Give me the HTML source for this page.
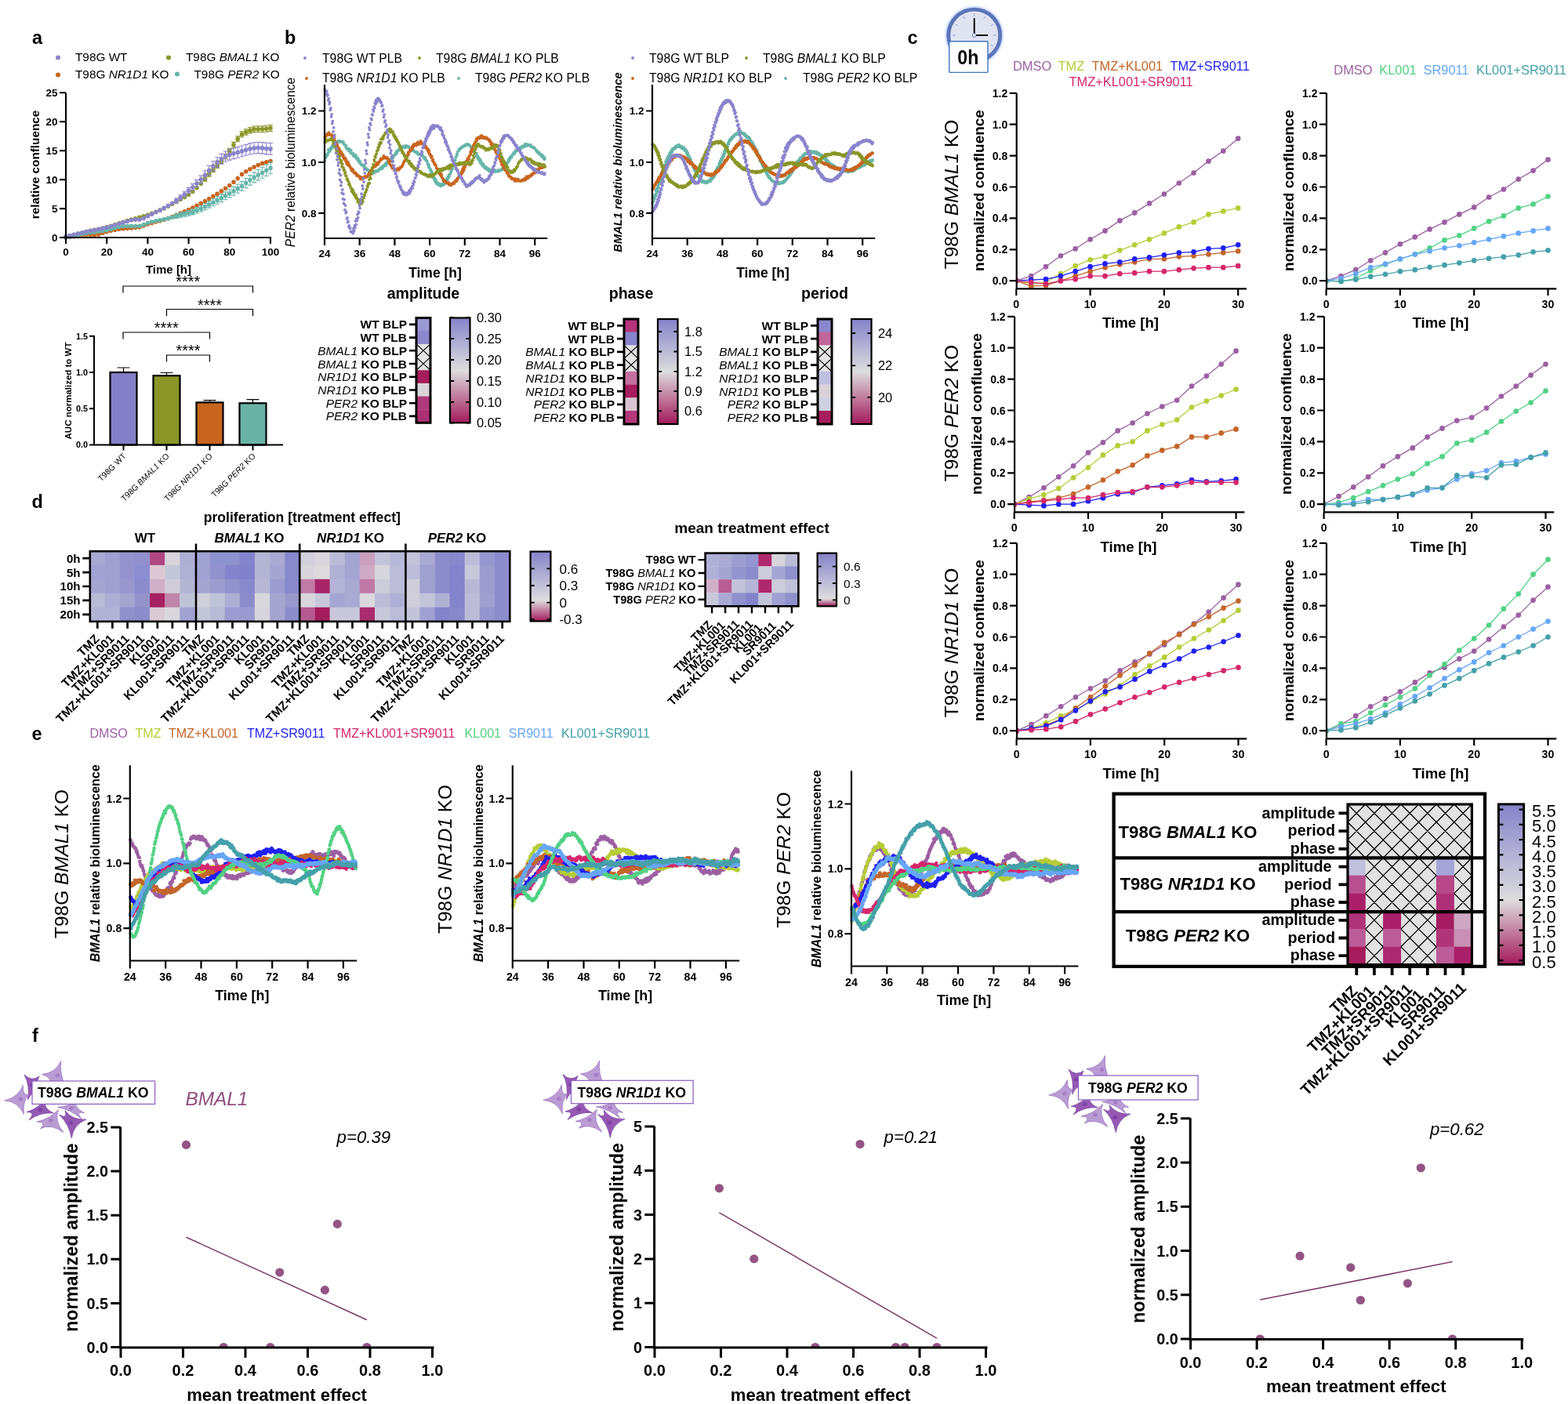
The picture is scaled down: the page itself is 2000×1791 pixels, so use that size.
<!DOCTYPE html>
<html lang="en"><head><meta charset="utf-8"><title>Figure</title>
<style>html,body{margin:0;padding:0;background:#fff}svg{display:block}text{font-family:"Liberation Sans",Arial,Helvetica,sans-serif;white-space:pre}.b{font-weight:700}.i{font-style:italic}</style></head>
<body>
<svg xmlns="http://www.w3.org/2000/svg" width="2000" height="1791" viewBox="0 0 2000 1791">
<defs><linearGradient id="g1" x1="0" y1="0" x2="0" y2="1"><stop offset="0" stop-color="#8682ca"/><stop offset="0.5" stop-color="#dddddd"/><stop offset="1" stop-color="#a31a5b"/></linearGradient><filter id="blur" x="-20%" y="-20%" width="140%" height="140%"><feGaussianBlur stdDeviation="1.6"/></filter><linearGradient id="g2" x1="0" y1="0" x2="0" y2="1"><stop offset="0" stop-color="#8682ca"/><stop offset="0.7" stop-color="#dddddd"/><stop offset="1" stop-color="#a31a5b"/></linearGradient><linearGradient id="g3" x1="0" y1="0" x2="0" y2="1"><stop offset="0" stop-color="#8682ca"/><stop offset="0.86" stop-color="#dddddd"/><stop offset="1" stop-color="#a31a5b"/></linearGradient><linearGradient id="g4" x1="0" y1="0" x2="0" y2="1"><stop offset="0" stop-color="#8682ca"/><stop offset="0.6" stop-color="#dddddd"/><stop offset="1" stop-color="#a31a5b"/></linearGradient></defs>
<rect width="2000" height="1791" fill="#fff"/>
<!-- panel a -->
<text x="41" y="55.5" class="b" font-size="23.5">a</text>
<circle cx="74" cy="73.5" r="3" fill="#8a84cc"/>
<text x="96" y="78.3" font-size="15.35">T98G WT</text>
<circle cx="74" cy="95.5" r="3" fill="#c8651f"/>
<text x="96" y="100" font-size="15.35"><tspan>T98G </tspan><tspan class="i">NR1D1</tspan><tspan> KO</tspan></text>
<circle cx="215" cy="73.5" r="3" fill="#8a9627"/>
<text x="237" y="78.3" font-size="15.35"><tspan>T98G </tspan><tspan class="i">BMAL1</tspan><tspan> KO</tspan></text>
<circle cx="226" cy="94.5" r="3" fill="#66b5a9"/>
<text x="247.5" y="100" font-size="15.35"><tspan>T98G </tspan><tspan class="i">PER2</tspan><tspan> KO</tspan></text>
<path d="M261.5 225.7V231.1M258.5 225.7h6M258.5 231.1h6M266.7 219.7V225.2M263.7 219.7h6M263.7 225.2h6M271.9 214V219.8M268.9 214h6M268.9 219.8h6M277.1 208.4V214.4M274.1 208.4h6M274.1 214.4h6M282.4 202.3V208.6M279.4 202.3h6M279.4 208.6h6M287.6 196.3V202.8M284.6 196.3h6M284.6 202.8h6M292.8 189.6V196.2M289.8 189.6h6M289.8 196.2h6M298 181.4V188.2M295 181.4h6M295 188.2h6M303.2 173.9V180.8M300.2 173.9h6M300.2 180.8h6M308.5 167.9V175M305.5 167.9h6M305.5 175h6M313.7 164.9V172.1M310.7 164.9h6M310.7 172.1h6M318.9 162.5V169.9M315.9 162.5h6M315.9 169.9h6M324.1 161V168.6M321.1 161h6M321.1 168.6h6M329.3 160.9V168.5M326.3 160.9h6M326.3 168.5h6M334.6 160.9V168.7M331.6 160.9h6M331.6 168.7h6M339.8 160.3V168.3M336.8 160.3h6M336.8 168.3h6M345 159.3V167.4M342 159.3h6M342 167.4h6" fill="none" stroke="#8a9627" stroke-width="1.1"/>
<path d="M84 302.3h0M89.2 300.9h0M94.4 299.5h0M99.7 298.1h0M104.9 296.8h0M110.1 295.6h0M115.3 294.4h0M120.5 293.3h0M125.8 292.2h0M131 291h0M136.2 289.7h0M141.4 288.2h0M146.6 286.6h0M151.9 284.9h0M157.1 283.2h0M162.3 281.6h0M167.5 280.1h0M172.7 278.7h0M178 277.3h0M183.2 275.8h0M188.4 274.2h0M193.6 272.4h0M198.8 270.3h0M204.1 268.1h0M209.3 265.7h0M214.5 263.1h0M219.7 260.2h0M224.9 257.2h0M230.2 254.2h0M235.4 251.4h0M240.6 248.3h0M245.8 244.3h0M251 239.6h0M256.3 234.3h0M261.5 228.4h0M266.7 222.4h0M271.9 216.9h0M277.1 211.4h0M282.4 205.5h0M287.6 199.5h0M292.8 192.9h0M298 184.8h0M303.2 177.4h0M308.5 171.5h0M313.7 168.5h0M318.9 166.2h0M324.1 164.8h0M329.3 164.7h0M334.6 164.8h0M339.8 164.3h0M345 163.3h0" stroke="#8a9627" stroke-width="5.6" stroke-linecap="round" fill="none"/>
<path d="M84 303h0M89.2 302.3h0M94.4 301.6h0M99.7 300.8h0M104.9 299.8h0M110.1 299.3h0M115.3 299.5h0M120.5 299.7h0M125.8 298.9h0M131 297.3h0M136.2 295.6h0M141.4 294.3h0M146.6 293.2h0M151.9 292.3h0M157.1 291.7h0M162.3 291.2h0M167.5 290.9h0M172.7 290.5h0M178 289.7h0M183.2 288h0M188.4 286h0M193.6 284.4h0M198.8 283h0M204.1 281.7h0M209.3 280.3h0M214.5 278.6h0M219.7 276.6h0M224.9 274.3h0M230.2 272h0M235.4 269.8h0M240.6 267.5h0M245.8 265h0M251 262.3h0M256.3 259.4h0M261.5 256.5h0M266.7 253.5h0M271.9 250.4h0M277.1 247.2h0M282.4 243.9h0M287.6 240.3h0M292.8 236.5h0M298 232.3h0M303.2 227.6h0M308.5 222.4h0M313.7 218.7h0M318.9 215.8h0M324.1 213.1h0M329.3 210.6h0M334.6 208.4h0M339.8 206.7h0M345 205.5h0" stroke="#c8651f" stroke-width="5.6" stroke-linecap="round" fill="none"/>
<path d="M224.9 272.8V278.4M221.9 272.8h6M221.9 278.4h6M230.2 271.2V277.1M227.2 271.2h6M227.2 277.1h6M235.4 270V276.2M232.4 270h6M232.4 276.2h6M240.6 268.6V275.3M237.6 268.6h6M237.6 275.3h6M245.8 266.8V273.9M242.8 266.8h6M242.8 273.9h6M251 264.6V272M248 264.6h6M248 272h6M256.3 262.2V269.9M253.3 262.2h6M253.3 269.9h6M261.5 259.5V267.6M258.5 259.5h6M258.5 267.6h6M266.7 256.6V265.1M263.7 256.6h6M263.7 265.1h6M271.9 253.8V262.7M268.9 253.8h6M268.9 262.7h6M277.1 250.9V260.2M274.1 250.9h6M274.1 260.2h6M282.4 247.9V257.6M279.4 247.9h6M279.4 257.6h6M287.6 244.9V254.8M284.6 244.9h6M284.6 254.8h6M292.8 241.7V252M289.8 241.7h6M289.8 252h6M298 238.4V249.2M295 238.4h6M295 249.2h6M303.2 235V246.2M300.2 235h6M300.2 246.2h6M308.5 231.4V243.1M305.5 231.4h6M305.5 243.1h6M313.7 227.5V239.6M310.7 227.5h6M310.7 239.6h6M318.9 223.6V236.1M315.9 223.6h6M315.9 236.1h6M324.1 219.9V232.9M321.1 219.9h6M321.1 232.9h6M329.3 216.5V229.9M326.3 216.5h6M326.3 229.9h6M334.6 213.3V227.2M331.6 213.3h6M331.6 227.2h6M339.8 210.1V224.5M336.8 210.1h6M336.8 224.5h6M345 206.9V221.7M342 206.9h6M342 221.7h6" fill="none" stroke="#66b5a9" stroke-width="1.1"/>
<path d="M84 303h0M89.2 301.8h0M94.4 300.6h0M99.7 299.4h0M104.9 298.4h0M110.1 297.5h0M115.3 296.6h0M120.5 295.9h0M125.8 295.2h0M131 294.4h0M136.2 293.4h0M141.4 292.2h0M146.6 290.8h0M151.9 289.5h0M157.1 288.6h0M162.3 288.2h0M167.5 288.4h0M172.7 288.5h0M178 288.2h0M183.2 286.6h0M188.4 284.5h0M193.6 283h0M198.8 281.8h0M204.1 280.8h0M209.3 279.8h0M214.5 278.6h0M219.7 277.2h0M224.9 275.6h0M230.2 274.2h0M235.4 273.1h0M240.6 272h0M245.8 270.4h0M251 268.3h0M256.3 266.1h0M261.5 263.5h0M266.7 260.9h0M271.9 258.2h0M277.1 255.5h0M282.4 252.7h0M287.6 249.8h0M292.8 246.8h0M298 243.8h0M303.2 240.6h0M308.5 237.2h0M313.7 233.5h0M318.9 229.8h0M324.1 226.4h0M329.3 223.2h0M334.6 220.2h0M339.8 217.3h0M345 214.3h0" stroke="#66b5a9" stroke-width="5.6" stroke-linecap="round" fill="none"/>
<path d="M224.9 253V258.6M221.9 253h6M221.9 258.6h6M230.2 248.9V255.1M227.2 248.9h6M227.2 255.1h6M235.4 244.3V251.1M232.4 244.3h6M232.4 251.1h6M240.6 239.4V246.8M237.6 239.4h6M237.6 246.8h6M245.8 234.6V242.8M242.8 234.6h6M242.8 242.8h6M251 229.6V238.7M248 229.6h6M248 238.7h6M256.3 224.1V234.1M253.3 224.1h6M253.3 234.1h6M261.5 217.8V228.7M258.5 217.8h6M258.5 228.7h6M266.7 211.4V223.2M263.7 211.4h6M263.7 223.2h6M271.9 205.7V217.9M268.9 205.7h6M268.9 217.9h6M277.1 200.7V213.1M274.1 200.7h6M274.1 213.1h6M282.4 196.4V209.1M279.4 196.4h6M279.4 209.1h6M287.6 193V206M284.6 193h6M284.6 206h6M292.8 190.8V204.1M289.8 190.8h6M289.8 204.1h6M298 189.1V202.6M295 189.1h6M295 202.6h6M303.2 187.6V201.2M300.2 187.6h6M300.2 201.2h6M308.5 186V199.8M305.5 186h6M305.5 199.8h6M313.7 184.4V198.3M310.7 184.4h6M310.7 198.3h6M318.9 182.9V197M315.9 182.9h6M315.9 197h6M324.1 181.8V196M321.1 181.8h6M321.1 196h6M329.3 181.3V195.6M326.3 181.3h6M326.3 195.6h6M334.6 181.6V196.1M331.6 181.6h6M331.6 196.1h6M339.8 182.2V196.9M336.8 182.2h6M336.8 196.9h6M345 182.5V197.3M342 182.5h6M342 197.3h6" fill="none" stroke="#8a84cc" stroke-width="1.1"/>
<path d="M84 301.9h0M89.2 300.6h0M94.4 299.3h0M99.7 298h0M104.9 296.8h0M110.1 295.6h0M115.3 294.5h0M120.5 293.5h0M125.8 292.4h0M131 291.3h0M136.2 290.1h0M141.4 288.7h0M146.6 287.1h0M151.9 285.5h0M157.1 283.9h0M162.3 282.3h0M167.5 280.8h0M172.7 280.1h0M178 280.1h0M183.2 278.4h0M188.4 275.7h0M193.6 273.2h0M198.8 270.8h0M204.1 268.3h0M209.3 265.4h0M214.5 262.4h0M219.7 259.2h0M224.9 255.8h0M230.2 252h0M235.4 247.7h0M240.6 243.1h0M245.8 238.7h0M251 234.1h0M256.3 229.1h0M261.5 223.3h0M266.7 217.3h0M271.9 211.8h0M277.1 206.9h0M282.4 202.8h0M287.6 199.5h0M292.8 197.4h0M298 195.8h0M303.2 194.4h0M308.5 192.9h0M313.7 191.3h0M318.9 189.9h0M324.1 188.9h0M329.3 188.5h0M334.6 188.9h0M339.8 189.6h0M345 189.9h0" stroke="#8a84cc" stroke-width="5.6" stroke-linecap="round" fill="none"/>
<path d="M84 118.5V304.1M83 303H346M84 303v8M136.2 303v8M188.4 303v8M240.6 303v8M292.8 303v8M345 303v8M84 303h-8M84 266.1h-8M84 229.1h-8M84 192.2h-8M84 155.2h-8M84 118.2h-8" fill="none" stroke="#000" stroke-width="2.1"/>
<text x="84" y="326" text-anchor="middle" class="b" font-size="13.5">0</text>
<text x="136.2" y="326" text-anchor="middle" class="b" font-size="13.5">20</text>
<text x="188.4" y="326" text-anchor="middle" class="b" font-size="13.5">40</text>
<text x="240.6" y="326" text-anchor="middle" class="b" font-size="13.5">60</text>
<text x="292.8" y="326" text-anchor="middle" class="b" font-size="13.5">80</text>
<text x="345" y="326" text-anchor="middle" class="b" font-size="13.5">100</text>
<text x="73.5" y="307.8" text-anchor="end" class="b" font-size="13.5">0</text>
<text x="73.5" y="270.9" text-anchor="end" class="b" font-size="13.5">5</text>
<text x="73.5" y="233.9" text-anchor="end" class="b" font-size="13.5">10</text>
<text x="73.5" y="197" text-anchor="end" class="b" font-size="13.5">15</text>
<text x="73.5" y="160" text-anchor="end" class="b" font-size="13.5">20</text>
<text x="73.5" y="123.1" text-anchor="end" class="b" font-size="13.5">25</text>
<text x="215" y="348.5" text-anchor="middle" class="b" font-size="15">Time [h]</text>
<text transform="translate(50 210) rotate(-90)" text-anchor="middle" class="b" font-size="15.3">relative confluence</text>
<path d="M157.5 475V469M149.5 469h16" fill="none" stroke="#000" stroke-width="1.2"/>
<rect x="140.5" y="475" width="34" height="92.5" fill="#8480c8" stroke="#000" stroke-width="2.2"/>
<path d="M212.5 479.2V475.5M204.5 475.5h16" fill="none" stroke="#000" stroke-width="1.2"/>
<rect x="195.5" y="479.2" width="34" height="88.3" fill="#8a9627" stroke="#000" stroke-width="2.2"/>
<path d="M267.5 513.4V510.6M259.5 510.6h16" fill="none" stroke="#000" stroke-width="1.2"/>
<rect x="250.5" y="513.4" width="34" height="54.1" fill="#c8651f" stroke="#000" stroke-width="2.2"/>
<path d="M322.5 514.3V509.7M314.5 509.7h16" fill="none" stroke="#000" stroke-width="1.2"/>
<rect x="305.5" y="514.3" width="34" height="53.2" fill="#69b3a6" stroke="#000" stroke-width="2.2"/>
<path d="M120 428V568.5M119 567.5H361M121 567.5h-7M121 521.2h-7M121 475h-7M121 428.8h-7M157.5 567.5v7M212.5 567.5v7M267.5 567.5v7M322.5 567.5v7" fill="none" stroke="#000" stroke-width="2"/>
<text x="112" y="571.4" text-anchor="end" class="b" font-size="10.8">0.0</text>
<text x="112" y="525.1" text-anchor="end" class="b" font-size="10.8">0.5</text>
<text x="112" y="478.9" text-anchor="end" class="b" font-size="10.8">1.0</text>
<text x="112" y="432.6" text-anchor="end" class="b" font-size="10.8">1.5</text>
<text transform="translate(90.5 498.5) rotate(-90)" text-anchor="middle" class="b" font-size="11.5">AUC normalized to WT</text>
<text transform="translate(161.5 582.5) rotate(-45)" text-anchor="end" font-size="10.5">T98G WT</text>
<text transform="translate(216.5 582.5) rotate(-45)" text-anchor="end" font-size="10.5"><tspan>T98G </tspan><tspan class="i">BMAL1</tspan><tspan> KO</tspan></text>
<text transform="translate(271.5 582.5) rotate(-45)" text-anchor="end" font-size="10.5"><tspan>T98G </tspan><tspan class="i">NR1D1</tspan><tspan> KO</tspan></text>
<text transform="translate(326.5 582.5) rotate(-45)" text-anchor="end" font-size="10.5"><tspan>T98G </tspan><tspan class="i">PER2</tspan><tspan> KO</tspan></text>
<path d="M157 373.5V365H322.5V373.5" fill="none" stroke="#000" stroke-width="1.2"/>
<text x="239.8" y="366.2" text-anchor="middle" font-size="20">****</text>
<path d="M212.5 403V394.5H322.5V403" fill="none" stroke="#000" stroke-width="1.2"/>
<text x="267.5" y="395.7" text-anchor="middle" font-size="20">****</text>
<path d="M157 432.5V424H267.5V432.5" fill="none" stroke="#000" stroke-width="1.2"/>
<text x="212.2" y="425.2" text-anchor="middle" font-size="20">****</text>
<path d="M212.5 461.5V453H267.5V461.5" fill="none" stroke="#000" stroke-width="1.2"/>
<text x="240" y="454.2" text-anchor="middle" font-size="20">****</text>
<!-- panel b -->
<text x="363" y="56" class="b" font-size="23.5">b</text>
<path d="M414.4 204.9h0M415.6 201.3h0M416.9 199.1h0M418.1 197h0M419.4 194.1h0M420.6 193h0M421.9 191.1h0M423.1 187.9h0M424.3 188.5h0M425.6 186.9h0M426.8 184.3h0M428.1 183.8h0M429.3 183.3h0M430.5 181.9h0M431.8 180.9h0M433 180h0M434.3 181.1h0M435.5 180.7h0M436.8 180.9h0M438 180.9h0M439.2 184.3h0M440.5 184.9h0M441.7 186.2h0M443 189.7h0M444.2 189.6h0M445.4 189.9h0M446.7 191.6h0M447.9 191.7h0M449.2 195.3h0M450.4 195.8h0M451.7 196.9h0M452.9 199h0M454.1 198.5h0M455.4 201.7h0M456.6 201.6h0M457.9 204.4h0M459.1 205.8h0M460.3 209.1h0M461.6 210.6h0M462.8 210.2h0M464.1 212.8h0M465.3 213.3h0M466.6 214.6h0M467.8 215.2h0M469 216.3h0M470.3 217.5h0M471.5 220.2h0M472.8 221.5h0M474 220.6h0M475.2 219.7h0M476.5 220.8h0M477.7 219.3h0M479 218.8h0M480.2 218.4h0M481.5 217.7h0M482.7 217h0M483.9 215.7h0M485.2 215.7h0M486.4 214.7h0M487.7 215.1h0M488.9 213.2h0M490.1 211.3h0M491.4 211.1h0M492.6 211.1h0M493.9 208.5h0M495.1 207.5h0M496.4 206.2h0M497.6 205h0M498.8 203.8h0M500.1 201.6h0M501.3 201.6h0M502.6 198.6h0M503.8 197.5h0M505 197h0M506.3 195.2h0M507.5 192.7h0M508.8 191.8h0M510 190.9h0M511.3 188.9h0M512.5 186.9h0M513.7 188h0M515 187.8h0M516.2 187h0M517.5 185.8h0M518.7 186.2h0M519.9 186.4h0M521.2 187.1h0M522.4 188.8h0M523.7 189.9h0M524.9 190.7h0M526.2 191.6h0M527.4 192.6h0M528.6 193h0M529.9 194h0M531.1 193.7h0M532.4 194.4h0M533.6 197h0M534.8 196.7h0M536.1 196.3h0M537.3 196.8h0M538.6 197.5h0M539.8 199.5h0M541.1 200.4h0M542.3 200.9h0M543.5 204.2h0M544.8 205.6h0M546 209h0M547.3 210.8h0M548.5 214.8h0M549.7 216.6h0M551 219.7h0M552.2 222.9h0M553.5 225.8h0M554.7 228h0M556 228.8h0M557.2 232.1h0M558.4 233.5h0M559.7 234.5h0M560.9 234.6h0M562.2 237.4h0M563.4 236.6h0M564.6 236h0M565.9 235.9h0M567.1 234.5h0M568.4 232.9h0M569.6 231.4h0M570.9 229h0M572.1 227h0M573.3 224.4h0M574.6 221.2h0M575.8 218h0M577.1 215.4h0M578.3 211.9h0M579.5 208.7h0M580.8 204.3h0M582 199.7h0M583.3 197.2h0M584.5 193.1h0M585.8 190.1h0M587 190.1h0M588.2 188.1h0M589.5 188.1h0M590.7 187.1h0M592 186h0M593.2 184.8h0M594.4 184.2h0M595.7 184.3h0M596.9 184.4h0M598.2 185.3h0M599.4 185.8h0M600.7 188.2h0M601.9 187.9h0M603.1 190.3h0M604.4 192h0M605.6 193.9h0M606.9 195.8h0M608.1 195.3h0M609.3 198.9h0M610.6 201.1h0M611.8 203.2h0M613.1 204.2h0M614.3 207.1h0M615.6 210.3h0M616.8 209.3h0M618 212.2h0M619.3 213.7h0M620.5 213.4h0M621.8 215.4h0M623 215.2h0M624.2 215.8h0M625.5 216.7h0M626.7 217.5h0M628 218.1h0M629.2 218.9h0M630.5 217.4h0M631.7 218.3h0M632.9 218.7h0M634.2 218.3h0M635.4 216.8h0M636.7 217.9h0M637.9 217.3h0M639.1 217.2h0M640.4 216h0M641.6 216h0M642.9 213.9h0M644.1 211.3h0M645.4 210h0M646.6 210.1h0M647.8 206.9h0M649.1 205.8h0M650.3 203.3h0M651.6 201.2h0M652.8 200.6h0M654 197.2h0M655.3 194.7h0M656.5 196h0M657.8 191.8h0M659 192.7h0M660.3 191.8h0M661.5 190.4h0M662.7 188.2h0M664 189.3h0M665.2 187.1h0M666.5 186.5h0M667.7 186.5h0M668.9 186.7h0M670.2 186h0M671.4 186h0M672.7 185h0M673.9 185h0M675.2 184.7h0M676.4 186h0M677.6 187h0M678.9 187.3h0M680.1 188.5h0M681.4 188.7h0M682.6 189.8h0M683.8 191.8h0M685.1 192.4h0M686.3 194.1h0M687.6 194.5h0M688.8 197.1h0M690.1 196.7h0M691.3 198.1h0M692.5 198.6h0M693.8 200.5h0M695 202h0M415 199.9h0M416.3 197.7h0M417.5 196.2h0M418.7 190.9h0M420 190.9h0M421.2 189.5h0M422.5 187.8h0M423.7 185.8h0M425 183.9h0M426.2 182.9h0M427.4 183.7h0M428.7 182.9h0M429.9 181.5h0M431.2 179.8h0M432.4 180.3h0M433.6 179.9h0M434.9 180.6h0M436.1 180.8h0M437.4 181.9h0M438.6 183.7h0M439.9 184.9h0M441.1 188.1h0M442.3 190h0M443.6 189.9h0M444.8 192.4h0M446.1 192.8h0M447.3 195.2h0M448.5 195.8h0M449.8 196.8h0M451 199.1h0M452.3 199.4h0M453.5 200.9h0M454.8 202.1h0M456 203.9h0M457.2 205.2h0M458.5 207.6h0M459.7 208.4h0M461 210.3h0M462.2 210.9h0M463.4 210.9h0M464.7 211.5h0M465.9 214.1h0M467.2 216.1h0M468.4 217h0M469.7 217.2h0M470.9 219.3h0M472.1 220.5h0M473.4 218.3h0M474.6 220.1h0M475.9 219.1h0M477.1 219h0M478.3 219.8h0M479.6 217.7h0M480.8 218.1h0M482.1 218.5h0M483.3 217.1h0M484.6 216h0M485.8 213.9h0M487 213.5h0M488.3 211.6h0M489.5 212.3h0M490.8 209.9h0M492 208.3h0M493.2 207.1h0M494.5 205.9h0M495.7 204.7h0M497 203.3h0M498.2 203.7h0M499.5 200.5h0M500.7 199.1h0M501.9 198.2h0M503.2 197.7h0M504.4 195.7h0M505.7 193h0M506.9 192.4h0M508.1 191.1h0M509.4 190.2h0M510.6 189.3h0M511.9 187.9h0M513.1 187.3h0M514.4 187.3h0M515.6 186.3h0M516.8 188.5h0M518.1 187.7h0M519.3 186.7h0M520.6 187.4h0M521.8 187.8h0M523 188.8h0M524.3 190.6h0M525.5 190.3h0M526.8 190.7h0M528 193h0M529.3 193.4h0M530.5 194.4h0M531.7 195.5h0M533 195.7h0M534.2 197h0M535.5 196.3h0M536.7 198h0M537.9 198.4h0M539.2 199h0M540.4 201.3h0M541.7 203.1h0M542.9 203.2h0M544.2 205.8h0M545.4 209.4h0M546.6 212.9h0M547.9 214.6h0M549.1 218.1h0M550.4 220.3h0M551.6 226h0M552.8 227h0M554.1 230h0M555.3 232.1h0M556.6 233.8h0M557.8 235h0M559.1 235h0M560.3 236.2h0M561.5 235.8h0M562.8 236.7h0M564 234.8h0M565.3 233.8h0M566.5 233.3h0M567.7 232.2h0M569 229.6h0M570.2 227.1h0M571.5 225.4h0M572.7 223h0M574 221.9h0M575.2 218.3h0M576.4 215.4h0M577.7 211.1h0M578.9 207.2h0M580.2 204.7h0M581.4 201h0M582.6 196.6h0M583.9 193.4h0M585.1 192.3h0M586.4 190h0M587.6 189.4h0M588.9 187.7h0M590.1 186.5h0M591.3 186.7h0M592.6 185.6h0M593.8 185.9h0M595.1 183.9h0M596.3 184.4h0M597.5 184.1h0M598.8 185.2h0M600 186.6h0M601.3 189.5h0M602.5 189.6h0M603.8 193h0M605 194.8h0M606.2 195.6h0M607.5 199.3h0M608.7 200.5h0M610 203.2h0M611.2 204.6h0M612.4 207.5h0M613.7 208h0M614.9 210.7h0M616.2 211.9h0M617.4 213h0M618.7 214.4h0M619.9 215.2h0M621.1 215.8h0M622.4 216.9h0M623.6 218h0M624.9 216.8h0M626.1 218.4h0M627.3 218.4h0M628.6 217.6h0M629.8 218.5h0M631.1 216.9h0M632.3 219.2h0M633.6 218.3h0M634.8 218.1h0M636 218.7h0M637.3 217.4h0M638.5 217.3h0M639.8 215.9h0M641 214.8h0M642.2 212.8h0M643.5 211.7h0M644.7 210.8h0M646 208.5h0M647.2 207.2h0M648.5 203.9h0M649.7 202.1h0M650.9 200.2h0M652.2 199.4h0M653.4 197.7h0M654.7 196.6h0M655.9 195.5h0M657.1 193.6h0M658.4 192.5h0M659.6 192.7h0M660.9 190.5h0M662.1 190.4h0M663.4 190.7h0M664.6 189.2h0M665.8 188.3h0M667.1 186.3h0M668.3 187.3h0M669.6 184h0M670.8 184.2h0M672 183.9h0M673.3 185.7h0M674.5 185.1h0M675.8 184.8h0M677 184.8h0M678.3 187.1h0M679.5 187.9h0M680.7 188h0M682 189.1h0M683.2 190.7h0M684.5 193h0M685.7 194.2h0M686.9 195.4h0M688.2 196.8h0M689.4 196.8h0M690.7 199.5h0M691.9 200.3h0M693.2 201.7h0M694.4 203.3h0" stroke="#66b5a9" stroke-width="3.8" stroke-linecap="round" fill="none"/>
<path d="M414.4 175.5h0M415.6 174.6h0M416.9 171.2h0M418.1 170.4h0M419.4 169.1h0M420.6 172h0M421.9 171.8h0M423.1 172.8h0M424.3 172.9h0M425.6 174.7h0M426.8 176h0M428.1 181.2h0M429.3 182.3h0M430.5 185.4h0M431.8 188.4h0M433 190.2h0M434.3 193.1h0M435.5 194.1h0M436.8 196.4h0M438 198.2h0M439.2 201.2h0M440.5 201.6h0M441.7 204.1h0M443 206.5h0M444.2 207.1h0M445.4 210.2h0M446.7 212.7h0M447.9 214.8h0M449.2 215.5h0M450.4 216.7h0M451.7 219.8h0M452.9 219.9h0M454.1 221.2h0M455.4 222.7h0M456.6 223.6h0M457.9 224.6h0M459.1 226.7h0M460.3 226h0M461.6 226.4h0M462.8 226.7h0M464.1 226.1h0M465.3 226.6h0M466.6 226.2h0M467.8 225.3h0M469 224.3h0M470.3 223.3h0M471.5 222.8h0M472.8 220.9h0M474 216.5h0M475.2 217.8h0M476.5 213.5h0M477.7 212.1h0M479 212.2h0M480.2 209.6h0M481.5 210.1h0M482.7 208.8h0M483.9 206.2h0M485.2 203.7h0M486.4 203.5h0M487.7 202.8h0M488.9 200.7h0M490.1 200.9h0M491.4 200.5h0M492.6 201.1h0M493.9 200.9h0M495.1 203.1h0M496.4 204.9h0M497.6 205.5h0M498.8 210.8h0M500.1 210.9h0M501.3 212.9h0M502.6 215.3h0M503.8 215.9h0M505 216.5h0M506.3 216.3h0M507.5 214.8h0M508.8 216.7h0M510 215h0M511.3 213.4h0M512.5 212.6h0M513.7 210.1h0M515 206.6h0M516.2 205h0M517.5 203.3h0M518.7 201.3h0M519.9 198.9h0M521.2 196.8h0M522.4 193.3h0M523.7 192.7h0M524.9 190.2h0M526.2 190h0M527.4 187.1h0M528.6 184.6h0M529.9 184.8h0M531.1 185.7h0M532.4 184.1h0M533.6 182.7h0M534.8 184.1h0M536.1 182.3h0M537.3 182.1h0M538.6 183.9h0M539.8 184.2h0M541.1 184.9h0M542.3 185.7h0M543.5 186.9h0M544.8 189.5h0M546 189.8h0M547.3 192.5h0M548.5 196.4h0M549.7 200h0M551 199.6h0M552.2 203.4h0M553.5 207h0M554.7 208.8h0M556 211.1h0M557.2 214.7h0M558.4 215.6h0M559.7 218h0M560.9 220.1h0M562.2 221.4h0M563.4 223.2h0M564.6 227.4h0M565.9 229.6h0M567.1 230.1h0M568.4 231.3h0M569.6 233.1h0M570.9 233.4h0M572.1 232.9h0M573.3 234.3h0M574.6 235.6h0M575.8 235.1h0M577.1 233.7h0M578.3 233.1h0M579.5 234h0M580.8 231h0M582 231.4h0M583.3 229.9h0M584.5 227.1h0M585.8 225.5h0M587 224.2h0M588.2 222.7h0M589.5 220.7h0M590.7 219h0M592 216.4h0M593.2 213.3h0M594.4 210.1h0M595.7 206.9h0M596.9 204.8h0M598.2 202.6h0M599.4 197.8h0M600.7 196.6h0M601.9 193.4h0M603.1 190.2h0M604.4 185.8h0M605.6 183.5h0M606.9 181.1h0M608.1 179.4h0M609.3 175.6h0M610.6 175.5h0M611.8 175h0M613.1 173.7h0M614.3 173h0M615.6 174.5h0M616.8 176.4h0M618 174.9h0M619.3 175.3h0M620.5 175.5h0M621.8 176.9h0M623 177.8h0M624.2 178.2h0M625.5 180.5h0M626.7 182.4h0M628 182.9h0M629.2 186.1h0M630.5 189h0M631.7 191.2h0M632.9 192.9h0M634.2 196.4h0M635.4 197.9h0M636.7 199.6h0M637.9 201.2h0M639.1 204.9h0M640.4 207.6h0M641.6 209.9h0M642.9 212.4h0M644.1 215.8h0M645.4 217.7h0M646.6 220.7h0M647.8 220.7h0M649.1 223.3h0M650.3 225.7h0M651.6 225.6h0M652.8 228.3h0M654 227.4h0M655.3 228.2h0M656.5 230.8h0M657.8 228.3h0M659 230.8h0M660.3 229.3h0M661.5 229.7h0M662.7 230.6h0M664 230.6h0M665.2 230.9h0M666.5 230.2h0M667.7 228.8h0M668.9 227.8h0M670.2 227.7h0M671.4 225.2h0M672.7 226.3h0M673.9 225.1h0M675.2 225.6h0M676.4 225h0M677.6 222.4h0M678.9 223.4h0M680.1 221.5h0M681.4 220.6h0M682.6 220.7h0M683.8 219.7h0M685.1 218.7h0M686.3 217.1h0M687.6 216h0M688.8 214.3h0M690.1 214.2h0M691.3 214.2h0M692.5 212.8h0M693.8 212.3h0M695 212.9h0M415 174.2h0M416.3 172.7h0M417.5 172.4h0M418.7 171.9h0M420 171.7h0M421.2 171.5h0M422.5 171.6h0M423.7 174.6h0M425 175.5h0M426.2 178.9h0M427.4 180.1h0M428.7 184h0M429.9 187.6h0M431.2 190.3h0M432.4 192.3h0M433.6 194.8h0M434.9 197.1h0M436.1 197.5h0M437.4 199.9h0M438.6 202.6h0M439.9 203.8h0M441.1 206h0M442.3 209.1h0M443.6 210.5h0M444.8 210.2h0M446.1 212.6h0M447.3 214.7h0M448.5 217.7h0M449.8 216.7h0M451 219.8h0M452.3 220.9h0M453.5 221.5h0M454.8 223.9h0M456 224.3h0M457.2 224.5h0M458.5 226.1h0M459.7 228.4h0M461 227.2h0M462.2 228.6h0M463.4 227.2h0M464.7 225.6h0M465.9 224.9h0M467.2 226h0M468.4 225.4h0M469.7 222.5h0M470.9 220.8h0M472.1 219.1h0M473.4 217.3h0M474.6 215.7h0M475.9 213.8h0M477.1 212.5h0M478.3 210.8h0M479.6 209.5h0M480.8 207.6h0M482.1 207.4h0M483.3 206.8h0M484.6 205h0M485.8 202.5h0M487 202.3h0M488.3 201.8h0M489.5 198.9h0M490.8 201.7h0M492 201.9h0M493.2 201.7h0M494.5 202h0M495.7 206.3h0M497 208.9h0M498.2 210.8h0M499.5 212.9h0M500.7 214.9h0M501.9 214.9h0M503.2 216.8h0M504.4 217.4h0M505.7 216.7h0M506.9 215.4h0M508.1 217.1h0M509.4 215.4h0M510.6 213.2h0M511.9 212.9h0M513.1 211.9h0M514.4 208.8h0M515.6 206.5h0M516.8 204.2h0M518.1 200h0M519.3 198h0M520.6 194.5h0M521.8 193.6h0M523 190.8h0M524.3 190.4h0M525.5 187.3h0M526.8 185.1h0M528 183.8h0M529.3 185.3h0M530.5 184h0M531.7 182.6h0M533 181.5h0M534.2 182.2h0M535.5 181.5h0M536.7 180h0M537.9 182.1h0M539.2 183.7h0M540.4 185h0M541.7 186.7h0M542.9 188.7h0M544.2 189.5h0M545.4 191.9h0M546.6 194.3h0M547.9 197h0M549.1 197.9h0M550.4 201.3h0M551.6 204.8h0M552.8 206.4h0M554.1 209.5h0M555.3 210.5h0M556.6 214.2h0M557.8 217.1h0M559.1 219.3h0M560.3 221.4h0M561.5 222.8h0M562.8 224.8h0M564 227h0M565.3 230.1h0M566.5 231.3h0M567.7 231.8h0M569 233.1h0M570.2 233.5h0M571.5 233.5h0M572.7 235.7h0M574 235.8h0M575.2 236.4h0M576.4 235.1h0M577.7 234.7h0M578.9 233.8h0M580.2 231.5h0M581.4 231.2h0M582.6 228.5h0M583.9 227.4h0M585.1 224.9h0M586.4 222.7h0M587.6 221.3h0M588.9 218.5h0M590.1 215.5h0M591.3 213.1h0M592.6 210.8h0M593.8 208.9h0M595.1 205.3h0M596.3 202.5h0M597.5 200.8h0M598.8 199.1h0M600 194h0M601.3 191.4h0M602.5 189.1h0M603.8 185.4h0M605 183.4h0M606.2 180.8h0M607.5 177.1h0M608.7 177.2h0M610 175.4h0M611.2 176.7h0M612.4 175.2h0M613.7 175.8h0M614.9 175.5h0M616.2 175.2h0M617.4 174.9h0M618.7 176h0M619.9 176.9h0M621.1 176.8h0M622.4 177.6h0M623.6 179.3h0M624.9 180.5h0M626.1 183.9h0M627.3 185.1h0M628.6 185.2h0M629.8 189.6h0M631.1 191h0M632.3 194.1h0M633.6 195.3h0M634.8 197.4h0M636 200.4h0M637.3 202.3h0M638.5 205.7h0M639.8 209.5h0M641 211.3h0M642.2 214.2h0M643.5 215.3h0M644.7 217.4h0M646 218.5h0M647.2 221.3h0M648.5 224h0M649.7 225.1h0M650.9 225.8h0M652.2 227.5h0M653.4 228.1h0M654.7 228.3h0M655.9 229.1h0M657.1 228.2h0M658.4 228.7h0M659.6 229.1h0M660.9 228.7h0M662.1 230.8h0M663.4 230.9h0M664.6 230.3h0M665.8 229.6h0M667.1 229.6h0M668.3 228.5h0M669.6 229.9h0M670.8 228.8h0M672 227.8h0M673.3 227.4h0M674.5 224.7h0M675.8 225h0M677 223.9h0M678.3 222.8h0M679.5 221.6h0M680.7 220.4h0M682 217.9h0M683.2 219.2h0M684.5 216.3h0M685.7 216.6h0M686.9 215.3h0M688.2 214.3h0M689.4 213.6h0M690.7 213.2h0M691.9 213.1h0M693.2 213.3h0M694.4 212.5h0" stroke="#c8651f" stroke-width="3.8" stroke-linecap="round" fill="none"/>
<path d="M414.4 181.7h0M415.6 180.9h0M416.9 179.5h0M418.1 179.7h0M419.4 178.9h0M420.6 178.2h0M421.9 176.9h0M423.1 177.4h0M424.3 179h0M425.6 181h0M426.8 184.5h0M428.1 188.5h0M429.3 190.2h0M430.5 193.3h0M431.8 197.2h0M433 199.7h0M434.3 204.3h0M435.5 205.5h0M436.8 209.5h0M438 213.9h0M439.2 216.7h0M440.5 220.1h0M441.7 224.4h0M443 227.9h0M444.2 231.2h0M445.4 233.8h0M446.7 237.5h0M447.9 240h0M449.2 241.5h0M450.4 242.6h0M451.7 246h0M452.9 250.3h0M454.1 249h0M455.4 252.3h0M456.6 254.7h0M457.9 256.8h0M459.1 259.4h0M460.3 260.2h0M461.6 259.3h0M462.8 257.2h0M464.1 252.4h0M465.3 249.2h0M466.6 245.5h0M467.8 242.6h0M469 238.7h0M470.3 235h0M471.5 233.6h0M472.8 227.7h0M474 222.1h0M475.2 217.3h0M476.5 210.2h0M477.7 205.8h0M479 200.8h0M480.2 196.1h0M481.5 192h0M482.7 190.4h0M483.9 186.8h0M485.2 183.5h0M486.4 181.8h0M487.7 177.7h0M488.9 176.9h0M490.1 172.3h0M491.4 169.3h0M492.6 168.9h0M493.9 167.6h0M495.1 167.1h0M496.4 164.7h0M497.6 164.5h0M498.8 165.4h0M500.1 168.9h0M501.3 168.2h0M502.6 171.7h0M503.8 173.8h0M505 175.3h0M506.3 177.9h0M507.5 180.7h0M508.8 182.3h0M510 185.5h0M511.3 188.7h0M512.5 191.6h0M513.7 193.4h0M515 195.7h0M516.2 197.8h0M517.5 200.2h0M518.7 201.5h0M519.9 204.2h0M521.2 205.6h0M522.4 205.7h0M523.7 208.7h0M524.9 209h0M526.2 211.4h0M527.4 212.5h0M528.6 214.5h0M529.9 214.6h0M531.1 215.5h0M532.4 215h0M533.6 218.1h0M534.8 218.2h0M536.1 218.7h0M537.3 220.6h0M538.6 220.9h0M539.8 221.8h0M541.1 222.3h0M542.3 223.1h0M543.5 222.7h0M544.8 223.3h0M546 225.3h0M547.3 225.3h0M548.5 225.1h0M549.7 224.8h0M551 224.6h0M552.2 224.6h0M553.5 222.6h0M554.7 222.2h0M556 220.9h0M557.2 219h0M558.4 219.5h0M559.7 217.8h0M560.9 216h0M562.2 217.6h0M563.4 216.1h0M564.6 217.5h0M565.9 214.5h0M567.1 215.8h0M568.4 214.6h0M569.6 214.8h0M570.9 212.9h0M572.1 215.4h0M573.3 213h0M574.6 214.3h0M575.8 212h0M577.1 210.6h0M578.3 210.5h0M579.5 211.1h0M580.8 208.8h0M582 208.9h0M583.3 209.4h0M584.5 209.1h0M585.8 207.5h0M587 207.8h0M588.2 209.3h0M589.5 207.6h0M590.7 208.5h0M592 207.9h0M593.2 207h0M594.4 207.9h0M595.7 207.1h0M596.9 207.7h0M598.2 207.4h0M599.4 208.7h0M600.7 207.9h0M601.9 208.1h0M603.1 204.7h0M604.4 201.1h0M605.6 195.5h0M606.9 190.3h0M608.1 187.2h0M609.3 185.9h0M610.6 184.5h0M611.8 186h0M613.1 186.5h0M614.3 186.6h0M615.6 187.7h0M616.8 187.5h0M618 189h0M619.3 189.6h0M620.5 189.7h0M621.8 189.9h0M623 191.4h0M624.2 189.5h0M625.5 189h0M626.7 187.9h0M628 189.7h0M629.2 188.8h0M630.5 185.9h0M631.7 184.6h0M632.9 184.9h0M634.2 185.5h0M635.4 186.4h0M636.7 189.6h0M637.9 191.7h0M639.1 196h0M640.4 200.1h0M641.6 203h0M642.9 205.4h0M644.1 207.4h0M645.4 209.5h0M646.6 212.7h0M647.8 213.4h0M649.1 217.2h0M650.3 217.9h0M651.6 220.2h0M652.8 218.6h0M654 220h0M655.3 218.3h0M656.5 218.4h0M657.8 215.6h0M659 213h0M660.3 211.9h0M661.5 208.6h0M662.7 206.3h0M664 204.7h0M665.2 203.2h0M666.5 202h0M667.7 201.2h0M668.9 201.9h0M670.2 202.1h0M671.4 202.4h0M672.7 203.4h0M673.9 203.2h0M675.2 202.9h0M676.4 202.9h0M677.6 204.5h0M678.9 205.4h0M680.1 207.6h0M681.4 206.7h0M682.6 209.1h0M683.8 209.5h0M685.1 208.2h0M686.3 208.7h0M687.6 209.6h0M688.8 209h0M690.1 209.6h0M691.3 210.2h0M692.5 211.5h0M693.8 209.9h0M695 212.2h0M415 179.2h0M416.3 178.5h0M417.5 179.2h0M418.7 179.2h0M420 178.1h0M421.2 177.8h0M422.5 178.3h0M423.7 179h0M425 183h0M426.2 185.1h0M427.4 186.4h0M428.7 191.2h0M429.9 193.3h0M431.2 197.1h0M432.4 200.8h0M433.6 203.4h0M434.9 207.8h0M436.1 212.4h0M437.4 213.9h0M438.6 217.3h0M439.9 221.3h0M441.1 224.4h0M442.3 228.7h0M443.6 230.3h0M444.8 235.3h0M446.1 235.9h0M447.3 239.8h0M448.5 243.7h0M449.8 245.6h0M451 247.6h0M452.3 249.2h0M453.5 251.8h0M454.8 253.3h0M456 257.3h0M457.2 258.1h0M458.5 259.5h0M459.7 259h0M461 257.7h0M462.2 255h0M463.4 252.2h0M464.7 248.4h0M465.9 245.3h0M467.2 241.8h0M468.4 237.2h0M469.7 233.9h0M470.9 229.1h0M472.1 226.1h0M473.4 219.8h0M474.6 213.9h0M475.9 209.8h0M477.1 203.8h0M478.3 199.8h0M479.6 197.2h0M480.8 192.7h0M482.1 188.3h0M483.3 184.7h0M484.6 181.8h0M485.8 177.3h0M487 177.2h0M488.3 174.5h0M489.5 173.5h0M490.8 171.3h0M492 169.3h0M493.2 169.4h0M494.5 166.4h0M495.7 165.9h0M497 165.6h0M498.2 168.7h0M499.5 168.7h0M500.7 169h0M501.9 172.8h0M503.2 175.1h0M504.4 177.2h0M505.7 179.2h0M506.9 180.7h0M508.1 183.2h0M509.4 186h0M510.6 189.1h0M511.9 192.1h0M513.1 194.9h0M514.4 196h0M515.6 198.7h0M516.8 200.6h0M518.1 200.5h0M519.3 205.1h0M520.6 205.6h0M521.8 208.5h0M523 209.1h0M524.3 211.5h0M525.5 212.7h0M526.8 213h0M528 215.3h0M529.3 215.9h0M530.5 217.3h0M531.7 216.9h0M533 217.8h0M534.2 219h0M535.5 219h0M536.7 218.9h0M537.9 221.3h0M539.2 221.6h0M540.4 222.3h0M541.7 221.8h0M542.9 223.6h0M544.2 224.1h0M545.4 223.9h0M546.6 224.9h0M547.9 222.9h0M549.1 223.9h0M550.4 223.6h0M551.6 222.9h0M552.8 222.4h0M554.1 221.8h0M555.3 221.6h0M556.6 219.8h0M557.8 219.5h0M559.1 218.2h0M560.3 218.6h0M561.5 216.1h0M562.8 215.4h0M564 215.9h0M565.3 216.4h0M566.5 214.6h0M567.7 214.6h0M569 215.1h0M570.2 212.7h0M571.5 212.7h0M572.7 211.4h0M574 210.4h0M575.2 210.8h0M576.4 210.1h0M577.7 210.4h0M578.9 211.4h0M580.2 209.5h0M581.4 209.2h0M582.6 210.6h0M583.9 209.4h0M585.1 210.2h0M586.4 209.4h0M587.6 208.4h0M588.9 209.5h0M590.1 208.7h0M591.3 207.4h0M592.6 207h0M593.8 209.4h0M595.1 207.5h0M596.3 208.5h0M597.5 209.2h0M598.8 210h0M600 210h0M601.3 205.2h0M602.5 203.8h0M603.8 198.6h0M605 192.7h0M606.2 187.4h0M607.5 185.1h0M608.7 184.9h0M610 183.7h0M611.2 185.4h0M612.4 186.8h0M613.7 187.7h0M614.9 186.7h0M616.2 186.8h0M617.4 189.4h0M618.7 190h0M619.9 191.8h0M621.1 189.9h0M622.4 191.3h0M623.6 190.4h0M624.9 190h0M626.1 189.4h0M627.3 188.1h0M628.6 187.3h0M629.8 186.8h0M631.1 185.8h0M632.3 185.3h0M633.6 187.1h0M634.8 185.9h0M636 191h0M637.3 195.1h0M638.5 197.8h0M639.8 201.2h0M641 204.4h0M642.2 206.9h0M643.5 207.1h0M644.7 210.6h0M646 213.8h0M647.2 213.6h0M648.5 216.8h0M649.7 218.2h0M650.9 219.1h0M652.2 219.8h0M653.4 218.9h0M654.7 217.7h0M655.9 216.1h0M657.1 216.3h0M658.4 215.1h0M659.6 212.8h0M660.9 208.6h0M662.1 206.7h0M663.4 205.6h0M664.6 204.7h0M665.8 202.5h0M667.1 203h0M668.3 202.3h0M669.6 201.3h0M670.8 200.8h0M672 201.9h0M673.3 204h0M674.5 203.1h0M675.8 203.8h0M677 204.6h0M678.3 207.3h0M679.5 207.7h0M680.7 208.7h0M682 207.9h0M683.2 208.5h0M684.5 208.3h0M685.7 209.9h0M686.9 211.4h0M688.2 209.4h0M689.4 209.5h0M690.7 210.8h0M691.9 211.6h0M693.2 210.8h0M694.4 211.6h0" stroke="#8a9627" stroke-width="3.8" stroke-linecap="round" fill="none"/>
<path d="M414.4 114.3h0M415.6 115.6h0M416.9 116.6h0M418.1 121.1h0M419.4 125.8h0M420.6 130.5h0M421.9 138h0M423.1 145.8h0M424.3 154.7h0M425.6 162.8h0M426.8 172.4h0M428.1 181.9h0M429.3 189.3h0M430.5 199.4h0M431.8 207.6h0M433 216.5h0M434.3 223.5h0M435.5 232.5h0M436.8 241.9h0M438 247.6h0M439.2 254.6h0M440.5 262h0M441.7 270.3h0M443 277.8h0M444.2 282.5h0M445.4 288h0M446.7 290.8h0M447.9 295.2h0M449.2 296.3h0M450.4 297.5h0M451.7 294.7h0M452.9 290.5h0M454.1 286.5h0M455.4 281.2h0M456.6 277.7h0M457.9 271.3h0M459.1 265.6h0M460.3 258.4h0M461.6 251.1h0M462.8 241h0M464.1 232.1h0M465.3 220.8h0M466.6 208.2h0M467.8 196.2h0M469 184.9h0M470.3 175.2h0M471.5 165.8h0M472.8 159h0M474 152.8h0M475.2 146.7h0M476.5 142h0M477.7 137.9h0M479 133.1h0M480.2 131h0M481.5 128.7h0M482.7 127.3h0M483.9 128.6h0M485.2 129.2h0M486.4 131.1h0M487.7 134.6h0M488.9 139.8h0M490.1 146.2h0M491.4 153.8h0M492.6 159.2h0M493.9 166h0M495.1 172.1h0M496.4 179.4h0M497.6 184.6h0M498.8 192.2h0M500.1 198.9h0M501.3 205.4h0M502.6 211.1h0M503.8 215.5h0M505 221.1h0M506.3 225.2h0M507.5 231.2h0M508.8 232.2h0M510 237.2h0M511.3 238.8h0M512.5 242.1h0M513.7 245.9h0M515 247.9h0M516.2 246.5h0M517.5 248.5h0M518.7 248.7h0M519.9 246.8h0M521.2 247.3h0M522.4 246.5h0M523.7 244.1h0M524.9 240.8h0M526.2 239.8h0M527.4 235.8h0M528.6 232h0M529.9 227h0M531.1 223.6h0M532.4 218.9h0M533.6 213.1h0M534.8 209h0M536.1 204.4h0M537.3 197.3h0M538.6 194.3h0M539.8 188.4h0M541.1 185.2h0M542.3 182.7h0M543.5 179.2h0M544.8 176h0M546 173.2h0M547.3 171.7h0M548.5 168.9h0M549.7 165.9h0M551 164.7h0M552.2 162.9h0M553.5 163.7h0M554.7 160.7h0M556 160.4h0M557.2 160.4h0M558.4 160.4h0M559.7 162.1h0M560.9 163.1h0M562.2 163h0M563.4 166.2h0M564.6 168.4h0M565.9 173h0M567.1 176.8h0M568.4 179.1h0M569.6 181.9h0M570.9 185.8h0M572.1 188.7h0M573.3 193.4h0M574.6 196.1h0M575.8 198.9h0M577.1 202h0M578.3 205.8h0M579.5 209.2h0M580.8 210.9h0M582 214.4h0M583.3 218.1h0M584.5 219.7h0M585.8 223.8h0M587 225.8h0M588.2 226.2h0M589.5 227.6h0M590.7 230.2h0M592 232h0M593.2 234.5h0M594.4 237h0M595.7 235.9h0M596.9 236.2h0M598.2 236.3h0M599.4 236.2h0M600.7 234.8h0M601.9 233.8h0M603.1 233h0M604.4 231.1h0M605.6 229.3h0M606.9 228.5h0M608.1 227.2h0M609.3 227.2h0M610.6 226.9h0M611.8 223.9h0M613.1 227.3h0M614.3 227.8h0M615.6 229.7h0M616.8 231.3h0M618 230.1h0M619.3 230.6h0M620.5 230.4h0M621.8 229.1h0M623 228.6h0M624.2 226.7h0M625.5 223.5h0M626.7 222.5h0M628 219.9h0M629.2 215.7h0M630.5 211.2h0M631.7 207.8h0M632.9 204h0M634.2 199.6h0M635.4 195.4h0M636.7 190.6h0M637.9 185.7h0M639.1 182h0M640.4 180.4h0M641.6 177.8h0M642.9 176.3h0M644.1 173.3h0M645.4 172.8h0M646.6 172.4h0M647.8 172.5h0M649.1 174.2h0M650.3 175.6h0M651.6 175.9h0M652.8 176.8h0M654 179.1h0M655.3 180.3h0M656.5 182.9h0M657.8 184.8h0M659 185.6h0M660.3 189.1h0M661.5 189.8h0M662.7 192.5h0M664 195.1h0M665.2 195.6h0M666.5 198.5h0M667.7 200.1h0M668.9 201.4h0M670.2 204.9h0M671.4 206h0M672.7 207.2h0M673.9 207.8h0M675.2 210.4h0M676.4 212.8h0M677.6 213.5h0M678.9 213.6h0M680.1 214.3h0M681.4 216.1h0M682.6 215.8h0M683.8 218.8h0M685.1 219.1h0M686.3 219.8h0M687.6 219h0M688.8 220.4h0M690.1 220.9h0M691.3 219.8h0M692.5 221.3h0M693.8 221.7h0M695 221.2h0M415 116.2h0M416.3 120h0M417.5 122h0M418.7 128h0M420 132.8h0M421.2 140.4h0M422.5 148.9h0M423.7 157.6h0M425 167.9h0M426.2 175.1h0M427.4 184.4h0M428.7 195.2h0M429.9 203.7h0M431.2 211.1h0M432.4 220.8h0M433.6 229.5h0M434.9 236.7h0M436.1 246.1h0M437.4 253.9h0M438.6 259.5h0M439.9 267.7h0M441.1 271.7h0M442.3 279.1h0M443.6 283.5h0M444.8 289.1h0M446.1 291.3h0M447.3 295.7h0M448.5 295.8h0M449.8 294.9h0M451 291.5h0M452.3 287.8h0M453.5 282.1h0M454.8 279.3h0M456 273.6h0M457.2 270.2h0M458.5 262.1h0M459.7 254.5h0M461 247.2h0M462.2 237h0M463.4 227.7h0M464.7 216.1h0M465.9 204.5h0M467.2 192.2h0M468.4 182.1h0M469.7 171.2h0M470.9 163h0M472.1 157.4h0M473.4 151.3h0M474.6 146.1h0M475.9 140.2h0M477.1 136.3h0M478.3 131h0M479.6 127.7h0M480.8 126.9h0M482.1 125.3h0M483.3 126.1h0M484.6 128.1h0M485.8 131.1h0M487 135.2h0M488.3 142h0M489.5 149.4h0M490.8 155.7h0M492 161.6h0M493.2 168.8h0M494.5 175.3h0M495.7 181.6h0M497 188.7h0M498.2 195.4h0M499.5 200.8h0M500.7 206.5h0M501.9 212.9h0M503.2 217.9h0M504.4 221.7h0M505.7 226.5h0M506.9 230h0M508.1 233.2h0M509.4 236.6h0M510.6 239.6h0M511.9 242h0M513.1 243.4h0M514.4 245.1h0M515.6 246.9h0M516.8 245.9h0M518.1 247.6h0M519.3 246.8h0M520.6 245.6h0M521.8 243.5h0M523 242.5h0M524.3 240.3h0M525.5 237.9h0M526.8 233.8h0M528 230.8h0M529.3 227.1h0M530.5 222.2h0M531.7 217.1h0M533 211.3h0M534.2 206.8h0M535.5 202.1h0M536.7 196.6h0M537.9 193h0M539.2 188.5h0M540.4 184.2h0M541.7 180.8h0M542.9 177.3h0M544.2 174.3h0M545.4 171.2h0M546.6 168.4h0M547.9 166.2h0M549.1 163.2h0M550.4 161.2h0M551.6 161.6h0M552.8 159.7h0M554.1 161.6h0M555.3 160.8h0M556.6 161.1h0M557.8 161.4h0M559.1 161.5h0M560.3 163.2h0M561.5 165.4h0M562.8 166.3h0M564 171.2h0M565.3 172.9h0M566.5 175.8h0M567.7 181h0M569 183.3h0M570.2 186.2h0M571.5 190.8h0M572.7 191.7h0M574 195.5h0M575.2 200h0M576.4 204.1h0M577.7 205.4h0M578.9 208.6h0M580.2 210h0M581.4 215.2h0M582.6 216h0M583.9 217.2h0M585.1 221.6h0M586.4 223.5h0M587.6 225.6h0M588.9 228.4h0M590.1 231.4h0M591.3 231.7h0M592.6 234.6h0M593.8 235.3h0M595.1 238.2h0M596.3 237.7h0M597.5 236.4h0M598.8 235.5h0M600 233.5h0M601.3 232.9h0M602.5 231.1h0M603.8 231.1h0M605 230.7h0M606.2 227.6h0M607.5 227.2h0M608.7 226.5h0M610 225.7h0M611.2 226.9h0M612.4 228.1h0M613.7 229.4h0M614.9 230.1h0M616.2 231.1h0M617.4 232.7h0M618.7 231.3h0M619.9 230.8h0M621.1 228.5h0M622.4 228.5h0M623.6 225h0M624.9 224.2h0M626.1 221h0M627.3 218.1h0M628.6 214.2h0M629.8 211.7h0M631.1 207.1h0M632.3 202.5h0M633.6 199.3h0M634.8 194.1h0M636 189.5h0M637.3 185.7h0M638.5 180.9h0M639.8 178.9h0M641 176.5h0M642.2 173.9h0M643.5 172.9h0M644.7 173.6h0M646 172.6h0M647.2 172.8h0M648.5 172.9h0M649.7 175.3h0M650.9 175.3h0M652.2 178.1h0M653.4 178.9h0M654.7 181.6h0M655.9 182.8h0M657.1 184.9h0M658.4 186.7h0M659.6 189.2h0M660.9 190.5h0M662.1 191.4h0M663.4 193.3h0M664.6 196h0M665.8 198h0M667.1 200.6h0M668.3 201.9h0M669.6 204h0M670.8 205.5h0M672 208h0M673.3 209.5h0M674.5 211.6h0M675.8 211.7h0M677 212h0M678.3 214.2h0M679.5 216h0M680.7 216.2h0M682 217.2h0M683.2 217.4h0M684.5 218.6h0M685.7 219.6h0M686.9 218.8h0M688.2 220.3h0M689.4 220.6h0M690.7 221.1h0M691.9 221.5h0M693.2 221.1h0M694.4 222.7h0" stroke="#8a84cc" stroke-width="3.8" stroke-linecap="round" fill="none"/>
<path d="M414 108V305.1M412.9 304H698.2M414 304v9M458.7 304v9M503.4 304v9M548.1 304v9M592.8 304v9M637.5 304v9M682.2 304v9M414 141.5h-7.8M414 207h-7.8M414 271.8h-7.8" fill="none" stroke="#000" stroke-width="2.2"/>
<text x="414" y="328.3" text-anchor="middle" class="b" font-size="13.5">24</text>
<text x="458.7" y="328.3" text-anchor="middle" class="b" font-size="13.5">36</text>
<text x="503.4" y="328.3" text-anchor="middle" class="b" font-size="13.5">48</text>
<text x="548.1" y="328.3" text-anchor="middle" class="b" font-size="13.5">60</text>
<text x="592.8" y="328.3" text-anchor="middle" class="b" font-size="13.5">72</text>
<text x="637.5" y="328.3" text-anchor="middle" class="b" font-size="13.5">84</text>
<text x="682.2" y="328.3" text-anchor="middle" class="b" font-size="13.5">96</text>
<text x="403.5" y="146.3" text-anchor="end" class="b" font-size="13.5">1.2</text>
<text x="403.5" y="211.8" text-anchor="end" class="b" font-size="13.5">1.0</text>
<text x="403.5" y="276.6" text-anchor="end" class="b" font-size="13.5">0.8</text>
<text x="555" y="354" text-anchor="middle" class="b" font-size="17.5">Time [h]</text>
<text transform="translate(376 207) rotate(-90)" text-anchor="middle" font-size="15.65"><tspan class="i">PER2</tspan><tspan> relative bioluminescence</tspan></text>
<circle cx="389" cy="74" r="1.9" fill="#8a84cc"/>
<text x="411" y="79.6" font-size="15.75">T98G WT PLB</text>
<circle cx="535" cy="74" r="1.9" fill="#8a9627"/>
<text x="556" y="79.6" font-size="15.75"><tspan>T98G </tspan><tspan class="i">BMAL1</tspan><tspan> KO PLB</tspan></text>
<circle cx="391" cy="100" r="1.9" fill="#c8651f"/>
<text x="411" y="105" font-size="15.75"><tspan>T98G </tspan><tspan class="i">NR1D1</tspan><tspan> KO PLB</tspan></text>
<circle cx="585" cy="100" r="1.9" fill="#66b5a9"/>
<text x="606" y="105" font-size="15.75"><tspan>T98G </tspan><tspan class="i">PER2</tspan><tspan> KO PLB</tspan></text>
<path d="M832.4 259.6h0M833.6 256.2h0M834.9 253.3h0M836.1 250.3h0M837.4 246.5h0M838.6 243.6h0M839.9 239.5h0M841.1 234.4h0M842.3 231.7h0M843.6 227.6h0M844.8 222.6h0M846.1 219.3h0M847.3 215.9h0M848.5 212h0M849.8 208.3h0M851 205h0M852.3 203h0M853.5 200h0M854.8 197.4h0M856 194.6h0M857.2 193.7h0M858.5 191.1h0M859.7 189.3h0M861 189.4h0M862.2 187.4h0M863.4 186h0M864.7 185.8h0M865.9 184.9h0M867.2 186.6h0M868.4 186.5h0M869.7 187.1h0M870.9 188.2h0M872.1 188h0M873.4 190.3h0M874.6 190.8h0M875.9 193.3h0M877.1 195.2h0M878.3 198.5h0M879.6 201.1h0M880.8 202.9h0M882.1 207.1h0M883.3 209.7h0M884.6 212.5h0M885.8 214.7h0M887 217.2h0M888.3 219.5h0M889.5 222.8h0M890.8 225.2h0M892 226.6h0M893.2 227.8h0M894.5 230.1h0M895.7 230.5h0M897 231.1h0M898.2 231.7h0M899.5 231.9h0M900.7 232.1h0M901.9 231.7h0M903.2 231.9h0M904.4 231.2h0M905.7 231.3h0M906.9 229.7h0M908.1 227.9h0M909.4 226.8h0M910.6 225.8h0M911.9 222.9h0M913.1 221h0M914.4 218.7h0M915.6 216.3h0M916.8 213.6h0M918.1 210.3h0M919.3 208.2h0M920.6 204.3h0M921.8 201.6h0M923 199.3h0M924.3 196h0M925.5 192.3h0M926.8 189.7h0M928 187h0M929.3 183.5h0M930.5 180.2h0M931.7 179.1h0M933 177.6h0M934.2 175.7h0M935.5 173.7h0M936.7 172.7h0M937.9 171.9h0M939.2 171.2h0M940.4 171.2h0M941.7 170.7h0M942.9 170.1h0M944.2 169.6h0M945.4 169.4h0M946.6 169.5h0M947.9 170.3h0M949.1 170.3h0M950.4 171.3h0M951.6 173.7h0M952.8 174.2h0M954.1 174.7h0M955.3 175.9h0M956.6 177.5h0M957.8 179.9h0M959.1 181.5h0M960.3 182.9h0M961.5 186h0M962.8 187.7h0M964 190.6h0M965.3 192.5h0M966.5 195.8h0M967.7 197.6h0M969 200.1h0M970.2 202.9h0M971.5 205.5h0M972.7 207.8h0M974 209.3h0M975.2 212.9h0M976.4 215.6h0M977.7 218.4h0M978.9 220.3h0M980.2 224.3h0M981.4 226h0M982.6 227.6h0M983.9 229.5h0M985.1 230.7h0M986.4 231.6h0M987.6 232.3h0M988.9 232.6h0M990.1 233.4h0M991.3 233.4h0M992.6 233.1h0M993.8 233h0M995.1 233.4h0M996.3 233.2h0M997.5 233h0M998.8 232.2h0M1000 231.2h0M1001.3 231.2h0M1002.5 229.5h0M1003.8 227.4h0M1005 227h0M1006.2 224.9h0M1007.5 223.8h0M1008.7 222.1h0M1010 220.1h0M1011.2 217.9h0M1012.4 215.8h0M1013.7 214.1h0M1014.9 212.1h0M1016.2 210.3h0M1017.4 208.4h0M1018.7 207.3h0M1019.9 204.4h0M1021.1 203.4h0M1022.4 201.9h0M1023.6 200.6h0M1024.9 199.2h0M1026.1 196.4h0M1027.3 196.3h0M1028.6 195.4h0M1029.8 194.6h0M1031.1 193.5h0M1032.3 193.7h0M1033.6 194.6h0M1034.8 193h0M1036 194h0M1037.3 194.2h0M1038.5 193.4h0M1039.8 194.4h0M1041 194h0M1042.2 194.4h0M1043.5 195.3h0M1044.7 196.2h0M1046 197.3h0M1047.2 198.5h0M1048.5 198.2h0M1049.7 199.8h0M1050.9 200.9h0M1052.2 201.8h0M1053.4 202.1h0M1054.7 204.3h0M1055.9 205.6h0M1057.1 207h0M1058.4 207.8h0M1059.6 209.7h0M1060.9 210.1h0M1062.1 210.3h0M1063.4 211.3h0M1064.6 213.4h0M1065.8 213.2h0M1067.1 214.4h0M1068.3 214.8h0M1069.6 215.4h0M1070.8 216.6h0M1072 215.7h0M1073.3 215.4h0M1074.5 217.2h0M1075.8 215.4h0M1077 217h0M1078.3 217.3h0M1079.5 217.1h0M1080.7 216.5h0M1082 217.8h0M1083.2 217.1h0M1084.5 217.3h0M1085.7 217.8h0M1086.9 218.2h0M1088.2 217.9h0M1089.4 217.7h0M1090.7 216.5h0M1091.9 215.6h0M1093.2 214.6h0M1094.4 214.5h0M1095.6 214h0M1096.9 213.3h0M1098.1 212.8h0M1099.4 211.8h0M1100.6 211.2h0M1101.8 211.2h0M1103.1 210h0M1104.3 209.5h0M1105.6 208h0M1106.8 208.2h0M1108.1 206.5h0M1109.3 206h0M1110.5 204.9h0M1111.8 204.7h0M1113 204.2h0M833 254.7h0M834.3 251.5h0M835.5 248.7h0M836.7 243.2h0M838 240.7h0M839.2 237h0M840.5 232.8h0M841.7 228.4h0M843 224.1h0M844.2 220.3h0M845.4 217.9h0M846.7 214.3h0M847.9 210.5h0M849.2 206.3h0M850.4 203.9h0M851.6 201h0M852.9 198.8h0M854.1 196.1h0M855.4 194h0M856.6 192.1h0M857.9 190.1h0M859.1 189.6h0M860.3 188.9h0M861.6 187.2h0M862.8 187.3h0M864.1 186.5h0M865.3 187.1h0M866.5 186.7h0M867.8 187.2h0M869 188.6h0M870.3 188.8h0M871.5 190h0M872.8 191h0M874 192.5h0M875.2 194.1h0M876.5 196.9h0M877.7 198.8h0M879 201.7h0M880.2 204h0M881.4 206.3h0M882.7 208.9h0M883.9 212.5h0M885.2 215.6h0M886.4 217.9h0M887.7 219.5h0M888.9 222.6h0M890.1 225.1h0M891.4 225.6h0M892.6 228.6h0M893.9 229.5h0M895.1 230.9h0M896.3 232.4h0M897.6 231.7h0M898.8 232.6h0M900.1 233.4h0M901.3 233h0M902.6 232.6h0M903.8 230.9h0M905 230.3h0M906.3 228.4h0M907.5 227.9h0M908.8 225.4h0M910 223.3h0M911.2 221.3h0M912.5 219h0M913.7 216.6h0M915 214.2h0M916.2 212.5h0M917.5 208.5h0M918.7 205.7h0M919.9 203.1h0M921.2 200.9h0M922.4 197.4h0M923.7 193.7h0M924.9 191.4h0M926.1 188.4h0M927.4 185.7h0M928.6 183.1h0M929.9 180.4h0M931.1 178.4h0M932.4 176.8h0M933.6 175h0M934.8 175.3h0M936.1 173.7h0M937.3 171.8h0M938.6 171.1h0M939.8 170.1h0M941 169.5h0M942.3 169.4h0M943.5 168.3h0M944.8 167.9h0M946 169.2h0M947.3 169.8h0M948.5 171h0M949.7 172.3h0M951 173.2h0M952.2 174.8h0M953.5 175.2h0M954.7 177.3h0M955.9 178.7h0M957.2 180.1h0M958.4 182.6h0M959.7 184.7h0M960.9 185.6h0M962.2 188.1h0M963.4 191.2h0M964.6 194.3h0M965.9 196h0M967.1 198.9h0M968.4 200.8h0M969.6 205.3h0M970.8 206.8h0M972.1 209.8h0M973.3 212.3h0M974.6 214.8h0M975.8 217.5h0M977.1 219.5h0M978.3 222.3h0M979.5 223.9h0M980.8 226.4h0M982 227.3h0M983.3 228.6h0M984.5 230.3h0M985.7 231.5h0M987 231.6h0M988.2 232.1h0M989.5 233h0M990.7 233.5h0M992 234.6h0M993.2 234.1h0M994.4 234.2h0M995.7 233.4h0M996.9 232.9h0M998.2 233.3h0M999.4 232.9h0M1000.6 231.4h0M1001.9 229.9h0M1003.1 229h0M1004.4 227h0M1005.6 225.6h0M1006.9 223.3h0M1008.1 221.2h0M1009.3 220.1h0M1010.6 217.8h0M1011.8 216.2h0M1013.1 212.9h0M1014.3 211h0M1015.5 208.4h0M1016.8 206.6h0M1018 205h0M1019.3 204.3h0M1020.5 201.8h0M1021.8 201.6h0M1023 200.2h0M1024.2 198.3h0M1025.5 198.4h0M1026.7 196.8h0M1028 196.3h0M1029.2 195.3h0M1030.4 195.3h0M1031.7 194.2h0M1032.9 194.7h0M1034.2 194.7h0M1035.4 194.5h0M1036.7 194.6h0M1037.9 194.7h0M1039.1 194.7h0M1040.4 195.2h0M1041.6 196.1h0M1042.9 195.7h0M1044.1 197.1h0M1045.3 197.6h0M1046.6 197.8h0M1047.8 199.2h0M1049.1 199.1h0M1050.3 201.8h0M1051.6 202.5h0M1052.8 203.6h0M1054 205.5h0M1055.3 206.2h0M1056.5 207.8h0M1057.8 208.8h0M1059 209.8h0M1060.2 210.3h0M1061.5 211.3h0M1062.7 212.5h0M1064 213h0M1065.2 214.2h0M1066.5 214h0M1067.7 214.8h0M1068.9 215.2h0M1070.2 216.3h0M1071.4 216.7h0M1072.7 217.4h0M1073.9 217.7h0M1075.1 217.3h0M1076.4 217.4h0M1077.6 218.4h0M1078.9 217.8h0M1080.1 218.5h0M1081.4 219.4h0M1082.6 219.1h0M1083.8 218.9h0M1085.1 218h0M1086.3 218.7h0M1087.6 216.6h0M1088.8 216.1h0M1090 215.2h0M1091.3 215.5h0M1092.5 214.1h0M1093.8 212.8h0M1095 211.9h0M1096.3 212.4h0M1097.5 211.8h0M1098.7 210.5h0M1100 210.1h0M1101.2 209.7h0M1102.5 209.7h0M1103.7 208.9h0M1104.9 208.1h0M1106.2 207.7h0M1107.4 206.2h0M1108.7 206.6h0M1109.9 205.8h0M1111.2 205.2h0M1112.4 204.9h0" stroke="#66b5a9" stroke-width="4.2" stroke-linecap="round" fill="none"/>
<path d="M832.4 241.6h0M833.6 240h0M834.9 236.7h0M836.1 234.8h0M837.4 232.3h0M838.6 232.3h0M839.9 229.9h0M841.1 228h0M842.3 225.1h0M843.6 223.1h0M844.8 220.5h0M846.1 220h0M847.3 216.6h0M848.5 214.8h0M849.8 213.3h0M851 211.2h0M852.3 209.9h0M853.5 207.5h0M854.8 206.2h0M856 204.6h0M857.2 203.7h0M858.5 201.1h0M859.7 200.3h0M861 199.5h0M862.2 198h0M863.4 198.5h0M864.7 198.8h0M865.9 199h0M867.2 198.4h0M868.4 198.5h0M869.7 199.9h0M870.9 199.5h0M872.1 200.1h0M873.4 201h0M874.6 201.5h0M875.9 202.3h0M877.1 204.2h0M878.3 204.5h0M879.6 205.5h0M880.8 206.9h0M882.1 207.6h0M883.3 209.3h0M884.6 210.5h0M885.8 211.5h0M887 212.6h0M888.3 214h0M889.5 215.7h0M890.8 216.6h0M892 215.8h0M893.2 218.6h0M894.5 217.4h0M895.7 218.3h0M897 219.9h0M898.2 219.5h0M899.5 221.1h0M900.7 222h0M901.9 221.8h0M903.2 221.5h0M904.4 222.7h0M905.7 223.4h0M906.9 222.8h0M908.1 223.2h0M909.4 222.8h0M910.6 222.4h0M911.9 220.9h0M913.1 220.6h0M914.4 219.7h0M915.6 217.3h0M916.8 218.1h0M918.1 215.5h0M919.3 214.2h0M920.6 213.1h0M921.8 211.3h0M923 209.6h0M924.3 207.6h0M925.5 204.8h0M926.8 204.8h0M928 202.3h0M929.3 200.2h0M930.5 198.8h0M931.7 196.7h0M933 194h0M934.2 192.8h0M935.5 191.8h0M936.7 190.5h0M937.9 189.1h0M939.2 187.8h0M940.4 185.6h0M941.7 185.3h0M942.9 183.7h0M944.2 183.7h0M945.4 181.8h0M946.6 180.2h0M947.9 180.6h0M949.1 181.5h0M950.4 181h0M951.6 180.4h0M952.8 181.8h0M954.1 181.4h0M955.3 181.8h0M956.6 183.9h0M957.8 184.8h0M959.1 186h0M960.3 187.1h0M961.5 188.3h0M962.8 190.5h0M964 191.3h0M965.3 193.7h0M966.5 197h0M967.7 199.9h0M969 200h0M970.2 202.7h0M971.5 205.3h0M972.7 206.8h0M974 208.5h0M975.2 210.8h0M976.4 211.3h0M977.7 213h0M978.9 214.3h0M980.2 215h0M981.4 216.3h0M982.6 218.9h0M983.9 220.3h0M985.1 220.6h0M986.4 221.2h0M987.6 222.4h0M988.9 222.7h0M990.1 222.5h0M991.3 223.7h0M992.6 224.5h0M993.8 224.3h0M995.1 223.5h0M996.3 223.5h0M997.5 224.7h0M998.8 223.4h0M1000 224.1h0M1001.3 223.5h0M1002.5 221.9h0M1003.8 221h0M1005 220.5h0M1006.2 220.1h0M1007.5 219.4h0M1008.7 218.9h0M1010 218h0M1011.2 217h0M1012.4 215.4h0M1013.7 214.1h0M1014.9 213.7h0M1016.2 213.2h0M1017.4 210.9h0M1018.7 211h0M1019.9 209.9h0M1021.1 208.9h0M1022.4 206.8h0M1023.6 206.1h0M1024.9 205.1h0M1026.1 204.4h0M1027.3 202.2h0M1028.6 202.3h0M1029.8 201.9h0M1031.1 200.9h0M1032.3 200h0M1033.6 200.8h0M1034.8 202h0M1036 200.9h0M1037.3 201.1h0M1038.5 201.1h0M1039.8 201.9h0M1041 202.3h0M1042.2 202.4h0M1043.5 203.6h0M1044.7 204.5h0M1046 204.2h0M1047.2 205.8h0M1048.5 207.1h0M1049.7 207.9h0M1050.9 208.3h0M1052.2 209.6h0M1053.4 209.5h0M1054.7 209.7h0M1055.9 209.7h0M1057.1 211.1h0M1058.4 211.7h0M1059.6 212.2h0M1060.9 212.7h0M1062.1 213.9h0M1063.4 214.1h0M1064.6 215.3h0M1065.8 214.3h0M1067.1 215.1h0M1068.3 215.9h0M1069.6 215.1h0M1070.8 216.2h0M1072 215.3h0M1073.3 215.4h0M1074.5 217.1h0M1075.8 215.3h0M1077 217h0M1078.3 216h0M1079.5 216.5h0M1080.7 217.2h0M1082 217.4h0M1083.2 217.6h0M1084.5 217.2h0M1085.7 216h0M1086.9 215.4h0M1088.2 215.3h0M1089.4 213.8h0M1090.7 214.1h0M1091.9 212.9h0M1093.2 213h0M1094.4 212.3h0M1095.6 210.3h0M1096.9 210.7h0M1098.1 209.1h0M1099.4 208h0M1100.6 207.6h0M1101.8 206.4h0M1103.1 205.1h0M1104.3 203.2h0M1105.6 201.6h0M1106.8 199.7h0M1108.1 199h0M1109.3 198.3h0M1110.5 196.9h0M1111.8 195.8h0M1113 195.6h0M833 239.7h0M834.3 237.5h0M835.5 235.8h0M836.7 233.8h0M838 231.6h0M839.2 229.2h0M840.5 226.3h0M841.7 225.3h0M843 222.5h0M844.2 221h0M845.4 217.7h0M846.7 216.4h0M847.9 215h0M849.2 213.5h0M850.4 211.5h0M851.6 210.1h0M852.9 208.7h0M854.1 206h0M855.4 204.8h0M856.6 203.9h0M857.9 201.8h0M859.1 200.8h0M860.3 200.6h0M861.6 199.8h0M862.8 198.1h0M864.1 198.4h0M865.3 198.7h0M866.5 199.7h0M867.8 198.2h0M869 199.7h0M870.3 200.1h0M871.5 200.4h0M872.8 201.8h0M874 202.1h0M875.2 202.4h0M876.5 204.2h0M877.7 206.5h0M879 206.8h0M880.2 208.8h0M881.4 209h0M882.7 209.4h0M883.9 210.3h0M885.2 212.9h0M886.4 214.3h0M887.7 214.3h0M888.9 215.2h0M890.1 216.1h0M891.4 216.9h0M892.6 217.7h0M893.9 218.3h0M895.1 219.1h0M896.3 219.4h0M897.6 219.9h0M898.8 220.1h0M900.1 221.6h0M901.3 222.8h0M902.6 223h0M903.8 222.7h0M905 223.5h0M906.3 223.8h0M907.5 222.1h0M908.8 223.6h0M910 222.7h0M911.2 220.9h0M912.5 219.1h0M913.7 219.5h0M915 218.6h0M916.2 217.1h0M917.5 215.9h0M918.7 214.6h0M919.9 211.9h0M921.2 211h0M922.4 209.5h0M923.7 207.4h0M924.9 204.9h0M926.1 204.6h0M927.4 202.4h0M928.6 200h0M929.9 199.1h0M931.1 198.4h0M932.4 196.1h0M933.6 194.5h0M934.8 192.7h0M936.1 189.9h0M937.3 188.5h0M938.6 186.1h0M939.8 185.5h0M941 183.7h0M942.3 183.2h0M943.5 181.2h0M944.8 179.9h0M946 179.4h0M947.3 180.8h0M948.5 180.3h0M949.7 179.9h0M951 179.5h0M952.2 180.7h0M953.5 180.9h0M954.7 180.8h0M955.9 182.8h0M957.2 184.5h0M958.4 186.1h0M959.7 187.9h0M960.9 189.8h0M962.2 190.9h0M963.4 193.2h0M964.6 195.4h0M965.9 197.6h0M967.1 198.7h0M968.4 201.3h0M969.6 203.7h0M970.8 205h0M972.1 207.2h0M973.3 207.8h0M974.6 210.2h0M975.8 212.1h0M977.1 213.7h0M978.3 215h0M979.5 215.7h0M980.8 216.9h0M982 218.4h0M983.3 220.4h0M984.5 221.1h0M985.7 221.4h0M987 222.4h0M988.2 222.7h0M989.5 222.8h0M990.7 224.6h0M992 224.9h0M993.2 225.3h0M994.4 224.7h0M995.7 225h0M996.9 225h0M998.2 224.1h0M999.4 224.3h0M1000.6 222.9h0M1001.9 222.2h0M1003.1 220.8h0M1004.4 219.8h0M1005.6 219.2h0M1006.9 218.1h0M1008.1 216.8h0M1009.3 216h0M1010.6 215.3h0M1011.8 214.8h0M1013.1 213.3h0M1014.3 212.3h0M1015.5 212.1h0M1016.8 212h0M1018 209.5h0M1019.3 208.6h0M1020.5 208.2h0M1021.8 206.7h0M1023 206h0M1024.2 204.9h0M1025.5 202.7h0M1026.7 203.1h0M1028 202.1h0M1029.2 203.1h0M1030.4 202h0M1031.7 202h0M1032.9 201.7h0M1034.2 201.4h0M1035.4 201h0M1036.7 201.8h0M1037.9 202.2h0M1039.1 201.9h0M1040.4 202h0M1041.6 202.9h0M1042.9 203.4h0M1044.1 205.2h0M1045.3 205.4h0M1046.6 204.9h0M1047.8 207.3h0M1049.1 207.4h0M1050.3 208.6h0M1051.6 208.4h0M1052.8 208.6h0M1054 209.7h0M1055.3 209.9h0M1056.5 211.1h0M1057.8 212.5h0M1059 212.5h0M1060.2 213.4h0M1061.5 213.1h0M1062.7 213.5h0M1064 213.2h0M1065.2 214h0M1066.5 214.8h0M1067.7 214.8h0M1068.9 214.4h0M1070.2 215.1h0M1071.4 215.2h0M1072.7 215.2h0M1073.9 215.4h0M1075.1 214.9h0M1076.4 215.4h0M1077.6 215.8h0M1078.9 215.8h0M1080.1 217.5h0M1081.4 217.7h0M1082.6 217.1h0M1083.8 216.7h0M1085.1 216.8h0M1086.3 216.2h0M1087.6 217.2h0M1088.8 216.4h0M1090 215.6h0M1091.3 214.9h0M1092.5 212.5h0M1093.8 212.4h0M1095 211.3h0M1096.3 210.2h0M1097.5 208.8h0M1098.7 207.5h0M1100 205.2h0M1101.2 205.5h0M1102.5 202.9h0M1103.7 202.4h0M1104.9 200.8h0M1106.2 199.4h0M1107.4 198.2h0M1108.7 197.3h0M1109.9 196.7h0M1111.2 196.2h0M1112.4 195h0" stroke="#c8651f" stroke-width="4.2" stroke-linecap="round" fill="none"/>
<path d="M832.4 184.1h0M833.6 185.1h0M834.9 186.1h0M836.1 188.6h0M837.4 190.5h0M838.6 193h0M839.9 195.5h0M841.1 199.3h0M842.3 203.7h0M843.6 207.4h0M844.8 211.2h0M846.1 215.2h0M847.3 217.3h0M848.5 220h0M849.8 222.8h0M851 224.7h0M852.3 227.7h0M853.5 228h0M854.8 229.8h0M856 231.6h0M857.2 232.2h0M858.5 233.1h0M859.7 234.5h0M861 235.4h0M862.2 236.3h0M863.4 236.8h0M864.7 238.2h0M865.9 238.6h0M867.2 238h0M868.4 237.3h0M869.7 237.9h0M870.9 239.4h0M872.1 237.1h0M873.4 237.6h0M874.6 237.2h0M875.9 236.5h0M877.1 236h0M878.3 235.1h0M879.6 234.2h0M880.8 233.2h0M882.1 230.5h0M883.3 229.2h0M884.6 227.7h0M885.8 226.6h0M887 224.5h0M888.3 222.3h0M889.5 221.6h0M890.8 218.2h0M892 215.3h0M893.2 213h0M894.5 209.1h0M895.7 206.4h0M897 203.2h0M898.2 200.2h0M899.5 197.3h0M900.7 196.2h0M901.9 193.6h0M903.2 191.4h0M904.4 190.2h0M905.7 187.4h0M906.9 186.8h0M908.1 184h0M909.4 182.3h0M910.6 182.2h0M911.9 181.7h0M913.1 181.7h0M914.4 180.6h0M915.6 180.6h0M916.8 180.6h0M918.1 181.9h0M919.3 180.4h0M920.6 181.6h0M921.8 182.5h0M923 183.2h0M924.3 185h0M925.5 187.1h0M926.8 188.4h0M928 190.9h0M929.3 193.5h0M930.5 196h0M931.7 197.8h0M933 199.6h0M934.2 201.3h0M935.5 203h0M936.7 204.1h0M937.9 206.2h0M939.2 207.3h0M940.4 207.4h0M941.7 209.3h0M942.9 209.6h0M944.2 211.3h0M945.4 212.3h0M946.6 213.8h0M947.9 214h0M949.1 214.7h0M950.4 214.5h0M951.6 216.5h0M952.8 216.7h0M954.1 217h0M955.3 218.2h0M956.6 218.4h0M957.8 218.9h0M959.1 219h0M960.3 219.5h0M961.5 219.1h0M962.8 219.3h0M964 220.5h0M965.3 220.2h0M966.5 220h0M967.7 219.7h0M969 219.4h0M970.2 219.6h0M971.5 218.2h0M972.7 218.2h0M974 217.4h0M975.2 216.3h0M976.4 216.9h0M977.7 216h0M978.9 214.9h0M980.2 216.1h0M981.4 215.1h0M982.6 216.1h0M983.9 214h0M985.1 214.8h0M986.4 213.7h0M987.6 213.7h0M988.9 212.1h0M990.1 213.6h0M991.3 211.8h0M992.6 212.6h0M993.8 211h0M995.1 210.1h0M996.3 210.3h0M997.5 210.7h0M998.8 209.2h0M1000 209.3h0M1001.3 209.5h0M1002.5 209.2h0M1003.8 208h0M1005 208h0M1006.2 208.9h0M1007.5 207.7h0M1008.7 208.2h0M1010 208h0M1011.2 207.7h0M1012.4 208.4h0M1013.7 208h0M1014.9 208.5h0M1016.2 208.4h0M1017.4 209.2h0M1018.7 208.8h0M1019.9 209.8h0M1021.1 209.2h0M1022.4 209.8h0M1023.6 210.7h0M1024.9 210.6h0M1026.1 210.3h0M1027.3 210.7h0M1028.6 210.4h0M1029.8 211.9h0M1031.1 212.6h0M1032.3 212.8h0M1033.6 213.9h0M1034.8 214h0M1036 214.8h0M1037.3 214.6h0M1038.5 213h0M1039.8 211.4h0M1041 210.6h0M1042.2 208h0M1043.5 206.6h0M1044.7 205h0M1046 205.4h0M1047.2 204.2h0M1048.5 201.6h0M1049.7 200.1h0M1050.9 199.5h0M1052.2 199.1h0M1053.4 198.2h0M1054.7 198.1h0M1055.9 196.9h0M1057.1 197.1h0M1058.4 197.4h0M1059.6 197.2h0M1060.9 196.7h0M1062.1 196.2h0M1063.4 195.8h0M1064.6 196.5h0M1065.8 195.5h0M1067.1 196.8h0M1068.3 196.2h0M1069.6 197.1h0M1070.8 196.1h0M1072 197.6h0M1073.3 197.5h0M1074.5 198.7h0M1075.8 198h0M1077 197.4h0M1078.3 197.6h0M1079.5 196.4h0M1080.7 195.5h0M1082 195.1h0M1083.2 194.7h0M1084.5 194.5h0M1085.7 194.3h0M1086.9 194.9h0M1088.2 195h0M1089.4 195.1h0M1090.7 195.6h0M1091.9 195.5h0M1093.2 195.1h0M1094.4 195h0M1095.6 196.3h0M1096.9 197h0M1098.1 199.3h0M1099.4 199.5h0M1100.6 202.3h0M1101.8 203.7h0M1103.1 203.7h0M1104.3 204.9h0M1105.6 206.4h0M1106.8 206.5h0M1108.1 207.7h0M1109.3 208.6h0M1110.5 210.1h0M1111.8 209.5h0M1113 211.5h0M833 184.4h0M834.3 186h0M835.5 188.8h0M836.7 191.4h0M838 193.9h0M839.2 197.4h0M840.5 201.1h0M841.7 204.4h0M843 209h0M844.2 211.9h0M845.4 213.8h0M846.7 217.9h0M847.9 219.9h0M849.2 222.8h0M850.4 225.3h0M851.6 226.9h0M852.9 229.2h0M854.1 231.4h0M855.4 231.3h0M856.6 232.4h0M857.9 233.3h0M859.1 233.7h0M860.3 235h0M861.6 234.9h0M862.8 236.9h0M864.1 236.1h0M865.3 237.5h0M866.5 238.7h0M867.8 238.6h0M869 238.4h0M870.3 238h0M871.5 238.3h0M872.8 237.6h0M874 238.3h0M875.2 236.8h0M876.5 235.7h0M877.7 234.1h0M879 233.3h0M880.2 232.1h0M881.4 231h0M882.7 229.3h0M883.9 228.1h0M885.2 226.4h0M886.4 223.5h0M887.7 221.6h0M888.9 218.8h0M890.1 217.4h0M891.4 214.2h0M892.6 211.3h0M893.9 209h0M895.1 205.2h0M896.3 202.6h0M897.6 200.8h0M898.8 197.5h0M900.1 194.4h0M901.3 191.8h0M902.6 189.9h0M903.8 186.9h0M905 186.8h0M906.3 185.2h0M907.5 184.8h0M908.8 183.8h0M910 182.8h0M911.2 183.3h0M912.5 181.6h0M913.7 181.7h0M915 181.2h0M916.2 182.6h0M917.5 181.4h0M918.7 180.7h0M919.9 182.2h0M921.2 183.4h0M922.4 184.5h0M923.7 186h0M924.9 187.1h0M926.1 189.2h0M927.4 191.3h0M928.6 193.9h0M929.9 196.2h0M931.1 198.6h0M932.4 199.8h0M933.6 202.1h0M934.8 203.4h0M936.1 203.6h0M937.3 206.9h0M938.6 207.5h0M939.8 209.6h0M941 210.1h0M942.3 211.8h0M943.5 212.7h0M944.8 213h0M946 214.7h0M947.3 215.3h0M948.5 216.3h0M949.7 216.1h0M951 216.5h0M952.2 217.4h0M953.5 217.3h0M954.7 217.2h0M955.9 218.6h0M957.2 218.7h0M958.4 218.9h0M959.7 218.4h0M960.9 219.3h0M962.2 219.5h0M963.4 219.2h0M964.6 219.8h0M965.9 218.5h0M967.1 219.2h0M968.4 219h0M969.6 218.7h0M970.8 218.4h0M972.1 218.2h0M973.3 218.1h0M974.6 217.2h0M975.8 217.2h0M977.1 216.4h0M978.3 216.6h0M979.5 215.1h0M980.8 214.7h0M982 215h0M983.3 215.1h0M984.5 213.8h0M985.7 213.7h0M987 213.7h0M988.2 211.8h0M989.5 211.7h0M990.7 210.6h0M992 209.9h0M993.2 210.1h0M994.4 210h0M995.7 210.4h0M996.9 211.1h0M998.2 210.1h0M999.4 209.9h0M1000.6 210.7h0M1001.9 209.7h0M1003.1 210h0M1004.4 209.2h0M1005.6 208.5h0M1006.9 209h0M1008.1 208.5h0M1009.3 207.8h0M1010.6 207.7h0M1011.8 209.4h0M1013.1 208.4h0M1014.3 209.1h0M1015.5 209.8h0M1016.8 210.5h0M1018 210.8h0M1019.3 208.5h0M1020.5 209.4h0M1021.8 209.8h0M1023 210.2h0M1024.2 209.4h0M1025.5 209.4h0M1026.7 210h0M1028 209.7h0M1029.2 211.3h0M1030.4 212.7h0M1031.7 213.6h0M1032.9 213.3h0M1034.2 213.7h0M1035.4 215h0M1036.7 214.4h0M1037.9 213.7h0M1039.1 210.7h0M1040.4 210.1h0M1041.6 208.5h0M1042.9 207h0M1044.1 205.6h0M1045.3 204h0M1046.6 202.9h0M1047.8 202h0M1049.1 200.7h0M1050.3 199.5h0M1051.6 199.5h0M1052.8 197.1h0M1054 198.1h0M1055.3 198.2h0M1056.5 197.3h0M1057.8 197.1h0M1059 197.1h0M1060.2 196.8h0M1061.5 195h0M1062.7 195.7h0M1064 196.3h0M1065.2 194.8h0M1066.5 195.9h0M1067.7 196.1h0M1068.9 196.3h0M1070.2 197h0M1071.4 197.2h0M1072.7 197.6h0M1073.9 197.7h0M1075.1 199h0M1076.4 199.5h0M1077.6 198.9h0M1078.9 197h0M1080.1 196.5h0M1081.4 196.3h0M1082.6 196.3h0M1083.8 195.2h0M1085.1 195.7h0M1086.3 195.2h0M1087.6 194.4h0M1088.8 194h0M1090 194.6h0M1091.3 195.8h0M1092.5 195.2h0M1093.8 195.6h0M1095 196.5h0M1096.3 198.8h0M1097.5 199.9h0M1098.7 201.7h0M1100 202.3h0M1101.2 203.5h0M1102.5 204.3h0M1103.7 206.2h0M1104.9 208h0M1106.2 207.2h0M1107.4 207.9h0M1108.7 209.2h0M1109.9 210.2h0M1111.2 210.2h0M1112.4 211.3h0" stroke="#8a9627" stroke-width="4.2" stroke-linecap="round" fill="none"/>
<path d="M832.4 269.9h0M833.6 268.5h0M834.9 266h0M836.1 264.8h0M837.4 262.8h0M838.6 259.4h0M839.9 256.2h0M841.1 251.9h0M842.3 247.5h0M843.6 241.7h0M844.8 236.8h0M846.1 231.6h0M847.3 225.3h0M848.5 221.3h0M849.8 216.7h0M851 213.4h0M852.3 209.1h0M853.5 206.8h0M854.8 205.4h0M856 201.9h0M857.2 199.9h0M858.5 198.6h0M859.7 198.7h0M861 199.2h0M862.2 198.7h0M863.4 199.2h0M864.7 198.4h0M865.9 199.1h0M867.2 198.8h0M868.4 200.6h0M869.7 201.6h0M870.9 203.2h0M872.1 205.4h0M873.4 207.3h0M874.6 210.9h0M875.9 213h0M877.1 216.3h0M878.3 219.2h0M879.6 222.3h0M880.8 224h0M882.1 226.9h0M883.3 228.7h0M884.6 230.2h0M885.8 231.6h0M887 232.6h0M888.3 233.6h0M889.5 233.4h0M890.8 233.2h0M892 231.4h0M893.2 228.3h0M894.5 225.4h0M895.7 222.1h0M897 217.7h0M898.2 214.3h0M899.5 209.9h0M900.7 205.5h0M901.9 201.7h0M903.2 196.6h0M904.4 191.2h0M905.7 185.9h0M906.9 180.7h0M908.1 175.5h0M909.4 170.9h0M910.6 165.4h0M911.9 161.1h0M913.1 156.5h0M914.4 152.9h0M915.6 148.4h0M916.8 145.6h0M918.1 142.5h0M919.3 139.5h0M920.6 136.8h0M921.8 133.9h0M923 132.5h0M924.3 130.8h0M925.5 131.2h0M926.8 128.9h0M928 129.6h0M929.3 128.4h0M930.5 129.1h0M931.7 130.9h0M933 132.8h0M934.2 133.3h0M935.5 136.9h0M936.7 140.4h0M937.9 143.6h0M939.2 149.1h0M940.4 154.4h0M941.7 159.1h0M942.9 164.1h0M944.2 171h0M945.4 176.2h0M946.6 181.9h0M947.9 187.1h0M949.1 193.6h0M950.4 199.3h0M951.6 204.4h0M952.8 210.6h0M954.1 216.2h0M955.3 219.8h0M956.6 225.5h0M957.8 228.9h0M959.1 233.4h0M960.3 237.9h0M961.5 241.4h0M962.8 244.5h0M964 247.6h0M965.3 251.3h0M966.5 253.7h0M967.7 255.4h0M969 257.5h0M970.2 258.6h0M971.5 260.8h0M972.7 260h0M974 260.4h0M975.2 260.4h0M976.4 259.7h0M977.7 259.8h0M978.9 258.5h0M980.2 255.9h0M981.4 254.9h0M982.6 252.3h0M983.9 250.7h0M985.1 248.2h0M986.4 244.5h0M987.6 241h0M988.9 237.8h0M990.1 233.8h0M991.3 230.8h0M992.6 226.4h0M993.8 222h0M995.1 217.8h0M996.3 214.1h0M997.5 210h0M998.8 204.9h0M1000 201h0M1001.3 197.5h0M1002.5 193.1h0M1003.8 191h0M1005 188.1h0M1006.2 184.5h0M1007.5 182.3h0M1008.7 181h0M1010 179.6h0M1011.2 178.7h0M1012.4 178.1h0M1013.7 175.6h0M1014.9 174.3h0M1016.2 173.9h0M1017.4 174h0M1018.7 173.8h0M1019.9 174.4h0M1021.1 175.2h0M1022.4 175.8h0M1023.6 176.7h0M1024.9 178.8h0M1026.1 180.9h0M1027.3 183.8h0M1028.6 186.7h0M1029.8 187.5h0M1031.1 192.5h0M1032.3 195h0M1033.6 198.2h0M1034.8 201.2h0M1036 202.7h0M1037.3 205.5h0M1038.5 208h0M1039.8 210.1h0M1041 212.8h0M1042.2 214.8h0M1043.5 216.1h0M1044.7 219.2h0M1046 221.3h0M1047.2 222.2h0M1048.5 223.4h0M1049.7 225.4h0M1050.9 227h0M1052.2 227.9h0M1053.4 228.7h0M1054.7 229.2h0M1055.9 229.3h0M1057.1 229.4h0M1058.4 230.9h0M1059.6 230.8h0M1060.9 230.9h0M1062.1 229.8h0M1063.4 229.5h0M1064.6 228.7h0M1065.8 227.8h0M1067.1 227.7h0M1068.3 227.3h0M1069.6 225.6h0M1070.8 224.1h0M1072 223.2h0M1073.3 221.1h0M1074.5 219.4h0M1075.8 217h0M1077 213.6h0M1078.3 211.4h0M1079.5 207.3h0M1080.7 204.2h0M1082 201h0M1083.2 196.7h0M1084.5 194.6h0M1085.7 192.3h0M1086.9 190h0M1088.2 189.4h0M1089.4 187.7h0M1090.7 186.4h0M1091.9 184.8h0M1093.2 184.8h0M1094.4 184.8h0M1095.6 183.7h0M1096.9 182.3h0M1098.1 181.2h0M1099.4 181.1h0M1100.6 179.7h0M1101.8 180.5h0M1103.1 179.9h0M1104.3 179.6h0M1105.6 178.7h0M1106.8 179.5h0M1108.1 179.8h0M1109.3 179.3h0M1110.5 180.6h0M1111.8 181.5h0M1113 181.9h0M833 267.8h0M834.3 266.7h0M835.5 263.5h0M836.7 261.9h0M838 258h0M839.2 254.3h0M840.5 250.2h0M841.7 245.2h0M843 240.8h0M844.2 234.2h0M845.4 229.1h0M846.7 225.3h0M847.9 220.8h0M849.2 215.9h0M850.4 213.1h0M851.6 210.2h0M852.9 207h0M854.1 205.6h0M855.4 203.8h0M856.6 201h0M857.9 200.5h0M859.1 198.1h0M860.3 198.8h0M861.6 198.2h0M862.8 198.8h0M864.1 197.7h0M865.3 198.8h0M866.5 198.4h0M867.8 199.3h0M869 200.6h0M870.3 202.7h0M871.5 204h0M872.8 207.9h0M874 210.3h0M875.2 214.7h0M876.5 216.7h0M877.7 219.4h0M879 222.8h0M880.2 224.6h0M881.4 227.3h0M882.7 229.4h0M883.9 231.4h0M885.2 232.4h0M886.4 233.8h0M887.7 233.5h0M888.9 233.6h0M890.1 233.2h0M891.4 230.9h0M892.6 228.2h0M893.9 224.1h0M895.1 220.4h0M896.3 215.2h0M897.6 210.5h0M898.8 206.9h0M900.1 201.9h0M901.3 197.7h0M902.6 193h0M903.8 188h0M905 182.8h0M906.3 178.5h0M907.5 173.9h0M908.8 168.8h0M910 163.6h0M911.2 159.7h0M912.5 155.5h0M913.7 151.3h0M915 148h0M916.2 144.8h0M917.5 140.8h0M918.7 137.5h0M919.9 135.8h0M921.2 133.8h0M922.4 131.4h0M923.7 130.3h0M924.9 129.2h0M926.1 128.3h0M927.4 128.1h0M928.6 128.2h0M929.9 128.4h0M931.1 129h0M932.4 130.8h0M933.6 133.6h0M934.8 135.7h0M936.1 140.7h0M937.3 145h0M938.6 149.6h0M939.8 154.2h0M941 160.4h0M942.3 166.3h0M943.5 172.6h0M944.8 177.9h0M946 184.4h0M947.3 190.6h0M948.5 196.2h0M949.7 201.6h0M951 206.7h0M952.2 212.4h0M953.5 217.9h0M954.7 222.4h0M955.9 227.7h0M957.2 231.6h0M958.4 235.1h0M959.7 238.9h0M960.9 241.9h0M962.2 245.1h0M963.4 247.7h0M964.6 250.3h0M965.9 252.9h0M967.1 254.3h0M968.4 255.6h0M969.6 258h0M970.8 258.3h0M972.1 260.6h0M973.3 260.6h0M974.6 260.5h0M975.8 259.9h0M977.1 258.5h0M978.3 257.6h0M979.5 256.5h0M980.8 253.4h0M982 252.5h0M983.3 248.9h0M984.5 245.8h0M985.7 244.1h0M987 240h0M988.2 235.9h0M989.5 232.8h0M990.7 227.1h0M992 223.3h0M993.2 219.9h0M994.4 216.2h0M995.7 210.7h0M996.9 206.4h0M998.2 201.2h0M999.4 198.6h0M1000.6 193.4h0M1001.9 188.9h0M1003.1 187.2h0M1004.4 184.4h0M1005.6 182.5h0M1006.9 181.3h0M1008.1 180.5h0M1009.3 178.2h0M1010.6 177.7h0M1011.8 176.1h0M1013.1 176.5h0M1014.3 175.3h0M1015.5 174.2h0M1016.8 173.9h0M1018 173.3h0M1019.3 174.1h0M1020.5 174.4h0M1021.8 176.5h0M1023 178.5h0M1024.2 179.1h0M1025.5 181.8h0M1026.7 184.5h0M1028 186.9h0M1029.2 190.8h0M1030.4 194.1h0M1031.7 197h0M1032.9 199.2h0M1034.2 201.9h0M1035.4 205.2h0M1036.7 206.7h0M1037.9 209.2h0M1039.1 210.7h0M1040.4 213.8h0M1041.6 214.9h0M1042.9 218.1h0M1044.1 219.7h0M1045.3 221.6h0M1046.6 223h0M1047.8 225.6h0M1049.1 226.7h0M1050.3 227.6h0M1051.6 229.2h0M1052.8 229.3h0M1054 229.8h0M1055.3 230.6h0M1056.5 230h0M1057.8 230.8h0M1059 230.7h0M1060.2 229.9h0M1061.5 229.7h0M1062.7 229.8h0M1064 228.4h0M1065.2 227.5h0M1066.5 226.2h0M1067.7 226.1h0M1068.9 224.1h0M1070.2 223.6h0M1071.4 221.6h0M1072.7 220.5h0M1073.9 217.9h0M1075.1 215.6h0M1076.4 212.5h0M1077.6 209.7h0M1078.9 205.7h0M1080.1 201.4h0M1081.4 197.8h0M1082.6 195.1h0M1083.8 192.6h0M1085.1 190.9h0M1086.3 188.7h0M1087.6 187.4h0M1088.8 186.2h0M1090 185.9h0M1091.3 185.1h0M1092.5 184.9h0M1093.8 183.4h0M1095 182.1h0M1096.3 182.2h0M1097.5 181.9h0M1098.7 180.8h0M1100 180.3h0M1101.2 179.3h0M1102.5 179.5h0M1103.7 179.5h0M1104.9 178.7h0M1106.2 179.5h0M1107.4 179.7h0M1108.7 180.4h0M1109.9 181h0M1111.2 181.4h0M1112.4 183.3h0" stroke="#8a84cc" stroke-width="4.2" stroke-linecap="round" fill="none"/>
<path d="M832 108V305.1M830.9 304H1116.2M832 304v9M876.7 304v9M921.4 304v9M966.1 304v9M1010.8 304v9M1055.5 304v9M1100.2 304v9M832 141.5h-7.8M832 207h-7.8M832 271.8h-7.8" fill="none" stroke="#000" stroke-width="2.2"/>
<text x="832" y="328.3" text-anchor="middle" class="b" font-size="13.5">24</text>
<text x="876.7" y="328.3" text-anchor="middle" class="b" font-size="13.5">36</text>
<text x="921.4" y="328.3" text-anchor="middle" class="b" font-size="13.5">48</text>
<text x="966.1" y="328.3" text-anchor="middle" class="b" font-size="13.5">60</text>
<text x="1010.8" y="328.3" text-anchor="middle" class="b" font-size="13.5">72</text>
<text x="1055.5" y="328.3" text-anchor="middle" class="b" font-size="13.5">84</text>
<text x="1100.2" y="328.3" text-anchor="middle" class="b" font-size="13.5">96</text>
<text x="821.5" y="146.3" text-anchor="end" class="b" font-size="13.5">1.2</text>
<text x="821.5" y="211.8" text-anchor="end" class="b" font-size="13.5">1.0</text>
<text x="821.5" y="276.6" text-anchor="end" class="b" font-size="13.5">0.8</text>
<text x="973" y="354" text-anchor="middle" class="b" font-size="17.5">Time [h]</text>
<text transform="translate(792.5 207) rotate(-90)" text-anchor="middle" class="b i" font-size="14.7">BMAL1 relative bioluminescence</text>
<circle cx="807" cy="74" r="1.9" fill="#8a84cc"/>
<text x="828" y="79.6" font-size="15.75">T98G WT BLP</text>
<circle cx="952" cy="74" r="1.9" fill="#8a9627"/>
<text x="973" y="79.6" font-size="15.75"><tspan>T98G </tspan><tspan class="i">BMAL1</tspan><tspan> KO BLP</tspan></text>
<circle cx="807" cy="100" r="1.9" fill="#c8651f"/>
<text x="828" y="105" font-size="15.75"><tspan>T98G </tspan><tspan class="i">NR1D1</tspan><tspan> KO BLP</tspan></text>
<circle cx="1002" cy="100" r="1.9" fill="#66b5a9"/>
<text x="1024" y="105" font-size="15.75"><tspan>T98G </tspan><tspan class="i">PER2</tspan><tspan> KO BLP</tspan></text>
<text x="540" y="381" text-anchor="middle" class="b" font-size="19.6">amplitude</text>
<rect x="531" y="405.3" width="18" height="17.1" fill="#9b97d5"/>
<rect x="531" y="422" width="18" height="17.1" fill="#8d88ce"/>
<rect x="531" y="438.9" width="18" height="16.7" fill="#e4e4e4"/>
<path d="M531 438.9l18 16.7M549 438.9l-18 16.7" fill="none" stroke="#000" stroke-width="1.1"/>
<rect x="531" y="455.7" width="18" height="16.7" fill="#e4e4e4"/>
<path d="M531 455.7l18 16.7M549 455.7l-18 16.7" fill="none" stroke="#000" stroke-width="1.1"/>
<rect x="531" y="472.2" width="18" height="17.1" fill="#a61c5c"/>
<rect x="531" y="488.9" width="18" height="17.1" fill="#dad6d9"/>
<rect x="531" y="505.6" width="18" height="17.1" fill="#b03a7b"/>
<rect x="531" y="522.4" width="18" height="17.1" fill="#ad3074"/>
<rect x="531" y="405.5" width="18" height="133.8" fill="none" stroke="#000" stroke-width="3"/>
<text x="519" y="419.4" text-anchor="end" class="b" font-size="15.5">WT BLP</text>
<text x="519" y="436.1" text-anchor="end" class="b" font-size="15.5">WT PLB</text>
<text x="519" y="452.8" text-anchor="end" font-size="15.5"><tspan class="i">BMAL1</tspan><tspan class="b"> KO BLP</tspan></text>
<text x="519" y="469.5" text-anchor="end" font-size="15.5"><tspan class="i">BMAL1</tspan><tspan class="b"> KO PLB</tspan></text>
<text x="519" y="486.3" text-anchor="end" font-size="15.5"><tspan class="i">NR1D1</tspan><tspan class="b"> KO BLP</tspan></text>
<text x="519" y="503" text-anchor="end" font-size="15.5"><tspan class="i">NR1D1</tspan><tspan class="b"> KO PLB</tspan></text>
<text x="519" y="519.7" text-anchor="end" font-size="15.5"><tspan class="i">PER2</tspan><tspan class="b"> KO BLP</tspan></text>
<text x="519" y="536.4" text-anchor="end" font-size="15.5"><tspan class="i">PER2</tspan><tspan class="b"> KO PLB</tspan></text>
<path d="M531 413.9h-9M531 430.6h-9M531 447.3h-9M531 464h-9M531 480.8h-9M531 497.5h-9M531 514.2h-9M531 530.9h-9" fill="none" stroke="#000" stroke-width="2.6"/>
<rect x="574" y="405.5" width="25.5" height="133.8" fill="url(#g1)" stroke="#000" stroke-width="2.2"/>
<path d="M574 405h5.1M599.5 405h-5.1M574 432h5.1M599.5 432h-5.1M574 459h5.1M599.5 459h-5.1M574 486h5.1M599.5 486h-5.1M574 513h5.1M599.5 513h-5.1M574 539.5h5.1M599.5 539.5h-5.1" fill="none" stroke="#000" stroke-width="1.8"/>
<text x="608" y="410.9" font-size="16.4">0.30</text>
<text x="608" y="437.9" font-size="16.4">0.25</text>
<text x="608" y="464.9" font-size="16.4">0.20</text>
<text x="608" y="491.9" font-size="16.4">0.15</text>
<text x="608" y="518.9" font-size="16.4">0.10</text>
<text x="608" y="545.4" font-size="16.4">0.05</text>
<text x="805" y="381" text-anchor="middle" class="b" font-size="19.6">phase</text>
<rect x="796" y="406.8" width="18" height="17.1" fill="#b5347a"/>
<rect x="796" y="423.6" width="18" height="17.1" fill="#8783cc"/>
<rect x="796" y="440.5" width="18" height="16.8" fill="#e4e4e4"/>
<path d="M796 440.5l18 16.8M814 440.5l-18 16.8" fill="none" stroke="#000" stroke-width="1.1"/>
<rect x="796" y="457.2" width="18" height="16.8" fill="#e4e4e4"/>
<path d="M796 457.2l18 16.8M814 457.2l-18 16.8" fill="none" stroke="#000" stroke-width="1.1"/>
<rect x="796" y="473.8" width="18" height="17.1" fill="#c4709f"/>
<rect x="796" y="490.6" width="18" height="17.1" fill="#a61c5c"/>
<rect x="796" y="507.3" width="18" height="17.1" fill="#d9c4d2"/>
<rect x="796" y="524" width="18" height="17.1" fill="#b5387c"/>
<rect x="796" y="407" width="18" height="134" fill="none" stroke="#000" stroke-width="3"/>
<text x="784" y="420.9" text-anchor="end" class="b" font-size="15.5">WT BLP</text>
<text x="784" y="437.6" text-anchor="end" class="b" font-size="15.5">WT PLB</text>
<text x="784" y="454.4" text-anchor="end" font-size="15.5"><tspan class="i">BMAL1</tspan><tspan class="b"> KO BLP</tspan></text>
<text x="784" y="471.1" text-anchor="end" font-size="15.5"><tspan class="i">BMAL1</tspan><tspan class="b"> KO PLB</tspan></text>
<text x="784" y="487.9" text-anchor="end" font-size="15.5"><tspan class="i">NR1D1</tspan><tspan class="b"> KO BLP</tspan></text>
<text x="784" y="504.6" text-anchor="end" font-size="15.5"><tspan class="i">NR1D1</tspan><tspan class="b"> KO PLB</tspan></text>
<text x="784" y="521.4" text-anchor="end" font-size="15.5"><tspan class="i">PER2</tspan><tspan class="b"> KO BLP</tspan></text>
<text x="784" y="538.1" text-anchor="end" font-size="15.5"><tspan class="i">PER2</tspan><tspan class="b"> KO PLB</tspan></text>
<path d="M796 415.4h-9M796 432.1h-9M796 448.9h-9M796 465.6h-9M796 482.4h-9M796 499.1h-9M796 515.9h-9M796 532.6h-9" fill="none" stroke="#000" stroke-width="2.6"/>
<rect x="839" y="407" width="25.5" height="134" fill="url(#g1)" stroke="#000" stroke-width="2.2"/>
<path d="M839 423h5.1M864.5 423h-5.1M839 448.5h5.1M864.5 448.5h-5.1M839 473.8h5.1M864.5 473.8h-5.1M839 499h5.1M864.5 499h-5.1M839 524.3h5.1M864.5 524.3h-5.1" fill="none" stroke="#000" stroke-width="1.8"/>
<text x="873" y="428.9" font-size="16.4">1.8</text>
<text x="873" y="454.4" font-size="16.4">1.5</text>
<text x="873" y="479.7" font-size="16.4">1.2</text>
<text x="873" y="504.9" font-size="16.4">0.9</text>
<text x="873" y="530.2" font-size="16.4">0.6</text>
<text x="1052" y="381" text-anchor="middle" class="b" font-size="19.6">period</text>
<rect x="1043" y="406.8" width="18" height="17.1" fill="#8a86ce"/>
<rect x="1043" y="423.6" width="18" height="17.1" fill="#c0659a"/>
<rect x="1043" y="440.5" width="18" height="16.8" fill="#e4e4e4"/>
<path d="M1043 440.5l18 16.8M1061 440.5l-18 16.8" fill="none" stroke="#000" stroke-width="1.1"/>
<rect x="1043" y="457.2" width="18" height="16.8" fill="#e4e4e4"/>
<path d="M1043 457.2l18 16.8M1061 457.2l-18 16.8" fill="none" stroke="#000" stroke-width="1.1"/>
<rect x="1043" y="473.8" width="18" height="17.1" fill="#bfc0e0"/>
<rect x="1043" y="490.6" width="18" height="17.1" fill="#d9d3d8"/>
<rect x="1043" y="507.3" width="18" height="17.1" fill="#cfd0e0"/>
<rect x="1043" y="524" width="18" height="17.1" fill="#a61c5c"/>
<rect x="1043" y="407" width="18" height="134" fill="none" stroke="#000" stroke-width="3"/>
<text x="1031" y="420.9" text-anchor="end" class="b" font-size="15.5">WT BLP</text>
<text x="1031" y="437.6" text-anchor="end" class="b" font-size="15.5">WT PLB</text>
<text x="1031" y="454.4" text-anchor="end" font-size="15.5"><tspan class="i">BMAL1</tspan><tspan class="b"> KO BLP</tspan></text>
<text x="1031" y="471.1" text-anchor="end" font-size="15.5"><tspan class="i">BMAL1</tspan><tspan class="b"> KO PLB</tspan></text>
<text x="1031" y="487.9" text-anchor="end" font-size="15.5"><tspan class="i">NR1D1</tspan><tspan class="b"> KO BLP</tspan></text>
<text x="1031" y="504.6" text-anchor="end" font-size="15.5"><tspan class="i">NR1D1</tspan><tspan class="b"> KO PLB</tspan></text>
<text x="1031" y="521.4" text-anchor="end" font-size="15.5"><tspan class="i">PER2</tspan><tspan class="b"> KO BLP</tspan></text>
<text x="1031" y="538.1" text-anchor="end" font-size="15.5"><tspan class="i">PER2</tspan><tspan class="b"> KO PLB</tspan></text>
<path d="M1043 415.4h-9M1043 432.1h-9M1043 448.9h-9M1043 465.6h-9M1043 482.4h-9M1043 499.1h-9M1043 515.9h-9M1043 532.6h-9" fill="none" stroke="#000" stroke-width="2.6"/>
<rect x="1086" y="407" width="25.5" height="134" fill="url(#g1)" stroke="#000" stroke-width="2.2"/>
<path d="M1086 425h5.1M1111.5 425h-5.1M1086 466.3h5.1M1111.5 466.3h-5.1M1086 506.8h5.1M1111.5 506.8h-5.1" fill="none" stroke="#000" stroke-width="1.8"/>
<text x="1120" y="430.9" font-size="16.4">24</text>
<text x="1120" y="472.2" font-size="16.4">22</text>
<text x="1120" y="512.7" font-size="16.4">20</text>
<!-- panel c -->
<text x="1157.5" y="56" class="b" font-size="23.5">c</text>
<circle cx="1242.7" cy="45" r="33" fill="none" stroke="#a9c4fb" stroke-width="7" filter="url(#blur)"/>
<circle cx="1242.7" cy="45" r="32.9" fill="#e0e4f2" stroke="#5b74b8" stroke-width="4.8"/>
<path d="M1242.7 20.8L1242.7 17.2M1254.8 24L1256.6 20.9M1263.7 32.9L1266.8 31.1M1266.9 45L1270.5 45M1263.7 57.1L1266.8 58.9M1254.8 66L1256.6 69.1M1242.7 69.2L1242.7 72.8M1230.6 66L1228.8 69.1M1221.7 57.1L1218.6 58.9M1218.5 45L1214.9 45M1221.7 32.9L1218.6 31.1M1230.6 24L1228.8 20.9" fill="none" stroke="#8a9bd8" stroke-width="1"/>
<path d="M1242.7 45V24M1242.7 45H1259.3" fill="none" stroke="#000" stroke-width="1.9" stroke-linecap="round"/>
<circle cx="1242.7" cy="45" r="2.4" fill="#fff" stroke="#4a68b8" stroke-width="0.9"/>
<rect x="1210.8" y="52.8" width="49.2" height="39.6" fill="#fff" stroke="#3c74c4" stroke-width="1.4" rx="1"/>
<text x="1234.8" y="81.6" text-anchor="middle" class="b" font-size="25" textLength="27" lengthAdjust="spacingAndGlyphs">0h</text>
<text x="1292" y="90.3" fill="#9c5fa2" font-size="16.4">DMSO</text>
<text x="1349.5" y="90.3" fill="#b6cd36" font-size="16.4">TMZ</text>
<text x="1392.5" y="90.3" fill="#c4652a" font-size="16.4">TMZ+KL001</text>
<text x="1492.5" y="90.3" fill="#1f1ff5" font-size="16.4">TMZ+SR9011</text>
<text x="1363.5" y="110.3" fill="#d5266c" font-size="16.4">TMZ+KL001+SR9011</text>
<text x="1701.3" y="94.6" fill="#9c5fa2" font-size="16.4">DMSO</text>
<text x="1759.3" y="94.6" fill="#52d184" font-size="16.4">KL001</text>
<text x="1815.6" y="94.6" fill="#66a6f8" font-size="16.4">SR9011</text>
<text x="1883" y="94.6" fill="#45a0a9" font-size="16.4">KL001+SR9011</text>
<clipPath id="cc1"><rect x="1296.3" y="108.8" width="320" height="270"/></clipPath>
<g clip-path="url(#cc1)">
<polyline points="1296.3,358.2 1315.2,352.2 1334,340.2 1352.9,326.3 1371.7,317.3 1390.6,305.3 1409.5,294.4 1428.3,281.4 1447.2,271.4 1466,259.4 1484.9,247.5 1503.8,233.5 1522.6,220.5 1541.5,205.6 1560.3,192.6 1579.2,176.7" fill="none" stroke="#9c5fa2" stroke-width="1.3"/>
<path d="M1296.3 358.2h0M1315.2 352.2h0M1334 340.2h0M1352.9 326.3h0M1371.7 317.3h0M1390.6 305.3h0M1409.5 294.4h0M1428.3 281.4h0M1447.2 271.4h0M1466 259.4h0M1484.9 247.5h0M1503.8 233.5h0M1522.6 220.5h0M1541.5 205.6h0M1560.3 192.6h0M1579.2 176.7h0" stroke="#9c5fa2" stroke-width="6.7" stroke-linecap="round" fill="none"/>
<polyline points="1296.3,358.2 1315.2,362.2 1334,360.2 1352.9,349.2 1371.7,339.2 1390.6,331.3 1409.5,327.3 1428.3,319.3 1447.2,312.3 1466,305.3 1484.9,297.4 1503.8,289.4 1522.6,283.4 1541.5,273.4 1560.3,269.4 1579.2,265.4" fill="none" stroke="#b6cd36" stroke-width="1.3"/>
<path d="M1296.3 358.2h0M1315.2 362.2h0M1334 360.2h0M1352.9 349.2h0M1371.7 339.2h0M1390.6 331.3h0M1409.5 327.3h0M1428.3 319.3h0M1447.2 312.3h0M1466 305.3h0M1484.9 297.4h0M1503.8 289.4h0M1522.6 283.4h0M1541.5 273.4h0M1560.3 269.4h0M1579.2 265.4h0" stroke="#b6cd36" stroke-width="6.7" stroke-linecap="round" fill="none"/>
<polyline points="1296.3,358.2 1315.2,365.2 1334,364.2 1352.9,358.2 1371.7,352.2 1390.6,346.2 1409.5,341.2 1428.3,337.3 1447.2,334.3 1466,330.3 1484.9,330.3 1503.8,327.3 1522.6,326.3 1541.5,324.3 1560.3,322.3 1579.2,320.3" fill="none" stroke="#c4652a" stroke-width="1.3"/>
<path d="M1296.3 358.2h0M1315.2 365.2h0M1334 364.2h0M1352.9 358.2h0M1371.7 352.2h0M1390.6 346.2h0M1409.5 341.2h0M1428.3 337.3h0M1447.2 334.3h0M1466 330.3h0M1484.9 330.3h0M1503.8 327.3h0M1522.6 326.3h0M1541.5 324.3h0M1560.3 322.3h0M1579.2 320.3h0" stroke="#c4652a" stroke-width="6.7" stroke-linecap="round" fill="none"/>
<polyline points="1296.3,358.2 1315.2,357.2 1334,356.2 1352.9,352.2 1371.7,346.2 1390.6,340.2 1409.5,336.3 1428.3,334.3 1447.2,330.3 1466,328.3 1484.9,325.3 1503.8,322.3 1522.6,321.3 1541.5,317.3 1560.3,316.3 1579.2,312.3" fill="none" stroke="#1f1ff5" stroke-width="1.3"/>
<path d="M1296.3 358.2h0M1315.2 357.2h0M1334 356.2h0M1352.9 352.2h0M1371.7 346.2h0M1390.6 340.2h0M1409.5 336.3h0M1428.3 334.3h0M1447.2 330.3h0M1466 328.3h0M1484.9 325.3h0M1503.8 322.3h0M1522.6 321.3h0M1541.5 317.3h0M1560.3 316.3h0M1579.2 312.3h0" stroke="#1f1ff5" stroke-width="6.7" stroke-linecap="round" fill="none"/>
<polyline points="1296.3,358.2 1315.2,360.2 1334,362.2 1352.9,358.2 1371.7,356.2 1390.6,352.2 1409.5,352.2 1428.3,349.2 1447.2,348.2 1466,346.2 1484.9,346.2 1503.8,344.2 1522.6,342.2 1541.5,341.2 1560.3,341.2 1579.2,339.2" fill="none" stroke="#d5266c" stroke-width="1.3"/>
<path d="M1296.3 358.2h0M1315.2 360.2h0M1334 362.2h0M1352.9 358.2h0M1371.7 356.2h0M1390.6 352.2h0M1409.5 352.2h0M1428.3 349.2h0M1447.2 348.2h0M1466 346.2h0M1484.9 346.2h0M1503.8 344.2h0M1522.6 342.2h0M1541.5 341.2h0M1560.3 341.2h0M1579.2 339.2h0" stroke="#d5266c" stroke-width="6.7" stroke-linecap="round" fill="none"/>
</g>
<path d="M1296.7 118.8V369.5M1295.6 368.4H1590M1296.3 368.4v8.5M1390.6 368.4v8.5M1484.9 368.4v8.5M1579.2 368.4v8.5M1296.7 358.2h-9M1296.7 318.3h-9M1296.7 278.4h-9M1296.7 238.5h-9M1296.7 198.6h-9M1296.7 158.7h-9M1296.7 118.8h-9" fill="none" stroke="#000" stroke-width="2.2"/>
<text x="1296.3" y="393.2" text-anchor="middle" class="b" font-size="14.2">0</text>
<text x="1390.6" y="393.2" text-anchor="middle" class="b" font-size="14.2">10</text>
<text x="1484.9" y="393.2" text-anchor="middle" class="b" font-size="14.2">20</text>
<text x="1579.2" y="393.2" text-anchor="middle" class="b" font-size="14.2">30</text>
<text x="1285.2" y="363.2" text-anchor="end" class="b" font-size="14">0.0</text>
<text x="1285.2" y="323.3" text-anchor="end" class="b" font-size="14">0.2</text>
<text x="1285.2" y="283.4" text-anchor="end" class="b" font-size="14">0.4</text>
<text x="1285.2" y="243.5" text-anchor="end" class="b" font-size="14">0.6</text>
<text x="1285.2" y="203.6" text-anchor="end" class="b" font-size="14">0.8</text>
<text x="1285.2" y="163.7" text-anchor="end" class="b" font-size="14">1.0</text>
<text x="1285.2" y="123.8" text-anchor="end" class="b" font-size="14">1.2</text>
<clipPath id="cc2"><rect x="1691.6" y="108.8" width="320" height="270"/></clipPath>
<g clip-path="url(#cc2)">
<polyline points="1691.6,358.2 1710.5,352.2 1729.3,344.2 1748.2,332.3 1767,322.3 1785.9,311.3 1804.8,302.3 1823.6,292.4 1842.5,283.4 1861.3,273.4 1880.2,264.4 1899.1,251.5 1917.9,241.5 1936.8,228.5 1955.6,217.6 1974.5,203.6" fill="none" stroke="#9c5fa2" stroke-width="1.3"/>
<path d="M1691.6 358.2h0M1710.5 352.2h0M1729.3 344.2h0M1748.2 332.3h0M1767 322.3h0M1785.9 311.3h0M1804.8 302.3h0M1823.6 292.4h0M1842.5 283.4h0M1861.3 273.4h0M1880.2 264.4h0M1899.1 251.5h0M1917.9 241.5h0M1936.8 228.5h0M1955.6 217.6h0M1974.5 203.6h0" stroke="#9c5fa2" stroke-width="6.7" stroke-linecap="round" fill="none"/>
<polyline points="1691.6,358.2 1710.5,359.2 1729.3,355.2 1748.2,345.2 1767,337.3 1785.9,330.3 1804.8,324.3 1823.6,316.3 1842.5,306.3 1861.3,300.3 1880.2,291.4 1899.1,282.4 1917.9,275.4 1936.8,265.4 1955.6,260.4 1974.5,250.5" fill="none" stroke="#52d184" stroke-width="1.3"/>
<path d="M1691.6 358.2h0M1710.5 359.2h0M1729.3 355.2h0M1748.2 345.2h0M1767 337.3h0M1785.9 330.3h0M1804.8 324.3h0M1823.6 316.3h0M1842.5 306.3h0M1861.3 300.3h0M1880.2 291.4h0M1899.1 282.4h0M1917.9 275.4h0M1936.8 265.4h0M1955.6 260.4h0M1974.5 250.5h0" stroke="#52d184" stroke-width="6.7" stroke-linecap="round" fill="none"/>
<polyline points="1691.6,358.2 1710.5,355.2 1729.3,349.2 1748.2,341.2 1767,336.7 1785.9,330.3 1804.8,324.3 1823.6,320.3 1842.5,316.3 1861.3,313.3 1880.2,309.3 1899.1,305.3 1917.9,301.3 1936.8,297.4 1955.6,294.4 1974.5,291.4" fill="none" stroke="#66a6f8" stroke-width="1.3"/>
<path d="M1691.6 358.2h0M1710.5 355.2h0M1729.3 349.2h0M1748.2 341.2h0M1767 336.7h0M1785.9 330.3h0M1804.8 324.3h0M1823.6 320.3h0M1842.5 316.3h0M1861.3 313.3h0M1880.2 309.3h0M1899.1 305.3h0M1917.9 301.3h0M1936.8 297.4h0M1955.6 294.4h0M1974.5 291.4h0" stroke="#66a6f8" stroke-width="6.7" stroke-linecap="round" fill="none"/>
<polyline points="1691.6,358.2 1710.5,358.8 1729.3,356.6 1748.2,352.8 1767,349.8 1785.9,346.2 1804.8,344.2 1823.6,340.8 1842.5,338.2 1861.3,335.3 1880.2,332.3 1899.1,329.7 1917.9,327.7 1936.8,325.3 1955.6,321.3 1974.5,319.3" fill="none" stroke="#45a0a9" stroke-width="1.3"/>
<path d="M1691.6 358.2h0M1710.5 358.8h0M1729.3 356.6h0M1748.2 352.8h0M1767 349.8h0M1785.9 346.2h0M1804.8 344.2h0M1823.6 340.8h0M1842.5 338.2h0M1861.3 335.3h0M1880.2 332.3h0M1899.1 329.7h0M1917.9 327.7h0M1936.8 325.3h0M1955.6 321.3h0M1974.5 319.3h0" stroke="#45a0a9" stroke-width="6.7" stroke-linecap="round" fill="none"/>
</g>
<path d="M1692 118.8V369.5M1690.9 368.4H1985.3M1691.6 368.4v8.5M1785.9 368.4v8.5M1880.2 368.4v8.5M1974.5 368.4v8.5M1692 358.2h-9M1692 318.3h-9M1692 278.4h-9M1692 238.5h-9M1692 198.6h-9M1692 158.7h-9M1692 118.8h-9" fill="none" stroke="#000" stroke-width="2.2"/>
<text x="1691.6" y="393.2" text-anchor="middle" class="b" font-size="14.2">0</text>
<text x="1785.9" y="393.2" text-anchor="middle" class="b" font-size="14.2">10</text>
<text x="1880.2" y="393.2" text-anchor="middle" class="b" font-size="14.2">20</text>
<text x="1974.5" y="393.2" text-anchor="middle" class="b" font-size="14.2">30</text>
<text x="1680.5" y="363.2" text-anchor="end" class="b" font-size="14">0.0</text>
<text x="1680.5" y="323.3" text-anchor="end" class="b" font-size="14">0.2</text>
<text x="1680.5" y="283.4" text-anchor="end" class="b" font-size="14">0.4</text>
<text x="1680.5" y="243.5" text-anchor="end" class="b" font-size="14">0.6</text>
<text x="1680.5" y="203.6" text-anchor="end" class="b" font-size="14">0.8</text>
<text x="1680.5" y="163.7" text-anchor="end" class="b" font-size="14">1.0</text>
<text x="1680.5" y="123.8" text-anchor="end" class="b" font-size="14">1.2</text>
<text x="1442.1" y="417.5" text-anchor="middle" class="b" font-size="18.6">Time [h]</text>
<text x="1837.6" y="417.5" text-anchor="middle" class="b" font-size="18.6">Time [h]</text>
<text transform="translate(1254.8 243) rotate(-90)" text-anchor="middle" class="b" font-size="19">normalized confluence</text>
<text transform="translate(1650.1 243) rotate(-90)" text-anchor="middle" class="b" font-size="19">normalized confluence</text>
<text transform="translate(1222 248) rotate(-90)" text-anchor="middle" font-size="24.5"><tspan>T98G </tspan><tspan class="i">BMAL1</tspan><tspan> KO</tspan></text>
<clipPath id="cc3"><rect x="1293.7" y="393.8" width="320" height="270"/></clipPath>
<g clip-path="url(#cc3)">
<polyline points="1293.7,643.2 1312.6,634.2 1331.4,622.3 1350.3,608.3 1369.1,594.3 1388,577.4 1406.9,564.4 1425.7,549.4 1444.6,539.5 1463.4,527.5 1482.3,518.5 1501.2,510.5 1520,492.6 1538.9,479.6 1557.7,464.6 1576.6,447.7" fill="none" stroke="#9c5fa2" stroke-width="1.3"/>
<path d="M1293.7 643.2h0M1312.6 634.2h0M1331.4 622.3h0M1350.3 608.3h0M1369.1 594.3h0M1388 577.4h0M1406.9 564.4h0M1425.7 549.4h0M1444.6 539.5h0M1463.4 527.5h0M1482.3 518.5h0M1501.2 510.5h0M1520 492.6h0M1538.9 479.6h0M1557.7 464.6h0M1576.6 447.7h0" stroke="#9c5fa2" stroke-width="6.7" stroke-linecap="round" fill="none"/>
<polyline points="1293.7,643.2 1312.6,636.2 1331.4,631.2 1350.3,623.2 1369.1,609.3 1388,596.3 1406.9,580.4 1425.7,568.4 1444.6,563.4 1463.4,549.4 1482.3,541.5 1501.2,535.5 1520,519.5 1538.9,511.5 1557.7,504.5 1576.6,496.6" fill="none" stroke="#b6cd36" stroke-width="1.3"/>
<path d="M1293.7 643.2h0M1312.6 636.2h0M1331.4 631.2h0M1350.3 623.2h0M1369.1 609.3h0M1388 596.3h0M1406.9 580.4h0M1425.7 568.4h0M1444.6 563.4h0M1463.4 549.4h0M1482.3 541.5h0M1501.2 535.5h0M1520 519.5h0M1538.9 511.5h0M1557.7 504.5h0M1576.6 496.6h0" stroke="#b6cd36" stroke-width="6.7" stroke-linecap="round" fill="none"/>
<polyline points="1293.7,643.2 1312.6,640.2 1331.4,638.2 1350.3,635.2 1369.1,630.2 1388,621.3 1406.9,612.3 1425.7,601.3 1444.6,593.3 1463.4,581.4 1482.3,574.4 1501.2,569.4 1520,557.4 1538.9,557.4 1557.7,552.4 1576.6,547.4" fill="none" stroke="#c4652a" stroke-width="1.3"/>
<path d="M1293.7 643.2h0M1312.6 640.2h0M1331.4 638.2h0M1350.3 635.2h0M1369.1 630.2h0M1388 621.3h0M1406.9 612.3h0M1425.7 601.3h0M1444.6 593.3h0M1463.4 581.4h0M1482.3 574.4h0M1501.2 569.4h0M1520 557.4h0M1538.9 557.4h0M1557.7 552.4h0M1576.6 547.4h0" stroke="#c4652a" stroke-width="6.7" stroke-linecap="round" fill="none"/>
<polyline points="1293.7,643.2 1312.6,644.2 1331.4,645.2 1350.3,643.2 1369.1,643.2 1388,639.2 1406.9,635.2 1425.7,630.2 1444.6,628.2 1463.4,621.3 1482.3,619.3 1501.2,617.3 1520,612.3 1538.9,614.3 1557.7,613.3 1576.6,611.3" fill="none" stroke="#1f1ff5" stroke-width="1.3"/>
<path d="M1293.7 643.2h0M1312.6 644.2h0M1331.4 645.2h0M1350.3 643.2h0M1369.1 643.2h0M1388 639.2h0M1406.9 635.2h0M1425.7 630.2h0M1444.6 628.2h0M1463.4 621.3h0M1482.3 619.3h0M1501.2 617.3h0M1520 612.3h0M1538.9 614.3h0M1557.7 613.3h0M1576.6 611.3h0" stroke="#1f1ff5" stroke-width="6.7" stroke-linecap="round" fill="none"/>
<polyline points="1293.7,643.2 1312.6,641.2 1331.4,639.2 1350.3,637.2 1369.1,635.2 1388,635.2 1406.9,631.2 1425.7,628.2 1444.6,627.2 1463.4,621.3 1482.3,621.3 1501.2,619.3 1520,615.3 1538.9,615.3 1557.7,615.3 1576.6,615.3" fill="none" stroke="#d5266c" stroke-width="1.3"/>
<path d="M1293.7 643.2h0M1312.6 641.2h0M1331.4 639.2h0M1350.3 637.2h0M1369.1 635.2h0M1388 635.2h0M1406.9 631.2h0M1425.7 628.2h0M1444.6 627.2h0M1463.4 621.3h0M1482.3 621.3h0M1501.2 619.3h0M1520 615.3h0M1538.9 615.3h0M1557.7 615.3h0M1576.6 615.3h0" stroke="#d5266c" stroke-width="6.7" stroke-linecap="round" fill="none"/>
</g>
<path d="M1294.1 403.8V654.5M1293 653.4H1587.4M1293.7 653.4v8.5M1388 653.4v8.5M1482.3 653.4v8.5M1576.6 653.4v8.5M1294.1 643.2h-9M1294.1 603.3h-9M1294.1 563.4h-9M1294.1 523.5h-9M1294.1 483.6h-9M1294.1 443.7h-9M1294.1 403.8h-9" fill="none" stroke="#000" stroke-width="2.2"/>
<text x="1293.7" y="678.2" text-anchor="middle" class="b" font-size="14.2">0</text>
<text x="1388" y="678.2" text-anchor="middle" class="b" font-size="14.2">10</text>
<text x="1482.3" y="678.2" text-anchor="middle" class="b" font-size="14.2">20</text>
<text x="1576.6" y="678.2" text-anchor="middle" class="b" font-size="14.2">30</text>
<text x="1282.6" y="648.2" text-anchor="end" class="b" font-size="14">0.0</text>
<text x="1282.6" y="608.3" text-anchor="end" class="b" font-size="14">0.2</text>
<text x="1282.6" y="568.4" text-anchor="end" class="b" font-size="14">0.4</text>
<text x="1282.6" y="528.5" text-anchor="end" class="b" font-size="14">0.6</text>
<text x="1282.6" y="488.6" text-anchor="end" class="b" font-size="14">0.8</text>
<text x="1282.6" y="448.7" text-anchor="end" class="b" font-size="14">1.0</text>
<text x="1282.6" y="408.8" text-anchor="end" class="b" font-size="14">1.2</text>
<clipPath id="cc4"><rect x="1688.6" y="393.8" width="320" height="270"/></clipPath>
<g clip-path="url(#cc4)">
<polyline points="1688.6,643.2 1707.5,633.2 1726.3,621.3 1745.2,608.3 1764,594.3 1782.9,582.4 1801.8,571.4 1820.6,557.4 1839.5,546.4 1858.3,536.5 1877.2,532.5 1896.1,520.5 1914.9,505.5 1933.8,492.6 1952.6,478.6 1971.5,464.6" fill="none" stroke="#9c5fa2" stroke-width="1.3"/>
<path d="M1688.6 643.2h0M1707.5 633.2h0M1726.3 621.3h0M1745.2 608.3h0M1764 594.3h0M1782.9 582.4h0M1801.8 571.4h0M1820.6 557.4h0M1839.5 546.4h0M1858.3 536.5h0M1877.2 532.5h0M1896.1 520.5h0M1914.9 505.5h0M1933.8 492.6h0M1952.6 478.6h0M1971.5 464.6h0" stroke="#9c5fa2" stroke-width="6.7" stroke-linecap="round" fill="none"/>
<polyline points="1688.6,643.2 1707.5,641.2 1726.3,635.2 1745.2,627.2 1764,619.3 1782.9,611.3 1801.8,604.3 1820.6,591.3 1839.5,582.4 1858.3,565.4 1877.2,561.4 1896.1,551.4 1914.9,537.5 1933.8,524.5 1952.6,513.5 1971.5,498.6" fill="none" stroke="#52d184" stroke-width="1.3"/>
<path d="M1688.6 643.2h0M1707.5 641.2h0M1726.3 635.2h0M1745.2 627.2h0M1764 619.3h0M1782.9 611.3h0M1801.8 604.3h0M1820.6 591.3h0M1839.5 582.4h0M1858.3 565.4h0M1877.2 561.4h0M1896.1 551.4h0M1914.9 537.5h0M1933.8 524.5h0M1952.6 513.5h0M1971.5 498.6h0" stroke="#52d184" stroke-width="6.7" stroke-linecap="round" fill="none"/>
<polyline points="1688.6,643.2 1707.5,643.2 1726.3,641.2 1745.2,637.2 1764,637.2 1782.9,634.2 1801.8,631.2 1820.6,625.2 1839.5,622.3 1858.3,611.3 1877.2,604.3 1896.1,600.3 1914.9,590.3 1933.8,588.3 1952.6,583.4 1971.5,579.4" fill="none" stroke="#66a6f8" stroke-width="1.3"/>
<path d="M1688.6 643.2h0M1707.5 643.2h0M1726.3 641.2h0M1745.2 637.2h0M1764 637.2h0M1782.9 634.2h0M1801.8 631.2h0M1820.6 625.2h0M1839.5 622.3h0M1858.3 611.3h0M1877.2 604.3h0M1896.1 600.3h0M1914.9 590.3h0M1933.8 588.3h0M1952.6 583.4h0M1971.5 579.4h0" stroke="#66a6f8" stroke-width="6.7" stroke-linecap="round" fill="none"/>
<polyline points="1688.6,643.2 1707.5,644.2 1726.3,643.2 1745.2,640.2 1764,637.2 1782.9,634.2 1801.8,630.2 1820.6,622.3 1839.5,622.3 1858.3,606.3 1877.2,607.3 1896.1,609.3 1914.9,593.3 1933.8,592.3 1952.6,583.4 1971.5,577.4" fill="none" stroke="#45a0a9" stroke-width="1.3"/>
<path d="M1688.6 643.2h0M1707.5 644.2h0M1726.3 643.2h0M1745.2 640.2h0M1764 637.2h0M1782.9 634.2h0M1801.8 630.2h0M1820.6 622.3h0M1839.5 622.3h0M1858.3 606.3h0M1877.2 607.3h0M1896.1 609.3h0M1914.9 593.3h0M1933.8 592.3h0M1952.6 583.4h0M1971.5 577.4h0" stroke="#45a0a9" stroke-width="6.7" stroke-linecap="round" fill="none"/>
</g>
<path d="M1689 403.8V654.5M1687.9 653.4H1982.3M1688.6 653.4v8.5M1782.9 653.4v8.5M1877.2 653.4v8.5M1971.5 653.4v8.5M1689 643.2h-9M1689 603.3h-9M1689 563.4h-9M1689 523.5h-9M1689 483.6h-9M1689 443.7h-9M1689 403.8h-9" fill="none" stroke="#000" stroke-width="2.2"/>
<text x="1688.6" y="678.2" text-anchor="middle" class="b" font-size="14.2">0</text>
<text x="1782.9" y="678.2" text-anchor="middle" class="b" font-size="14.2">10</text>
<text x="1877.2" y="678.2" text-anchor="middle" class="b" font-size="14.2">20</text>
<text x="1971.5" y="678.2" text-anchor="middle" class="b" font-size="14.2">30</text>
<text x="1677.5" y="648.2" text-anchor="end" class="b" font-size="14">0.0</text>
<text x="1677.5" y="608.3" text-anchor="end" class="b" font-size="14">0.2</text>
<text x="1677.5" y="568.4" text-anchor="end" class="b" font-size="14">0.4</text>
<text x="1677.5" y="528.5" text-anchor="end" class="b" font-size="14">0.6</text>
<text x="1677.5" y="488.6" text-anchor="end" class="b" font-size="14">0.8</text>
<text x="1677.5" y="448.7" text-anchor="end" class="b" font-size="14">1.0</text>
<text x="1677.5" y="408.8" text-anchor="end" class="b" font-size="14">1.2</text>
<text x="1439.5" y="704.3" text-anchor="middle" class="b" font-size="18.6">Time [h]</text>
<text x="1834.6" y="704.3" text-anchor="middle" class="b" font-size="18.6">Time [h]</text>
<text transform="translate(1252.2 528) rotate(-90)" text-anchor="middle" class="b" font-size="19">normalized confluence</text>
<text transform="translate(1647.1 528) rotate(-90)" text-anchor="middle" class="b" font-size="19">normalized confluence</text>
<text transform="translate(1222 527) rotate(-90)" text-anchor="middle" font-size="24.5"><tspan>T98G </tspan><tspan class="i">PER2</tspan><tspan> KO</tspan></text>
<clipPath id="cc5"><rect x="1296.6" y="682.8" width="320" height="270"/></clipPath>
<g clip-path="url(#cc5)">
<polyline points="1296.6,932.2 1315.5,924.2 1334.3,913.2 1353.2,901.3 1372,889.3 1390.9,878.3 1409.8,868.4 1428.6,855.4 1447.5,844.4 1466.3,834.4 1485.2,822.5 1504.1,808.5 1522.9,795.5 1541.8,780.6 1560.6,762.6 1579.5,745.7" fill="none" stroke="#9c5fa2" stroke-width="1.3"/>
<path d="M1296.6 932.2h0M1315.5 924.2h0M1334.3 913.2h0M1353.2 901.3h0M1372 889.3h0M1390.9 878.3h0M1409.8 868.4h0M1428.6 855.4h0M1447.5 844.4h0M1466.3 834.4h0M1485.2 822.5h0M1504.1 808.5h0M1522.9 795.5h0M1541.8 780.6h0M1560.6 762.6h0M1579.5 745.7h0" stroke="#9c5fa2" stroke-width="6.7" stroke-linecap="round" fill="none"/>
<polyline points="1296.6,932.2 1315.5,929.2 1334.3,922.2 1353.2,913.2 1372,905.3 1390.9,895.3 1409.8,885.3 1428.6,874.3 1447.5,860.4 1466.3,849.4 1485.2,838.4 1504.1,825.5 1522.9,814.5 1541.8,803.5 1560.6,791.6 1579.5,778.6" fill="none" stroke="#b6cd36" stroke-width="1.3"/>
<path d="M1296.6 932.2h0M1315.5 929.2h0M1334.3 922.2h0M1353.2 913.2h0M1372 905.3h0M1390.9 895.3h0M1409.8 885.3h0M1428.6 874.3h0M1447.5 860.4h0M1466.3 849.4h0M1485.2 838.4h0M1504.1 825.5h0M1522.9 814.5h0M1541.8 803.5h0M1560.6 791.6h0M1579.5 778.6h0" stroke="#b6cd36" stroke-width="6.7" stroke-linecap="round" fill="none"/>
<polyline points="1296.6,932.2 1315.5,930.2 1334.3,925.2 1353.2,917.2 1372,903.3 1390.9,889.3 1409.8,875.3 1428.6,861.4 1447.5,848.4 1466.3,833.4 1485.2,819.5 1504.1,809.5 1522.9,796.5 1541.8,786.6 1560.6,775.6 1579.5,766.6" fill="none" stroke="#c4652a" stroke-width="1.3"/>
<path d="M1296.6 932.2h0M1315.5 930.2h0M1334.3 925.2h0M1353.2 917.2h0M1372 903.3h0M1390.9 889.3h0M1409.8 875.3h0M1428.6 861.4h0M1447.5 848.4h0M1466.3 833.4h0M1485.2 819.5h0M1504.1 809.5h0M1522.9 796.5h0M1541.8 786.6h0M1560.6 775.6h0M1579.5 766.6h0" stroke="#c4652a" stroke-width="6.7" stroke-linecap="round" fill="none"/>
<polyline points="1296.6,932.2 1315.5,929.2 1334.3,926.2 1353.2,918.2 1372,906.3 1390.9,894.3 1409.8,882.3 1428.6,876.3 1447.5,866.4 1466.3,856.4 1485.2,848.4 1504.1,840.4 1522.9,830.5 1541.8,825.5 1560.6,818.5 1579.5,810.5" fill="none" stroke="#1f1ff5" stroke-width="1.3"/>
<path d="M1296.6 932.2h0M1315.5 929.2h0M1334.3 926.2h0M1353.2 918.2h0M1372 906.3h0M1390.9 894.3h0M1409.8 882.3h0M1428.6 876.3h0M1447.5 866.4h0M1466.3 856.4h0M1485.2 848.4h0M1504.1 840.4h0M1522.9 830.5h0M1541.8 825.5h0M1560.6 818.5h0M1579.5 810.5h0" stroke="#1f1ff5" stroke-width="6.7" stroke-linecap="round" fill="none"/>
<polyline points="1296.6,932.2 1315.5,931.2 1334.3,930.2 1353.2,927.2 1372,920.2 1390.9,911.3 1409.8,904.3 1428.6,896.3 1447.5,889.3 1466.3,883.3 1485.2,876.3 1504.1,870.4 1522.9,865.4 1541.8,860.4 1560.6,855.4 1579.5,851.4" fill="none" stroke="#d5266c" stroke-width="1.3"/>
<path d="M1296.6 932.2h0M1315.5 931.2h0M1334.3 930.2h0M1353.2 927.2h0M1372 920.2h0M1390.9 911.3h0M1409.8 904.3h0M1428.6 896.3h0M1447.5 889.3h0M1466.3 883.3h0M1485.2 876.3h0M1504.1 870.4h0M1522.9 865.4h0M1541.8 860.4h0M1560.6 855.4h0M1579.5 851.4h0" stroke="#d5266c" stroke-width="6.7" stroke-linecap="round" fill="none"/>
</g>
<path d="M1297 692.8V943.5M1295.9 942.4H1590.3M1296.6 942.4v8.5M1390.9 942.4v8.5M1485.2 942.4v8.5M1579.5 942.4v8.5M1297 932.2h-9M1297 892.3h-9M1297 852.4h-9M1297 812.5h-9M1297 772.6h-9M1297 732.7h-9M1297 692.8h-9" fill="none" stroke="#000" stroke-width="2.2"/>
<text x="1296.6" y="967.2" text-anchor="middle" class="b" font-size="14.2">0</text>
<text x="1390.9" y="967.2" text-anchor="middle" class="b" font-size="14.2">10</text>
<text x="1485.2" y="967.2" text-anchor="middle" class="b" font-size="14.2">20</text>
<text x="1579.5" y="967.2" text-anchor="middle" class="b" font-size="14.2">30</text>
<text x="1285.5" y="937.2" text-anchor="end" class="b" font-size="14">0.0</text>
<text x="1285.5" y="897.3" text-anchor="end" class="b" font-size="14">0.2</text>
<text x="1285.5" y="857.4" text-anchor="end" class="b" font-size="14">0.4</text>
<text x="1285.5" y="817.5" text-anchor="end" class="b" font-size="14">0.6</text>
<text x="1285.5" y="777.6" text-anchor="end" class="b" font-size="14">0.8</text>
<text x="1285.5" y="737.7" text-anchor="end" class="b" font-size="14">1.0</text>
<text x="1285.5" y="697.8" text-anchor="end" class="b" font-size="14">1.2</text>
<clipPath id="cc6"><rect x="1691.6" y="682.8" width="320" height="270"/></clipPath>
<g clip-path="url(#cc6)">
<polyline points="1691.6,932.2 1710.5,924.2 1729.3,913.2 1748.2,901.3 1767,891.3 1785.9,882.3 1804.8,870.4 1823.6,858.4 1842.5,851.4 1861.3,840.4 1880.2,830.5 1899.1,815.5 1917.9,799.5 1936.8,784.6 1955.6,765.6 1974.5,748.7" fill="none" stroke="#9c5fa2" stroke-width="1.3"/>
<path d="M1691.6 932.2h0M1710.5 924.2h0M1729.3 913.2h0M1748.2 901.3h0M1767 891.3h0M1785.9 882.3h0M1804.8 870.4h0M1823.6 858.4h0M1842.5 851.4h0M1861.3 840.4h0M1880.2 830.5h0M1899.1 815.5h0M1917.9 799.5h0M1936.8 784.6h0M1955.6 765.6h0M1974.5 748.7h0" stroke="#9c5fa2" stroke-width="6.7" stroke-linecap="round" fill="none"/>
<polyline points="1691.6,932.2 1710.5,923.2 1729.3,920.2 1748.2,909.3 1767,899.3 1785.9,889.3 1804.8,878.3 1823.6,861.4 1842.5,847.4 1861.3,829.5 1880.2,814.5 1899.1,797.5 1917.9,776.6 1936.8,757.6 1955.6,732.7 1974.5,713.7" fill="none" stroke="#52d184" stroke-width="1.3"/>
<path d="M1691.6 932.2h0M1710.5 923.2h0M1729.3 920.2h0M1748.2 909.3h0M1767 899.3h0M1785.9 889.3h0M1804.8 878.3h0M1823.6 861.4h0M1842.5 847.4h0M1861.3 829.5h0M1880.2 814.5h0M1899.1 797.5h0M1917.9 776.6h0M1936.8 757.6h0M1955.6 732.7h0M1974.5 713.7h0" stroke="#52d184" stroke-width="6.7" stroke-linecap="round" fill="none"/>
<polyline points="1691.6,932.2 1710.5,927.2 1729.3,923.2 1748.2,917.2 1767,909.3 1785.9,898.3 1804.8,888.3 1823.6,877.3 1842.5,865.4 1861.3,854.4 1880.2,844.4 1899.1,832.5 1917.9,823.5 1936.8,812.5 1955.6,802.5 1974.5,792.6" fill="none" stroke="#66a6f8" stroke-width="1.3"/>
<path d="M1691.6 932.2h0M1710.5 927.2h0M1729.3 923.2h0M1748.2 917.2h0M1767 909.3h0M1785.9 898.3h0M1804.8 888.3h0M1823.6 877.3h0M1842.5 865.4h0M1861.3 854.4h0M1880.2 844.4h0M1899.1 832.5h0M1917.9 823.5h0M1936.8 812.5h0M1955.6 802.5h0M1974.5 792.6h0" stroke="#66a6f8" stroke-width="6.7" stroke-linecap="round" fill="none"/>
<polyline points="1691.6,932.2 1710.5,931.2 1729.3,928.2 1748.2,921.2 1767,912.2 1785.9,903.3 1804.8,894.3 1823.6,885.3 1842.5,874.3 1861.3,865.4 1880.2,855.4 1899.1,846.4 1917.9,838.4 1936.8,831.5 1955.6,823.5 1974.5,812.5" fill="none" stroke="#45a0a9" stroke-width="1.3"/>
<path d="M1691.6 932.2h0M1710.5 931.2h0M1729.3 928.2h0M1748.2 921.2h0M1767 912.2h0M1785.9 903.3h0M1804.8 894.3h0M1823.6 885.3h0M1842.5 874.3h0M1861.3 865.4h0M1880.2 855.4h0M1899.1 846.4h0M1917.9 838.4h0M1936.8 831.5h0M1955.6 823.5h0M1974.5 812.5h0" stroke="#45a0a9" stroke-width="6.7" stroke-linecap="round" fill="none"/>
</g>
<path d="M1692 692.8V943.5M1690.9 942.4H1985.3M1691.6 942.4v8.5M1785.9 942.4v8.5M1880.2 942.4v8.5M1974.5 942.4v8.5M1692 932.2h-9M1692 892.3h-9M1692 852.4h-9M1692 812.5h-9M1692 772.6h-9M1692 732.7h-9M1692 692.8h-9" fill="none" stroke="#000" stroke-width="2.2"/>
<text x="1691.6" y="967.2" text-anchor="middle" class="b" font-size="14.2">0</text>
<text x="1785.9" y="967.2" text-anchor="middle" class="b" font-size="14.2">10</text>
<text x="1880.2" y="967.2" text-anchor="middle" class="b" font-size="14.2">20</text>
<text x="1974.5" y="967.2" text-anchor="middle" class="b" font-size="14.2">30</text>
<text x="1680.5" y="937.2" text-anchor="end" class="b" font-size="14">0.0</text>
<text x="1680.5" y="897.3" text-anchor="end" class="b" font-size="14">0.2</text>
<text x="1680.5" y="857.4" text-anchor="end" class="b" font-size="14">0.4</text>
<text x="1680.5" y="817.5" text-anchor="end" class="b" font-size="14">0.6</text>
<text x="1680.5" y="777.6" text-anchor="end" class="b" font-size="14">0.8</text>
<text x="1680.5" y="737.7" text-anchor="end" class="b" font-size="14">1.0</text>
<text x="1680.5" y="697.8" text-anchor="end" class="b" font-size="14">1.2</text>
<text x="1442.4" y="992.5" text-anchor="middle" class="b" font-size="18.6">Time [h]</text>
<text x="1837.6" y="992.5" text-anchor="middle" class="b" font-size="18.6">Time [h]</text>
<text transform="translate(1255.1 817) rotate(-90)" text-anchor="middle" class="b" font-size="19">normalized confluence</text>
<text transform="translate(1650.1 817) rotate(-90)" text-anchor="middle" class="b" font-size="19">normalized confluence</text>
<text transform="translate(1222 820) rotate(-90)" text-anchor="middle" font-size="24.5"><tspan>T98G </tspan><tspan class="i">NR1D1</tspan><tspan> KO</tspan></text>
<!-- panel d -->
<text x="40.5" y="648" class="b" font-size="23.5">d</text>
<text x="385.3" y="666" text-anchor="middle" class="b" font-size="17.6">proliferation [treatment effect]</text>
<rect x="114.5" y="703" width="19.5" height="18.3" fill="#a9a9d3"/>
<rect x="133.7" y="703" width="19.5" height="18.3" fill="#9f9fd0"/>
<rect x="152.8" y="703" width="19.5" height="18.3" fill="#9592ce"/>
<rect x="171.9" y="703" width="19.5" height="18.3" fill="#9290ce"/>
<rect x="191.1" y="703" width="19.5" height="18.3" fill="#ae4682"/>
<rect x="210.2" y="703" width="19.5" height="18.3" fill="#d6d3da"/>
<rect x="229.3" y="703" width="19.5" height="18.3" fill="#aeaed3"/>
<rect x="114.5" y="720.9" width="19.5" height="18.3" fill="#a2a2d2"/>
<rect x="133.7" y="720.9" width="19.5" height="18.3" fill="#9f9fd0"/>
<rect x="152.8" y="720.9" width="19.5" height="18.3" fill="#9592ce"/>
<rect x="171.9" y="720.9" width="19.5" height="18.3" fill="#8c8cd0"/>
<rect x="191.1" y="720.9" width="19.5" height="18.3" fill="#dcc8d4"/>
<rect x="210.2" y="720.9" width="19.5" height="18.3" fill="#c3c6d6"/>
<rect x="229.3" y="720.9" width="19.5" height="18.3" fill="#b0b0d2"/>
<rect x="114.5" y="738.8" width="19.5" height="18.3" fill="#a5a5d2"/>
<rect x="133.7" y="738.8" width="19.5" height="18.3" fill="#9fa0ce"/>
<rect x="152.8" y="738.8" width="19.5" height="18.3" fill="#9a97ce"/>
<rect x="171.9" y="738.8" width="19.5" height="18.3" fill="#8c8ccc"/>
<rect x="191.1" y="738.8" width="19.5" height="18.3" fill="#cfb0c6"/>
<rect x="210.2" y="738.8" width="19.5" height="18.3" fill="#cfccd8"/>
<rect x="229.3" y="738.8" width="19.5" height="18.3" fill="#b5b5d4"/>
<rect x="114.5" y="756.8" width="19.5" height="18.3" fill="#b8bad6"/>
<rect x="133.7" y="756.8" width="19.5" height="18.3" fill="#aeaed4"/>
<rect x="152.8" y="756.8" width="19.5" height="18.3" fill="#a5a5d0"/>
<rect x="171.9" y="756.8" width="19.5" height="18.3" fill="#9592cc"/>
<rect x="191.1" y="756.8" width="19.5" height="18.3" fill="#a62060"/>
<rect x="210.2" y="756.8" width="19.5" height="18.3" fill="#bf85a8"/>
<rect x="229.3" y="756.8" width="19.5" height="18.3" fill="#bfc3d6"/>
<rect x="114.5" y="774.7" width="19.5" height="18.3" fill="#b2b4d6"/>
<rect x="133.7" y="774.7" width="19.5" height="18.3" fill="#b2b4d6"/>
<rect x="152.8" y="774.7" width="19.5" height="18.3" fill="#8f90cc"/>
<rect x="171.9" y="774.7" width="19.5" height="18.3" fill="#8c8ccc"/>
<rect x="191.1" y="774.7" width="19.5" height="18.3" fill="#dbc9d4"/>
<rect x="210.2" y="774.7" width="19.5" height="18.3" fill="#d9d7dc"/>
<rect x="229.3" y="774.7" width="19.5" height="18.3" fill="#a2a2d0"/>
<rect x="248.4" y="703" width="19.5" height="18.3" fill="#a0a2d2"/>
<rect x="267.6" y="703" width="19.5" height="18.3" fill="#8e92ce"/>
<rect x="286.7" y="703" width="19.5" height="18.3" fill="#8e92ce"/>
<rect x="305.8" y="703" width="19.5" height="18.3" fill="#8484cc"/>
<rect x="324.9" y="703" width="19.5" height="18.3" fill="#b4b4d4"/>
<rect x="344.1" y="703" width="19.5" height="18.3" fill="#a9a9d2"/>
<rect x="363.2" y="703" width="19.5" height="18.3" fill="#8888cc"/>
<rect x="248.4" y="720.9" width="19.5" height="18.3" fill="#a2a2d2"/>
<rect x="267.6" y="720.9" width="19.5" height="18.3" fill="#9292ce"/>
<rect x="286.7" y="720.9" width="19.5" height="18.3" fill="#8484cc"/>
<rect x="305.8" y="720.9" width="19.5" height="18.3" fill="#8282cc"/>
<rect x="324.9" y="720.9" width="19.5" height="18.3" fill="#b4b4d4"/>
<rect x="344.1" y="720.9" width="19.5" height="18.3" fill="#a5a5d2"/>
<rect x="363.2" y="720.9" width="19.5" height="18.3" fill="#8888cc"/>
<rect x="248.4" y="738.8" width="19.5" height="18.3" fill="#a5a5d2"/>
<rect x="267.6" y="738.8" width="19.5" height="18.3" fill="#9c9cce"/>
<rect x="286.7" y="738.8" width="19.5" height="18.3" fill="#9292cc"/>
<rect x="305.8" y="738.8" width="19.5" height="18.3" fill="#8888cc"/>
<rect x="324.9" y="738.8" width="19.5" height="18.3" fill="#b8b8d6"/>
<rect x="344.1" y="738.8" width="19.5" height="18.3" fill="#9c9cd0"/>
<rect x="363.2" y="738.8" width="19.5" height="18.3" fill="#8888cc"/>
<rect x="248.4" y="756.8" width="19.5" height="18.3" fill="#d0d0da"/>
<rect x="267.6" y="756.8" width="19.5" height="18.3" fill="#c0c3d8"/>
<rect x="286.7" y="756.8" width="19.5" height="18.3" fill="#aeaed4"/>
<rect x="305.8" y="756.8" width="19.5" height="18.3" fill="#8c8ccc"/>
<rect x="324.9" y="756.8" width="19.5" height="18.3" fill="#d8d8dc"/>
<rect x="344.1" y="756.8" width="19.5" height="18.3" fill="#a5a5d0"/>
<rect x="363.2" y="756.8" width="19.5" height="18.3" fill="#9898cc"/>
<rect x="248.4" y="774.7" width="19.5" height="18.3" fill="#c3c6d8"/>
<rect x="267.6" y="774.7" width="19.5" height="18.3" fill="#b8bad6"/>
<rect x="286.7" y="774.7" width="19.5" height="18.3" fill="#9c9cd2"/>
<rect x="305.8" y="774.7" width="19.5" height="18.3" fill="#9a9ad0"/>
<rect x="324.9" y="774.7" width="19.5" height="18.3" fill="#d6d4dc"/>
<rect x="344.1" y="774.7" width="19.5" height="18.3" fill="#a5a5d0"/>
<rect x="363.2" y="774.7" width="19.5" height="18.3" fill="#8c8ccc"/>
<rect x="382.3" y="703" width="19.5" height="18.3" fill="#d2d0da"/>
<rect x="401.5" y="703" width="19.5" height="18.3" fill="#d8d6dc"/>
<rect x="420.6" y="703" width="19.5" height="18.3" fill="#bcbcd8"/>
<rect x="439.7" y="703" width="19.5" height="18.3" fill="#a5a5d2"/>
<rect x="458.8" y="703" width="19.5" height="18.3" fill="#c9a0be"/>
<rect x="478" y="703" width="19.5" height="18.3" fill="#c3c3da"/>
<rect x="497.1" y="703" width="19.5" height="18.3" fill="#b8b8d8"/>
<rect x="382.3" y="720.9" width="19.5" height="18.3" fill="#d8d6dc"/>
<rect x="401.5" y="720.9" width="19.5" height="18.3" fill="#dcdadc"/>
<rect x="420.6" y="720.9" width="19.5" height="18.3" fill="#b0b0d4"/>
<rect x="439.7" y="720.9" width="19.5" height="18.3" fill="#a5a5d2"/>
<rect x="458.8" y="720.9" width="19.5" height="18.3" fill="#cfaac4"/>
<rect x="478" y="720.9" width="19.5" height="18.3" fill="#d6d4dc"/>
<rect x="497.1" y="720.9" width="19.5" height="18.3" fill="#bcbcd8"/>
<rect x="382.3" y="738.8" width="19.5" height="18.3" fill="#bf7ba5"/>
<rect x="401.5" y="738.8" width="19.5" height="18.3" fill="#a82468"/>
<rect x="420.6" y="738.8" width="19.5" height="18.3" fill="#b4b4d6"/>
<rect x="439.7" y="738.8" width="19.5" height="18.3" fill="#a9a9d2"/>
<rect x="458.8" y="738.8" width="19.5" height="18.3" fill="#bf78a4"/>
<rect x="478" y="738.8" width="19.5" height="18.3" fill="#cdcdda"/>
<rect x="497.1" y="738.8" width="19.5" height="18.3" fill="#bcbcd8"/>
<rect x="382.3" y="756.8" width="19.5" height="18.3" fill="#d8d6dc"/>
<rect x="401.5" y="756.8" width="19.5" height="18.3" fill="#c8c8da"/>
<rect x="420.6" y="756.8" width="19.5" height="18.3" fill="#a5a5d2"/>
<rect x="439.7" y="756.8" width="19.5" height="18.3" fill="#a9a9d2"/>
<rect x="458.8" y="756.8" width="19.5" height="18.3" fill="#dad8dc"/>
<rect x="478" y="756.8" width="19.5" height="18.3" fill="#bcbcd8"/>
<rect x="497.1" y="756.8" width="19.5" height="18.3" fill="#b0b0d6"/>
<rect x="382.3" y="774.7" width="19.5" height="18.3" fill="#b55a90"/>
<rect x="401.5" y="774.7" width="19.5" height="18.3" fill="#a41c5c"/>
<rect x="420.6" y="774.7" width="19.5" height="18.3" fill="#c8c8da"/>
<rect x="439.7" y="774.7" width="19.5" height="18.3" fill="#c8c8da"/>
<rect x="458.8" y="774.7" width="19.5" height="18.3" fill="#aa2c6e"/>
<rect x="478" y="774.7" width="19.5" height="18.3" fill="#c8c8da"/>
<rect x="497.1" y="774.7" width="19.5" height="18.3" fill="#bcbcd8"/>
<rect x="516.2" y="703" width="19.5" height="18.3" fill="#c3c3da"/>
<rect x="535.3" y="703" width="19.5" height="18.3" fill="#a9a9d2"/>
<rect x="554.5" y="703" width="19.5" height="18.3" fill="#8c8ccc"/>
<rect x="573.6" y="703" width="19.5" height="18.3" fill="#8888cc"/>
<rect x="592.7" y="703" width="19.5" height="18.3" fill="#bcbcd8"/>
<rect x="611.8" y="703" width="19.5" height="18.3" fill="#9898d0"/>
<rect x="631" y="703" width="19.5" height="18.3" fill="#8c8ccc"/>
<rect x="516.2" y="720.9" width="19.5" height="18.3" fill="#bcbcd8"/>
<rect x="535.3" y="720.9" width="19.5" height="18.3" fill="#a0a0d0"/>
<rect x="554.5" y="720.9" width="19.5" height="18.3" fill="#8c8ccc"/>
<rect x="573.6" y="720.9" width="19.5" height="18.3" fill="#8484cc"/>
<rect x="592.7" y="720.9" width="19.5" height="18.3" fill="#c8c8da"/>
<rect x="611.8" y="720.9" width="19.5" height="18.3" fill="#9c9cd0"/>
<rect x="631" y="720.9" width="19.5" height="18.3" fill="#8c8ccc"/>
<rect x="516.2" y="738.8" width="19.5" height="18.3" fill="#cfcdda"/>
<rect x="535.3" y="738.8" width="19.5" height="18.3" fill="#a0a0d0"/>
<rect x="554.5" y="738.8" width="19.5" height="18.3" fill="#8c8ccc"/>
<rect x="573.6" y="738.8" width="19.5" height="18.3" fill="#8484cc"/>
<rect x="592.7" y="738.8" width="19.5" height="18.3" fill="#b8b8d6"/>
<rect x="611.8" y="738.8" width="19.5" height="18.3" fill="#9c9cd0"/>
<rect x="631" y="738.8" width="19.5" height="18.3" fill="#8c8ccc"/>
<rect x="516.2" y="756.8" width="19.5" height="18.3" fill="#d0ceda"/>
<rect x="535.3" y="756.8" width="19.5" height="18.3" fill="#c3c3da"/>
<rect x="554.5" y="756.8" width="19.5" height="18.3" fill="#b0b0d4"/>
<rect x="573.6" y="756.8" width="19.5" height="18.3" fill="#8484cc"/>
<rect x="592.7" y="756.8" width="19.5" height="18.3" fill="#bcbcd8"/>
<rect x="611.8" y="756.8" width="19.5" height="18.3" fill="#a0a0d0"/>
<rect x="631" y="756.8" width="19.5" height="18.3" fill="#8c8ccc"/>
<rect x="516.2" y="774.7" width="19.5" height="18.3" fill="#c3c3da"/>
<rect x="535.3" y="774.7" width="19.5" height="18.3" fill="#a0a0d2"/>
<rect x="554.5" y="774.7" width="19.5" height="18.3" fill="#8484cc"/>
<rect x="573.6" y="774.7" width="19.5" height="18.3" fill="#8888cc"/>
<rect x="592.7" y="774.7" width="19.5" height="18.3" fill="#bcbcd8"/>
<rect x="611.8" y="774.7" width="19.5" height="18.3" fill="#9494ce"/>
<rect x="631" y="774.7" width="19.5" height="18.3" fill="#8c8ccc"/>
<rect x="114.8" y="703.2" width="535.5" height="89.6" fill="none" stroke="#000" stroke-width="2.6"/>
<path d="M250 693.5V803.8M382.2 693.5V803.8M517.4 693.5V803.8" fill="none" stroke="#000" stroke-width="2.6"/>
<text x="102.5" y="717.6" text-anchor="end" class="b" font-size="15.1">0h</text>
<text x="102.5" y="735.5" text-anchor="end" class="b" font-size="15.1">5h</text>
<text x="102.5" y="753.4" text-anchor="end" class="b" font-size="15.1">10h</text>
<text x="102.5" y="771.3" text-anchor="end" class="b" font-size="15.1">15h</text>
<text x="102.5" y="789.2" text-anchor="end" class="b" font-size="15.1">20h</text>
<path d="M114.8 712.2h-9.5M114.8 730.1h-9.5M114.8 748h-9.5M114.8 765.9h-9.5M114.8 783.8h-9.5M124.3 792.8v9M143.4 792.8v9M162.6 792.8v9M181.7 792.8v9M200.8 792.8v9M219.9 792.8v9M239.1 792.8v9M258.2 792.8v9M277.3 792.8v9M296.5 792.8v9M315.6 792.8v9M334.7 792.8v9M353.8 792.8v9M373 792.8v9M392.1 792.8v9M411.2 792.8v9M430.3 792.8v9M449.5 792.8v9M468.6 792.8v9M487.7 792.8v9M506.8 792.8v9M526 792.8v9M545.1 792.8v9M564.2 792.8v9M583.4 792.8v9M602.5 792.8v9M621.6 792.8v9M640.7 792.8v9" fill="none" stroke="#000" stroke-width="2.7"/>
<text transform="translate(127.6 815.8) rotate(-45)" text-anchor="end" class="b" font-size="15.5">TMZ</text>
<text transform="translate(146.7 815.8) rotate(-45)" text-anchor="end" class="b" font-size="15.5">TMZ+KL001</text>
<text transform="translate(165.9 815.8) rotate(-45)" text-anchor="end" class="b" font-size="15.5">TMZ+SR9011</text>
<text transform="translate(185 815.8) rotate(-45)" text-anchor="end" class="b" font-size="15.5">TMZ+KL001+SR9011</text>
<text transform="translate(204.1 815.8) rotate(-45)" text-anchor="end" class="b" font-size="15.5">KL001</text>
<text transform="translate(223.2 815.8) rotate(-45)" text-anchor="end" class="b" font-size="15.5">SR9011</text>
<text transform="translate(242.4 815.8) rotate(-45)" text-anchor="end" class="b" font-size="15.5">KL001+SR9011</text>
<text transform="translate(261.5 815.8) rotate(-45)" text-anchor="end" class="b" font-size="15.5">TMZ</text>
<text transform="translate(280.6 815.8) rotate(-45)" text-anchor="end" class="b" font-size="15.5">TMZ+KL001</text>
<text transform="translate(299.8 815.8) rotate(-45)" text-anchor="end" class="b" font-size="15.5">TMZ+SR9011</text>
<text transform="translate(318.9 815.8) rotate(-45)" text-anchor="end" class="b" font-size="15.5">TMZ+KL001+SR9011</text>
<text transform="translate(338 815.8) rotate(-45)" text-anchor="end" class="b" font-size="15.5">KL001</text>
<text transform="translate(357.1 815.8) rotate(-45)" text-anchor="end" class="b" font-size="15.5">SR9011</text>
<text transform="translate(376.3 815.8) rotate(-45)" text-anchor="end" class="b" font-size="15.5">KL001+SR9011</text>
<text transform="translate(395.4 815.8) rotate(-45)" text-anchor="end" class="b" font-size="15.5">TMZ</text>
<text transform="translate(414.5 815.8) rotate(-45)" text-anchor="end" class="b" font-size="15.5">TMZ+KL001</text>
<text transform="translate(433.6 815.8) rotate(-45)" text-anchor="end" class="b" font-size="15.5">TMZ+SR9011</text>
<text transform="translate(452.8 815.8) rotate(-45)" text-anchor="end" class="b" font-size="15.5">TMZ+KL001+SR9011</text>
<text transform="translate(471.9 815.8) rotate(-45)" text-anchor="end" class="b" font-size="15.5">KL001</text>
<text transform="translate(491 815.8) rotate(-45)" text-anchor="end" class="b" font-size="15.5">SR9011</text>
<text transform="translate(510.1 815.8) rotate(-45)" text-anchor="end" class="b" font-size="15.5">KL001+SR9011</text>
<text transform="translate(529.3 815.8) rotate(-45)" text-anchor="end" class="b" font-size="15.5">TMZ</text>
<text transform="translate(548.4 815.8) rotate(-45)" text-anchor="end" class="b" font-size="15.5">TMZ+KL001</text>
<text transform="translate(567.5 815.8) rotate(-45)" text-anchor="end" class="b" font-size="15.5">TMZ+SR9011</text>
<text transform="translate(586.7 815.8) rotate(-45)" text-anchor="end" class="b" font-size="15.5">TMZ+KL001+SR9011</text>
<text transform="translate(605.8 815.8) rotate(-45)" text-anchor="end" class="b" font-size="15.5">KL001</text>
<text transform="translate(624.9 815.8) rotate(-45)" text-anchor="end" class="b" font-size="15.5">SR9011</text>
<text transform="translate(644 815.8) rotate(-45)" text-anchor="end" class="b" font-size="15.5">KL001+SR9011</text>
<text x="185" y="692" text-anchor="middle" class="b" font-size="17">WT</text>
<text x="318" y="692" text-anchor="middle" font-size="17"><tspan class="b i">BMAL1</tspan><tspan class="b"> KO</tspan></text>
<text x="447" y="692" text-anchor="middle" font-size="17"><tspan class="b i">NR1D1</tspan><tspan class="b"> KO</tspan></text>
<text x="583" y="692" text-anchor="middle" font-size="17"><tspan class="b i">PER2</tspan><tspan class="b"> KO</tspan></text>
<rect x="676.6" y="703.6" width="25.8" height="88.8" fill="url(#g2)" stroke="#000" stroke-width="2.2"/>
<path d="M676.6 725.4h5.1M702.4 725.4h-5.1M676.6 747h5.1M702.4 747h-5.1M676.6 768.6h5.1M702.4 768.6h-5.1M676.6 790.2h5.1M702.4 790.2h-5.1" fill="none" stroke="#000" stroke-width="1.8"/>
<text x="713.4" y="731.5" font-size="17.1">0.6</text>
<text x="713.4" y="753.1" font-size="17.1">0.3</text>
<text x="713.4" y="774.7" font-size="17.1">0</text>
<text x="713.4" y="796.3" font-size="17.1">-0.3</text>
<text x="959" y="680" text-anchor="middle" class="b" font-size="19">mean treatment effect</text>
<rect x="899.4" y="705.4" width="17.4" height="17.3" fill="#b0b0d6"/>
<rect x="916.4" y="705.4" width="17.4" height="17.3" fill="#a9a9d4"/>
<rect x="933.3" y="705.4" width="17.4" height="17.3" fill="#9c9cd0"/>
<rect x="950.3" y="705.4" width="17.4" height="17.3" fill="#9494ce"/>
<rect x="967.3" y="705.4" width="17.4" height="17.3" fill="#b0286c"/>
<rect x="984.3" y="705.4" width="17.4" height="17.3" fill="#d6d4da"/>
<rect x="1001.2" y="705.4" width="17.4" height="17.3" fill="#bcbcd8"/>
<rect x="899.4" y="722.3" width="17.4" height="17.3" fill="#b0b0d6"/>
<rect x="916.4" y="722.3" width="17.4" height="17.3" fill="#a5a5d2"/>
<rect x="933.3" y="722.3" width="17.4" height="17.3" fill="#9494ce"/>
<rect x="950.3" y="722.3" width="17.4" height="17.3" fill="#8c8ccc"/>
<rect x="967.3" y="722.3" width="17.4" height="17.3" fill="#ccccda"/>
<rect x="984.3" y="722.3" width="17.4" height="17.3" fill="#a5a5d4"/>
<rect x="1001.2" y="722.3" width="17.4" height="17.3" fill="#9090cc"/>
<rect x="899.4" y="739.2" width="17.4" height="17.3" fill="#d0b0c8"/>
<rect x="916.4" y="739.2" width="17.4" height="17.3" fill="#b85c94"/>
<rect x="933.3" y="739.2" width="17.4" height="17.3" fill="#c3c3da"/>
<rect x="950.3" y="739.2" width="17.4" height="17.3" fill="#b4b4d6"/>
<rect x="967.3" y="739.2" width="17.4" height="17.3" fill="#b0286c"/>
<rect x="984.3" y="739.2" width="17.4" height="17.3" fill="#ccccda"/>
<rect x="1001.2" y="739.2" width="17.4" height="17.3" fill="#c0c0d8"/>
<rect x="899.4" y="756.2" width="17.4" height="17.3" fill="#c8c8da"/>
<rect x="916.4" y="756.2" width="17.4" height="17.3" fill="#a9a9d4"/>
<rect x="933.3" y="756.2" width="17.4" height="17.3" fill="#9090cc"/>
<rect x="950.3" y="756.2" width="17.4" height="17.3" fill="#8484cc"/>
<rect x="967.3" y="756.2" width="17.4" height="17.3" fill="#c3c3da"/>
<rect x="984.3" y="756.2" width="17.4" height="17.3" fill="#a0a0d2"/>
<rect x="1001.2" y="756.2" width="17.4" height="17.3" fill="#9090cc"/>
<rect x="899.6" y="705.6" width="118.8" height="67.7" fill="none" stroke="#000" stroke-width="2.6"/>
<text x="887.5" y="719.4" text-anchor="end" class="b" font-size="14.7">T98G WT</text>
<text x="887.5" y="736.3" text-anchor="end" font-size="14.7"><tspan class="b">T98G </tspan><tspan class="i">BMAL1</tspan><tspan class="b"> KO</tspan></text>
<text x="887.5" y="753.2" text-anchor="end" font-size="14.7"><tspan class="b">T98G </tspan><tspan class="i">NR1D1</tspan><tspan class="b"> KO</tspan></text>
<text x="887.5" y="770.1" text-anchor="end" font-size="14.7"><tspan class="b">T98G </tspan><tspan class="i">PER2</tspan><tspan class="b"> KO</tspan></text>
<path d="M899.6 714.1h-9M899.6 731h-9M899.6 747.9h-9M899.6 764.8h-9M908.1 773.3v9M925.1 773.3v9M942 773.3v9M959 773.3v9M976 773.3v9M992.9 773.3v9M1009.9 773.3v9" fill="none" stroke="#000" stroke-width="2.4"/>
<text transform="translate(909.4 798) rotate(-45)" text-anchor="end" class="b" font-size="15">TMZ</text>
<text transform="translate(925.6 798.8) rotate(-45)" text-anchor="end" class="b" font-size="15">TMZ+KL001</text>
<text transform="translate(944.1 797.2) rotate(-45)" text-anchor="end" class="b" font-size="15">TMZ+SR9011</text>
<text transform="translate(961.5 797.2) rotate(-45)" text-anchor="end" class="b" font-size="15">TMZ+KL001+SR9011</text>
<text transform="translate(972.9 802) rotate(-45)" text-anchor="end" class="b" font-size="15">KL001</text>
<text transform="translate(991 799.6) rotate(-45)" text-anchor="end" class="b" font-size="15">SR9011</text>
<text transform="translate(1012.8 797.2) rotate(-45)" text-anchor="end" class="b" font-size="15">KL001+SR9011</text>
<rect x="1042.6" y="705.6" width="24.4" height="67.7" fill="url(#g3)" stroke="#000" stroke-width="2.2"/>
<path d="M1042.6 722.6h5.1M1067 722.6h-5.1M1042.6 744h5.1M1067 744h-5.1M1042.6 765.4h5.1M1067 765.4h-5.1" fill="none" stroke="#000" stroke-width="1.8"/>
<text x="1076" y="728.1" font-size="15.5">0.6</text>
<text x="1076" y="749.5" font-size="15.5">0.3</text>
<text x="1076" y="770.9" font-size="15.5">0</text>
<!-- panel e -->
<text x="40.5" y="943.5" class="b" font-size="23.5">e</text>
<text x="114.5" y="941.3" fill="#9c5fa2" font-size="16.1">DMSO</text>
<text x="172.5" y="941.3" fill="#b6cd36" font-size="16.1">TMZ</text>
<text x="215" y="941.3" fill="#c4652a" font-size="16.1">TMZ+KL001</text>
<text x="315" y="941.3" fill="#1f1ff5" font-size="16.1">TMZ+SR9011</text>
<text x="425" y="941.3" fill="#d5266c" font-size="16.1">TMZ+KL001+SR9011</text>
<text x="592.5" y="941.3" fill="#52d184" font-size="16.1">KL001</text>
<text x="648.8" y="941.3" fill="#66a6f8" font-size="16.1">SR9011</text>
<text x="716" y="941.3" fill="#45a0a9" font-size="16.1">KL001+SR9011</text>
<path d="M166.4 1071.3h0M167 1073.1h0M167.6 1077.2h0M168.3 1075.9h0M168.9 1076.1h0M169.5 1079.2h0M170.1 1079.3h0M170.8 1080h0M171.4 1081.1h0M172 1082h0M172.7 1081.9h0M173.3 1082.9h0M173.9 1086.6h0M174.6 1085.8h0M175.2 1088.6h0M175.8 1090.2h0M176.4 1093.1h0M177.1 1093.7h0M177.7 1093.8h0M178.3 1098.9h0M179 1102.5h0M179.6 1104.7h0M180.2 1103.8h0M180.9 1103.7h0M181.5 1106.3h0M182.1 1107.7h0M182.7 1110.6h0M183.4 1111.2h0M184 1115.1h0M184.6 1116h0M185.3 1118.8h0M185.9 1120.6h0M186.5 1121.3h0M187.2 1123.6h0M187.8 1122.5h0M188.4 1125.3h0M189 1126.4h0M189.7 1129.5h0M190.3 1128.3h0M190.9 1131.3h0M191.6 1130.6h0M192.2 1132.9h0M192.8 1134.4h0M193.5 1134.8h0M194.1 1136.3h0M194.7 1136.1h0M195.3 1137.2h0M196 1136.8h0M196.6 1137h0M197.2 1139.2h0M197.9 1140.2h0M198.5 1140.7h0M199.1 1142h0M199.7 1141.3h0M200.4 1141.7h0M201 1142.8h0M201.6 1140.7h0M202.3 1142.6h0M202.9 1143.8h0M203.5 1143.9h0M204.2 1143.7h0M204.8 1143.9h0M205.4 1141.5h0M206 1143.7h0M206.7 1142.8h0M207.3 1142.6h0M207.9 1140.4h0M208.6 1143.2h0M209.2 1141.6h0M209.8 1141h0M210.5 1140.2h0M211.1 1139.3h0M211.7 1139.3h0M212.3 1136.7h0M213 1137h0M213.6 1132.7h0M214.2 1136.5h0M214.9 1132.5h0M215.5 1133.4h0M216.1 1131.7h0M216.8 1126.9h0M217.4 1125.7h0M218 1129h0M218.6 1125.6h0M219.3 1124.2h0M219.9 1124.9h0M220.5 1121.2h0M221.2 1119.7h0M221.8 1118.8h0M222.4 1120h0M223.1 1114.9h0M223.7 1114.7h0M224.3 1113.7h0M224.9 1112.9h0M225.6 1109.8h0M226.2 1108.3h0M226.8 1108.7h0M227.5 1106.6h0M228.1 1103.9h0M228.7 1105.6h0M229.4 1101.6h0M230 1102.7h0M230.6 1099.8h0M231.2 1096.7h0M231.9 1095.2h0M232.5 1093.6h0M233.1 1091.4h0M233.8 1088.2h0M234.4 1086.9h0M235 1087h0M235.7 1084.1h0M236.3 1083.8h0M236.9 1078.1h0M237.5 1080.9h0M238.2 1079.2h0M238.8 1078.3h0M239.4 1077.8h0M240.1 1076.7h0M240.7 1075.5h0M241.3 1077.4h0M242 1075.7h0M242.6 1075.7h0M243.2 1070.5h0M243.8 1068.5h0M244.5 1068.7h0M245.1 1069.3h0M245.7 1067.6h0M246.4 1068.2h0M247 1066.5h0M247.6 1067.7h0M248.2 1068h0M248.9 1069h0M249.5 1068.6h0M250.1 1067.8h0M250.8 1070.2h0M251.4 1069.1h0M252 1067.3h0M252.7 1069.3h0M253.3 1066.7h0M253.9 1066.9h0M254.5 1069.3h0M255.2 1071.1h0M255.8 1069.4h0M256.4 1070.3h0M257.1 1069.7h0M257.7 1067.4h0M258.3 1071.4h0M259 1070.5h0M259.6 1070.5h0M260.2 1070.5h0M260.8 1071.7h0M261.5 1072.4h0M262.1 1071.7h0M262.7 1073.8h0M263.4 1075.6h0M264 1076h0M264.6 1078.4h0M265.3 1077.6h0M265.9 1078.7h0M266.5 1084.4h0M267.1 1080.7h0M267.8 1083.5h0M268.4 1084.4h0M269 1085.6h0M269.7 1090.8h0M270.3 1090.4h0M270.9 1091h0M271.6 1093.1h0M272.2 1092.8h0M272.8 1094.6h0M273.4 1097.8h0M274.1 1095.7h0M274.7 1097.2h0M275.3 1099.3h0M276 1102.3h0M276.6 1103.1h0M277.2 1103.6h0M277.9 1104.2h0M278.5 1104.7h0M279.1 1108h0M279.7 1111h0M280.4 1110.7h0M281 1110.2h0M281.6 1109.6h0M282.3 1108.3h0M282.9 1111.1h0M283.5 1111.2h0M284.2 1112.3h0M284.8 1113.7h0M285.4 1112.7h0M286 1113.6h0M286.7 1114.8h0M287.3 1117.1h0M287.9 1116.4h0M288.6 1117.8h0M289.2 1116h0M289.8 1117h0M290.4 1119.7h0M291.1 1117.2h0M291.7 1119.3h0M292.3 1118.7h0M293 1117.1h0M293.6 1119.7h0M294.2 1118.3h0M294.9 1119.8h0M295.5 1120.4h0M296.1 1117h0M296.7 1118.3h0M297.4 1119.9h0M298 1121h0M298.6 1119.7h0M299.3 1118.1h0M299.9 1119.6h0M300.5 1120.2h0M301.2 1120h0M301.8 1118.8h0M302.4 1121.1h0M303 1116.9h0M303.7 1117.4h0M304.3 1116.3h0M304.9 1118.1h0M305.6 1116.3h0M306.2 1115.5h0M306.8 1118.1h0M307.5 1116.2h0M308.1 1115.5h0M308.7 1116.3h0M309.3 1115.7h0M310 1115.1h0M310.6 1115.8h0M311.2 1116.6h0M311.9 1114.7h0M312.5 1114.2h0M313.1 1114.3h0M313.8 1113.5h0M314.4 1112.6h0M315 1113.5h0M315.6 1114.2h0M316.3 1113.5h0M316.9 1110.4h0M317.5 1113.8h0M318.2 1110h0M318.8 1111.5h0M319.4 1111.6h0M320.1 1110.7h0M320.7 1110.5h0M321.3 1109.4h0M321.9 1112.5h0M322.6 1108.1h0M323.2 1109.1h0M323.8 1110.8h0M324.5 1110.4h0M325.1 1111.4h0M325.7 1110.2h0M326.4 1110.7h0M327 1108.8h0M327.6 1111h0M328.2 1108.9h0M328.9 1109.4h0M329.5 1110.1h0M330.1 1105.9h0M330.8 1108.1h0M331.4 1107.8h0M332 1109.5h0M332.7 1108.5h0M333.3 1107.3h0M333.9 1108.2h0M334.5 1106.3h0M335.2 1106.3h0M335.8 1107.3h0M336.4 1105.8h0M337.1 1106h0M337.7 1106.4h0M338.3 1108h0M338.9 1107.9h0M339.6 1106.4h0M340.2 1105.3h0M340.8 1106.9h0M341.5 1103.9h0M342.1 1104.9h0M342.7 1106.8h0M343.4 1104.4h0M344 1103.6h0M344.6 1104h0M345.2 1101h0M345.9 1102.7h0M346.5 1101.3h0M347.1 1102.8h0M347.8 1101.2h0M348.4 1105.2h0M349 1103.1h0M349.7 1102.4h0M350.3 1101h0M350.9 1101.4h0M351.5 1100.2h0M352.2 1101h0M352.8 1101.7h0M353.4 1102.9h0M354.1 1102.2h0M354.7 1102.1h0M355.3 1103.2h0M356 1103.7h0M356.6 1105.4h0M357.2 1107.2h0M357.8 1107.5h0M358.5 1106.6h0M359.1 1105.4h0M359.7 1107.6h0M360.4 1107.7h0M361 1110.8h0M361.6 1106h0M362.3 1110h0M362.9 1106.9h0M363.5 1110h0M364.1 1107.9h0M364.8 1108.7h0M365.4 1110.4h0M366 1111.3h0M366.7 1112.5h0M367.3 1111.6h0M367.9 1110.5h0M368.6 1111.1h0M369.2 1113.7h0M369.8 1111h0M370.4 1113.7h0M371.1 1112.9h0M371.7 1113.9h0M372.3 1113.3h0M373 1110.4h0M373.6 1111.8h0M374.2 1112.1h0M374.9 1110.6h0M375.5 1108.1h0M376.1 1109.1h0M376.7 1105.9h0M377.4 1105.5h0M378 1105.6h0M378.6 1103.2h0M379.3 1101.4h0M379.9 1105.2h0M380.5 1100.3h0M381.1 1100.5h0M381.8 1100.4h0M382.4 1099.4h0M383 1098.9h0M383.7 1099h0M384.3 1095.8h0M384.9 1096.7h0M385.6 1095.2h0M386.2 1096.6h0M386.8 1098.1h0M387.4 1095.3h0M388.1 1096.1h0M388.7 1097.4h0M389.3 1097.4h0M390 1094.3h0M390.6 1093.5h0M391.2 1093.2h0M391.9 1093.3h0M392.5 1093.4h0M393.1 1092.7h0M393.7 1091.9h0M394.4 1090.8h0M395 1091.3h0M395.6 1091.8h0M396.3 1090.3h0M396.9 1089.3h0M397.5 1089h0M398.2 1088.4h0M398.8 1086.2h0M399.4 1088.2h0M400 1091.6h0M400.7 1089.5h0M401.3 1093.4h0M401.9 1089.9h0M402.6 1090.2h0M403.2 1090.4h0M403.8 1091.7h0M404.5 1092.2h0M405.1 1090.6h0M405.7 1091.5h0M406.3 1089.2h0M407 1090.9h0M407.6 1090.8h0M408.2 1089.2h0M408.9 1090.6h0M409.5 1091.4h0M410.1 1090.9h0M410.8 1090.9h0M411.4 1091.7h0M412 1090.6h0M412.6 1091.4h0M413.3 1091.2h0M413.9 1090.7h0M414.5 1089.9h0M415.2 1089.3h0M415.8 1091.1h0M416.4 1090.6h0M417.1 1089.3h0M417.7 1089.1h0M418.3 1088.2h0M418.9 1090.7h0M419.6 1088.6h0M420.2 1087.6h0M420.8 1090.1h0M421.5 1087.7h0M422.1 1086.5h0M422.7 1088.4h0M423.4 1089.9h0M424 1088.7h0M424.6 1088.2h0M425.2 1088.4h0M425.9 1091.9h0M426.5 1086.1h0M427.1 1088.1h0M427.8 1087.5h0M428.4 1086h0M429 1086.6h0M429.6 1087.4h0M430.3 1087h0M430.9 1087.3h0M431.5 1087.9h0M432.2 1089.3h0M432.8 1087.8h0M433.4 1087.9h0M434.1 1090.6h0M434.7 1092.3h0M435.3 1091.4h0M435.9 1092h0M436.6 1094h0M437.2 1094.9h0M437.8 1094.1h0M438.5 1094.6h0M439.1 1094h0M439.7 1096.2h0M440.4 1095.7h0M441 1098.6h0M441.6 1101h0M442.2 1100.8h0M442.9 1101.3h0M443.5 1104h0M444.1 1101.1h0M444.8 1102.6h0M445.4 1103.5h0M446 1105.1h0M446.7 1106.5h0M447.3 1105.2h0M447.9 1106.5h0M448.5 1105.7h0M449.2 1106.9h0M449.8 1108h0M450.4 1105.9h0M451.1 1106.2h0M451.7 1106.1h0M452.3 1106.9h0M453 1105.1h0M453.6 1107.7h0" stroke="#9c5fa2" stroke-width="4.6" stroke-linecap="round" fill="none"/>
<path d="M166.4 1156.9h0M167 1158.4h0M167.6 1158.1h0M168.3 1160.1h0M168.9 1156h0M169.5 1154.7h0M170.1 1153.9h0M170.8 1152.1h0M171.4 1150.2h0M172 1150.8h0M172.7 1149h0M173.3 1147.8h0M173.9 1145.4h0M174.6 1143.4h0M175.2 1144h0M175.8 1142.3h0M176.4 1139.7h0M177.1 1137.2h0M177.7 1137.8h0M178.3 1137.4h0M179 1133.6h0M179.6 1134.1h0M180.2 1131.1h0M180.9 1128.3h0M181.5 1128.7h0M182.1 1127.9h0M182.7 1125.9h0M183.4 1126.2h0M184 1124.3h0M184.6 1123.7h0M185.3 1121.6h0M185.9 1121.2h0M186.5 1119.7h0M187.2 1118.8h0M187.8 1117.4h0M188.4 1117.1h0M189 1116.4h0M189.7 1114.3h0M190.3 1116.7h0M190.9 1112.8h0M191.6 1113.7h0M192.2 1115.1h0M192.8 1113.2h0M193.5 1112h0M194.1 1110.4h0M194.7 1112.3h0M195.3 1110.5h0M196 1110h0M196.6 1111.6h0M197.2 1110.9h0M197.9 1108.6h0M198.5 1108.1h0M199.1 1107.6h0M199.7 1107.6h0M200.4 1107.6h0M201 1107.2h0M201.6 1105.9h0M202.3 1107.9h0M202.9 1106.8h0M203.5 1106h0M204.2 1108h0M204.8 1103.7h0M205.4 1106.2h0M206 1104.2h0M206.7 1101h0M207.3 1105.2h0M207.9 1105.1h0M208.6 1102.1h0M209.2 1104.7h0M209.8 1103.8h0M210.5 1102.5h0M211.1 1102.8h0M211.7 1102.5h0M212.3 1103.1h0M213 1102.3h0M213.6 1103.5h0M214.2 1103.7h0M214.9 1104.8h0M215.5 1105.5h0M216.1 1107.1h0M216.8 1103.3h0M217.4 1106.5h0M218 1102.6h0M218.6 1101.7h0M219.3 1104.8h0M219.9 1104.4h0M220.5 1104.4h0M221.2 1102.8h0M221.8 1105h0M222.4 1104.2h0M223.1 1105h0M223.7 1105.8h0M224.3 1104.4h0M224.9 1108h0M225.6 1106.9h0M226.2 1107.1h0M226.8 1106.1h0M227.5 1108.9h0M228.1 1106.4h0M228.7 1107.9h0M229.4 1106.6h0M230 1107.9h0M230.6 1110h0M231.2 1108.4h0M231.9 1106.2h0M232.5 1107.3h0M233.1 1107.8h0M233.8 1105.9h0M234.4 1104.9h0M235 1106.9h0M235.7 1104.9h0M236.3 1111h0M236.9 1111h0M237.5 1107.1h0M238.2 1109.4h0M238.8 1109.2h0M239.4 1108.9h0M240.1 1109.8h0M240.7 1108.8h0M241.3 1109.7h0M242 1112.3h0M242.6 1109.7h0M243.2 1109.3h0M243.8 1107h0M244.5 1111.1h0M245.1 1109.1h0M245.7 1109.2h0M246.4 1109.4h0M247 1107.2h0M247.6 1109.3h0M248.2 1110.8h0M248.9 1109.7h0M249.5 1109h0M250.1 1110.8h0M250.8 1110.1h0M251.4 1107.8h0M252 1108.9h0M252.7 1110.3h0M253.3 1110.8h0M253.9 1110h0M254.5 1111.9h0M255.2 1108.5h0M255.8 1109.7h0M256.4 1110.2h0M257.1 1112.6h0M257.7 1112h0M258.3 1110.3h0M259 1110.5h0M259.6 1111.5h0M260.2 1110.4h0M260.8 1109.9h0M261.5 1111.6h0M262.1 1111.9h0M262.7 1112.5h0M263.4 1112.5h0M264 1109.9h0M264.6 1110.6h0M265.3 1110.6h0M265.9 1112.2h0M266.5 1111.7h0M267.1 1109.8h0M267.8 1110.3h0M268.4 1109.3h0M269 1109.8h0M269.7 1107.6h0M270.3 1105.9h0M270.9 1106h0M271.6 1105.3h0M272.2 1107.5h0M272.8 1106.3h0M273.4 1108.2h0M274.1 1106.2h0M274.7 1107.2h0M275.3 1107.8h0M276 1108.5h0M276.6 1106.5h0M277.2 1107.4h0M277.9 1107.3h0M278.5 1109.3h0M279.1 1107.3h0M279.7 1109.4h0M280.4 1105.1h0M281 1107.6h0M281.6 1107h0M282.3 1106.9h0M282.9 1107.4h0M283.5 1107.4h0M284.2 1105.2h0M284.8 1103.9h0M285.4 1107.2h0M286 1106.3h0M286.7 1105.7h0M287.3 1108h0M287.9 1108h0M288.6 1107.1h0M289.2 1106.4h0M289.8 1107.7h0M290.4 1105.8h0M291.1 1107.8h0M291.7 1107h0M292.3 1104.9h0M293 1105h0M293.6 1108.3h0M294.2 1106.7h0M294.9 1105.4h0M295.5 1108.6h0M296.1 1108.3h0M296.7 1108.1h0M297.4 1107.9h0M298 1108.1h0M298.6 1106.3h0M299.3 1105.3h0M299.9 1105.1h0M300.5 1107.5h0M301.2 1109.9h0M301.8 1106.9h0M302.4 1106.8h0M303 1105.9h0M303.7 1106.6h0M304.3 1108.9h0M304.9 1105.8h0M305.6 1109h0M306.2 1107.2h0M306.8 1106.2h0M307.5 1106.3h0M308.1 1104.9h0M308.7 1110.6h0M309.3 1107.1h0M310 1107.3h0M310.6 1108.8h0M311.2 1107.6h0M311.9 1109.7h0M312.5 1107.5h0M313.1 1107.5h0M313.8 1109.2h0M314.4 1108.3h0M315 1107.1h0M315.6 1106.8h0M316.3 1105.6h0M316.9 1106h0M317.5 1104.3h0M318.2 1103.3h0M318.8 1105h0M319.4 1105.4h0M320.1 1106.1h0M320.7 1105.7h0M321.3 1106.3h0M321.9 1105.2h0M322.6 1107.1h0M323.2 1105.2h0M323.8 1104.5h0M324.5 1105.7h0M325.1 1106.3h0M325.7 1103.5h0M326.4 1103.1h0M327 1106.4h0M327.6 1105.8h0M328.2 1105.3h0M328.9 1105.8h0M329.5 1103.2h0M330.1 1104.5h0M330.8 1104.4h0M331.4 1102.8h0M332 1105.3h0M332.7 1105.5h0M333.3 1104.9h0M333.9 1103.4h0M334.5 1104.8h0M335.2 1103.7h0M335.8 1102.2h0M336.4 1102.1h0M337.1 1102.2h0M337.7 1102.8h0M338.3 1103.9h0M338.9 1100.3h0M339.6 1101.2h0M340.2 1103h0M340.8 1102.7h0M341.5 1101.8h0M342.1 1103.6h0M342.7 1101h0M343.4 1102.2h0M344 1101.5h0M344.6 1101h0M345.2 1102.3h0M345.9 1101.4h0M346.5 1101h0M347.1 1101.5h0M347.8 1101.3h0M348.4 1099h0M349 1101.3h0M349.7 1099.1h0M350.3 1101.6h0M350.9 1099.9h0M351.5 1100h0M352.2 1100.2h0M352.8 1103h0M353.4 1097.7h0M354.1 1101.3h0M354.7 1100h0M355.3 1099h0M356 1099.6h0M356.6 1099.9h0M357.2 1101.3h0M357.8 1103.4h0M358.5 1101.4h0M359.1 1104.7h0M359.7 1103.4h0M360.4 1103h0M361 1102.4h0M361.6 1104.6h0M362.3 1104.2h0M362.9 1104.2h0M363.5 1106.4h0M364.1 1104.3h0M364.8 1103.2h0M365.4 1102.9h0M366 1101.5h0M366.7 1101.9h0M367.3 1099.7h0M367.9 1099.4h0M368.6 1104h0M369.2 1102.1h0M369.8 1103.2h0M370.4 1101.4h0M371.1 1102.7h0M371.7 1102.3h0M372.3 1102.7h0M373 1101.8h0M373.6 1102.6h0M374.2 1104.9h0M374.9 1103.3h0M375.5 1102.4h0M376.1 1101.8h0M376.7 1102.1h0M377.4 1098h0M378 1099.7h0M378.6 1098.7h0M379.3 1100.9h0M379.9 1098.4h0M380.5 1102.7h0M381.1 1100.5h0M381.8 1103.6h0M382.4 1101.3h0M383 1100.1h0M383.7 1104.6h0M384.3 1104.1h0M384.9 1102h0M385.6 1101.4h0M386.2 1102.8h0M386.8 1099h0M387.4 1099.4h0M388.1 1098.2h0M388.7 1098.9h0M389.3 1100.6h0M390 1099.4h0M390.6 1096.7h0M391.2 1099.3h0M391.9 1098.6h0M392.5 1097.4h0M393.1 1096h0M393.7 1096.3h0M394.4 1098.8h0M395 1093.9h0M395.6 1096.5h0M396.3 1096.5h0M396.9 1096.2h0M397.5 1096.1h0M398.2 1097.3h0M398.8 1097h0M399.4 1095.5h0M400 1099.5h0M400.7 1100.7h0M401.3 1097.3h0M401.9 1098.3h0M402.6 1097.7h0M403.2 1096.5h0M403.8 1099.8h0M404.5 1098.7h0M405.1 1098.6h0M405.7 1097.6h0M406.3 1097.2h0M407 1099.1h0M407.6 1100.1h0M408.2 1099.1h0M408.9 1100.2h0M409.5 1097.1h0M410.1 1098.6h0M410.8 1098.7h0M411.4 1099.7h0M412 1096.6h0M412.6 1097.2h0M413.3 1098.2h0M413.9 1097.1h0M414.5 1097.8h0M415.2 1096.7h0M415.8 1095.3h0M416.4 1097.3h0M417.1 1096.6h0M417.7 1096.6h0M418.3 1095.4h0M418.9 1095.9h0M419.6 1097.8h0M420.2 1098.4h0M420.8 1097.3h0M421.5 1099.6h0M422.1 1097.4h0M422.7 1098.4h0M423.4 1097.3h0M424 1098.6h0M424.6 1098.8h0M425.2 1099.2h0M425.9 1097.3h0M426.5 1098.6h0M427.1 1098.9h0M427.8 1101h0M428.4 1098.2h0M429 1102.9h0M429.6 1097.8h0M430.3 1099.8h0M430.9 1099.8h0M431.5 1102.2h0M432.2 1101.8h0M432.8 1099.7h0M433.4 1100.6h0M434.1 1100.2h0M434.7 1098.7h0M435.3 1099.9h0M435.9 1103.3h0M436.6 1101.8h0M437.2 1103h0M437.8 1102.9h0M438.5 1104.3h0M439.1 1104.4h0M439.7 1103.2h0M440.4 1103.3h0M441 1101.3h0M441.6 1103.2h0M442.2 1101.2h0M442.9 1105h0M443.5 1104.7h0M444.1 1102.3h0M444.8 1102.5h0M445.4 1103.3h0M446 1101.5h0M446.7 1101.1h0M447.3 1100.3h0M447.9 1102.9h0M448.5 1102.9h0M449.2 1102.7h0M449.8 1103h0M450.4 1101.6h0M451.1 1103.5h0M451.7 1102.9h0M452.3 1106.3h0M453 1102.4h0M453.6 1100.9h0" stroke="#b6cd36" stroke-width="4.6" stroke-linecap="round" fill="none"/>
<path d="M166.4 1128.3h0M167 1129.2h0M167.6 1128.2h0M168.3 1130.1h0M168.9 1126.4h0M169.5 1129.3h0M170.1 1127.8h0M170.8 1127.2h0M171.4 1128.2h0M172 1122.8h0M172.7 1126.2h0M173.3 1124.3h0M173.9 1123.7h0M174.6 1126h0M175.2 1123.1h0M175.8 1125h0M176.4 1123.2h0M177.1 1124.6h0M177.7 1125.1h0M178.3 1122.2h0M179 1123h0M179.6 1123.6h0M180.2 1123.2h0M180.9 1123.8h0M181.5 1125.9h0M182.1 1127.3h0M182.7 1126.6h0M183.4 1126.9h0M184 1127.7h0M184.6 1125.9h0M185.3 1125.5h0M185.9 1125.4h0M186.5 1125.1h0M187.2 1125.6h0M187.8 1124.1h0M188.4 1123.7h0M189 1125h0M189.7 1125.6h0M190.3 1125.2h0M190.9 1127h0M191.6 1126.7h0M192.2 1127h0M192.8 1125.8h0M193.5 1127.7h0M194.1 1129.5h0M194.7 1131h0M195.3 1131.2h0M196 1129.1h0M196.6 1136h0M197.2 1131.4h0M197.9 1131.7h0M198.5 1131.8h0M199.1 1135.2h0M199.7 1131.4h0M200.4 1133.4h0M201 1134.8h0M201.6 1135.4h0M202.3 1137.1h0M202.9 1135.5h0M203.5 1136.4h0M204.2 1135.7h0M204.8 1137h0M205.4 1137.8h0M206 1136.5h0M206.7 1136.5h0M207.3 1137h0M207.9 1139.2h0M208.6 1136h0M209.2 1138.5h0M209.8 1139.3h0M210.5 1137.7h0M211.1 1137.1h0M211.7 1135.3h0M212.3 1139.4h0M213 1135.5h0M213.6 1135.4h0M214.2 1137.9h0M214.9 1137.8h0M215.5 1137.6h0M216.1 1137.5h0M216.8 1138.3h0M217.4 1138.9h0M218 1136.2h0M218.6 1136h0M219.3 1132.9h0M219.9 1136.3h0M220.5 1137.9h0M221.2 1134.6h0M221.8 1135.3h0M222.4 1135.5h0M223.1 1136.1h0M223.7 1136.8h0M224.3 1135.5h0M224.9 1133.3h0M225.6 1133h0M226.2 1134.6h0M226.8 1132.2h0M227.5 1133.7h0M228.1 1132.3h0M228.7 1130.6h0M229.4 1131.4h0M230 1130.9h0M230.6 1128.5h0M231.2 1128.2h0M231.9 1128.2h0M232.5 1128.7h0M233.1 1129.4h0M233.8 1128.1h0M234.4 1123.5h0M235 1127.5h0M235.7 1124.2h0M236.3 1126.1h0M236.9 1123.3h0M237.5 1122.9h0M238.2 1123.3h0M238.8 1124.8h0M239.4 1124.6h0M240.1 1120.9h0M240.7 1123.7h0M241.3 1123.8h0M242 1120.6h0M242.6 1120.7h0M243.2 1122.1h0M243.8 1121.7h0M244.5 1122h0M245.1 1121.1h0M245.7 1121.6h0M246.4 1123.3h0M247 1122.3h0M247.6 1120.9h0M248.2 1122.7h0M248.9 1121.7h0M249.5 1120.2h0M250.1 1117.9h0M250.8 1119.4h0M251.4 1119.8h0M252 1116.9h0M252.7 1121.2h0M253.3 1120.3h0M253.9 1117.8h0M254.5 1117.1h0M255.2 1117.2h0M255.8 1120.7h0M256.4 1116.5h0M257.1 1116.8h0M257.7 1118.1h0M258.3 1117.4h0M259 1115.7h0M259.6 1116h0M260.2 1117h0M260.8 1118h0M261.5 1114.9h0M262.1 1115.5h0M262.7 1115.2h0M263.4 1115.5h0M264 1113h0M264.6 1111.9h0M265.3 1111.5h0M265.9 1114.1h0M266.5 1111.9h0M267.1 1113.1h0M267.8 1116.3h0M268.4 1112.9h0M269 1116.6h0M269.7 1114.4h0M270.3 1111.2h0M270.9 1111.7h0M271.6 1113h0M272.2 1113.4h0M272.8 1110.8h0M273.4 1112.8h0M274.1 1109.3h0M274.7 1109.9h0M275.3 1107.7h0M276 1107.8h0M276.6 1109.7h0M277.2 1108.1h0M277.9 1108.1h0M278.5 1109.3h0M279.1 1108.2h0M279.7 1108.2h0M280.4 1107.5h0M281 1105.7h0M281.6 1106.9h0M282.3 1108.6h0M282.9 1108.1h0M283.5 1106h0M284.2 1105.5h0M284.8 1107.9h0M285.4 1106.2h0M286 1106.7h0M286.7 1107.9h0M287.3 1105.6h0M287.9 1104.6h0M288.6 1103.9h0M289.2 1103.4h0M289.8 1103.3h0M290.4 1102h0M291.1 1103.7h0M291.7 1104.1h0M292.3 1101.2h0M293 1102.9h0M293.6 1101.2h0M294.2 1103.9h0M294.9 1101.7h0M295.5 1104.6h0M296.1 1104.6h0M296.7 1101.6h0M297.4 1100.4h0M298 1103.2h0M298.6 1100.3h0M299.3 1100.2h0M299.9 1100.8h0M300.5 1102.2h0M301.2 1103.3h0M301.8 1102.5h0M302.4 1101.8h0M303 1099.5h0M303.7 1100.7h0M304.3 1101.1h0M304.9 1099.4h0M305.6 1101.5h0M306.2 1098.9h0M306.8 1100.6h0M307.5 1098.5h0M308.1 1100.2h0M308.7 1100.8h0M309.3 1100.1h0M310 1101.9h0M310.6 1099.4h0M311.2 1100.6h0M311.9 1099.9h0M312.5 1098.5h0M313.1 1100h0M313.8 1099.6h0M314.4 1096.7h0M315 1099.4h0M315.6 1098.7h0M316.3 1101.1h0M316.9 1102.4h0M317.5 1100.3h0M318.2 1102.3h0M318.8 1104.1h0M319.4 1099.8h0M320.1 1100h0M320.7 1101.5h0M321.3 1098.5h0M321.9 1100h0M322.6 1100.9h0M323.2 1100.4h0M323.8 1097.8h0M324.5 1100h0M325.1 1099.7h0M325.7 1099.6h0M326.4 1099.5h0M327 1100h0M327.6 1099.3h0M328.2 1098.5h0M328.9 1096.3h0M329.5 1098.4h0M330.1 1095.6h0M330.8 1096.6h0M331.4 1096.9h0M332 1096h0M332.7 1095.6h0M333.3 1095.9h0M333.9 1096h0M334.5 1096h0M335.2 1098.7h0M335.8 1097.7h0M336.4 1094.4h0M337.1 1097.1h0M337.7 1099.9h0M338.3 1096.4h0M338.9 1094.9h0M339.6 1095.9h0M340.2 1096.9h0M340.8 1096h0M341.5 1095.6h0M342.1 1096.9h0M342.7 1097.4h0M343.4 1095.6h0M344 1098.4h0M344.6 1096.5h0M345.2 1100.3h0M345.9 1099.4h0M346.5 1100.4h0M347.1 1098.6h0M347.8 1100.3h0M348.4 1100.3h0M349 1100.1h0M349.7 1098.8h0M350.3 1097.8h0M350.9 1099.5h0M351.5 1098h0M352.2 1098.8h0M352.8 1099.1h0M353.4 1097.6h0M354.1 1097h0M354.7 1101h0M355.3 1096.8h0M356 1095.9h0M356.6 1098.1h0M357.2 1096.7h0M357.8 1095.8h0M358.5 1096.7h0M359.1 1096.8h0M359.7 1095.7h0M360.4 1096h0M361 1096.3h0M361.6 1096h0M362.3 1098.4h0M362.9 1096.7h0M363.5 1097.2h0M364.1 1097.1h0M364.8 1098.7h0M365.4 1096.4h0M366 1097.5h0M366.7 1096.6h0M367.3 1098.5h0M367.9 1098.1h0M368.6 1097.8h0M369.2 1097.3h0M369.8 1095.6h0M370.4 1093.2h0M371.1 1096.5h0M371.7 1095.9h0M372.3 1096.1h0M373 1096.6h0M373.6 1095.4h0M374.2 1097h0M374.9 1097h0M375.5 1095.3h0M376.1 1095.7h0M376.7 1094.8h0M377.4 1094.8h0M378 1093.5h0M378.6 1093.6h0M379.3 1093.9h0M379.9 1094.8h0M380.5 1094h0M381.1 1093.3h0M381.8 1093.1h0M382.4 1093.2h0M383 1094.1h0M383.7 1091.7h0M384.3 1094.5h0M384.9 1093.8h0M385.6 1094.5h0M386.2 1091.7h0M386.8 1094.4h0M387.4 1094.4h0M388.1 1091.3h0M388.7 1091.8h0M389.3 1092.8h0M390 1092.7h0M390.6 1090.6h0M391.2 1092.2h0M391.9 1093.5h0M392.5 1092.1h0M393.1 1093h0M393.7 1090.9h0M394.4 1093.1h0M395 1094.6h0M395.6 1094.5h0M396.3 1091.1h0M396.9 1091.6h0M397.5 1092.9h0M398.2 1092.8h0M398.8 1092.1h0M399.4 1092.3h0M400 1093.2h0M400.7 1093.1h0M401.3 1092.8h0M401.9 1093.4h0M402.6 1094.1h0M403.2 1094.8h0M403.8 1094.9h0M404.5 1095.1h0M405.1 1094.3h0M405.7 1094.3h0M406.3 1095.3h0M407 1093.7h0M407.6 1096.3h0M408.2 1094.1h0M408.9 1097h0M409.5 1096.5h0M410.1 1095.3h0M410.8 1095.8h0M411.4 1097.6h0M412 1096.9h0M412.6 1098.5h0M413.3 1097.5h0M413.9 1095.4h0M414.5 1097h0M415.2 1094.3h0M415.8 1095.8h0M416.4 1096.3h0M417.1 1097.6h0M417.7 1097.1h0M418.3 1097h0M418.9 1096h0M419.6 1096.5h0M420.2 1097.9h0M420.8 1099.7h0M421.5 1100.1h0M422.1 1096h0M422.7 1097.7h0M423.4 1097h0M424 1099.4h0M424.6 1096.1h0M425.2 1099h0M425.9 1099.6h0M426.5 1101h0M427.1 1101.9h0M427.8 1099.2h0M428.4 1100.3h0M429 1100.2h0M429.6 1101.2h0M430.3 1101.4h0M430.9 1100.6h0M431.5 1098.4h0M432.2 1095.9h0M432.8 1099.3h0M433.4 1099.1h0M434.1 1100.9h0M434.7 1100.6h0M435.3 1098.6h0M435.9 1100.6h0M436.6 1100.1h0M437.2 1098.7h0M437.8 1100.9h0M438.5 1102.4h0M439.1 1099.4h0M439.7 1100.7h0M440.4 1101.5h0M441 1101.3h0M441.6 1101.8h0M442.2 1101h0M442.9 1103.2h0M443.5 1101.2h0M444.1 1103h0M444.8 1101.1h0M445.4 1100.2h0M446 1101.8h0M446.7 1100h0M447.3 1102.2h0M447.9 1103.7h0M448.5 1102.6h0M449.2 1103.5h0M449.8 1103.7h0M450.4 1104.2h0M451.1 1104.6h0M451.7 1103.7h0M452.3 1107h0M453 1103.8h0M453.6 1105.2h0" stroke="#c4652a" stroke-width="4.6" stroke-linecap="round" fill="none"/>
<path d="M166.4 1144.8h0M167 1144.5h0M167.6 1146.6h0M168.3 1147.8h0M168.9 1147.7h0M169.5 1149.9h0M170.1 1149.4h0M170.8 1150.1h0M171.4 1150.2h0M172 1153.9h0M172.7 1153.8h0M173.3 1154.9h0M173.9 1152.3h0M174.6 1153.3h0M175.2 1151.1h0M175.8 1151.6h0M176.4 1151.4h0M177.1 1148.2h0M177.7 1149.1h0M178.3 1149.4h0M179 1149.2h0M179.6 1146.1h0M180.2 1145.1h0M180.9 1146.7h0M181.5 1144.7h0M182.1 1143.3h0M182.7 1144.3h0M183.4 1141.1h0M184 1138.2h0M184.6 1140.9h0M185.3 1137h0M185.9 1134.3h0M186.5 1136h0M187.2 1134.4h0M187.8 1132.6h0M188.4 1130.9h0M189 1129.7h0M189.7 1130.9h0M190.3 1128.8h0M190.9 1126.5h0M191.6 1125.7h0M192.2 1122.6h0M192.8 1122.8h0M193.5 1121.6h0M194.1 1118.1h0M194.7 1119.1h0M195.3 1119.2h0M196 1116.9h0M196.6 1116.2h0M197.2 1114.4h0M197.9 1113.6h0M198.5 1114.4h0M199.1 1113.7h0M199.7 1113.3h0M200.4 1109.8h0M201 1108h0M201.6 1110.5h0M202.3 1109.2h0M202.9 1108.9h0M203.5 1109.7h0M204.2 1109h0M204.8 1108.6h0M205.4 1109.3h0M206 1107.1h0M206.7 1105.7h0M207.3 1105h0M207.9 1106h0M208.6 1105.1h0M209.2 1103.5h0M209.8 1101.4h0M210.5 1104.7h0M211.1 1104.5h0M211.7 1103.8h0M212.3 1102.7h0M213 1104h0M213.6 1101.7h0M214.2 1103h0M214.9 1101.2h0M215.5 1102.6h0M216.1 1102.4h0M216.8 1100.6h0M217.4 1102.5h0M218 1101.7h0M218.6 1099.5h0M219.3 1099.1h0M219.9 1099.9h0M220.5 1103.5h0M221.2 1100.1h0M221.8 1100.7h0M222.4 1101.4h0M223.1 1103.9h0M223.7 1100h0M224.3 1099.2h0M224.9 1100.7h0M225.6 1099.9h0M226.2 1102.9h0M226.8 1102.6h0M227.5 1103.5h0M228.1 1104.2h0M228.7 1103.4h0M229.4 1104.4h0M230 1104.5h0M230.6 1105.6h0M231.2 1105.3h0M231.9 1105h0M232.5 1105h0M233.1 1106.9h0M233.8 1104.6h0M234.4 1107.5h0M235 1104.6h0M235.7 1104.5h0M236.3 1108.2h0M236.9 1105.8h0M237.5 1103.9h0M238.2 1105.2h0M238.8 1107.1h0M239.4 1107.4h0M240.1 1107.2h0M240.7 1108.4h0M241.3 1108.7h0M242 1111.1h0M242.6 1111.2h0M243.2 1112.4h0M243.8 1113.8h0M244.5 1115.5h0M245.1 1115.8h0M245.7 1115.2h0M246.4 1117h0M247 1115.4h0M247.6 1118.5h0M248.2 1116.8h0M248.9 1118.6h0M249.5 1117.4h0M250.1 1117.9h0M250.8 1119.5h0M251.4 1120.6h0M252 1120.5h0M252.7 1121.2h0M253.3 1119.8h0M253.9 1122.1h0M254.5 1120.8h0M255.2 1121.6h0M255.8 1123.3h0M256.4 1123.5h0M257.1 1125.8h0M257.7 1123.7h0M258.3 1122.5h0M259 1125h0M259.6 1123.3h0M260.2 1123.3h0M260.8 1123.5h0M261.5 1124.9h0M262.1 1123.2h0M262.7 1124.4h0M263.4 1124.4h0M264 1120.9h0M264.6 1124.4h0M265.3 1124.6h0M265.9 1122.3h0M266.5 1121.6h0M267.1 1120.2h0M267.8 1122.1h0M268.4 1121.9h0M269 1121h0M269.7 1118.7h0M270.3 1117.6h0M270.9 1119.8h0M271.6 1119.5h0M272.2 1118h0M272.8 1119.9h0M273.4 1119.1h0M274.1 1117h0M274.7 1118.9h0M275.3 1116.5h0M276 1115.5h0M276.6 1117.2h0M277.2 1114.2h0M277.9 1114.6h0M278.5 1114.2h0M279.1 1112.9h0M279.7 1113.1h0M280.4 1112.9h0M281 1112.5h0M281.6 1112.4h0M282.3 1111.2h0M282.9 1110.5h0M283.5 1108.5h0M284.2 1108.9h0M284.8 1107.3h0M285.4 1106.7h0M286 1104.3h0M286.7 1103.8h0M287.3 1101.9h0M287.9 1103h0M288.6 1104.5h0M289.2 1102.5h0M289.8 1102.2h0M290.4 1100.8h0M291.1 1101.6h0M291.7 1100.8h0M292.3 1101.9h0M293 1103.3h0M293.6 1103.2h0M294.2 1102h0M294.9 1102.7h0M295.5 1096.7h0M296.1 1100.1h0M296.7 1102.1h0M297.4 1101.9h0M298 1099.5h0M298.6 1099h0M299.3 1099.2h0M299.9 1099.5h0M300.5 1097.2h0M301.2 1097.4h0M301.8 1097.3h0M302.4 1097.8h0M303 1096.6h0M303.7 1099.8h0M304.3 1096.3h0M304.9 1097.9h0M305.6 1098.7h0M306.2 1096.5h0M306.8 1099.6h0M307.5 1096.6h0M308.1 1096.4h0M308.7 1093.6h0M309.3 1097h0M310 1093.5h0M310.6 1092.3h0M311.2 1093h0M311.9 1092.6h0M312.5 1092.5h0M313.1 1094h0M313.8 1092.6h0M314.4 1094.4h0M315 1091.4h0M315.6 1091.5h0M316.3 1094h0M316.9 1091.1h0M317.5 1093.5h0M318.2 1094.9h0M318.8 1093.6h0M319.4 1092.2h0M320.1 1093.1h0M320.7 1094.5h0M321.3 1092h0M321.9 1093.1h0M322.6 1093.2h0M323.2 1093.7h0M323.8 1091.2h0M324.5 1090.9h0M325.1 1093h0M325.7 1092h0M326.4 1091.3h0M327 1090.4h0M327.6 1091.9h0M328.2 1087.9h0M328.9 1090h0M329.5 1088.7h0M330.1 1090h0M330.8 1086.6h0M331.4 1088.7h0M332 1091.3h0M332.7 1087.3h0M333.3 1088.4h0M333.9 1089.3h0M334.5 1087.5h0M335.2 1088.2h0M335.8 1085.6h0M336.4 1086.3h0M337.1 1088.8h0M337.7 1085.8h0M338.3 1084.5h0M338.9 1088.6h0M339.6 1083.4h0M340.2 1084.5h0M340.8 1084.6h0M341.5 1083.9h0M342.1 1085.8h0M342.7 1086.2h0M343.4 1083.8h0M344 1084.5h0M344.6 1083.9h0M345.2 1087.4h0M345.9 1085.1h0M346.5 1082h0M347.1 1084.8h0M347.8 1083.7h0M348.4 1084.7h0M349 1086.4h0M349.7 1085.7h0M350.3 1085.8h0M350.9 1087.2h0M351.5 1087.9h0M352.2 1087h0M352.8 1088.2h0M353.4 1088.4h0M354.1 1084.9h0M354.7 1084.8h0M355.3 1086.9h0M356 1084.1h0M356.6 1084.3h0M357.2 1085.3h0M357.8 1086.9h0M358.5 1084.9h0M359.1 1086.4h0M359.7 1087.3h0M360.4 1088.2h0M361 1086.8h0M361.6 1088.3h0M362.3 1088.2h0M362.9 1088.1h0M363.5 1086.6h0M364.1 1088.7h0M364.8 1091.9h0M365.4 1090.5h0M366 1090.9h0M366.7 1091.7h0M367.3 1091.9h0M367.9 1089h0M368.6 1090.4h0M369.2 1090h0M369.8 1090.6h0M370.4 1090.4h0M371.1 1090.9h0M371.7 1091.4h0M372.3 1092.2h0M373 1093.7h0M373.6 1093.3h0M374.2 1093.8h0M374.9 1094.7h0M375.5 1094.3h0M376.1 1096.3h0M376.7 1094.5h0M377.4 1097.9h0M378 1096.3h0M378.6 1095.7h0M379.3 1096h0M379.9 1098.1h0M380.5 1096.1h0M381.1 1097.2h0M381.8 1096.9h0M382.4 1097.3h0M383 1099.1h0M383.7 1096.9h0M384.3 1097h0M384.9 1096.8h0M385.6 1099.3h0M386.2 1097.9h0M386.8 1099.5h0M387.4 1100.9h0M388.1 1101.2h0M388.7 1099.8h0M389.3 1100.1h0M390 1098.4h0M390.6 1098.6h0M391.2 1097.7h0M391.9 1099.1h0M392.5 1099.9h0M393.1 1100.4h0M393.7 1099.3h0M394.4 1096.5h0M395 1096.2h0M395.6 1100.2h0M396.3 1098.3h0M396.9 1097.5h0M397.5 1099.6h0M398.2 1098.7h0M398.8 1100.2h0M399.4 1098.8h0M400 1098.7h0M400.7 1099.4h0M401.3 1099.2h0M401.9 1099.6h0M402.6 1098.6h0M403.2 1102.7h0M403.8 1098.5h0M404.5 1098.3h0M405.1 1101.4h0M405.7 1100h0M406.3 1099.6h0M407 1101.3h0M407.6 1101h0M408.2 1100.6h0M408.9 1100.1h0M409.5 1103.3h0M410.1 1101.1h0M410.8 1101.1h0M411.4 1103.7h0M412 1101.7h0M412.6 1100.4h0M413.3 1102h0M413.9 1102.7h0M414.5 1100.9h0M415.2 1103.3h0M415.8 1102.8h0M416.4 1101h0M417.1 1101h0M417.7 1103.8h0M418.3 1102.3h0M418.9 1101.2h0M419.6 1100.2h0M420.2 1100.8h0M420.8 1101.4h0M421.5 1099.9h0M422.1 1103.9h0M422.7 1100.7h0M423.4 1099.5h0M424 1099.1h0M424.6 1100.9h0M425.2 1103h0M425.9 1100.6h0M426.5 1102.2h0M427.1 1102.7h0M427.8 1101h0M428.4 1105h0M429 1099.8h0M429.6 1101.9h0M430.3 1102.5h0M430.9 1103.2h0M431.5 1101.9h0M432.2 1102.3h0M432.8 1102.4h0M433.4 1104.1h0M434.1 1101.1h0M434.7 1101.6h0M435.3 1100.9h0M435.9 1102h0M436.6 1102.4h0M437.2 1102h0M437.8 1104.7h0M438.5 1105.2h0M439.1 1103.3h0M439.7 1104.5h0M440.4 1102.7h0M441 1105.5h0M441.6 1103.6h0M442.2 1100.8h0M442.9 1101.2h0M443.5 1102.2h0M444.1 1100.5h0M444.8 1100.7h0M445.4 1102.2h0M446 1102h0M446.7 1100.6h0M447.3 1101.5h0M447.9 1101.5h0M448.5 1102.1h0M449.2 1105.6h0M449.8 1101.8h0M450.4 1101.9h0M451.1 1102.4h0M451.7 1104.3h0M452.3 1102.3h0M453 1101.4h0M453.6 1101.8h0" stroke="#1f1ff5" stroke-width="4.6" stroke-linecap="round" fill="none"/>
<path d="M166.4 1166.2h0M167 1166.8h0M167.6 1166h0M168.3 1166.3h0M168.9 1168.2h0M169.5 1164.8h0M170.1 1166.3h0M170.8 1163.7h0M171.4 1163.4h0M172 1160.9h0M172.7 1161.6h0M173.3 1160.3h0M173.9 1161.5h0M174.6 1158.5h0M175.2 1157.3h0M175.8 1155.1h0M176.4 1153.3h0M177.1 1151.2h0M177.7 1150.6h0M178.3 1151.6h0M179 1149.3h0M179.6 1145.2h0M180.2 1144h0M180.9 1141.9h0M181.5 1142.2h0M182.1 1142.1h0M182.7 1137.8h0M183.4 1137h0M184 1136.9h0M184.6 1136.1h0M185.3 1136.7h0M185.9 1134.2h0M186.5 1131.1h0M187.2 1132.7h0M187.8 1130.9h0M188.4 1130.5h0M189 1129.6h0M189.7 1131.2h0M190.3 1128.7h0M190.9 1127.9h0M191.6 1126.5h0M192.2 1126h0M192.8 1125.3h0M193.5 1126.3h0M194.1 1122.9h0M194.7 1125.3h0M195.3 1121.9h0M196 1120.9h0M196.6 1121.1h0M197.2 1122.3h0M197.9 1123.7h0M198.5 1123.2h0M199.1 1120.5h0M199.7 1119.2h0M200.4 1119.7h0M201 1118h0M201.6 1113.6h0M202.3 1116h0M202.9 1117.9h0M203.5 1115.5h0M204.2 1117.1h0M204.8 1118.2h0M205.4 1114.1h0M206 1115.3h0M206.7 1113.2h0M207.3 1110.3h0M207.9 1112h0M208.6 1112h0M209.2 1109.2h0M209.8 1113.1h0M210.5 1111.3h0M211.1 1106.9h0M211.7 1105.8h0M212.3 1107.6h0M213 1107.5h0M213.6 1106.2h0M214.2 1106.5h0M214.9 1106.6h0M215.5 1107.5h0M216.1 1107.7h0M216.8 1106.6h0M217.4 1106.3h0M218 1106.7h0M218.6 1107.5h0M219.3 1106.8h0M219.9 1109.2h0M220.5 1105.6h0M221.2 1104.5h0M221.8 1107.1h0M222.4 1108.1h0M223.1 1106.2h0M223.7 1106h0M224.3 1107h0M224.9 1105.2h0M225.6 1106.3h0M226.2 1106.7h0M226.8 1103.3h0M227.5 1105.6h0M228.1 1105.2h0M228.7 1107.9h0M229.4 1105.3h0M230 1105.1h0M230.6 1104.4h0M231.2 1103.5h0M231.9 1104.7h0M232.5 1107h0M233.1 1104.2h0M233.8 1105.4h0M234.4 1105.7h0M235 1107.5h0M235.7 1106.8h0M236.3 1108.6h0M236.9 1109.4h0M237.5 1108.8h0M238.2 1109.8h0M238.8 1108.2h0M239.4 1112.2h0M240.1 1108.9h0M240.7 1109.3h0M241.3 1106.6h0M242 1107.8h0M242.6 1108.4h0M243.2 1108.2h0M243.8 1107h0M244.5 1110h0M245.1 1108h0M245.7 1106.1h0M246.4 1107h0M247 1108.1h0M247.6 1106.1h0M248.2 1110h0M248.9 1108.5h0M249.5 1108.5h0M250.1 1107h0M250.8 1108.7h0M251.4 1106.9h0M252 1103.8h0M252.7 1106h0M253.3 1106.2h0M253.9 1103.7h0M254.5 1104.5h0M255.2 1102.9h0M255.8 1106.5h0M256.4 1107h0M257.1 1108.8h0M257.7 1107.3h0M258.3 1108.7h0M259 1104.9h0M259.6 1107h0M260.2 1106h0M260.8 1106.1h0M261.5 1105.9h0M262.1 1105.8h0M262.7 1107.6h0M263.4 1104.8h0M264 1106.4h0M264.6 1103.2h0M265.3 1105.1h0M265.9 1107.5h0M266.5 1105.9h0M267.1 1106.1h0M267.8 1107.3h0M268.4 1107.4h0M269 1106.9h0M269.7 1108h0M270.3 1107.8h0M270.9 1107h0M271.6 1107.3h0M272.2 1107.9h0M272.8 1106.9h0M273.4 1108.1h0M274.1 1107.3h0M274.7 1107.4h0M275.3 1106.6h0M276 1110.7h0M276.6 1106.1h0M277.2 1108.1h0M277.9 1105.9h0M278.5 1108.7h0M279.1 1107.9h0M279.7 1107.5h0M280.4 1108.2h0M281 1108.6h0M281.6 1107.8h0M282.3 1106h0M282.9 1109.2h0M283.5 1106.7h0M284.2 1104.9h0M284.8 1107.1h0M285.4 1104.7h0M286 1109.2h0M286.7 1107.3h0M287.3 1106.4h0M287.9 1106.4h0M288.6 1106.3h0M289.2 1104.1h0M289.8 1106.7h0M290.4 1104.8h0M291.1 1104.5h0M291.7 1104.2h0M292.3 1100.9h0M293 1103.6h0M293.6 1101h0M294.2 1104.6h0M294.9 1103.5h0M295.5 1103.7h0M296.1 1104.8h0M296.7 1102.2h0M297.4 1101.3h0M298 1102.1h0M298.6 1103.2h0M299.3 1101.7h0M299.9 1102.7h0M300.5 1102.1h0M301.2 1105.8h0M301.8 1101.3h0M302.4 1099.5h0M303 1101.8h0M303.7 1104.3h0M304.3 1101h0M304.9 1100.7h0M305.6 1102.5h0M306.2 1100.7h0M306.8 1099h0M307.5 1101.2h0M308.1 1100.4h0M308.7 1097.9h0M309.3 1099.1h0M310 1100.2h0M310.6 1098h0M311.2 1097.7h0M311.9 1097.6h0M312.5 1098h0M313.1 1098.7h0M313.8 1094.5h0M314.4 1098.4h0M315 1097.1h0M315.6 1096.8h0M316.3 1096.7h0M316.9 1099h0M317.5 1098.1h0M318.2 1099.6h0M318.8 1097.9h0M319.4 1100.3h0M320.1 1096.1h0M320.7 1097.2h0M321.3 1097h0M321.9 1098.4h0M322.6 1100.6h0M323.2 1099.5h0M323.8 1097.7h0M324.5 1095.4h0M325.1 1097.6h0M325.7 1096.9h0M326.4 1098.3h0M327 1099.6h0M327.6 1099.6h0M328.2 1098.7h0M328.9 1098.4h0M329.5 1100.8h0M330.1 1100h0M330.8 1100.7h0M331.4 1100.6h0M332 1099.6h0M332.7 1102.8h0M333.3 1102.2h0M333.9 1103.6h0M334.5 1099.1h0M335.2 1101.4h0M335.8 1103.3h0M336.4 1098.3h0M337.1 1100.9h0M337.7 1101h0M338.3 1100.7h0M338.9 1100.2h0M339.6 1103.7h0M340.2 1101.8h0M340.8 1100.6h0M341.5 1100.8h0M342.1 1100.8h0M342.7 1101.8h0M343.4 1103.6h0M344 1106.2h0M344.6 1104h0M345.2 1101.7h0M345.9 1101.5h0M346.5 1102h0M347.1 1101h0M347.8 1099.2h0M348.4 1101.7h0M349 1103h0M349.7 1098.9h0M350.3 1102.3h0M350.9 1103.1h0M351.5 1101.2h0M352.2 1103.3h0M352.8 1103.1h0M353.4 1103.2h0M354.1 1101.9h0M354.7 1104.6h0M355.3 1102.7h0M356 1104.8h0M356.6 1102.3h0M357.2 1102.1h0M357.8 1101.3h0M358.5 1098.8h0M359.1 1101.5h0M359.7 1101.8h0M360.4 1101.9h0M361 1101.2h0M361.6 1100.1h0M362.3 1100.3h0M362.9 1099.6h0M363.5 1101.7h0M364.1 1100.4h0M364.8 1100.3h0M365.4 1100.5h0M366 1100.7h0M366.7 1100.3h0M367.3 1101.2h0M367.9 1102h0M368.6 1103.7h0M369.2 1102.9h0M369.8 1101.4h0M370.4 1100.5h0M371.1 1100.3h0M371.7 1101.7h0M372.3 1103.4h0M373 1101.9h0M373.6 1102.4h0M374.2 1103.6h0M374.9 1101h0M375.5 1101h0M376.1 1102.9h0M376.7 1104.9h0M377.4 1104.1h0M378 1104.2h0M378.6 1106.2h0M379.3 1102.9h0M379.9 1103.1h0M380.5 1101.6h0M381.1 1103.1h0M381.8 1103.1h0M382.4 1102.7h0M383 1102h0M383.7 1104.3h0M384.3 1102.3h0M384.9 1100h0M385.6 1102.3h0M386.2 1103.6h0M386.8 1101.2h0M387.4 1101.8h0M388.1 1105.4h0M388.7 1102.8h0M389.3 1105.1h0M390 1102.5h0M390.6 1101.2h0M391.2 1102h0M391.9 1104.5h0M392.5 1104h0M393.1 1101.5h0M393.7 1102.5h0M394.4 1103.5h0M395 1102.8h0M395.6 1104.2h0M396.3 1104.6h0M396.9 1104.9h0M397.5 1102.4h0M398.2 1104h0M398.8 1101.7h0M399.4 1101.7h0M400 1102.3h0M400.7 1103.7h0M401.3 1104h0M401.9 1104.6h0M402.6 1103.8h0M403.2 1102.4h0M403.8 1103.4h0M404.5 1101.2h0M405.1 1103.7h0M405.7 1105.3h0M406.3 1106.1h0M407 1105.6h0M407.6 1106.1h0M408.2 1103.5h0M408.9 1104.2h0M409.5 1101.5h0M410.1 1103.6h0M410.8 1103h0M411.4 1105.4h0M412 1104.8h0M412.6 1103.6h0M413.3 1104.6h0M413.9 1105.3h0M414.5 1105.5h0M415.2 1104.2h0M415.8 1103.6h0M416.4 1104.3h0M417.1 1105.2h0M417.7 1106.5h0M418.3 1105h0M418.9 1105.8h0M419.6 1107.7h0M420.2 1106.5h0M420.8 1105.5h0M421.5 1104h0M422.1 1105.1h0M422.7 1106.5h0M423.4 1106.5h0M424 1102.1h0M424.6 1103.3h0M425.2 1105h0M425.9 1104.6h0M426.5 1104.4h0M427.1 1105.4h0M427.8 1104.6h0M428.4 1102.6h0M429 1105.7h0M429.6 1106.5h0M430.3 1106.1h0M430.9 1106h0M431.5 1106.4h0M432.2 1106.4h0M432.8 1106.9h0M433.4 1104.9h0M434.1 1105.8h0M434.7 1103.6h0M435.3 1106.6h0M435.9 1105.8h0M436.6 1104.3h0M437.2 1106.1h0M437.8 1105.2h0M438.5 1106.9h0M439.1 1106.1h0M439.7 1106.3h0M440.4 1106.4h0M441 1105.6h0M441.6 1108.6h0M442.2 1105.3h0M442.9 1105.2h0M443.5 1106.1h0M444.1 1106h0M444.8 1105.5h0M445.4 1105.7h0M446 1102.9h0M446.7 1104.2h0M447.3 1105.2h0M447.9 1105.8h0M448.5 1104.6h0M449.2 1106.9h0M449.8 1106.3h0M450.4 1104.4h0M451.1 1107.8h0M451.7 1105.5h0M452.3 1106.4h0M453 1104.8h0M453.6 1104.5h0" stroke="#d5266c" stroke-width="4.6" stroke-linecap="round" fill="none"/>
<path d="M166.4 1190.7h0M167 1191.1h0M167.6 1192.3h0M168.3 1193.4h0M168.9 1193.6h0M169.5 1195.3h0M170.1 1195.3h0M170.8 1195.1h0M171.4 1194.4h0M172 1194.1h0M172.7 1193h0M173.3 1190.7h0M173.9 1189.6h0M174.6 1188.2h0M175.2 1186.7h0M175.8 1183.9h0M176.4 1182.5h0M177.1 1178.5h0M177.7 1176.5h0M178.3 1174.1h0M179 1171.1h0M179.6 1168.7h0M180.2 1165.7h0M180.9 1163.7h0M181.5 1159.6h0M182.1 1158.6h0M182.7 1154.9h0M183.4 1149.6h0M184 1146.8h0M184.6 1143.3h0M185.3 1142.8h0M185.9 1139.8h0M186.5 1137.3h0M187.2 1134h0M187.8 1129.4h0M188.4 1127.5h0M189 1123.9h0M189.7 1120.6h0M190.3 1118.1h0M190.9 1112h0M191.6 1109.5h0M192.2 1107.1h0M192.8 1101.8h0M193.5 1099.6h0M194.1 1095.6h0M194.7 1090.8h0M195.3 1089.2h0M196 1085.5h0M196.6 1082.1h0M197.2 1077h0M197.9 1074.2h0M198.5 1072.9h0M199.1 1069h0M199.7 1068.3h0M200.4 1064.9h0M201 1061.2h0M201.6 1059.6h0M202.3 1056.2h0M202.9 1054.2h0M203.5 1052h0M204.2 1050.2h0M204.8 1049.4h0M205.4 1047.3h0M206 1045.3h0M206.7 1043.2h0M207.3 1043.1h0M207.9 1041h0M208.6 1038.4h0M209.2 1038h0M209.8 1034.7h0M210.5 1035.8h0M211.1 1037h0M211.7 1033.2h0M212.3 1031.8h0M213 1031.2h0M213.6 1030.9h0M214.2 1029.6h0M214.9 1028.8h0M215.5 1028.6h0M216.1 1028.5h0M216.8 1028.4h0M217.4 1028.7h0M218 1029.9h0M218.6 1029.5h0M219.3 1030.6h0M219.9 1030.1h0M220.5 1032.8h0M221.2 1034.7h0M221.8 1033.9h0M222.4 1035.5h0M223.1 1037.8h0M223.7 1040.5h0M224.3 1040.2h0M224.9 1044.3h0M225.6 1045.4h0M226.2 1046.5h0M226.8 1049.7h0M227.5 1051h0M228.1 1052.9h0M228.7 1056.2h0M229.4 1060h0M230 1062.5h0M230.6 1063.8h0M231.2 1065.4h0M231.9 1070h0M232.5 1070.7h0M233.1 1075.1h0M233.8 1076.1h0M234.4 1078.6h0M235 1081.8h0M235.7 1085h0M236.3 1084.8h0M236.9 1087.4h0M237.5 1091.2h0M238.2 1094.4h0M238.8 1096.7h0M239.4 1098.9h0M240.1 1099h0M240.7 1102.1h0M241.3 1104.5h0M242 1107h0M242.6 1108.6h0M243.2 1111.8h0M243.8 1113.9h0M244.5 1114.7h0M245.1 1116h0M245.7 1116.7h0M246.4 1118.5h0M247 1120h0M247.6 1120.7h0M248.2 1121.7h0M248.9 1125.7h0M249.5 1125h0M250.1 1125.8h0M250.8 1127.2h0M251.4 1126.6h0M252 1128.8h0M252.7 1130h0M253.3 1131.3h0M253.9 1132.1h0M254.5 1134.7h0M255.2 1134.1h0M255.8 1134.3h0M256.4 1134.9h0M257.1 1135.3h0M257.7 1136.8h0M258.3 1137.9h0M259 1137.3h0M259.6 1139h0M260.2 1137.4h0M260.8 1137.9h0M261.5 1139h0M262.1 1137.3h0M262.7 1138.3h0M263.4 1137.7h0M264 1136h0M264.6 1134.4h0M265.3 1135h0M265.9 1133.7h0M266.5 1133h0M267.1 1130.7h0M267.8 1131.2h0M268.4 1131.4h0M269 1133h0M269.7 1130.2h0M270.3 1129.9h0M270.9 1129.4h0M271.6 1127.1h0M272.2 1127.6h0M272.8 1126.5h0M273.4 1127.3h0M274.1 1126.1h0M274.7 1125.8h0M275.3 1125.8h0M276 1123.5h0M276.6 1122.7h0M277.2 1121.7h0M277.9 1119.6h0M278.5 1120.2h0M279.1 1120.5h0M279.7 1120.6h0M280.4 1117.4h0M281 1116.2h0M281.6 1116h0M282.3 1116.9h0M282.9 1116.2h0M283.5 1114h0M284.2 1114.4h0M284.8 1112.8h0M285.4 1111.4h0M286 1110.7h0M286.7 1111.1h0M287.3 1109.9h0M287.9 1109.3h0M288.6 1108.8h0M289.2 1107.1h0M289.8 1108.2h0M290.4 1107.1h0M291.1 1107.1h0M291.7 1106.1h0M292.3 1106.6h0M293 1106.7h0M293.6 1105.6h0M294.2 1106.1h0M294.9 1103.6h0M295.5 1104.1h0M296.1 1103.8h0M296.7 1102.7h0M297.4 1102h0M298 1103.3h0M298.6 1103.9h0M299.3 1101.6h0M299.9 1101.8h0M300.5 1102.3h0M301.2 1101.3h0M301.8 1101.9h0M302.4 1100.4h0M303 1101.6h0M303.7 1101h0M304.3 1100.6h0M304.9 1100.2h0M305.6 1099.5h0M306.2 1100.2h0M306.8 1101h0M307.5 1100.2h0M308.1 1100.5h0M308.7 1099.6h0M309.3 1101.5h0M310 1101.2h0M310.6 1102.4h0M311.2 1101.7h0M311.9 1102.3h0M312.5 1103.4h0M313.1 1101.9h0M313.8 1103.6h0M314.4 1103.1h0M315 1102.9h0M315.6 1102.6h0M316.3 1103.6h0M316.9 1102.6h0M317.5 1102.9h0M318.2 1103.6h0M318.8 1102.9h0M319.4 1102.2h0M320.1 1101.6h0M320.7 1102h0M321.3 1101.6h0M321.9 1101.9h0M322.6 1102.3h0M323.2 1102.9h0M323.8 1103.5h0M324.5 1102.3h0M325.1 1103.1h0M325.7 1102.6h0M326.4 1101.6h0M327 1102.8h0M327.6 1102.3h0M328.2 1102.3h0M328.9 1102.4h0M329.5 1102.7h0M330.1 1103.8h0M330.8 1103.5h0M331.4 1103.2h0M332 1102.6h0M332.7 1101.6h0M333.3 1103.2h0M333.9 1103.2h0M334.5 1102.9h0M335.2 1103.2h0M335.8 1103.9h0M336.4 1105h0M337.1 1101.2h0M337.7 1103.1h0M338.3 1102.4h0M338.9 1101.1h0M339.6 1102.2h0M340.2 1101.6h0M340.8 1101.4h0M341.5 1099.5h0M342.1 1100.7h0M342.7 1099.9h0M343.4 1099h0M344 1099.5h0M344.6 1097h0M345.2 1098.9h0M345.9 1099.8h0M346.5 1097.2h0M347.1 1096.9h0M347.8 1096.4h0M348.4 1096.6h0M349 1095.3h0M349.7 1094.5h0M350.3 1093.1h0M350.9 1093h0M351.5 1092.1h0M352.2 1092.1h0M352.8 1091.4h0M353.4 1092.5h0M354.1 1093h0M354.7 1091.3h0M355.3 1090.5h0M356 1090.8h0M356.6 1092.3h0M357.2 1091.2h0M357.8 1092.6h0M358.5 1092.4h0M359.1 1093.1h0M359.7 1093.9h0M360.4 1093.1h0M361 1091.4h0M361.6 1093.5h0M362.3 1093.2h0M362.9 1092.6h0M363.5 1094.4h0M364.1 1094.8h0M364.8 1095.3h0M365.4 1094.2h0M366 1095.9h0M366.7 1096.5h0M367.3 1097.1h0M367.9 1097.7h0M368.6 1098h0M369.2 1097.9h0M369.8 1097.8h0M370.4 1098.4h0M371.1 1099.6h0M371.7 1100.5h0M372.3 1098.8h0M373 1098.5h0M373.6 1098.8h0M374.2 1098.9h0M374.9 1099.7h0M375.5 1098.8h0M376.1 1100.9h0M376.7 1101.1h0M377.4 1101.7h0M378 1099.9h0M378.6 1100.5h0M379.3 1100.5h0M379.9 1101h0M380.5 1103.9h0M381.1 1103.1h0M381.8 1104.3h0M382.4 1105.4h0M383 1104.8h0M383.7 1105.9h0M384.3 1107.2h0M384.9 1106.3h0M385.6 1107.4h0M386.2 1108.1h0M386.8 1107.7h0M387.4 1109.1h0M388.1 1109h0M388.7 1109.2h0M389.3 1108.7h0M390 1112.1h0M390.6 1110.5h0M391.2 1112h0M391.9 1113.2h0M392.5 1114.9h0M393.1 1117h0M393.7 1117.2h0M394.4 1118.1h0M395 1121.5h0M395.6 1124.6h0M396.3 1125.6h0M396.9 1128.1h0M397.5 1130.1h0M398.2 1131h0M398.8 1131.4h0M399.4 1131.9h0M400 1135.1h0M400.7 1135.5h0M401.3 1137.7h0M401.9 1138.2h0M402.6 1137.2h0M403.2 1137.1h0M403.8 1138.1h0M404.5 1140.4h0M405.1 1138.6h0M405.7 1136.5h0M406.3 1134.6h0M407 1133.3h0M407.6 1128.9h0M408.2 1130.3h0M408.9 1126.7h0M409.5 1125.1h0M410.1 1121.9h0M410.8 1118.8h0M411.4 1116.7h0M412 1113.2h0M412.6 1111.8h0M413.3 1109.2h0M413.9 1106.8h0M414.5 1105.5h0M415.2 1102.6h0M415.8 1101.1h0M416.4 1098.9h0M417.1 1095.7h0M417.7 1094.1h0M418.3 1089.1h0M418.9 1087.5h0M419.6 1083.9h0M420.2 1083.2h0M420.8 1078.2h0M421.5 1076h0M422.1 1073.4h0M422.7 1072.5h0M423.4 1069.9h0M424 1066.9h0M424.6 1067.1h0M425.2 1066.2h0M425.9 1062.9h0M426.5 1063.9h0M427.1 1061.5h0M427.8 1060.6h0M428.4 1060h0M429 1057.7h0M429.6 1056.3h0M430.3 1057.2h0M430.9 1055h0M431.5 1055.6h0M432.2 1057.8h0M432.8 1055.3h0M433.4 1054.2h0M434.1 1057.3h0M434.7 1057.8h0M435.3 1057.6h0M435.9 1062h0M436.6 1060.2h0M437.2 1060.4h0M437.8 1061.8h0M438.5 1065.2h0M439.1 1064.7h0M439.7 1066.8h0M440.4 1067.2h0M441 1069.1h0M441.6 1071.5h0M442.2 1072.9h0M442.9 1074.5h0M443.5 1075.5h0M444.1 1076.9h0M444.8 1078.6h0M445.4 1080.5h0M446 1082.5h0M446.7 1083.7h0M447.3 1085.7h0M447.9 1087.5h0M448.5 1090.2h0M449.2 1091.3h0M449.8 1093.7h0M450.4 1096.3h0M451.1 1100.6h0M451.7 1101.4h0M452.3 1103.7h0M453 1105.8h0M453.6 1108h0" stroke="#52d184" stroke-width="4.6" stroke-linecap="round" fill="none"/>
<path d="M166.4 1167.2h0M167 1167.4h0M167.6 1165.4h0M168.3 1164.5h0M168.9 1164.3h0M169.5 1162.7h0M170.1 1162h0M170.8 1159.8h0M171.4 1158.8h0M172 1156.8h0M172.7 1155.9h0M173.3 1154.2h0M173.9 1154.1h0M174.6 1153.3h0M175.2 1151h0M175.8 1148.5h0M176.4 1148.5h0M177.1 1148.2h0M177.7 1147.1h0M178.3 1143.3h0M179 1144.6h0M179.6 1143.1h0M180.2 1140.7h0M180.9 1138.2h0M181.5 1137.3h0M182.1 1136.2h0M182.7 1135h0M183.4 1134.6h0M184 1132.6h0M184.6 1131.7h0M185.3 1131.3h0M185.9 1129.9h0M186.5 1125.4h0M187.2 1124.3h0M187.8 1123.1h0M188.4 1122.1h0M189 1121.1h0M189.7 1120.7h0M190.3 1119.6h0M190.9 1118.7h0M191.6 1117.3h0M192.2 1116.5h0M192.8 1116.4h0M193.5 1114.6h0M194.1 1113.7h0M194.7 1112.6h0M195.3 1111.7h0M196 1112.8h0M196.6 1111.5h0M197.2 1111.5h0M197.9 1110.6h0M198.5 1108.9h0M199.1 1108.2h0M199.7 1108.4h0M200.4 1107.6h0M201 1107.2h0M201.6 1107.2h0M202.3 1106.9h0M202.9 1107.1h0M203.5 1105.2h0M204.2 1106.7h0M204.8 1105.5h0M205.4 1104.9h0M206 1105.2h0M206.7 1103.4h0M207.3 1103.4h0M207.9 1105.2h0M208.6 1104.1h0M209.2 1102.8h0M209.8 1103.2h0M210.5 1102.2h0M211.1 1101.5h0M211.7 1101.4h0M212.3 1101.9h0M213 1101.3h0M213.6 1100.7h0M214.2 1101h0M214.9 1100.1h0M215.5 1100h0M216.1 1099.2h0M216.8 1098.1h0M217.4 1098.5h0M218 1098.9h0M218.6 1097.3h0M219.3 1096.9h0M219.9 1097.8h0M220.5 1097.5h0M221.2 1096.9h0M221.8 1096.8h0M222.4 1098h0M223.1 1096.9h0M223.7 1097.8h0M224.3 1097.1h0M224.9 1096.9h0M225.6 1095.6h0M226.2 1098h0M226.8 1096.1h0M227.5 1096.8h0M228.1 1095.9h0M228.7 1097.8h0M229.4 1097.9h0M230 1097.2h0M230.6 1097.5h0M231.2 1097.4h0M231.9 1098.3h0M232.5 1097.5h0M233.1 1098.3h0M233.8 1100.1h0M234.4 1099.1h0M235 1100h0M235.7 1099.5h0M236.3 1099.9h0M236.9 1099.6h0M237.5 1101.6h0M238.2 1098.7h0M238.8 1098.9h0M239.4 1099.8h0M240.1 1100.5h0M240.7 1100.1h0M241.3 1099.9h0M242 1100.5h0M242.6 1099.9h0M243.2 1100.3h0M243.8 1100.9h0M244.5 1100.7h0M245.1 1102.3h0M245.7 1100.5h0M246.4 1100.6h0M247 1102.3h0M247.6 1102.2h0M248.2 1100.1h0M248.9 1100.5h0M249.5 1101.1h0M250.1 1099.6h0M250.8 1100.6h0M251.4 1099.4h0M252 1098h0M252.7 1099.5h0M253.3 1097.2h0M253.9 1098.1h0M254.5 1096.3h0M255.2 1097.4h0M255.8 1096.8h0M256.4 1096.1h0M257.1 1096.6h0M257.7 1095.3h0M258.3 1093.7h0M259 1095.8h0M259.6 1095.3h0M260.2 1094.8h0M260.8 1095.5h0M261.5 1093.6h0M262.1 1093.8h0M262.7 1094h0M263.4 1094.4h0M264 1092.7h0M264.6 1092.6h0M265.3 1094h0M265.9 1091.6h0M266.5 1092.3h0M267.1 1093.6h0M267.8 1091.9h0M268.4 1092.6h0M269 1092h0M269.7 1093.5h0M270.3 1092.7h0M270.9 1093.4h0M271.6 1093.5h0M272.2 1092.7h0M272.8 1092.3h0M273.4 1093.4h0M274.1 1093.3h0M274.7 1093.2h0M275.3 1093h0M276 1092.1h0M276.6 1091.1h0M277.2 1091.8h0M277.9 1092.1h0M278.5 1092.5h0M279.1 1092.5h0M279.7 1090.3h0M280.4 1090.5h0M281 1091.6h0M281.6 1092.5h0M282.3 1092.2h0M282.9 1090.2h0M283.5 1090.4h0M284.2 1089.4h0M284.8 1090.9h0M285.4 1092.1h0M286 1092.3h0M286.7 1094.4h0M287.3 1093.2h0M287.9 1095.2h0M288.6 1094.1h0M289.2 1094.8h0M289.8 1095.1h0M290.4 1095.8h0M291.1 1095.5h0M291.7 1095.8h0M292.3 1096.7h0M293 1096.6h0M293.6 1097.2h0M294.2 1097.6h0M294.9 1096.8h0M295.5 1097.6h0M296.1 1097h0M296.7 1096.6h0M297.4 1097.3h0M298 1098.8h0M298.6 1097.8h0M299.3 1098.6h0M299.9 1098.8h0M300.5 1098.5h0M301.2 1100.7h0M301.8 1100.1h0M302.4 1100.3h0M303 1101.9h0M303.7 1102.7h0M304.3 1102.6h0M304.9 1101.8h0M305.6 1103.8h0M306.2 1102.2h0M306.8 1102.5h0M307.5 1103.3h0M308.1 1103.3h0M308.7 1104.8h0M309.3 1103.3h0M310 1103.8h0M310.6 1103.3h0M311.2 1105.2h0M311.9 1104.1h0M312.5 1105.8h0M313.1 1105.8h0M313.8 1105.9h0M314.4 1107h0M315 1108.2h0M315.6 1107.8h0M316.3 1108.2h0M316.9 1110h0M317.5 1110.1h0M318.2 1110h0M318.8 1110.1h0M319.4 1110.2h0M320.1 1110.9h0M320.7 1109.9h0M321.3 1110.4h0M321.9 1111.7h0M322.6 1111.8h0M323.2 1111.6h0M323.8 1112.1h0M324.5 1111.7h0M325.1 1112.1h0M325.7 1112.3h0M326.4 1112h0M327 1113.7h0M327.6 1112.7h0M328.2 1112.9h0M328.9 1112.4h0M329.5 1113.7h0M330.1 1114.6h0M330.8 1113.8h0M331.4 1114.4h0M332 1113.8h0M332.7 1114.4h0M333.3 1112.6h0M333.9 1112.2h0M334.5 1112.8h0M335.2 1113.7h0M335.8 1112h0M336.4 1110.1h0M337.1 1111.8h0M337.7 1109.9h0M338.3 1110.3h0M338.9 1112.5h0M339.6 1110.7h0M340.2 1110.9h0M340.8 1111.3h0M341.5 1111.3h0M342.1 1110.7h0M342.7 1108.8h0M343.4 1110.5h0M344 1110.5h0M344.6 1108.6h0M345.2 1108.5h0M345.9 1108.1h0M346.5 1106.2h0M347.1 1107.1h0M347.8 1106.1h0M348.4 1106.4h0M349 1104.8h0M349.7 1105.7h0M350.3 1106.4h0M350.9 1104.7h0M351.5 1105.6h0M352.2 1105.9h0M352.8 1105.6h0M353.4 1107.1h0M354.1 1106.8h0M354.7 1106.5h0M355.3 1106h0M356 1106.9h0M356.6 1106.9h0M357.2 1106.7h0M357.8 1106.5h0M358.5 1106.6h0M359.1 1105.8h0M359.7 1107.6h0M360.4 1106.7h0M361 1107.2h0M361.6 1105.4h0M362.3 1105.1h0M362.9 1105.9h0M363.5 1103.9h0M364.1 1105.2h0M364.8 1103.5h0M365.4 1104.9h0M366 1103.2h0M366.7 1104.1h0M367.3 1103.6h0M367.9 1103.8h0M368.6 1105.3h0M369.2 1104.4h0M369.8 1104.5h0M370.4 1105.4h0M371.1 1105h0M371.7 1105.1h0M372.3 1105.1h0M373 1102.8h0M373.6 1104.5h0M374.2 1104.6h0M374.9 1107.4h0M375.5 1104.2h0M376.1 1104.9h0M376.7 1105.1h0M377.4 1104.9h0M378 1105.5h0M378.6 1103.8h0M379.3 1105.1h0M379.9 1103.3h0M380.5 1103.5h0M381.1 1105.3h0M381.8 1104.9h0M382.4 1103.3h0M383 1104.7h0M383.7 1104.7h0M384.3 1104.3h0M384.9 1102.8h0M385.6 1106.3h0M386.2 1105.4h0M386.8 1105.3h0M387.4 1103.4h0M388.1 1103.9h0M388.7 1103.3h0M389.3 1103.1h0M390 1103.6h0M390.6 1103.2h0M391.2 1102h0M391.9 1102.2h0M392.5 1102.4h0M393.1 1101.6h0M393.7 1103.3h0M394.4 1102.4h0M395 1102.3h0M395.6 1101.1h0M396.3 1101.8h0M396.9 1101.6h0M397.5 1101.2h0M398.2 1101.7h0M398.8 1101.4h0M399.4 1103.2h0M400 1102.3h0M400.7 1100.9h0M401.3 1102.2h0M401.9 1101.1h0M402.6 1101.6h0M403.2 1100.8h0M403.8 1102h0M404.5 1102h0M405.1 1101.7h0M405.7 1101.9h0M406.3 1100.9h0M407 1099.9h0M407.6 1101.7h0M408.2 1100.4h0M408.9 1101h0M409.5 1100.7h0M410.1 1101h0M410.8 1100.1h0M411.4 1101.4h0M412 1100.1h0M412.6 1101.7h0M413.3 1101.6h0M413.9 1099.5h0M414.5 1102h0M415.2 1101.5h0M415.8 1102.9h0M416.4 1102.5h0M417.1 1102h0M417.7 1102.7h0M418.3 1102.1h0M418.9 1103.1h0M419.6 1102.5h0M420.2 1103h0M420.8 1102.7h0M421.5 1104h0M422.1 1102.9h0M422.7 1102.4h0M423.4 1102.7h0M424 1101.1h0M424.6 1102.7h0M425.2 1101.9h0M425.9 1101.3h0M426.5 1101.5h0M427.1 1102.6h0M427.8 1101.8h0M428.4 1101.4h0M429 1101.9h0M429.6 1101.4h0M430.3 1101.2h0M430.9 1102.1h0M431.5 1101.2h0M432.2 1101.2h0M432.8 1100.3h0M433.4 1101.9h0M434.1 1100.9h0M434.7 1101.4h0M435.3 1103h0M435.9 1101.4h0M436.6 1100.2h0M437.2 1100.8h0M437.8 1098.8h0M438.5 1099.8h0M439.1 1100.2h0M439.7 1100.2h0M440.4 1100.3h0M441 1100h0M441.6 1100.1h0M442.2 1100.4h0M442.9 1101.2h0M443.5 1101.2h0M444.1 1101.2h0M444.8 1100.6h0M445.4 1101h0M446 1100h0M446.7 1101.1h0M447.3 1101.1h0M447.9 1100.1h0M448.5 1100h0M449.2 1099.2h0M449.8 1099.9h0M450.4 1100.2h0M451.1 1099.3h0M451.7 1100.2h0M452.3 1100.5h0M453 1099h0M453.6 1100.5h0" stroke="#66a6f8" stroke-width="5" stroke-linecap="round" fill="none"/>
<path d="M166.4 1183.3h0M167 1184.5h0M167.6 1181.7h0M168.3 1180.2h0M168.9 1179.7h0M169.5 1177.8h0M170.1 1178.1h0M170.8 1176.8h0M171.4 1175.3h0M172 1174.2h0M172.7 1171.5h0M173.3 1171.4h0M173.9 1171.6h0M174.6 1169.1h0M175.2 1167.3h0M175.8 1167.4h0M176.4 1163.5h0M177.1 1163.4h0M177.7 1162.4h0M178.3 1160.4h0M179 1159.3h0M179.6 1155.1h0M180.2 1153.9h0M180.9 1152.9h0M181.5 1151.6h0M182.1 1149.2h0M182.7 1148.1h0M183.4 1145.5h0M184 1144.1h0M184.6 1141.3h0M185.3 1139.3h0M185.9 1138.8h0M186.5 1138.9h0M187.2 1137.2h0M187.8 1135.6h0M188.4 1133.9h0M189 1132.8h0M189.7 1131.9h0M190.3 1132.3h0M190.9 1131.7h0M191.6 1131h0M192.2 1126.6h0M192.8 1128.6h0M193.5 1127.3h0M194.1 1125.1h0M194.7 1125.1h0M195.3 1124.7h0M196 1124.5h0M196.6 1125.4h0M197.2 1125.1h0M197.9 1123.3h0M198.5 1123.7h0M199.1 1121.9h0M199.7 1121.7h0M200.4 1120.3h0M201 1119.8h0M201.6 1120.1h0M202.3 1118.1h0M202.9 1118.2h0M203.5 1117.7h0M204.2 1116.2h0M204.8 1115.9h0M205.4 1116.2h0M206 1118.1h0M206.7 1116.5h0M207.3 1115.5h0M207.9 1115.3h0M208.6 1115.4h0M209.2 1112.7h0M209.8 1114.1h0M210.5 1114.8h0M211.1 1114h0M211.7 1113.3h0M212.3 1112.5h0M213 1111.5h0M213.6 1111.1h0M214.2 1111.3h0M214.9 1109.3h0M215.5 1108.9h0M216.1 1109.9h0M216.8 1110.6h0M217.4 1109.2h0M218 1109.2h0M218.6 1109.6h0M219.3 1108.3h0M219.9 1109h0M220.5 1106.3h0M221.2 1110.3h0M221.8 1106.4h0M222.4 1107.8h0M223.1 1107.5h0M223.7 1105.5h0M224.3 1103.4h0M224.9 1106.8h0M225.6 1105.8h0M226.2 1105.1h0M226.8 1106h0M227.5 1107.3h0M228.1 1107.5h0M228.7 1105.3h0M229.4 1107.4h0M230 1107.4h0M230.6 1107.3h0M231.2 1107h0M231.9 1106.7h0M232.5 1106.5h0M233.1 1107.9h0M233.8 1107.6h0M234.4 1106h0M235 1106.8h0M235.7 1107.1h0M236.3 1105.7h0M236.9 1106.3h0M237.5 1105.7h0M238.2 1105h0M238.8 1104.7h0M239.4 1104.3h0M240.1 1105.5h0M240.7 1104.4h0M241.3 1104.5h0M242 1106.6h0M242.6 1104.7h0M243.2 1104.2h0M243.8 1104.6h0M244.5 1103.3h0M245.1 1104.3h0M245.7 1101.8h0M246.4 1103.7h0M247 1103.4h0M247.6 1103.3h0M248.2 1103.9h0M248.9 1103.6h0M249.5 1104.1h0M250.1 1104.1h0M250.8 1102.4h0M251.4 1103.3h0M252 1102.1h0M252.7 1103.6h0M253.3 1101h0M253.9 1103.2h0M254.5 1099.7h0M255.2 1098.6h0M255.8 1099.5h0M256.4 1095.4h0M257.1 1096.5h0M257.7 1095.7h0M258.3 1094.4h0M259 1093.2h0M259.6 1092.2h0M260.2 1092.8h0M260.8 1091.3h0M261.5 1091.2h0M262.1 1090.1h0M262.7 1088.6h0M263.4 1089.2h0M264 1088.6h0M264.6 1086.9h0M265.3 1087.1h0M265.9 1086.5h0M266.5 1085.1h0M267.1 1084.6h0M267.8 1083.8h0M268.4 1083.7h0M269 1082.8h0M269.7 1082.5h0M270.3 1081.4h0M270.9 1082.4h0M271.6 1081.7h0M272.2 1080.6h0M272.8 1079.8h0M273.4 1079.4h0M274.1 1080.1h0M274.7 1079.1h0M275.3 1079.3h0M276 1078h0M276.6 1077.7h0M277.2 1076.1h0M277.9 1075.5h0M278.5 1074.7h0M279.1 1074.8h0M279.7 1074.4h0M280.4 1075.2h0M281 1072.5h0M281.6 1073.3h0M282.3 1071.6h0M282.9 1075.1h0M283.5 1074.6h0M284.2 1073.3h0M284.8 1075.8h0M285.4 1075.6h0M286 1074.6h0M286.7 1074h0M287.3 1074h0M287.9 1075.4h0M288.6 1075.3h0M289.2 1074.1h0M289.8 1074.6h0M290.4 1075.3h0M291.1 1076.8h0M291.7 1076.6h0M292.3 1076.3h0M293 1076.9h0M293.6 1080.3h0M294.2 1080.7h0M294.9 1079h0M295.5 1078.6h0M296.1 1082h0M296.7 1081.6h0M297.4 1081.4h0M298 1082.8h0M298.6 1085.6h0M299.3 1085.5h0M299.9 1086.1h0M300.5 1087.1h0M301.2 1087.4h0M301.8 1088.9h0M302.4 1088.4h0M303 1090.4h0M303.7 1090.1h0M304.3 1089.1h0M304.9 1091h0M305.6 1090.1h0M306.2 1091.6h0M306.8 1091.2h0M307.5 1090.2h0M308.1 1090.3h0M308.7 1090.8h0M309.3 1093.1h0M310 1093.2h0M310.6 1093.8h0M311.2 1093.7h0M311.9 1094.8h0M312.5 1097.6h0M313.1 1096.8h0M313.8 1097.2h0M314.4 1097.5h0M315 1097.8h0M315.6 1097.7h0M316.3 1097.7h0M316.9 1097.3h0M317.5 1097.6h0M318.2 1100.2h0M318.8 1098.7h0M319.4 1100.8h0M320.1 1098.9h0M320.7 1100.8h0M321.3 1100.2h0M321.9 1101.4h0M322.6 1103.6h0M323.2 1104h0M323.8 1102.8h0M324.5 1103.3h0M325.1 1102h0M325.7 1104.2h0M326.4 1104.2h0M327 1105.3h0M327.6 1105.2h0M328.2 1108.1h0M328.9 1106h0M329.5 1106.5h0M330.1 1108.9h0M330.8 1108.6h0M331.4 1108.8h0M332 1107.5h0M332.7 1109.1h0M333.3 1110h0M333.9 1110.7h0M334.5 1109.8h0M335.2 1109.6h0M335.8 1112.3h0M336.4 1111.6h0M337.1 1111.7h0M337.7 1112.4h0M338.3 1112.5h0M338.9 1113.2h0M339.6 1115.4h0M340.2 1114.3h0M340.8 1113.5h0M341.5 1114.3h0M342.1 1115.2h0M342.7 1115.6h0M343.4 1115.8h0M344 1116.3h0M344.6 1115.7h0M345.2 1115.7h0M345.9 1116.7h0M346.5 1116.2h0M347.1 1117.9h0M347.8 1118.9h0M348.4 1119.1h0M349 1119.6h0M349.7 1119.3h0M350.3 1120.2h0M350.9 1119.4h0M351.5 1119.6h0M352.2 1119.4h0M352.8 1121.4h0M353.4 1121.7h0M354.1 1123.5h0M354.7 1122h0M355.3 1121.2h0M356 1122.4h0M356.6 1122.2h0M357.2 1122.8h0M357.8 1124.4h0M358.5 1124.3h0M359.1 1124.9h0M359.7 1124.2h0M360.4 1124.3h0M361 1123.4h0M361.6 1122.5h0M362.3 1123.1h0M362.9 1124h0M363.5 1124.1h0M364.1 1123.1h0M364.8 1122.6h0M365.4 1122.9h0M366 1122.9h0M366.7 1123.2h0M367.3 1124.5h0M367.9 1123.3h0M368.6 1123.9h0M369.2 1124.5h0M369.8 1124.1h0M370.4 1123h0M371.1 1123.3h0M371.7 1124.3h0M372.3 1125.4h0M373 1125.6h0M373.6 1125.7h0M374.2 1124.9h0M374.9 1125.8h0M375.5 1124.3h0M376.1 1126.4h0M376.7 1124.9h0M377.4 1127.1h0M378 1126h0M378.6 1125.4h0M379.3 1123.7h0M379.9 1122.5h0M380.5 1123.6h0M381.1 1122.6h0M381.8 1122.5h0M382.4 1123.2h0M383 1121.4h0M383.7 1122.6h0M384.3 1121.8h0M384.9 1119.9h0M385.6 1120.1h0M386.2 1119.5h0M386.8 1119.6h0M387.4 1118.3h0M388.1 1119.5h0M388.7 1119.4h0M389.3 1118.5h0M390 1115.9h0M390.6 1116.8h0M391.2 1114.7h0M391.9 1116.4h0M392.5 1115h0M393.1 1113.9h0M393.7 1114.6h0M394.4 1114.6h0M395 1115.6h0M395.6 1111.5h0M396.3 1113h0M396.9 1114.6h0M397.5 1112.9h0M398.2 1114.1h0M398.8 1112.2h0M399.4 1113.4h0M400 1111.4h0M400.7 1111h0M401.3 1111.9h0M401.9 1110.5h0M402.6 1110.4h0M403.2 1110.6h0M403.8 1109.7h0M404.5 1109.1h0M405.1 1108.6h0M405.7 1108.3h0M406.3 1108.2h0M407 1107.7h0M407.6 1108.4h0M408.2 1107h0M408.9 1106.6h0M409.5 1107.2h0M410.1 1106.7h0M410.8 1106.9h0M411.4 1106.8h0M412 1105h0M412.6 1105.5h0M413.3 1106.1h0M413.9 1106.2h0M414.5 1104.8h0M415.2 1104.1h0M415.8 1104.6h0M416.4 1104.2h0M417.1 1103.5h0M417.7 1105.3h0M418.3 1103.4h0M418.9 1104.5h0M419.6 1106.4h0M420.2 1103.2h0M420.8 1103.4h0M421.5 1104.6h0M422.1 1105.1h0M422.7 1104h0M423.4 1104.3h0M424 1103.6h0M424.6 1102h0M425.2 1104.1h0M425.9 1102.6h0M426.5 1100.9h0M427.1 1100.5h0M427.8 1101.6h0M428.4 1101.9h0M429 1100.1h0M429.6 1100.9h0M430.3 1101.3h0M430.9 1099.6h0M431.5 1100.8h0M432.2 1099.9h0M432.8 1101.4h0M433.4 1101.6h0M434.1 1101.6h0M434.7 1102.5h0M435.3 1101.9h0M435.9 1102.9h0M436.6 1103.7h0M437.2 1101.9h0M437.8 1103.1h0M438.5 1103.3h0M439.1 1103.1h0M439.7 1102.5h0M440.4 1102.6h0M441 1103.6h0M441.6 1102.6h0M442.2 1102.3h0M442.9 1103.4h0M443.5 1103.6h0M444.1 1100.9h0M444.8 1101.8h0M445.4 1104.7h0M446 1102.4h0M446.7 1104.8h0M447.3 1104.5h0M447.9 1103.8h0M448.5 1103.3h0M449.2 1102.5h0M449.8 1103.4h0M450.4 1103.2h0M451.1 1103.5h0M451.7 1104h0M452.3 1104.7h0M453 1105h0M453.6 1103h0" stroke="#45a0a9" stroke-width="5" stroke-linecap="round" fill="none"/>
<path d="M165.8 976.3V1226.6M164.7 1225.5H455.2M165.8 1225.5v10M211.2 1225.5v10M256.5 1225.5v10M301.9 1225.5v10M347.2 1225.5v10M392.6 1225.5v10M437.9 1225.5v10M165.8 1018.5h-8.5M165.8 1101.3h-8.5M165.8 1184.1h-8.5" fill="none" stroke="#000" stroke-width="2.2"/>
<text x="165.8" y="1250.5" text-anchor="middle" class="b" font-size="14.2">24</text>
<text x="211.2" y="1250.5" text-anchor="middle" class="b" font-size="14.2">36</text>
<text x="256.5" y="1250.5" text-anchor="middle" class="b" font-size="14.2">48</text>
<text x="301.9" y="1250.5" text-anchor="middle" class="b" font-size="14.2">60</text>
<text x="347.2" y="1250.5" text-anchor="middle" class="b" font-size="14.2">72</text>
<text x="392.6" y="1250.5" text-anchor="middle" class="b" font-size="14.2">84</text>
<text x="437.9" y="1250.5" text-anchor="middle" class="b" font-size="14.2">96</text>
<text x="155.3" y="1023.6" text-anchor="end" class="b" font-size="14.2">1.2</text>
<text x="155.3" y="1106.4" text-anchor="end" class="b" font-size="14.2">1.0</text>
<text x="155.3" y="1189.2" text-anchor="end" class="b" font-size="14.2">0.8</text>
<text x="308.8" y="1275.6" text-anchor="middle" class="b" font-size="17.9">Time [h]</text>
<text transform="translate(126.5 1101.3) rotate(-90)" text-anchor="middle" font-size="16.15"><tspan class="b i">BMAL1</tspan><tspan class="b"> relative bioluminescence</tspan></text>
<text transform="translate(87 1102) rotate(-90)" text-anchor="middle" font-size="24.4"><tspan>T98G </tspan><tspan class="i">BMAL1</tspan><tspan> KO</tspan></text>
<path d="M654.4 1129.8h0M655 1130.3h0M655.6 1129.7h0M656.3 1133h0M656.9 1131h0M657.5 1128.6h0M658.1 1127.5h0M658.8 1129.5h0M659.4 1127.8h0M660 1126.7h0M660.7 1125.8h0M661.3 1125.7h0M661.9 1125.5h0M662.6 1125.2h0M663.2 1124.7h0M663.8 1122.7h0M664.4 1122.5h0M665.1 1120.1h0M665.7 1119.6h0M666.3 1119.1h0M667 1119.7h0M667.6 1123.2h0M668.2 1118h0M668.9 1116.9h0M669.5 1118.3h0M670.1 1118h0M670.7 1117.1h0M671.4 1113.7h0M672 1114.6h0M672.6 1116.8h0M673.3 1115h0M673.9 1114h0M674.5 1110.5h0M675.2 1108.1h0M675.8 1111.8h0M676.4 1111.3h0M677 1107.3h0M677.7 1108.9h0M678.3 1105.9h0M678.9 1106.8h0M679.6 1105.9h0M680.2 1104.7h0M680.8 1105.8h0M681.5 1102h0M682.1 1102.4h0M682.7 1100.9h0M683.3 1100.6h0M684 1099h0M684.6 1098.6h0M685.2 1098.3h0M685.9 1098.9h0M686.5 1101.8h0M687.1 1098.4h0M687.7 1096.6h0M688.4 1095.4h0M689 1094.3h0M689.6 1096.2h0M690.3 1093.5h0M690.9 1096.8h0M691.5 1095.3h0M692.2 1094.7h0M692.8 1093.3h0M693.4 1092.6h0M694 1092.5h0M694.7 1091.1h0M695.3 1094.1h0M695.9 1089.7h0M696.6 1092.2h0M697.2 1091.8h0M697.8 1094.9h0M698.5 1093.2h0M699.1 1093.8h0M699.7 1095.1h0M700.3 1094.5h0M701 1095.6h0M701.6 1095.5h0M702.2 1095.2h0M702.9 1095.5h0M703.5 1095.7h0M704.1 1097.2h0M704.8 1098.7h0M705.4 1099.2h0M706 1101.4h0M706.6 1101h0M707.3 1104.3h0M707.9 1102.6h0M708.5 1105.9h0M709.2 1104.6h0M709.8 1108.1h0M710.4 1110.4h0M711.1 1107.6h0M711.7 1109.9h0M712.3 1110.9h0M712.9 1112.1h0M713.6 1113.4h0M714.2 1113.7h0M714.8 1113.8h0M715.5 1112.4h0M716.1 1115.4h0M716.7 1113.6h0M717.4 1115.8h0M718 1113.5h0M718.6 1114.9h0M719.2 1117h0M719.9 1117h0M720.5 1119h0M721.1 1117.2h0M721.8 1116.9h0M722.4 1121.6h0M723 1122h0M723.7 1118.7h0M724.3 1119.8h0M724.9 1122.6h0M725.5 1120.7h0M726.2 1121.6h0M726.8 1124.6h0M727.4 1122.7h0M728.1 1122.6h0M728.7 1124.3h0M729.3 1123h0M730 1123.6h0M730.6 1124.7h0M731.2 1121.1h0M731.8 1123.1h0M732.5 1124.5h0M733.1 1122.8h0M733.7 1120.1h0M734.4 1123.1h0M735 1121.5h0M735.6 1118.2h0M736.2 1120.1h0M736.9 1120.6h0M737.5 1120.3h0M738.1 1118.5h0M738.8 1116.1h0M739.4 1116.4h0M740 1114.3h0M740.7 1111.8h0M741.3 1111.5h0M741.9 1110.9h0M742.5 1110.4h0M743.2 1108.9h0M743.8 1109.5h0M744.4 1108.5h0M745.1 1106.6h0M745.7 1104.7h0M746.3 1101.7h0M747 1103.5h0M747.6 1099.8h0M748.2 1099.6h0M748.8 1098.8h0M749.5 1097.8h0M750.1 1099.2h0M750.7 1095.3h0M751.4 1091.5h0M752 1093h0M752.6 1091.2h0M753.3 1091.9h0M753.9 1088.4h0M754.5 1087.8h0M755.1 1086.8h0M755.8 1087h0M756.4 1085.2h0M757 1082.6h0M757.7 1082.8h0M758.3 1082.7h0M758.9 1081.3h0M759.6 1082.9h0M760.2 1076h0M760.8 1077.2h0M761.4 1074.9h0M762.1 1077h0M762.7 1072.1h0M763.3 1072.5h0M764 1072h0M764.6 1071.3h0M765.2 1071.4h0M765.9 1068.3h0M766.5 1067.2h0M767.1 1069.9h0M767.7 1070h0M768.4 1069h0M769 1067.8h0M769.6 1070.6h0M770.3 1068.8h0M770.9 1066.9h0M771.5 1069.3h0M772.2 1069.4h0M772.8 1068.2h0M773.4 1069.6h0M774 1071.5h0M774.7 1070.5h0M775.3 1069.5h0M775.9 1070.7h0M776.6 1071.3h0M777.2 1072.9h0M777.8 1074.1h0M778.4 1073.2h0M779.1 1072.3h0M779.7 1072.9h0M780.3 1075.7h0M781 1072.6h0M781.6 1074.7h0M782.2 1075.8h0M782.9 1076.8h0M783.5 1077.5h0M784.1 1079.9h0M784.7 1079h0M785.4 1081.3h0M786 1084.6h0M786.6 1088.6h0M787.3 1087.2h0M787.9 1088h0M788.5 1090.3h0M789.2 1092.3h0M789.8 1091.8h0M790.4 1094.6h0M791 1094.2h0M791.7 1097.8h0M792.3 1097h0M792.9 1099.7h0M793.6 1102.5h0M794.2 1102.2h0M794.8 1102.5h0M795.5 1102h0M796.1 1106h0M796.7 1103.2h0M797.3 1105.2h0M798 1107.2h0M798.6 1106.2h0M799.2 1108h0M799.9 1107.3h0M800.5 1109.2h0M801.1 1110.4h0M801.8 1112.4h0M802.4 1110.3h0M803 1111.3h0M803.6 1112.9h0M804.3 1114h0M804.9 1112.4h0M805.5 1114.9h0M806.2 1115.7h0M806.8 1115.8h0M807.4 1116.9h0M808.1 1115.4h0M808.7 1117.4h0M809.3 1118.8h0M809.9 1119.5h0M810.6 1120.4h0M811.2 1119.4h0M811.8 1120.7h0M812.5 1121.5h0M813.1 1121.8h0M813.7 1124.6h0M814.4 1126.2h0M815 1126.1h0M815.6 1125.9h0M816.2 1125.7h0M816.9 1123.6h0M817.5 1126h0M818.1 1126h0M818.8 1126.5h0M819.4 1127.6h0M820 1123.5h0M820.7 1123.2h0M821.3 1125.4h0M821.9 1124.2h0M822.5 1121.8h0M823.2 1124.1h0M823.8 1123.2h0M824.4 1125.1h0M825.1 1120.4h0M825.7 1123.9h0M826.3 1121.8h0M826.9 1122.7h0M827.6 1123.1h0M828.2 1121.1h0M828.8 1119.3h0M829.5 1120.2h0M830.1 1120.2h0M830.7 1118.3h0M831.4 1117h0M832 1117.2h0M832.6 1116.7h0M833.2 1116.4h0M833.9 1115.3h0M834.5 1116.1h0M835.1 1114h0M835.8 1115.6h0M836.4 1114.3h0M837 1115.2h0M837.7 1112.1h0M838.3 1111.1h0M838.9 1109.9h0M839.5 1111.6h0M840.2 1110.5h0M840.8 1111h0M841.4 1109h0M842.1 1108.5h0M842.7 1108.4h0M843.3 1107.1h0M844 1104.8h0M844.6 1105.2h0M845.2 1106.1h0M845.8 1103.6h0M846.5 1104.9h0M847.1 1104.3h0M847.7 1101.8h0M848.4 1102.5h0M849 1105.3h0M849.6 1105.3h0M850.3 1101.9h0M850.9 1104.1h0M851.5 1102.3h0M852.1 1101h0M852.8 1100.4h0M853.4 1101.2h0M854 1102h0M854.7 1103.1h0M855.3 1103h0M855.9 1102.2h0M856.6 1103.8h0M857.2 1102h0M857.8 1103.9h0M858.4 1101.8h0M859.1 1100.9h0M859.7 1103.7h0M860.3 1101.8h0M861 1102.8h0M861.6 1102.1h0M862.2 1102.2h0M862.9 1101.8h0M863.5 1101.4h0M864.1 1100.5h0M864.7 1101.2h0M865.4 1100.5h0M866 1101.6h0M866.6 1100.3h0M867.3 1098.1h0M867.9 1101.8h0M868.5 1097.9h0M869.1 1099.6h0M869.8 1099.6h0M870.4 1097.8h0M871 1097.6h0M871.7 1098h0M872.3 1100.7h0M872.9 1098.7h0M873.6 1097.9h0M874.2 1100.1h0M874.8 1098.6h0M875.4 1097.3h0M876.1 1100.8h0M876.7 1099.7h0M877.3 1102h0M878 1102.4h0M878.6 1099.8h0M879.2 1102.7h0M879.9 1100.9h0M880.5 1102.6h0M881.1 1102h0M881.7 1101.5h0M882.4 1100.7h0M883 1103.1h0M883.6 1099.4h0M884.3 1099.5h0M884.9 1102.5h0M885.5 1103.4h0M886.2 1104.7h0M886.8 1100.4h0M887.4 1102.7h0M888 1104.3h0M888.7 1102.4h0M889.3 1103.4h0M889.9 1103.9h0M890.6 1104.5h0M891.2 1105.7h0M891.8 1107.8h0M892.5 1108.3h0M893.1 1107.1h0M893.7 1110h0M894.3 1111.1h0M895 1111.9h0M895.6 1111.2h0M896.2 1111.8h0M896.9 1110.7h0M897.5 1114.2h0M898.1 1110.9h0M898.8 1112.7h0M899.4 1109.5h0M900 1111.9h0M900.6 1111.7h0M901.3 1112.5h0M901.9 1112.6h0M902.5 1112.7h0M903.2 1112.8h0M903.8 1111.6h0M904.4 1110.6h0M905.1 1113.6h0M905.7 1114.6h0M906.3 1114h0M906.9 1114.1h0M907.6 1113.2h0M908.2 1113.5h0M908.8 1113.3h0M909.5 1110.4h0M910.1 1112.8h0M910.7 1111.2h0M911.4 1112.5h0M912 1111.3h0M912.6 1114.2h0M913.2 1113.6h0M913.9 1114.8h0M914.5 1112.5h0M915.1 1110.7h0M915.8 1113.1h0M916.4 1113.4h0M917 1110.8h0M917.6 1113.8h0M918.3 1110.1h0M918.9 1110.9h0M919.5 1110.6h0M920.2 1109.1h0M920.8 1108.6h0M921.4 1109h0M922.1 1108.9h0M922.7 1109.8h0M923.3 1106h0M923.9 1108.4h0M924.6 1107.2h0M925.2 1106.3h0M925.8 1105.7h0M926.5 1105.5h0M927.1 1104.9h0M927.7 1106h0M928.4 1104.1h0M929 1105.4h0M929.6 1101.7h0M930.2 1101.7h0M930.9 1098.5h0M931.5 1097.5h0M932.1 1097h0M932.8 1093.5h0M933.4 1091.4h0M934 1090h0M934.7 1088.3h0M935.3 1089.3h0M935.9 1087.5h0M936.5 1085.3h0M937.2 1085.5h0M937.8 1085h0M938.4 1082.6h0M939.1 1084.7h0M939.7 1086.6h0M940.3 1085.3h0M941 1084h0M941.6 1086.5h0" stroke="#9c5fa2" stroke-width="4.6" stroke-linecap="round" fill="none"/>
<path d="M654.4 1156.3h0M655 1154.1h0M655.6 1150h0M656.3 1150.4h0M656.9 1145.4h0M657.5 1146.1h0M658.1 1142.2h0M658.8 1140.5h0M659.4 1137.3h0M660 1136.2h0M660.7 1134.9h0M661.3 1130.7h0M661.9 1128.7h0M662.6 1130.5h0M663.2 1127.2h0M663.8 1127.5h0M664.4 1125.7h0M665.1 1123.7h0M665.7 1123.8h0M666.3 1119.8h0M667 1119.9h0M667.6 1118.3h0M668.2 1115.6h0M668.9 1116.3h0M669.5 1114.1h0M670.1 1110.2h0M670.7 1108.1h0M671.4 1105.5h0M672 1105.5h0M672.6 1102.4h0M673.3 1099.6h0M673.9 1098.2h0M674.5 1100h0M675.2 1099.4h0M675.8 1094.7h0M676.4 1092.4h0M677 1092.9h0M677.7 1089.9h0M678.3 1089.9h0M678.9 1088.7h0M679.6 1087.7h0M680.2 1086.8h0M680.8 1085.9h0M681.5 1082h0M682.1 1082.3h0M682.7 1083.5h0M683.3 1081.8h0M684 1082.2h0M684.6 1080h0M685.2 1081.9h0M685.9 1079.9h0M686.5 1078.2h0M687.1 1078.6h0M687.7 1079.1h0M688.4 1080.3h0M689 1078h0M689.6 1079.1h0M690.3 1078h0M690.9 1080.4h0M691.5 1078.4h0M692.2 1080.8h0M692.8 1081h0M693.4 1083.2h0M694 1084.1h0M694.7 1085.1h0M695.3 1084.7h0M695.9 1086.1h0M696.6 1086.6h0M697.2 1085.5h0M697.8 1087.7h0M698.5 1089.6h0M699.1 1089.4h0M699.7 1092.8h0M700.3 1093.5h0M701 1091.8h0M701.6 1090h0M702.2 1092.1h0M702.9 1093h0M703.5 1096.8h0M704.1 1099h0M704.8 1097.4h0M705.4 1101.3h0M706 1104.2h0M706.6 1100.6h0M707.3 1100h0M707.9 1101.3h0M708.5 1100.7h0M709.2 1102.3h0M709.8 1103.1h0M710.4 1105h0M711.1 1105.2h0M711.7 1107.7h0M712.3 1107.4h0M712.9 1105.4h0M713.6 1108.2h0M714.2 1108.9h0M714.8 1110.7h0M715.5 1107h0M716.1 1113.5h0M716.7 1113h0M717.4 1111.1h0M718 1113.4h0M718.6 1113.6h0M719.2 1111.7h0M719.9 1112h0M720.5 1112.3h0M721.1 1115.2h0M721.8 1113.2h0M722.4 1115.5h0M723 1114.7h0M723.7 1115h0M724.3 1113.6h0M724.9 1114.5h0M725.5 1115h0M726.2 1114.9h0M726.8 1116.4h0M727.4 1115.6h0M728.1 1115.5h0M728.7 1115.8h0M729.3 1116.4h0M730 1116.7h0M730.6 1114.3h0M731.2 1117.7h0M731.8 1114.6h0M732.5 1115.5h0M733.1 1114.6h0M733.7 1115.4h0M734.4 1113.6h0M735 1113.9h0M735.6 1111.2h0M736.2 1113.6h0M736.9 1114.4h0M737.5 1113.8h0M738.1 1110.9h0M738.8 1110.7h0M739.4 1111.8h0M740 1108.2h0M740.7 1109.9h0M741.3 1109.4h0M741.9 1107.8h0M742.5 1110.1h0M743.2 1108.3h0M743.8 1109.4h0M744.4 1107.2h0M745.1 1107.5h0M745.7 1108.7h0M746.3 1107.4h0M747 1110.2h0M747.6 1108.5h0M748.2 1109.4h0M748.8 1110.5h0M749.5 1108.3h0M750.1 1106.8h0M750.7 1104.8h0M751.4 1107.4h0M752 1106.4h0M752.6 1104.7h0M753.3 1107.9h0M753.9 1103.8h0M754.5 1107.7h0M755.1 1107h0M755.8 1105.8h0M756.4 1105.8h0M757 1104.4h0M757.7 1107.4h0M758.3 1106.9h0M758.9 1106.8h0M759.6 1106.3h0M760.2 1104.8h0M760.8 1105.1h0M761.4 1105.3h0M762.1 1105.2h0M762.7 1105.8h0M763.3 1107.1h0M764 1106.7h0M764.6 1103.5h0M765.2 1105.3h0M765.9 1104.6h0M766.5 1102.3h0M767.1 1103.4h0M767.7 1103.5h0M768.4 1103.5h0M769 1101.6h0M769.6 1098.5h0M770.3 1102.1h0M770.9 1099.5h0M771.5 1096.8h0M772.2 1097.1h0M772.8 1097h0M773.4 1095.7h0M774 1094.4h0M774.7 1093.2h0M775.3 1095.5h0M775.9 1094.1h0M776.6 1092.4h0M777.2 1091h0M777.8 1090.2h0M778.4 1089.7h0M779.1 1088.2h0M779.7 1088.3h0M780.3 1085.5h0M781 1089.2h0M781.6 1088.2h0M782.2 1089.8h0M782.9 1086.7h0M783.5 1086.7h0M784.1 1087.4h0M784.7 1088.7h0M785.4 1084.5h0M786 1086.5h0M786.6 1086.2h0M787.3 1088.8h0M787.9 1086.1h0M788.5 1085.2h0M789.2 1083h0M789.8 1084.2h0M790.4 1083.6h0M791 1087h0M791.7 1085.1h0M792.3 1084.8h0M792.9 1084.4h0M793.6 1084.6h0M794.2 1085.1h0M794.8 1083.2h0M795.5 1085h0M796.1 1083.7h0M796.7 1084.1h0M797.3 1085h0M798 1083.9h0M798.6 1087.4h0M799.2 1085.5h0M799.9 1084.4h0M800.5 1087h0M801.1 1088.7h0M801.8 1085.4h0M802.4 1088.9h0M803 1085.3h0M803.6 1086.9h0M804.3 1089.4h0M804.9 1089.2h0M805.5 1086.9h0M806.2 1088.9h0M806.8 1088.9h0M807.4 1088.9h0M808.1 1089.5h0M808.7 1090.9h0M809.3 1090.4h0M809.9 1090.3h0M810.6 1092.6h0M811.2 1091.1h0M811.8 1092h0M812.5 1096.1h0M813.1 1093.3h0M813.7 1093.3h0M814.4 1097.8h0M815 1096.4h0M815.6 1095.4h0M816.2 1097.3h0M816.9 1096.7h0M817.5 1097.9h0M818.1 1099.4h0M818.8 1099h0M819.4 1100h0M820 1100.1h0M820.7 1100h0M821.3 1101.2h0M821.9 1101.6h0M822.5 1101.2h0M823.2 1099.9h0M823.8 1102.1h0M824.4 1099.6h0M825.1 1102.9h0M825.7 1099.7h0M826.3 1101.7h0M826.9 1102.6h0M827.6 1103.3h0M828.2 1102h0M828.8 1102.8h0M829.5 1104.4h0M830.1 1103.2h0M830.7 1102.7h0M831.4 1102.7h0M832 1101.2h0M832.6 1106.1h0M833.2 1103.6h0M833.9 1104.5h0M834.5 1103.7h0M835.1 1101.8h0M835.8 1106.4h0M836.4 1106.7h0M837 1106.5h0M837.7 1105.4h0M838.3 1105.8h0M838.9 1108.2h0M839.5 1106.5h0M840.2 1108.4h0M840.8 1107h0M841.4 1108.3h0M842.1 1107.8h0M842.7 1108.1h0M843.3 1108.5h0M844 1108.2h0M844.6 1106.6h0M845.2 1108.2h0M845.8 1108.6h0M846.5 1107.4h0M847.1 1105.9h0M847.7 1105.8h0M848.4 1107.3h0M849 1106.6h0M849.6 1105.5h0M850.3 1106.8h0M850.9 1104.7h0M851.5 1105h0M852.1 1106.3h0M852.8 1103.7h0M853.4 1104.9h0M854 1102.8h0M854.7 1105.4h0M855.3 1103h0M855.9 1101.9h0M856.6 1103.7h0M857.2 1103.5h0M857.8 1104.3h0M858.4 1104h0M859.1 1103h0M859.7 1101.6h0M860.3 1102.2h0M861 1104.7h0M861.6 1101.5h0M862.2 1103.7h0M862.9 1100h0M863.5 1100.7h0M864.1 1101.5h0M864.7 1103.7h0M865.4 1101.5h0M866 1103h0M866.6 1102.7h0M867.3 1102h0M867.9 1103.3h0M868.5 1100.7h0M869.1 1099.6h0M869.8 1098.9h0M870.4 1101.3h0M871 1101.7h0M871.7 1099h0M872.3 1098.8h0M872.9 1102.1h0M873.6 1099.2h0M874.2 1098.1h0M874.8 1100.8h0M875.4 1099.1h0M876.1 1101.8h0M876.7 1102h0M877.3 1102.4h0M878 1099h0M878.6 1102.1h0M879.2 1104.6h0M879.9 1102.5h0M880.5 1102.3h0M881.1 1103.2h0M881.7 1098.7h0M882.4 1101.6h0M883 1100.2h0M883.6 1100.3h0M884.3 1099.1h0M884.9 1101.9h0M885.5 1102.6h0M886.2 1101.8h0M886.8 1099.9h0M887.4 1100.4h0M888 1099.8h0M888.7 1101.7h0M889.3 1099.7h0M889.9 1100.6h0M890.6 1100.5h0M891.2 1100.7h0M891.8 1101.5h0M892.5 1101.1h0M893.1 1103.4h0M893.7 1101.5h0M894.3 1101.8h0M895 1100.3h0M895.6 1100.7h0M896.2 1100.9h0M896.9 1099.7h0M897.5 1098.6h0M898.1 1099.8h0M898.8 1099.3h0M899.4 1099.7h0M900 1098.8h0M900.6 1100.7h0M901.3 1100.1h0M901.9 1101.1h0M902.5 1102.5h0M903.2 1099.9h0M903.8 1099.8h0M904.4 1100.9h0M905.1 1100.6h0M905.7 1099.8h0M906.3 1098.4h0M906.9 1100.6h0M907.6 1098.6h0M908.2 1099.5h0M908.8 1104.6h0M909.5 1102.9h0M910.1 1102.9h0M910.7 1104.2h0M911.4 1102.8h0M912 1104.1h0M912.6 1104.3h0M913.2 1105.2h0M913.9 1107h0M914.5 1104h0M915.1 1105.9h0M915.8 1102.4h0M916.4 1102.5h0M917 1099.5h0M917.6 1102.9h0M918.3 1106.1h0M918.9 1100.8h0M919.5 1102.8h0M920.2 1102.2h0M920.8 1102h0M921.4 1105.8h0M922.1 1106.3h0M922.7 1104.2h0M923.3 1107.3h0M923.9 1107.8h0M924.6 1106.2h0M925.2 1106h0M925.8 1104.8h0M926.5 1106.4h0M927.1 1106.9h0M927.7 1105.6h0M928.4 1105.7h0M929 1104.7h0M929.6 1108.3h0M930.2 1104h0M930.9 1107.9h0M931.5 1105h0M932.1 1105.5h0M932.8 1107.7h0M933.4 1107.1h0M934 1108h0M934.7 1107.4h0M935.3 1107h0M935.9 1108.7h0M936.5 1108h0M937.2 1109.2h0M937.8 1107.8h0M938.4 1107.9h0M939.1 1108.9h0M939.7 1110.3h0M940.3 1108.1h0M941 1110.4h0M941.6 1109.8h0" stroke="#b6cd36" stroke-width="4.6" stroke-linecap="round" fill="none"/>
<path d="M654.4 1125.4h0M655 1126h0M655.6 1121.8h0M656.3 1123.1h0M656.9 1122.8h0M657.5 1122.9h0M658.1 1119.9h0M658.8 1121h0M659.4 1118h0M660 1119h0M660.7 1117.5h0M661.3 1117.4h0M661.9 1116.4h0M662.6 1115.9h0M663.2 1116.9h0M663.8 1113.6h0M664.4 1113.3h0M665.1 1112.5h0M665.7 1112.8h0M666.3 1116.3h0M667 1111h0M667.6 1114.2h0M668.2 1111.8h0M668.9 1110.1h0M669.5 1108.5h0M670.1 1109h0M670.7 1108.6h0M671.4 1108.1h0M672 1109.3h0M672.6 1106.1h0M673.3 1102.3h0M673.9 1108.1h0M674.5 1104.9h0M675.2 1104.9h0M675.8 1105.1h0M676.4 1103.6h0M677 1102.6h0M677.7 1102.4h0M678.3 1100.9h0M678.9 1101.7h0M679.6 1099.7h0M680.2 1101.3h0M680.8 1101.4h0M681.5 1097h0M682.1 1099.5h0M682.7 1099.6h0M683.3 1100.7h0M684 1096.4h0M684.6 1098h0M685.2 1097.5h0M685.9 1095h0M686.5 1094.6h0M687.1 1095.6h0M687.7 1093.5h0M688.4 1093.8h0M689 1094.1h0M689.6 1094.2h0M690.3 1092.6h0M690.9 1096h0M691.5 1093.2h0M692.2 1093.5h0M692.8 1095.3h0M693.4 1094.9h0M694 1090.3h0M694.7 1095.9h0M695.3 1092.7h0M695.9 1093.2h0M696.6 1092.5h0M697.2 1092.5h0M697.8 1092.1h0M698.5 1092.2h0M699.1 1092.8h0M699.7 1094.3h0M700.3 1092.8h0M701 1091.7h0M701.6 1092.4h0M702.2 1092.4h0M702.9 1094.4h0M703.5 1095.3h0M704.1 1095.1h0M704.8 1094.3h0M705.4 1094.4h0M706 1095.3h0M706.6 1096.5h0M707.3 1100.1h0M707.9 1100h0M708.5 1099h0M709.2 1098.8h0M709.8 1099.2h0M710.4 1102.4h0M711.1 1100.3h0M711.7 1104.3h0M712.3 1101.6h0M712.9 1100.8h0M713.6 1101.4h0M714.2 1099.8h0M714.8 1100.9h0M715.5 1100.8h0M716.1 1100.6h0M716.7 1102.2h0M717.4 1099.3h0M718 1102.1h0M718.6 1100.9h0M719.2 1101.7h0M719.9 1103h0M720.5 1102.2h0M721.1 1101.5h0M721.8 1102.9h0M722.4 1099.8h0M723 1104.2h0M723.7 1102.7h0M724.3 1101.9h0M724.9 1102.7h0M725.5 1102.8h0M726.2 1106h0M726.8 1104.8h0M727.4 1105h0M728.1 1103.7h0M728.7 1106.7h0M729.3 1106.5h0M730 1104.1h0M730.6 1106.8h0M731.2 1106.5h0M731.8 1106.9h0M732.5 1105.1h0M733.1 1109.6h0M733.7 1108.5h0M734.4 1108.9h0M735 1108.8h0M735.6 1108.5h0M736.2 1111h0M736.9 1109.1h0M737.5 1110.4h0M738.1 1106.2h0M738.8 1111.6h0M739.4 1110h0M740 1112.3h0M740.7 1112h0M741.3 1113h0M741.9 1111.4h0M742.5 1112h0M743.2 1114.8h0M743.8 1112.5h0M744.4 1112.6h0M745.1 1112.3h0M745.7 1114.5h0M746.3 1112h0M747 1115.5h0M747.6 1113.4h0M748.2 1114.2h0M748.8 1113.7h0M749.5 1112.3h0M750.1 1114.1h0M750.7 1111.7h0M751.4 1116.2h0M752 1117.5h0M752.6 1115.4h0M753.3 1117.3h0M753.9 1118h0M754.5 1116.7h0M755.1 1116.7h0M755.8 1121.2h0M756.4 1119.3h0M757 1117.2h0M757.7 1119.5h0M758.3 1115.4h0M758.9 1117.2h0M759.6 1116.4h0M760.2 1116.4h0M760.8 1117.7h0M761.4 1116.3h0M762.1 1116.9h0M762.7 1115.4h0M763.3 1112.8h0M764 1112.9h0M764.6 1113.6h0M765.2 1113h0M765.9 1111.5h0M766.5 1113h0M767.1 1112.7h0M767.7 1111.4h0M768.4 1112.7h0M769 1113.5h0M769.6 1109.8h0M770.3 1114.1h0M770.9 1112.5h0M771.5 1112.5h0M772.2 1113.8h0M772.8 1111h0M773.4 1111.3h0M774 1113.6h0M774.7 1116.3h0M775.3 1114.3h0M775.9 1116.9h0M776.6 1114.3h0M777.2 1114.1h0M777.8 1115h0M778.4 1113.3h0M779.1 1115h0M779.7 1117h0M780.3 1116h0M781 1114.5h0M781.6 1118.9h0M782.2 1116.4h0M782.9 1118.6h0M783.5 1114.1h0M784.1 1119.2h0M784.7 1120h0M785.4 1116.4h0M786 1116.2h0M786.6 1117.3h0M787.3 1116.2h0M787.9 1117.2h0M788.5 1114.9h0M789.2 1112.8h0M789.8 1112.8h0M790.4 1113.5h0M791 1113.2h0M791.7 1110.9h0M792.3 1109.5h0M792.9 1109.6h0M793.6 1113.2h0M794.2 1111.4h0M794.8 1112.2h0M795.5 1111.9h0M796.1 1110.7h0M796.7 1107.8h0M797.3 1110.3h0M798 1110.7h0M798.6 1111.4h0M799.2 1109.3h0M799.9 1112.3h0M800.5 1108.8h0M801.1 1108.1h0M801.8 1110.8h0M802.4 1107h0M803 1105.4h0M803.6 1109.3h0M804.3 1106.9h0M804.9 1108.7h0M805.5 1108.2h0M806.2 1106.3h0M806.8 1106.1h0M807.4 1108.1h0M808.1 1108.6h0M808.7 1106.4h0M809.3 1108.4h0M809.9 1108.2h0M810.6 1106.9h0M811.2 1106.9h0M811.8 1105.3h0M812.5 1103.6h0M813.1 1108h0M813.7 1104.9h0M814.4 1108.5h0M815 1106.9h0M815.6 1105.2h0M816.2 1103.8h0M816.9 1109.5h0M817.5 1105.2h0M818.1 1107.6h0M818.8 1107h0M819.4 1106.5h0M820 1104.8h0M820.7 1103.9h0M821.3 1106.9h0M821.9 1107.7h0M822.5 1108.2h0M823.2 1109.7h0M823.8 1108.8h0M824.4 1104.7h0M825.1 1108.4h0M825.7 1108.2h0M826.3 1107.2h0M826.9 1106.8h0M827.6 1106.8h0M828.2 1106.5h0M828.8 1106.4h0M829.5 1103.5h0M830.1 1104.7h0M830.7 1105.8h0M831.4 1107.2h0M832 1105.8h0M832.6 1105.6h0M833.2 1106.8h0M833.9 1107.4h0M834.5 1105.7h0M835.1 1107.4h0M835.8 1106.7h0M836.4 1105.1h0M837 1104.9h0M837.7 1104.8h0M838.3 1101h0M838.9 1102.8h0M839.5 1103.7h0M840.2 1102.6h0M840.8 1101.3h0M841.4 1102.4h0M842.1 1105.5h0M842.7 1103.7h0M843.3 1102.5h0M844 1102.3h0M844.6 1101.2h0M845.2 1102.5h0M845.8 1103.5h0M846.5 1101.3h0M847.1 1103.1h0M847.7 1100.6h0M848.4 1104h0M849 1100.2h0M849.6 1103h0M850.3 1100.7h0M850.9 1102.2h0M851.5 1103.2h0M852.1 1101.7h0M852.8 1100.2h0M853.4 1100.3h0M854 1099.5h0M854.7 1099.3h0M855.3 1100.7h0M855.9 1101.6h0M856.6 1099.6h0M857.2 1102h0M857.8 1099.8h0M858.4 1099.4h0M859.1 1098.6h0M859.7 1100h0M860.3 1097.6h0M861 1098.4h0M861.6 1098.4h0M862.2 1099h0M862.9 1098.1h0M863.5 1097.8h0M864.1 1097.6h0M864.7 1100.3h0M865.4 1099.1h0M866 1095.9h0M866.6 1100.7h0M867.3 1098.1h0M867.9 1098.5h0M868.5 1095.6h0M869.1 1097h0M869.8 1097.6h0M870.4 1097h0M871 1099.8h0M871.7 1095.2h0M872.3 1096.8h0M872.9 1098.5h0M873.6 1097.8h0M874.2 1096.1h0M874.8 1097.2h0M875.4 1097h0M876.1 1094.4h0M876.7 1096.5h0M877.3 1096.1h0M878 1095.4h0M878.6 1097.6h0M879.2 1094.1h0M879.9 1095.4h0M880.5 1097.7h0M881.1 1098.1h0M881.7 1096.5h0M882.4 1097.1h0M883 1098.6h0M883.6 1097.5h0M884.3 1096.7h0M884.9 1097.4h0M885.5 1096.4h0M886.2 1095.5h0M886.8 1094.8h0M887.4 1099h0M888 1098.5h0M888.7 1099.7h0M889.3 1098.2h0M889.9 1098.6h0M890.6 1096.6h0M891.2 1098h0M891.8 1099.6h0M892.5 1097.3h0M893.1 1099.2h0M893.7 1097.9h0M894.3 1097.2h0M895 1098.2h0M895.6 1098.9h0M896.2 1097.8h0M896.9 1097.4h0M897.5 1098.9h0M898.1 1096.3h0M898.8 1097.4h0M899.4 1099.1h0M900 1098.1h0M900.6 1099.7h0M901.3 1098.7h0M901.9 1098.4h0M902.5 1099h0M903.2 1098.9h0M903.8 1100.5h0M904.4 1099.6h0M905.1 1100h0M905.7 1102.1h0M906.3 1101.2h0M906.9 1100.1h0M907.6 1103.7h0M908.2 1100.3h0M908.8 1100.4h0M909.5 1098.9h0M910.1 1099.1h0M910.7 1097.9h0M911.4 1099.8h0M912 1101.1h0M912.6 1099.6h0M913.2 1101.9h0M913.9 1099.9h0M914.5 1103h0M915.1 1099.8h0M915.8 1102.6h0M916.4 1102.6h0M917 1103.6h0M917.6 1103.2h0M918.3 1102.6h0M918.9 1103.7h0M919.5 1102.9h0M920.2 1101.4h0M920.8 1102.5h0M921.4 1100.2h0M922.1 1099.9h0M922.7 1101.9h0M923.3 1097.2h0M923.9 1101.2h0M924.6 1102.9h0M925.2 1099.5h0M925.8 1101.8h0M926.5 1103.8h0M927.1 1102.3h0M927.7 1100.4h0M928.4 1100.5h0M929 1102h0M929.6 1103.3h0M930.2 1102.3h0M930.9 1100.8h0M931.5 1100.9h0M932.1 1100.4h0M932.8 1100.2h0M933.4 1098.9h0M934 1101.5h0M934.7 1101.7h0M935.3 1103.4h0M935.9 1100.9h0M936.5 1102.3h0M937.2 1101.6h0M937.8 1100.3h0M938.4 1101.4h0M939.1 1100.5h0M939.7 1103.5h0M940.3 1101.2h0M941 1100.5h0M941.6 1100.4h0" stroke="#c4652a" stroke-width="4.6" stroke-linecap="round" fill="none"/>
<path d="M654.4 1134.7h0M655 1136.2h0M655.6 1137.6h0M656.3 1135.6h0M656.9 1136.1h0M657.5 1138.6h0M658.1 1137.4h0M658.8 1138.8h0M659.4 1138.8h0M660 1135.4h0M660.7 1137.6h0M661.3 1136.1h0M661.9 1136h0M662.6 1136h0M663.2 1137.5h0M663.8 1137.1h0M664.4 1134.1h0M665.1 1132.4h0M665.7 1135.5h0M666.3 1134.1h0M667 1132.7h0M667.6 1130.5h0M668.2 1131h0M668.9 1130.1h0M669.5 1129.9h0M670.1 1130h0M670.7 1128h0M671.4 1125.6h0M672 1127h0M672.6 1127.9h0M673.3 1124.3h0M673.9 1124.7h0M674.5 1123.2h0M675.2 1120.2h0M675.8 1122.9h0M676.4 1123h0M677 1124.9h0M677.7 1121.4h0M678.3 1121.2h0M678.9 1121h0M679.6 1120.4h0M680.2 1118.2h0M680.8 1118.3h0M681.5 1117.8h0M682.1 1118.2h0M682.7 1117.2h0M683.3 1114.5h0M684 1115.1h0M684.6 1114.5h0M685.2 1113.4h0M685.9 1112.6h0M686.5 1111.8h0M687.1 1110.2h0M687.7 1109.8h0M688.4 1109.5h0M689 1110.3h0M689.6 1106.9h0M690.3 1108h0M690.9 1105.3h0M691.5 1102.5h0M692.2 1103.2h0M692.8 1103.4h0M693.4 1100h0M694 1100.9h0M694.7 1100.2h0M695.3 1097.2h0M695.9 1096.4h0M696.6 1092.7h0M697.2 1097.7h0M697.8 1097h0M698.5 1097h0M699.1 1094.9h0M699.7 1096.9h0M700.3 1094.5h0M701 1095.4h0M701.6 1096.2h0M702.2 1095.4h0M702.9 1095.3h0M703.5 1094.9h0M704.1 1095.6h0M704.8 1094.3h0M705.4 1092h0M706 1092.5h0M706.6 1091h0M707.3 1094.5h0M707.9 1094.7h0M708.5 1091.1h0M709.2 1093.3h0M709.8 1093.3h0M710.4 1094.4h0M711.1 1093.3h0M711.7 1093.9h0M712.3 1095h0M712.9 1093.4h0M713.6 1096.1h0M714.2 1095.3h0M714.8 1098.4h0M715.5 1096h0M716.1 1098.3h0M716.7 1095.5h0M717.4 1099.7h0M718 1096h0M718.6 1100.1h0M719.2 1100.6h0M719.9 1099.1h0M720.5 1099h0M721.1 1100.8h0M721.8 1101.4h0M722.4 1102.9h0M723 1100.4h0M723.7 1099.4h0M724.3 1103h0M724.9 1100.7h0M725.5 1099.1h0M726.2 1104h0M726.8 1100.8h0M727.4 1101.3h0M728.1 1103h0M728.7 1102.2h0M729.3 1104.1h0M730 1102.3h0M730.6 1101.5h0M731.2 1104.8h0M731.8 1105.3h0M732.5 1107.3h0M733.1 1102.6h0M733.7 1103.1h0M734.4 1106.3h0M735 1105.8h0M735.6 1106.2h0M736.2 1104.9h0M736.9 1109.2h0M737.5 1106.8h0M738.1 1110.6h0M738.8 1107.7h0M739.4 1109.8h0M740 1107.5h0M740.7 1108.8h0M741.3 1111h0M741.9 1111.5h0M742.5 1113.4h0M743.2 1109.9h0M743.8 1111h0M744.4 1113.7h0M745.1 1114.9h0M745.7 1112.9h0M746.3 1114h0M747 1114.9h0M747.6 1114.4h0M748.2 1113.9h0M748.8 1115h0M749.5 1114h0M750.1 1114.9h0M750.7 1115.5h0M751.4 1116.7h0M752 1115h0M752.6 1115.8h0M753.3 1116.5h0M753.9 1115.9h0M754.5 1116.9h0M755.1 1116.5h0M755.8 1116h0M756.4 1115.6h0M757 1118.8h0M757.7 1116.1h0M758.3 1115.2h0M758.9 1117h0M759.6 1114.2h0M760.2 1114.8h0M760.8 1114.4h0M761.4 1115.5h0M762.1 1115.5h0M762.7 1112.8h0M763.3 1110.4h0M764 1113.2h0M764.6 1115.6h0M765.2 1111.6h0M765.9 1112.3h0M766.5 1111.8h0M767.1 1113.7h0M767.7 1112.4h0M768.4 1113.2h0M769 1114.9h0M769.6 1113.4h0M770.3 1112.6h0M770.9 1114.2h0M771.5 1111.4h0M772.2 1113.1h0M772.8 1111.2h0M773.4 1112h0M774 1110.9h0M774.7 1110.5h0M775.3 1113h0M775.9 1110h0M776.6 1108.6h0M777.2 1109h0M777.8 1105.9h0M778.4 1105.3h0M779.1 1107.1h0M779.7 1106h0M780.3 1105.3h0M781 1105.8h0M781.6 1102.6h0M782.2 1103.5h0M782.9 1103.7h0M783.5 1103.9h0M784.1 1104h0M784.7 1103.6h0M785.4 1101.2h0M786 1103.6h0M786.6 1100.1h0M787.3 1098.2h0M787.9 1103.1h0M788.5 1102.3h0M789.2 1099.6h0M789.8 1100.5h0M790.4 1102h0M791 1100.5h0M791.7 1099.8h0M792.3 1098.7h0M792.9 1100h0M793.6 1099.5h0M794.2 1098.8h0M794.8 1097.3h0M795.5 1097.1h0M796.1 1098h0M796.7 1097.8h0M797.3 1094.1h0M798 1096.4h0M798.6 1095.3h0M799.2 1095.6h0M799.9 1095.4h0M800.5 1093.7h0M801.1 1095h0M801.8 1094h0M802.4 1094.3h0M803 1094.7h0M803.6 1096.9h0M804.3 1096.2h0M804.9 1094.1h0M805.5 1095.9h0M806.2 1095.5h0M806.8 1095h0M807.4 1096.2h0M808.1 1095.5h0M808.7 1094.3h0M809.3 1096.1h0M809.9 1096.4h0M810.6 1093.2h0M811.2 1092.9h0M811.8 1094h0M812.5 1095.3h0M813.1 1092.8h0M813.7 1093.2h0M814.4 1095.5h0M815 1094.9h0M815.6 1096h0M816.2 1096.7h0M816.9 1092.8h0M817.5 1092.2h0M818.1 1096.8h0M818.8 1093.3h0M819.4 1094h0M820 1093.6h0M820.7 1093h0M821.3 1093.6h0M821.9 1094.7h0M822.5 1094.6h0M823.2 1093.2h0M823.8 1091.8h0M824.4 1096.2h0M825.1 1095.5h0M825.7 1095h0M826.3 1096.2h0M826.9 1095.3h0M827.6 1093.6h0M828.2 1093.7h0M828.8 1094.2h0M829.5 1094.7h0M830.1 1095.1h0M830.7 1093.4h0M831.4 1095.1h0M832 1095.8h0M832.6 1095h0M833.2 1094.1h0M833.9 1093.1h0M834.5 1095.4h0M835.1 1095.7h0M835.8 1093h0M836.4 1096.3h0M837 1094.6h0M837.7 1095.3h0M838.3 1095.4h0M838.9 1098.4h0M839.5 1097.1h0M840.2 1098.1h0M840.8 1099h0M841.4 1097.7h0M842.1 1098.7h0M842.7 1097.8h0M843.3 1096.4h0M844 1100.7h0M844.6 1098h0M845.2 1100.1h0M845.8 1100.2h0M846.5 1098h0M847.1 1098.6h0M847.7 1100.6h0M848.4 1098.1h0M849 1098.5h0M849.6 1098.1h0M850.3 1098h0M850.9 1099.2h0M851.5 1100.6h0M852.1 1098.6h0M852.8 1098.2h0M853.4 1098.2h0M854 1097.9h0M854.7 1098.8h0M855.3 1098.2h0M855.9 1098.7h0M856.6 1098.2h0M857.2 1097.4h0M857.8 1097.4h0M858.4 1100.3h0M859.1 1100.1h0M859.7 1099.3h0M860.3 1097.7h0M861 1098.8h0M861.6 1096.6h0M862.2 1099.2h0M862.9 1100.9h0M863.5 1100.7h0M864.1 1101.1h0M864.7 1100.3h0M865.4 1099.7h0M866 1098.3h0M866.6 1098.8h0M867.3 1100.3h0M867.9 1101.7h0M868.5 1099.1h0M869.1 1101.1h0M869.8 1100.1h0M870.4 1099.4h0M871 1099.9h0M871.7 1097.4h0M872.3 1100.3h0M872.9 1100.3h0M873.6 1099.1h0M874.2 1097.9h0M874.8 1102h0M875.4 1100.7h0M876.1 1101.3h0M876.7 1100h0M877.3 1102.1h0M878 1100.8h0M878.6 1099.7h0M879.2 1102.2h0M879.9 1100.3h0M880.5 1103.1h0M881.1 1102.6h0M881.7 1103.7h0M882.4 1101.6h0M883 1101.7h0M883.6 1102.3h0M884.3 1100.9h0M884.9 1102.1h0M885.5 1099.1h0M886.2 1100.9h0M886.8 1102.5h0M887.4 1102.1h0M888 1101.3h0M888.7 1102.3h0M889.3 1103h0M889.9 1099.6h0M890.6 1100.9h0M891.2 1100.5h0M891.8 1099.6h0M892.5 1102h0M893.1 1104.2h0M893.7 1101.4h0M894.3 1102.9h0M895 1101h0M895.6 1102.3h0M896.2 1101.4h0M896.9 1103.7h0M897.5 1105h0M898.1 1102.1h0M898.8 1101.4h0M899.4 1101.8h0M900 1102h0M900.6 1102.2h0M901.3 1102.5h0M901.9 1101h0M902.5 1102.3h0M903.2 1100.7h0M903.8 1099.8h0M904.4 1101h0M905.1 1101.9h0M905.7 1101.8h0M906.3 1100.7h0M906.9 1100.3h0M907.6 1103h0M908.2 1098.8h0M908.8 1101.2h0M909.5 1102.6h0M910.1 1104h0M910.7 1103h0M911.4 1100.6h0M912 1101h0M912.6 1102.8h0M913.2 1101.3h0M913.9 1100.2h0M914.5 1101.7h0M915.1 1098.8h0M915.8 1099.1h0M916.4 1101h0M917 1102h0M917.6 1100.1h0M918.3 1100.5h0M918.9 1100.1h0M919.5 1101.2h0M920.2 1099.6h0M920.8 1100.6h0M921.4 1099h0M922.1 1099.4h0M922.7 1101.1h0M923.3 1100.1h0M923.9 1101.2h0M924.6 1100.9h0M925.2 1102.6h0M925.8 1101.6h0M926.5 1105.3h0M927.1 1102.4h0M927.7 1102.6h0M928.4 1101.1h0M929 1102.4h0M929.6 1101.5h0M930.2 1100.9h0M930.9 1102.1h0M931.5 1101.7h0M932.1 1101.3h0M932.8 1101.6h0M933.4 1102.1h0M934 1103.4h0M934.7 1101.1h0M935.3 1101.8h0M935.9 1100.1h0M936.5 1103.1h0M937.2 1100.4h0M937.8 1101.3h0M938.4 1105.1h0M939.1 1102.8h0M939.7 1101h0M940.3 1102.3h0M941 1100.9h0M941.6 1100.9h0" stroke="#1f1ff5" stroke-width="4.6" stroke-linecap="round" fill="none"/>
<path d="M654.4 1140.7h0M655 1143.1h0M655.6 1142.5h0M656.3 1143.8h0M656.9 1143.9h0M657.5 1144.4h0M658.1 1141.9h0M658.8 1141.3h0M659.4 1143.2h0M660 1140.5h0M660.7 1140h0M661.3 1138.5h0M661.9 1139.8h0M662.6 1140.5h0M663.2 1140.3h0M663.8 1138.3h0M664.4 1137.4h0M665.1 1137.2h0M665.7 1137.6h0M666.3 1137.6h0M667 1139.9h0M667.6 1136.6h0M668.2 1134.8h0M668.9 1136h0M669.5 1135.2h0M670.1 1133.8h0M670.7 1135.2h0M671.4 1132.2h0M672 1133.6h0M672.6 1132.5h0M673.3 1133.9h0M673.9 1132.3h0M674.5 1129.5h0M675.2 1133.1h0M675.8 1129.6h0M676.4 1133.6h0M677 1130.2h0M677.7 1128.6h0M678.3 1129.7h0M678.9 1127.8h0M679.6 1125.9h0M680.2 1125.4h0M680.8 1126.4h0M681.5 1122.6h0M682.1 1121h0M682.7 1120.1h0M683.3 1118.8h0M684 1118.2h0M684.6 1118.8h0M685.2 1116.1h0M685.9 1112.2h0M686.5 1111.7h0M687.1 1111.5h0M687.7 1112.5h0M688.4 1111.9h0M689 1109.9h0M689.6 1109.9h0M690.3 1109.6h0M690.9 1109.2h0M691.5 1106.8h0M692.2 1107.9h0M692.8 1106.4h0M693.4 1105.2h0M694 1108.1h0M694.7 1104.4h0M695.3 1105h0M695.9 1106.4h0M696.6 1104.9h0M697.2 1104h0M697.8 1101h0M698.5 1101.1h0M699.1 1098.9h0M699.7 1102.1h0M700.3 1101.4h0M701 1101.1h0M701.6 1098.9h0M702.2 1099.8h0M702.9 1099.4h0M703.5 1099.9h0M704.1 1095.9h0M704.8 1100.1h0M705.4 1097.8h0M706 1097.5h0M706.6 1096.3h0M707.3 1098.3h0M707.9 1094.4h0M708.5 1096.2h0M709.2 1097.9h0M709.8 1097.7h0M710.4 1096.6h0M711.1 1097.9h0M711.7 1096h0M712.3 1098.8h0M712.9 1097.4h0M713.6 1095.7h0M714.2 1097.3h0M714.8 1096.1h0M715.5 1096.1h0M716.1 1098.9h0M716.7 1095.5h0M717.4 1096.8h0M718 1095h0M718.6 1094.6h0M719.2 1094.9h0M719.9 1095h0M720.5 1096.4h0M721.1 1093.9h0M721.8 1095h0M722.4 1094.9h0M723 1094.1h0M723.7 1096.3h0M724.3 1094.3h0M724.9 1094.5h0M725.5 1096.6h0M726.2 1098.3h0M726.8 1093.3h0M727.4 1095.1h0M728.1 1095h0M728.7 1095.8h0M729.3 1096.3h0M730 1096.9h0M730.6 1096h0M731.2 1095.8h0M731.8 1095.8h0M732.5 1096.5h0M733.1 1095.8h0M733.7 1097.3h0M734.4 1097.9h0M735 1097.7h0M735.6 1097.2h0M736.2 1094.1h0M736.9 1095.5h0M737.5 1093.9h0M738.1 1093.9h0M738.8 1092.7h0M739.4 1093.8h0M740 1093.2h0M740.7 1095h0M741.3 1097.1h0M741.9 1095.1h0M742.5 1094.5h0M743.2 1096h0M743.8 1095.8h0M744.4 1095.3h0M745.1 1096.4h0M745.7 1093.7h0M746.3 1095.5h0M747 1094.4h0M747.6 1095.2h0M748.2 1096.6h0M748.8 1092.8h0M749.5 1095.6h0M750.1 1096.9h0M750.7 1094.1h0M751.4 1095h0M752 1095.7h0M752.6 1096.6h0M753.3 1097h0M753.9 1096.7h0M754.5 1094.9h0M755.1 1095.9h0M755.8 1093.2h0M756.4 1095.4h0M757 1093.9h0M757.7 1096.1h0M758.3 1095.7h0M758.9 1096.3h0M759.6 1097.1h0M760.2 1097.8h0M760.8 1098.5h0M761.4 1098.5h0M762.1 1096.2h0M762.7 1098.3h0M763.3 1097.1h0M764 1097.6h0M764.6 1098.6h0M765.2 1097.2h0M765.9 1098.3h0M766.5 1098.2h0M767.1 1098.3h0M767.7 1098.3h0M768.4 1098h0M769 1095h0M769.6 1097.8h0M770.3 1097.7h0M770.9 1096.7h0M771.5 1102.3h0M772.2 1099.2h0M772.8 1099.6h0M773.4 1100h0M774 1101.5h0M774.7 1102.3h0M775.3 1101.1h0M775.9 1101.3h0M776.6 1102.1h0M777.2 1102.7h0M777.8 1102.7h0M778.4 1103.2h0M779.1 1104.4h0M779.7 1102.8h0M780.3 1104.4h0M781 1105.5h0M781.6 1103h0M782.2 1103.4h0M782.9 1102.6h0M783.5 1103h0M784.1 1104.3h0M784.7 1103.4h0M785.4 1103h0M786 1104.3h0M786.6 1102.1h0M787.3 1101.9h0M787.9 1102.6h0M788.5 1103h0M789.2 1102.6h0M789.8 1102.4h0M790.4 1103.9h0M791 1102.4h0M791.7 1103.4h0M792.3 1104.6h0M792.9 1103.1h0M793.6 1103.3h0M794.2 1102.8h0M794.8 1101.4h0M795.5 1100.8h0M796.1 1103.9h0M796.7 1104.9h0M797.3 1101.8h0M798 1104.7h0M798.6 1102.6h0M799.2 1102.5h0M799.9 1102.5h0M800.5 1103.6h0M801.1 1104.7h0M801.8 1102.2h0M802.4 1102.6h0M803 1103.3h0M803.6 1101.5h0M804.3 1102.8h0M804.9 1099.7h0M805.5 1101.5h0M806.2 1103h0M806.8 1101.8h0M807.4 1102.2h0M808.1 1102.5h0M808.7 1103.1h0M809.3 1102.3h0M809.9 1101.6h0M810.6 1102.5h0M811.2 1102.8h0M811.8 1101.6h0M812.5 1100.9h0M813.1 1103.2h0M813.7 1101.6h0M814.4 1100.3h0M815 1103.5h0M815.6 1101.8h0M816.2 1102h0M816.9 1101.4h0M817.5 1100h0M818.1 1100.6h0M818.8 1102.4h0M819.4 1101h0M820 1101.9h0M820.7 1098.9h0M821.3 1101.3h0M821.9 1100.9h0M822.5 1100.6h0M823.2 1101.3h0M823.8 1103h0M824.4 1102.2h0M825.1 1102.9h0M825.7 1103.1h0M826.3 1102.5h0M826.9 1101h0M827.6 1101.7h0M828.2 1100.7h0M828.8 1103.5h0M829.5 1103h0M830.1 1103h0M830.7 1099.6h0M831.4 1101h0M832 1099.2h0M832.6 1104.3h0M833.2 1102.7h0M833.9 1098.1h0M834.5 1101.6h0M835.1 1099.7h0M835.8 1102.5h0M836.4 1102.5h0M837 1099.9h0M837.7 1099.9h0M838.3 1100.5h0M838.9 1098h0M839.5 1101.6h0M840.2 1101h0M840.8 1099.9h0M841.4 1099.6h0M842.1 1102.6h0M842.7 1100.8h0M843.3 1101.8h0M844 1103.6h0M844.6 1101.8h0M845.2 1102.9h0M845.8 1103h0M846.5 1103.6h0M847.1 1101.6h0M847.7 1104.8h0M848.4 1102.7h0M849 1103.2h0M849.6 1104h0M850.3 1102.8h0M850.9 1102.5h0M851.5 1102h0M852.1 1103.9h0M852.8 1102.5h0M853.4 1102.3h0M854 1104.1h0M854.7 1102h0M855.3 1100.9h0M855.9 1102.7h0M856.6 1100.1h0M857.2 1099.6h0M857.8 1104.7h0M858.4 1101.6h0M859.1 1103.1h0M859.7 1103.6h0M860.3 1100.9h0M861 1102.4h0M861.6 1103h0M862.2 1102.5h0M862.9 1103.4h0M863.5 1104.5h0M864.1 1103.5h0M864.7 1100.9h0M865.4 1102.3h0M866 1100.5h0M866.6 1100.9h0M867.3 1102.9h0M867.9 1103h0M868.5 1100.3h0M869.1 1099.8h0M869.8 1097.6h0M870.4 1098.5h0M871 1099.5h0M871.7 1098h0M872.3 1102.9h0M872.9 1102.1h0M873.6 1101.8h0M874.2 1104h0M874.8 1100.3h0M875.4 1101.7h0M876.1 1100.9h0M876.7 1100.7h0M877.3 1103.1h0M878 1102.9h0M878.6 1101.5h0M879.2 1103.3h0M879.9 1100h0M880.5 1102.1h0M881.1 1104.1h0M881.7 1102.7h0M882.4 1100.3h0M883 1102.4h0M883.6 1099.8h0M884.3 1101.5h0M884.9 1101.6h0M885.5 1100.2h0M886.2 1099.2h0M886.8 1101.3h0M887.4 1101.1h0M888 1098.5h0M888.7 1098.9h0M889.3 1099.9h0M889.9 1100h0M890.6 1100.6h0M891.2 1101.5h0M891.8 1101.2h0M892.5 1098.9h0M893.1 1100.4h0M893.7 1100.1h0M894.3 1100.9h0M895 1100.1h0M895.6 1101.8h0M896.2 1101.3h0M896.9 1102h0M897.5 1098.8h0M898.1 1100.8h0M898.8 1101.6h0M899.4 1100.2h0M900 1102.5h0M900.6 1101.8h0M901.3 1099.9h0M901.9 1100.5h0M902.5 1100.2h0M903.2 1103h0M903.8 1102.6h0M904.4 1102.2h0M905.1 1101.8h0M905.7 1103.5h0M906.3 1101.8h0M906.9 1099.5h0M907.6 1100.5h0M908.2 1101.8h0M908.8 1101.1h0M909.5 1101.3h0M910.1 1099h0M910.7 1099.6h0M911.4 1102.8h0M912 1099.9h0M912.6 1100.2h0M913.2 1099.2h0M913.9 1103.3h0M914.5 1099.8h0M915.1 1100.4h0M915.8 1102h0M916.4 1103.1h0M917 1102.9h0M917.6 1104.2h0M918.3 1100.3h0M918.9 1104.8h0M919.5 1101.1h0M920.2 1100.7h0M920.8 1100.9h0M921.4 1100.7h0M922.1 1099.9h0M922.7 1101.4h0M923.3 1101.6h0M923.9 1102.5h0M924.6 1101h0M925.2 1101.8h0M925.8 1099.6h0M926.5 1102.7h0M927.1 1101.4h0M927.7 1101h0M928.4 1100.5h0M929 1100.8h0M929.6 1103.7h0M930.2 1102.8h0M930.9 1102.7h0M931.5 1100.4h0M932.1 1102.1h0M932.8 1102.7h0M933.4 1101.5h0M934 1101.5h0M934.7 1104.4h0M935.3 1102.8h0M935.9 1101.8h0M936.5 1100.1h0M937.2 1101.2h0M937.8 1101.1h0M938.4 1101.7h0M939.1 1103.2h0M939.7 1103.8h0M940.3 1102.9h0M941 1100.3h0M941.6 1102.1h0" stroke="#d5266c" stroke-width="4.6" stroke-linecap="round" fill="none"/>
<path d="M654.4 1121.9h0M655 1121.9h0M655.6 1123.2h0M656.3 1123.2h0M656.9 1123.6h0M657.5 1123.1h0M658.1 1124h0M658.8 1122.7h0M659.4 1125h0M660 1122.4h0M660.7 1124.2h0M661.3 1124.8h0M661.9 1123.4h0M662.6 1127.5h0M663.2 1127.2h0M663.8 1129.6h0M664.4 1128.9h0M665.1 1131.6h0M665.7 1131.1h0M666.3 1133.6h0M667 1133.8h0M667.6 1138.4h0M668.2 1135.7h0M668.9 1137.9h0M669.5 1139.6h0M670.1 1141.1h0M670.7 1140.5h0M671.4 1142.2h0M672 1143h0M672.6 1141.9h0M673.3 1144.1h0M673.9 1146h0M674.5 1143.6h0M675.2 1144.6h0M675.8 1145.6h0M676.4 1146.6h0M677 1146.8h0M677.7 1147.2h0M678.3 1146.8h0M678.9 1149h0M679.6 1147.5h0M680.2 1148.6h0M680.8 1146.6h0M681.5 1147.5h0M682.1 1146.1h0M682.7 1146h0M683.3 1145h0M684 1144.6h0M684.6 1143.2h0M685.2 1140.7h0M685.9 1140.2h0M686.5 1138.6h0M687.1 1139.4h0M687.7 1136.8h0M688.4 1135.6h0M689 1135.5h0M689.6 1134.3h0M690.3 1132.9h0M690.9 1132.5h0M691.5 1130.1h0M692.2 1129.3h0M692.8 1128.8h0M693.4 1128.1h0M694 1124.9h0M694.7 1124h0M695.3 1121.1h0M695.9 1119.1h0M696.6 1116.9h0M697.2 1114.7h0M697.8 1113.3h0M698.5 1111.2h0M699.1 1110.3h0M699.7 1106.3h0M700.3 1104.8h0M701 1103.8h0M701.6 1102.6h0M702.2 1100.1h0M702.9 1099.2h0M703.5 1097.4h0M704.1 1094.6h0M704.8 1094.1h0M705.4 1093.1h0M706 1090.4h0M706.6 1089.2h0M707.3 1088.2h0M707.9 1086.1h0M708.5 1084.6h0M709.2 1084h0M709.8 1081.4h0M710.4 1081h0M711.1 1080h0M711.7 1077.8h0M712.3 1078.2h0M712.9 1076.7h0M713.6 1076.9h0M714.2 1075.4h0M714.8 1074.8h0M715.5 1073.2h0M716.1 1072.1h0M716.7 1072.2h0M717.4 1072.9h0M718 1071h0M718.6 1070.3h0M719.2 1070.8h0M719.9 1066.8h0M720.5 1067.7h0M721.1 1066.6h0M721.8 1065.4h0M722.4 1064.3h0M723 1066.2h0M723.7 1065h0M724.3 1064.5h0M724.9 1063.5h0M725.5 1065h0M726.2 1065.1h0M726.8 1065h0M727.4 1065.5h0M728.1 1065.2h0M728.7 1065.1h0M729.3 1064.5h0M730 1062.2h0M730.6 1064.6h0M731.2 1064h0M731.8 1064.4h0M732.5 1064.1h0M733.1 1063.2h0M733.7 1065.6h0M734.4 1065.5h0M735 1066.7h0M735.6 1066.7h0M736.2 1067.8h0M736.9 1069.3h0M737.5 1070.2h0M738.1 1071.2h0M738.8 1073.3h0M739.4 1071.1h0M740 1073.6h0M740.7 1075h0M741.3 1074.1h0M741.9 1076.1h0M742.5 1075.4h0M743.2 1079.2h0M743.8 1079.4h0M744.4 1081.9h0M745.1 1081.9h0M745.7 1084h0M746.3 1084.4h0M747 1086.1h0M747.6 1087.3h0M748.2 1086.6h0M748.8 1088.8h0M749.5 1090h0M750.1 1092h0M750.7 1092.1h0M751.4 1093.8h0M752 1094.7h0M752.6 1093.6h0M753.3 1095.2h0M753.9 1097.5h0M754.5 1097.1h0M755.1 1098.8h0M755.8 1098.6h0M756.4 1099.5h0M757 1100.3h0M757.7 1101.5h0M758.3 1103.7h0M758.9 1104.7h0M759.6 1105.2h0M760.2 1106.1h0M760.8 1109h0M761.4 1106.9h0M762.1 1109h0M762.7 1107.7h0M763.3 1108.8h0M764 1107.8h0M764.6 1109h0M765.2 1110.1h0M765.9 1110h0M766.5 1110.6h0M767.1 1110h0M767.7 1112h0M768.4 1111h0M769 1112h0M769.6 1114.5h0M770.3 1115.3h0M770.9 1115.8h0M771.5 1115.2h0M772.2 1113.4h0M772.8 1115.7h0M773.4 1116.1h0M774 1114.7h0M774.7 1117.5h0M775.3 1117.8h0M775.9 1116.2h0M776.6 1116.7h0M777.2 1118h0M777.8 1116.7h0M778.4 1118.5h0M779.1 1117.8h0M779.7 1118.1h0M780.3 1117.6h0M781 1118.1h0M781.6 1119.7h0M782.2 1118.9h0M782.9 1118.1h0M783.5 1118.7h0M784.1 1118h0M784.7 1117.2h0M785.4 1116.5h0M786 1116.4h0M786.6 1117.9h0M787.3 1118.1h0M787.9 1120.8h0M788.5 1119.8h0M789.2 1119.7h0M789.8 1120.1h0M790.4 1119.7h0M791 1119.5h0M791.7 1120.8h0M792.3 1120.7h0M792.9 1120h0M793.6 1118.8h0M794.2 1119.4h0M794.8 1119.9h0M795.5 1119.6h0M796.1 1118.7h0M796.7 1118.9h0M797.3 1120h0M798 1119.2h0M798.6 1118.7h0M799.2 1119h0M799.9 1118.5h0M800.5 1119.4h0M801.1 1117.9h0M801.8 1118.2h0M802.4 1118.4h0M803 1119.3h0M803.6 1119.2h0M804.3 1118.6h0M804.9 1118.4h0M805.5 1119h0M806.2 1118.7h0M806.8 1117.8h0M807.4 1117.3h0M808.1 1117.8h0M808.7 1116.1h0M809.3 1118h0M809.9 1117.5h0M810.6 1116h0M811.2 1115.9h0M811.8 1113.6h0M812.5 1114.9h0M813.1 1114.4h0M813.7 1115h0M814.4 1114.3h0M815 1114h0M815.6 1113.7h0M816.2 1112.9h0M816.9 1113.4h0M817.5 1113h0M818.1 1112.7h0M818.8 1112.4h0M819.4 1112.3h0M820 1111.1h0M820.7 1111.4h0M821.3 1110.6h0M821.9 1109.3h0M822.5 1110.5h0M823.2 1110h0M823.8 1109.1h0M824.4 1111.5h0M825.1 1109.3h0M825.7 1108.4h0M826.3 1106.7h0M826.9 1107.5h0M827.6 1107.4h0M828.2 1108h0M828.8 1105.6h0M829.5 1107h0M830.1 1108.4h0M830.7 1104.8h0M831.4 1105.3h0M832 1105.4h0M832.6 1104.5h0M833.2 1104.3h0M833.9 1103.8h0M834.5 1104.4h0M835.1 1104.1h0M835.8 1103.7h0M836.4 1104.8h0M837 1104.8h0M837.7 1103.5h0M838.3 1101.1h0M838.9 1103.8h0M839.5 1102.2h0M840.2 1103.3h0M840.8 1101.9h0M841.4 1102.2h0M842.1 1101.4h0M842.7 1101h0M843.3 1099.7h0M844 1101.1h0M844.6 1101.7h0M845.2 1101.7h0M845.8 1100.4h0M846.5 1102h0M847.1 1100.3h0M847.7 1100.2h0M848.4 1101.8h0M849 1099.8h0M849.6 1099h0M850.3 1099.1h0M850.9 1100.1h0M851.5 1101.4h0M852.1 1099.3h0M852.8 1099.8h0M853.4 1098.7h0M854 1098.5h0M854.7 1099.4h0M855.3 1099.2h0M855.9 1099.2h0M856.6 1100.1h0M857.2 1098.6h0M857.8 1097.2h0M858.4 1098h0M859.1 1098.6h0M859.7 1097.7h0M860.3 1099.3h0M861 1098.1h0M861.6 1097.5h0M862.2 1098.7h0M862.9 1099.7h0M863.5 1096.8h0M864.1 1098h0M864.7 1099.4h0M865.4 1099.4h0M866 1098.9h0M866.6 1098.2h0M867.3 1100.2h0M867.9 1099h0M868.5 1098.1h0M869.1 1099.1h0M869.8 1100.6h0M870.4 1097.5h0M871 1098.4h0M871.7 1098.6h0M872.3 1098.2h0M872.9 1097.9h0M873.6 1098.3h0M874.2 1097h0M874.8 1097.2h0M875.4 1098.8h0M876.1 1098.7h0M876.7 1098.1h0M877.3 1099.3h0M878 1099.2h0M878.6 1098.8h0M879.2 1101.4h0M879.9 1100.1h0M880.5 1099.5h0M881.1 1100.9h0M881.7 1100.4h0M882.4 1096.7h0M883 1098.6h0M883.6 1098.6h0M884.3 1100h0M884.9 1098.8h0M885.5 1099.8h0M886.2 1102.2h0M886.8 1099.5h0M887.4 1101.2h0M888 1101.3h0M888.7 1099.8h0M889.3 1100.6h0M889.9 1100.3h0M890.6 1099h0M891.2 1099.2h0M891.8 1100.9h0M892.5 1101.5h0M893.1 1100.9h0M893.7 1100.7h0M894.3 1100.7h0M895 1100.9h0M895.6 1101.2h0M896.2 1101.2h0M896.9 1101.4h0M897.5 1101.5h0M898.1 1101.4h0M898.8 1100.5h0M899.4 1100.8h0M900 1101.8h0M900.6 1101.6h0M901.3 1101.5h0M901.9 1102.1h0M902.5 1101.1h0M903.2 1101.2h0M903.8 1102.4h0M904.4 1101.3h0M905.1 1100.6h0M905.7 1102.3h0M906.3 1101.7h0M906.9 1101.1h0M907.6 1098.1h0M908.2 1100.5h0M908.8 1099.8h0M909.5 1099.5h0M910.1 1100h0M910.7 1101.6h0M911.4 1102.7h0M912 1099.8h0M912.6 1100.1h0M913.2 1102.6h0M913.9 1100h0M914.5 1101.1h0M915.1 1101.7h0M915.8 1101h0M916.4 1100.3h0M917 1099h0M917.6 1100.1h0M918.3 1099.5h0M918.9 1099.1h0M919.5 1101.2h0M920.2 1100.6h0M920.8 1100.2h0M921.4 1100.7h0M922.1 1099.1h0M922.7 1099.5h0M923.3 1100.2h0M923.9 1099.8h0M924.6 1099.1h0M925.2 1100.1h0M925.8 1100.3h0M926.5 1098.8h0M927.1 1099.3h0M927.7 1097.8h0M928.4 1100.4h0M929 1099.2h0M929.6 1099.7h0M930.2 1100.8h0M930.9 1100h0M931.5 1099.9h0M932.1 1100.7h0M932.8 1101.8h0M933.4 1102.3h0M934 1102.8h0M934.7 1101.4h0M935.3 1101h0M935.9 1100.2h0M936.5 1100.9h0M937.2 1102.4h0M937.8 1102.4h0M938.4 1101.1h0M939.1 1101.3h0M939.7 1101.7h0M940.3 1101.3h0M941 1102.3h0M941.6 1102h0" stroke="#52d184" stroke-width="4.6" stroke-linecap="round" fill="none"/>
<path d="M654.4 1142.4h0M655 1143.4h0M655.6 1140.2h0M656.3 1139.3h0M656.9 1139.2h0M657.5 1137.9h0M658.1 1137h0M658.8 1137.8h0M659.4 1135.4h0M660 1133h0M660.7 1132.2h0M661.3 1132.2h0M661.9 1128.6h0M662.6 1129.1h0M663.2 1127.6h0M663.8 1125.9h0M664.4 1124.6h0M665.1 1120.8h0M665.7 1121.2h0M666.3 1118.7h0M667 1118.4h0M667.6 1116.6h0M668.2 1116.3h0M668.9 1113.6h0M669.5 1111.8h0M670.1 1111.6h0M670.7 1110.6h0M671.4 1109.2h0M672 1107.7h0M672.6 1106.1h0M673.3 1105.1h0M673.9 1106.2h0M674.5 1105.1h0M675.2 1103.5h0M675.8 1103.7h0M676.4 1099.5h0M677 1098.5h0M677.7 1097.8h0M678.3 1097.3h0M678.9 1097h0M679.6 1095.2h0M680.2 1093.9h0M680.8 1093.1h0M681.5 1091.6h0M682.1 1090.5h0M682.7 1091.4h0M683.3 1090.4h0M684 1091h0M684.6 1090.3h0M685.2 1090.2h0M685.9 1089h0M686.5 1088h0M687.1 1086.8h0M687.7 1086.8h0M688.4 1085.8h0M689 1084.2h0M689.6 1083.2h0M690.3 1084.4h0M690.9 1081.6h0M691.5 1081.2h0M692.2 1081.3h0M692.8 1080.9h0M693.4 1080.5h0M694 1078.6h0M694.7 1081.6h0M695.3 1080.5h0M695.9 1080.6h0M696.6 1080h0M697.2 1081.5h0M697.8 1080.5h0M698.5 1081.1h0M699.1 1082h0M699.7 1082.2h0M700.3 1082.2h0M701 1080.9h0M701.6 1083.2h0M702.2 1083.4h0M702.9 1083.6h0M703.5 1083.6h0M704.1 1083.7h0M704.8 1082.4h0M705.4 1084.7h0M706 1085.3h0M706.6 1085.7h0M707.3 1084.2h0M707.9 1086.5h0M708.5 1085.3h0M709.2 1086.5h0M709.8 1084.6h0M710.4 1085.5h0M711.1 1085.8h0M711.7 1085.7h0M712.3 1085.5h0M712.9 1086.3h0M713.6 1085.3h0M714.2 1086.5h0M714.8 1086.7h0M715.5 1088.6h0M716.1 1088.9h0M716.7 1090.9h0M717.4 1091h0M718 1093.2h0M718.6 1094h0M719.2 1094.4h0M719.9 1096.3h0M720.5 1094.1h0M721.1 1096.2h0M721.8 1097.8h0M722.4 1098.2h0M723 1098.9h0M723.7 1099h0M724.3 1099.3h0M724.9 1100.3h0M725.5 1099.9h0M726.2 1101.4h0M726.8 1102.3h0M727.4 1103h0M728.1 1103.3h0M728.7 1103.7h0M729.3 1104.1h0M730 1106.6h0M730.6 1106h0M731.2 1106.9h0M731.8 1105.2h0M732.5 1107.5h0M733.1 1107.7h0M733.7 1109.9h0M734.4 1110.6h0M735 1109.7h0M735.6 1111h0M736.2 1112.5h0M736.9 1112.8h0M737.5 1112.3h0M738.1 1114.2h0M738.8 1115.2h0M739.4 1115.3h0M740 1115.7h0M740.7 1116.2h0M741.3 1116.5h0M741.9 1118h0M742.5 1116h0M743.2 1115.6h0M743.8 1115.4h0M744.4 1117h0M745.1 1116.4h0M745.7 1117.7h0M746.3 1115.9h0M747 1116.9h0M747.6 1116.6h0M748.2 1117.4h0M748.8 1115.5h0M749.5 1116.4h0M750.1 1117.7h0M750.7 1118.6h0M751.4 1116.8h0M752 1117.9h0M752.6 1116.7h0M753.3 1116.3h0M753.9 1115h0M754.5 1116.6h0M755.1 1116.6h0M755.8 1114.9h0M756.4 1116.1h0M757 1113.4h0M757.7 1114.2h0M758.3 1113.4h0M758.9 1112.5h0M759.6 1114.6h0M760.2 1114.9h0M760.8 1113.7h0M761.4 1114.2h0M762.1 1112.9h0M762.7 1111.9h0M763.3 1113.9h0M764 1112.4h0M764.6 1112.8h0M765.2 1114.5h0M765.9 1113.1h0M766.5 1112.4h0M767.1 1112.6h0M767.7 1111.5h0M768.4 1109.6h0M769 1111.3h0M769.6 1110.6h0M770.3 1109.2h0M770.9 1110.8h0M771.5 1110.2h0M772.2 1109.2h0M772.8 1109h0M773.4 1108.4h0M774 1108.1h0M774.7 1106.9h0M775.3 1106.5h0M775.9 1107.1h0M776.6 1106.2h0M777.2 1104.7h0M777.8 1103.6h0M778.4 1103.8h0M779.1 1104.6h0M779.7 1105.1h0M780.3 1103.3h0M781 1105h0M781.6 1103.3h0M782.2 1103h0M782.9 1103.3h0M783.5 1102.3h0M784.1 1102.9h0M784.7 1102h0M785.4 1101.8h0M786 1100.9h0M786.6 1101.7h0M787.3 1103.4h0M787.9 1101.1h0M788.5 1102.1h0M789.2 1100h0M789.8 1101.3h0M790.4 1101h0M791 1100.6h0M791.7 1099.5h0M792.3 1100h0M792.9 1099.3h0M793.6 1100.3h0M794.2 1099.8h0M794.8 1099.5h0M795.5 1099.6h0M796.1 1100.7h0M796.7 1098.7h0M797.3 1101.3h0M798 1100.8h0M798.6 1099.6h0M799.2 1098.7h0M799.9 1099h0M800.5 1099.2h0M801.1 1098.7h0M801.8 1100.3h0M802.4 1099.6h0M803 1099.8h0M803.6 1099.4h0M804.3 1099.5h0M804.9 1098.5h0M805.5 1100.8h0M806.2 1100.4h0M806.8 1100.1h0M807.4 1099.4h0M808.1 1098.1h0M808.7 1098.4h0M809.3 1099.4h0M809.9 1100.2h0M810.6 1099.4h0M811.2 1100.8h0M811.8 1102.4h0M812.5 1101.4h0M813.1 1099.2h0M813.7 1100.4h0M814.4 1101.3h0M815 1100.1h0M815.6 1101h0M816.2 1100.5h0M816.9 1099.4h0M817.5 1100.5h0M818.1 1099.2h0M818.8 1101h0M819.4 1100h0M820 1099.7h0M820.7 1101.6h0M821.3 1099.2h0M821.9 1100.9h0M822.5 1100.4h0M823.2 1101.3h0M823.8 1101.8h0M824.4 1102.3h0M825.1 1102.1h0M825.7 1103h0M826.3 1103.5h0M826.9 1104.9h0M827.6 1104.7h0M828.2 1104.5h0M828.8 1103.6h0M829.5 1103.7h0M830.1 1103.9h0M830.7 1102.8h0M831.4 1104.4h0M832 1103.1h0M832.6 1105.2h0M833.2 1103.6h0M833.9 1105.8h0M834.5 1106.1h0M835.1 1103.2h0M835.8 1104.8h0M836.4 1103.6h0M837 1105.2h0M837.7 1104.3h0M838.3 1102.8h0M838.9 1103.5h0M839.5 1102.9h0M840.2 1102.6h0M840.8 1103.8h0M841.4 1103.9h0M842.1 1103.7h0M842.7 1103.4h0M843.3 1102.2h0M844 1103.8h0M844.6 1103.5h0M845.2 1102.4h0M845.8 1103.1h0M846.5 1103.7h0M847.1 1102.9h0M847.7 1103h0M848.4 1102.9h0M849 1102.3h0M849.6 1101.5h0M850.3 1102.3h0M850.9 1101.6h0M851.5 1100.5h0M852.1 1100.2h0M852.8 1100.8h0M853.4 1100.1h0M854 1099.6h0M854.7 1100.2h0M855.3 1097.9h0M855.9 1099.5h0M856.6 1098.1h0M857.2 1098.3h0M857.8 1098.3h0M858.4 1097.8h0M859.1 1098.3h0M859.7 1099.2h0M860.3 1097.1h0M861 1100.2h0M861.6 1099.8h0M862.2 1099.6h0M862.9 1099.1h0M863.5 1099.3h0M864.1 1100.2h0M864.7 1100.2h0M865.4 1102.1h0M866 1101.4h0M866.6 1099.6h0M867.3 1100.9h0M867.9 1100.9h0M868.5 1101.7h0M869.1 1101.7h0M869.8 1099.5h0M870.4 1099.6h0M871 1101h0M871.7 1101.4h0M872.3 1100.4h0M872.9 1100.3h0M873.6 1099.4h0M874.2 1100.2h0M874.8 1098.7h0M875.4 1099.2h0M876.1 1098h0M876.7 1097.4h0M877.3 1099.2h0M878 1099.1h0M878.6 1098.9h0M879.2 1100h0M879.9 1100h0M880.5 1101.2h0M881.1 1100h0M881.7 1101.6h0M882.4 1100.7h0M883 1100.6h0M883.6 1099.7h0M884.3 1099.6h0M884.9 1100.4h0M885.5 1101h0M886.2 1098.9h0M886.8 1099.3h0M887.4 1099.7h0M888 1099h0M888.7 1099.4h0M889.3 1098.3h0M889.9 1098.9h0M890.6 1099.7h0M891.2 1099.6h0M891.8 1100.2h0M892.5 1099h0M893.1 1100.6h0M893.7 1101.4h0M894.3 1100.5h0M895 1100.4h0M895.6 1100.8h0M896.2 1100.7h0M896.9 1099.4h0M897.5 1101.3h0M898.1 1100.6h0M898.8 1100.5h0M899.4 1103.2h0M900 1102.1h0M900.6 1102.4h0M901.3 1101.4h0M901.9 1101.5h0M902.5 1100.9h0M903.2 1102.1h0M903.8 1100h0M904.4 1101.2h0M905.1 1099.2h0M905.7 1102.2h0M906.3 1100.4h0M906.9 1102.3h0M907.6 1101.8h0M908.2 1101.5h0M908.8 1102.5h0M909.5 1103.7h0M910.1 1102h0M910.7 1101.6h0M911.4 1102h0M912 1103h0M912.6 1103.2h0M913.2 1101h0M913.9 1101.2h0M914.5 1101.6h0M915.1 1100.3h0M915.8 1101.7h0M916.4 1101.5h0M917 1103.1h0M917.6 1102.6h0M918.3 1102.7h0M918.9 1101.9h0M919.5 1101h0M920.2 1102.1h0M920.8 1101.7h0M921.4 1101.9h0M922.1 1103.6h0M922.7 1103.4h0M923.3 1101.2h0M923.9 1101.7h0M924.6 1101.9h0M925.2 1101.1h0M925.8 1101.7h0M926.5 1102h0M927.1 1103h0M927.7 1102.1h0M928.4 1102.7h0M929 1100.8h0M929.6 1101.8h0M930.2 1102.2h0M930.9 1100.6h0M931.5 1101.3h0M932.1 1103.8h0M932.8 1103h0M933.4 1104.5h0M934 1103.4h0M934.7 1102.9h0M935.3 1103.5h0M935.9 1103.5h0M936.5 1102.1h0M937.2 1103.3h0M937.8 1102h0M938.4 1103.3h0M939.1 1103.3h0M939.7 1103.7h0M940.3 1103.1h0M941 1103.9h0M941.6 1103.7h0" stroke="#66a6f8" stroke-width="5" stroke-linecap="round" fill="none"/>
<path d="M654.4 1137.3h0M655 1138.3h0M655.6 1137.4h0M656.3 1138h0M656.9 1138.3h0M657.5 1138.7h0M658.1 1138.3h0M658.8 1137.3h0M659.4 1136.7h0M660 1136.4h0M660.7 1136.6h0M661.3 1136.9h0M661.9 1137.4h0M662.6 1137.2h0M663.2 1134h0M663.8 1134.5h0M664.4 1134h0M665.1 1133.4h0M665.7 1133.6h0M666.3 1133.5h0M667 1133.5h0M667.6 1133h0M668.2 1132.6h0M668.9 1132.5h0M669.5 1131.6h0M670.1 1133.5h0M670.7 1132.2h0M671.4 1134.3h0M672 1131.6h0M672.6 1132.7h0M673.3 1131.5h0M673.9 1129.4h0M674.5 1127.4h0M675.2 1128.7h0M675.8 1128.3h0M676.4 1127.6h0M677 1127.1h0M677.7 1124.7h0M678.3 1124.8h0M678.9 1124.1h0M679.6 1123.1h0M680.2 1124.3h0M680.8 1121.9h0M681.5 1122.9h0M682.1 1122.7h0M682.7 1121.2h0M683.3 1122.6h0M684 1121.1h0M684.6 1119.7h0M685.2 1119.3h0M685.9 1118.1h0M686.5 1117.5h0M687.1 1117.5h0M687.7 1117.4h0M688.4 1117h0M689 1117h0M689.6 1117.7h0M690.3 1114.8h0M690.9 1115.8h0M691.5 1115.6h0M692.2 1116h0M692.8 1116.4h0M693.4 1114.9h0M694 1115.1h0M694.7 1113.5h0M695.3 1113.1h0M695.9 1113.7h0M696.6 1112.9h0M697.2 1111.9h0M697.8 1112.7h0M698.5 1111.5h0M699.1 1111.9h0M699.7 1110.4h0M700.3 1109.1h0M701 1108.3h0M701.6 1107.2h0M702.2 1107.3h0M702.9 1106.1h0M703.5 1106.5h0M704.1 1106.4h0M704.8 1106.3h0M705.4 1105.4h0M706 1105.7h0M706.6 1105.3h0M707.3 1106h0M707.9 1106.5h0M708.5 1106.3h0M709.2 1108.9h0M709.8 1109.4h0M710.4 1107.6h0M711.1 1107.6h0M711.7 1107.5h0M712.3 1107h0M712.9 1106.5h0M713.6 1107.7h0M714.2 1108h0M714.8 1107.7h0M715.5 1107.5h0M716.1 1108h0M716.7 1107.9h0M717.4 1108.7h0M718 1107.3h0M718.6 1106.4h0M719.2 1106.4h0M719.9 1107.9h0M720.5 1108.5h0M721.1 1107.8h0M721.8 1109.3h0M722.4 1109.4h0M723 1109.3h0M723.7 1109h0M724.3 1110.7h0M724.9 1109.7h0M725.5 1108.9h0M726.2 1108.9h0M726.8 1109.1h0M727.4 1109.7h0M728.1 1108.3h0M728.7 1108h0M729.3 1106.9h0M730 1106.4h0M730.6 1107.2h0M731.2 1109.3h0M731.8 1107.2h0M732.5 1108.5h0M733.1 1106.8h0M733.7 1107.3h0M734.4 1106.9h0M735 1107.3h0M735.6 1108.1h0M736.2 1107.6h0M736.9 1107.5h0M737.5 1107.2h0M738.1 1106h0M738.8 1103.8h0M739.4 1103.4h0M740 1104.3h0M740.7 1104.2h0M741.3 1106h0M741.9 1105h0M742.5 1103.7h0M743.2 1103.8h0M743.8 1104.1h0M744.4 1103.6h0M745.1 1102.9h0M745.7 1104.1h0M746.3 1104.3h0M747 1103.3h0M747.6 1102.8h0M748.2 1103.2h0M748.8 1103h0M749.5 1101h0M750.1 1103.9h0M750.7 1102.8h0M751.4 1102.4h0M752 1101.5h0M752.6 1102h0M753.3 1102.7h0M753.9 1102.7h0M754.5 1104.5h0M755.1 1101.9h0M755.8 1103.3h0M756.4 1103.3h0M757 1103.8h0M757.7 1103h0M758.3 1103h0M758.9 1103.6h0M759.6 1104h0M760.2 1105.3h0M760.8 1103.6h0M761.4 1104.7h0M762.1 1104.2h0M762.7 1102.7h0M763.3 1103.5h0M764 1104.1h0M764.6 1105.4h0M765.2 1106.6h0M765.9 1103.6h0M766.5 1102.2h0M767.1 1102.8h0M767.7 1103.5h0M768.4 1102.4h0M769 1101.3h0M769.6 1101.6h0M770.3 1102.5h0M770.9 1101h0M771.5 1099.3h0M772.2 1100h0M772.8 1100.1h0M773.4 1101.1h0M774 1100.4h0M774.7 1100.7h0M775.3 1099.5h0M775.9 1101h0M776.6 1102.6h0M777.2 1100h0M777.8 1100.9h0M778.4 1100.8h0M779.1 1099h0M779.7 1101.9h0M780.3 1103.4h0M781 1102.9h0M781.6 1100.2h0M782.2 1101.4h0M782.9 1101.5h0M783.5 1101.3h0M784.1 1102.8h0M784.7 1103.3h0M785.4 1103.9h0M786 1102.3h0M786.6 1102h0M787.3 1101.3h0M787.9 1101h0M788.5 1101.4h0M789.2 1100.9h0M789.8 1102.1h0M790.4 1100.7h0M791 1101.3h0M791.7 1100.8h0M792.3 1100h0M792.9 1102.4h0M793.6 1101.4h0M794.2 1102.9h0M794.8 1104.1h0M795.5 1101.8h0M796.1 1102.3h0M796.7 1103.4h0M797.3 1102.6h0M798 1101.2h0M798.6 1102.2h0M799.2 1102.5h0M799.9 1100.9h0M800.5 1101.2h0M801.1 1102.2h0M801.8 1101.3h0M802.4 1101.7h0M803 1101.9h0M803.6 1101.9h0M804.3 1101.5h0M804.9 1099.5h0M805.5 1101.8h0M806.2 1101.5h0M806.8 1101.7h0M807.4 1101.9h0M808.1 1100.5h0M808.7 1100.8h0M809.3 1099.5h0M809.9 1100h0M810.6 1099.3h0M811.2 1099.8h0M811.8 1099.9h0M812.5 1099.7h0M813.1 1100.2h0M813.7 1100.2h0M814.4 1102.3h0M815 1101.6h0M815.6 1103.5h0M816.2 1102.8h0M816.9 1102.1h0M817.5 1103.8h0M818.1 1103.2h0M818.8 1103h0M819.4 1102.6h0M820 1104.6h0M820.7 1101.5h0M821.3 1100.9h0M821.9 1101.3h0M822.5 1101.9h0M823.2 1100.7h0M823.8 1101.2h0M824.4 1099.4h0M825.1 1099.8h0M825.7 1098.5h0M826.3 1100.3h0M826.9 1102.3h0M827.6 1102.2h0M828.2 1102h0M828.8 1101.4h0M829.5 1100h0M830.1 1098.8h0M830.7 1099.9h0M831.4 1100.1h0M832 1099.5h0M832.6 1099.4h0M833.2 1099.2h0M833.9 1097.2h0M834.5 1097.8h0M835.1 1097.6h0M835.8 1097.7h0M836.4 1099.6h0M837 1098.3h0M837.7 1098.7h0M838.3 1098.8h0M838.9 1098.1h0M839.5 1099.5h0M840.2 1098.1h0M840.8 1099.3h0M841.4 1099.5h0M842.1 1100.3h0M842.7 1098.8h0M843.3 1097.7h0M844 1098.4h0M844.6 1100.2h0M845.2 1099.9h0M845.8 1098.6h0M846.5 1098.6h0M847.1 1098.3h0M847.7 1100.4h0M848.4 1099h0M849 1098.8h0M849.6 1097.8h0M850.3 1098.5h0M850.9 1099.3h0M851.5 1098.7h0M852.1 1098.7h0M852.8 1099.2h0M853.4 1097.2h0M854 1097.1h0M854.7 1096.2h0M855.3 1096.6h0M855.9 1096.7h0M856.6 1098.4h0M857.2 1097.4h0M857.8 1096.3h0M858.4 1098.5h0M859.1 1097.3h0M859.7 1098.6h0M860.3 1096.4h0M861 1097.7h0M861.6 1098.8h0M862.2 1098.4h0M862.9 1098.6h0M863.5 1098.3h0M864.1 1097h0M864.7 1096.7h0M865.4 1094.9h0M866 1097.2h0M866.6 1097.1h0M867.3 1096.6h0M867.9 1096.6h0M868.5 1097.9h0M869.1 1096.4h0M869.8 1095.3h0M870.4 1096.4h0M871 1096.5h0M871.7 1097.5h0M872.3 1097.5h0M872.9 1097.8h0M873.6 1097.9h0M874.2 1098.5h0M874.8 1097.3h0M875.4 1097.1h0M876.1 1100h0M876.7 1100h0M877.3 1099.7h0M878 1100.3h0M878.6 1101.3h0M879.2 1099.2h0M879.9 1101.3h0M880.5 1098.8h0M881.1 1100.7h0M881.7 1100.1h0M882.4 1099h0M883 1099.3h0M883.6 1097.8h0M884.3 1098.6h0M884.9 1098.4h0M885.5 1097.1h0M886.2 1095.2h0M886.8 1096.7h0M887.4 1096.2h0M888 1097.7h0M888.7 1095.7h0M889.3 1097.2h0M889.9 1099.2h0M890.6 1097.8h0M891.2 1097.6h0M891.8 1098.7h0M892.5 1097.6h0M893.1 1099.6h0M893.7 1099.1h0M894.3 1100h0M895 1099.2h0M895.6 1099.3h0M896.2 1099.4h0M896.9 1100.6h0M897.5 1098.1h0M898.1 1100.6h0M898.8 1099h0M899.4 1099.7h0M900 1100.4h0M900.6 1099.6h0M901.3 1099.7h0M901.9 1100.6h0M902.5 1099.4h0M903.2 1100.9h0M903.8 1099.8h0M904.4 1100.2h0M905.1 1100.9h0M905.7 1100.2h0M906.3 1101.7h0M906.9 1101.2h0M907.6 1101.2h0M908.2 1102.1h0M908.8 1100.4h0M909.5 1099.3h0M910.1 1101.9h0M910.7 1102.2h0M911.4 1102.2h0M912 1103.6h0M912.6 1102h0M913.2 1103.1h0M913.9 1104.2h0M914.5 1103.1h0M915.1 1105.1h0M915.8 1105.7h0M916.4 1104.3h0M917 1102.6h0M917.6 1102.5h0M918.3 1103.2h0M918.9 1102.5h0M919.5 1101.8h0M920.2 1101.7h0M920.8 1101.7h0M921.4 1101.6h0M922.1 1101.1h0M922.7 1102.2h0M923.3 1101.5h0M923.9 1101.8h0M924.6 1099.6h0M925.2 1102.3h0M925.8 1102.5h0M926.5 1102.4h0M927.1 1100.8h0M927.7 1102h0M928.4 1102.6h0M929 1100.6h0M929.6 1102.2h0M930.2 1101.6h0M930.9 1102h0M931.5 1100.6h0M932.1 1099.8h0M932.8 1100.5h0M933.4 1099.8h0M934 1099.6h0M934.7 1098.7h0M935.3 1098h0M935.9 1097.1h0M936.5 1095.5h0M937.2 1096.1h0M937.8 1098.1h0M938.4 1098.9h0M939.1 1096.2h0M939.7 1097.2h0M940.3 1098.1h0M941 1097.3h0M941.6 1098.5h0" stroke="#45a0a9" stroke-width="5" stroke-linecap="round" fill="none"/>
<path d="M653.8 976.3V1226.6M652.7 1225.5H943.2M653.8 1225.5v10M699.1 1225.5v10M744.5 1225.5v10M789.8 1225.5v10M835.2 1225.5v10M880.5 1225.5v10M925.9 1225.5v10M653.8 1018.5h-8.5M653.8 1101.3h-8.5M653.8 1184.1h-8.5" fill="none" stroke="#000" stroke-width="2.2"/>
<text x="653.8" y="1250.5" text-anchor="middle" class="b" font-size="14.2">24</text>
<text x="699.1" y="1250.5" text-anchor="middle" class="b" font-size="14.2">36</text>
<text x="744.5" y="1250.5" text-anchor="middle" class="b" font-size="14.2">48</text>
<text x="789.8" y="1250.5" text-anchor="middle" class="b" font-size="14.2">60</text>
<text x="835.2" y="1250.5" text-anchor="middle" class="b" font-size="14.2">72</text>
<text x="880.5" y="1250.5" text-anchor="middle" class="b" font-size="14.2">84</text>
<text x="925.9" y="1250.5" text-anchor="middle" class="b" font-size="14.2">96</text>
<text x="643.3" y="1023.6" text-anchor="end" class="b" font-size="14.2">1.2</text>
<text x="643.3" y="1106.4" text-anchor="end" class="b" font-size="14.2">1.0</text>
<text x="643.3" y="1189.2" text-anchor="end" class="b" font-size="14.2">0.8</text>
<text x="797.5" y="1275.6" text-anchor="middle" class="b" font-size="17.9">Time [h]</text>
<text transform="translate(615.5 1101.3) rotate(-90)" text-anchor="middle" font-size="16.15"><tspan class="b i">BMAL1</tspan><tspan class="b"> relative bioluminescence</tspan></text>
<text transform="translate(575.5 1096) rotate(-90)" text-anchor="middle" font-size="24.4"><tspan>T98G </tspan><tspan class="i">NR1D1</tspan><tspan> KO</tspan></text>
<path d="M1086.6 1169.8h0M1087.2 1164.2h0M1087.8 1165.7h0M1088.5 1162.6h0M1089.1 1161.6h0M1089.7 1159h0M1090.3 1159.8h0M1091 1153.9h0M1091.6 1154.1h0M1092.2 1153.7h0M1092.9 1148.4h0M1093.5 1147.9h0M1094.1 1147.2h0M1094.8 1144.7h0M1095.4 1139.4h0M1096 1137.9h0M1096.6 1137.5h0M1097.3 1134.4h0M1097.9 1134.9h0M1098.5 1128.5h0M1099.2 1127h0M1099.8 1125.4h0M1100.4 1123.2h0M1101.1 1118.8h0M1101.7 1121.4h0M1102.3 1113.3h0M1102.9 1110.8h0M1103.6 1110.6h0M1104.2 1106.1h0M1104.8 1107.3h0M1105.5 1105h0M1106.1 1103.6h0M1106.7 1099h0M1107.4 1099.6h0M1108 1097.4h0M1108.6 1096.6h0M1109.2 1092.9h0M1109.9 1095.7h0M1110.5 1092.9h0M1111.1 1089.7h0M1111.8 1088.8h0M1112.4 1089.7h0M1113 1087.8h0M1113.7 1084.2h0M1114.3 1085.4h0M1114.9 1083.2h0M1115.5 1081h0M1116.2 1083.2h0M1116.8 1083.2h0M1117.4 1085h0M1118.1 1081.7h0M1118.7 1080.5h0M1119.3 1080h0M1119.9 1083h0M1120.6 1079.7h0M1121.2 1079h0M1121.8 1080.9h0M1122.5 1083.1h0M1123.1 1084h0M1123.7 1082.4h0M1124.4 1084.7h0M1125 1085.1h0M1125.6 1084.9h0M1126.2 1087h0M1126.9 1088h0M1127.5 1089.3h0M1128.1 1087.8h0M1128.8 1091.8h0M1129.4 1090.6h0M1130 1091.6h0M1130.7 1092.7h0M1131.3 1094.5h0M1131.9 1095h0M1132.5 1096.7h0M1133.2 1097.9h0M1133.8 1098.5h0M1134.4 1099.8h0M1135.1 1103.4h0M1135.7 1104.2h0M1136.3 1109.6h0M1137 1108.7h0M1137.6 1109.9h0M1138.2 1112.2h0M1138.8 1115h0M1139.5 1115h0M1140.1 1118.1h0M1140.7 1120.4h0M1141.4 1119.8h0M1142 1121.5h0M1142.6 1126.2h0M1143.3 1126.2h0M1143.9 1128.1h0M1144.5 1126.3h0M1145.1 1128.7h0M1145.8 1129.9h0M1146.4 1133.5h0M1147 1131.9h0M1147.7 1134.7h0M1148.3 1134.6h0M1148.9 1134.8h0M1149.6 1135.1h0M1150.2 1136.6h0M1150.8 1136.1h0M1151.4 1137.6h0M1152.1 1136.6h0M1152.7 1140.3h0M1153.3 1139.5h0M1154 1138.7h0M1154.6 1141.8h0M1155.2 1139.7h0M1155.9 1140h0M1156.5 1140.5h0M1157.1 1142.3h0M1157.7 1141.2h0M1158.4 1141.6h0M1159 1141.3h0M1159.6 1143.5h0M1160.3 1142.5h0M1160.9 1137.1h0M1161.5 1140.2h0M1162.2 1140.1h0M1162.8 1139.5h0M1163.4 1137.4h0M1164 1138h0M1164.7 1136.7h0M1165.3 1136.7h0M1165.9 1135.2h0M1166.6 1134.5h0M1167.2 1136.3h0M1167.8 1132.8h0M1168.4 1131.3h0M1169.1 1129.2h0M1169.7 1128.5h0M1170.3 1128.4h0M1171 1125.5h0M1171.6 1125.5h0M1172.2 1119.3h0M1172.9 1120.2h0M1173.5 1118.9h0M1174.1 1116.4h0M1174.7 1115.6h0M1175.4 1114.3h0M1176 1110.7h0M1176.6 1109.2h0M1177.3 1108.8h0M1177.9 1107.6h0M1178.5 1104.9h0M1179.2 1103.1h0M1179.8 1098.8h0M1180.4 1098.1h0M1181 1098.8h0M1181.7 1096.4h0M1182.3 1095.3h0M1182.9 1092.2h0M1183.6 1093.6h0M1184.2 1090.2h0M1184.8 1087.7h0M1185.5 1084.6h0M1186.1 1085.3h0M1186.7 1082.7h0M1187.3 1081.9h0M1188 1079.7h0M1188.6 1079.4h0M1189.2 1077.3h0M1189.9 1076.4h0M1190.5 1074.5h0M1191.1 1070.3h0M1191.8 1073.7h0M1192.4 1071.6h0M1193 1069.4h0M1193.6 1070.6h0M1194.3 1070.4h0M1194.9 1067.1h0M1195.5 1064.3h0M1196.2 1065.6h0M1196.8 1064.7h0M1197.4 1065.7h0M1198.1 1064.6h0M1198.7 1065.9h0M1199.3 1060.7h0M1199.9 1061.7h0M1200.6 1061.7h0M1201.2 1061.9h0M1201.8 1060.2h0M1202.5 1057.5h0M1203.1 1060.4h0M1203.7 1056.9h0M1204.4 1060.3h0M1205 1061.2h0M1205.6 1060.1h0M1206.2 1061.6h0M1206.9 1058.6h0M1207.5 1062.3h0M1208.1 1062.5h0M1208.8 1064h0M1209.4 1064.9h0M1210 1061.2h0M1210.6 1062.7h0M1211.3 1065.5h0M1211.9 1064.7h0M1212.5 1064.7h0M1213.2 1066.7h0M1213.8 1070.3h0M1214.4 1070.1h0M1215.1 1071h0M1215.7 1076h0M1216.3 1074.5h0M1216.9 1076.8h0M1217.6 1077.8h0M1218.2 1081.3h0M1218.8 1082.6h0M1219.5 1083.4h0M1220.1 1084.6h0M1220.7 1085.7h0M1221.4 1086.2h0M1222 1090h0M1222.6 1092h0M1223.2 1091.1h0M1223.9 1094.6h0M1224.5 1096.8h0M1225.1 1098.7h0M1225.8 1098.5h0M1226.4 1100.8h0M1227 1101.9h0M1227.7 1105.9h0M1228.3 1106.3h0M1228.9 1108h0M1229.5 1110.5h0M1230.2 1112.7h0M1230.8 1114.2h0M1231.4 1117.2h0M1232.1 1116.8h0M1232.7 1118.8h0M1233.3 1120.2h0M1234 1122.9h0M1234.6 1121.8h0M1235.2 1122.9h0M1235.8 1127.3h0M1236.5 1126.5h0M1237.1 1129.5h0M1237.7 1128.7h0M1238.4 1131.9h0M1239 1130.8h0M1239.6 1131.9h0M1240.3 1131.4h0M1240.9 1134.2h0M1241.5 1137.1h0M1242.1 1136.1h0M1242.8 1137.1h0M1243.4 1137.6h0M1244 1137.1h0M1244.7 1141.6h0M1245.3 1138.3h0M1245.9 1140.6h0M1246.6 1142h0M1247.2 1142.5h0M1247.8 1142h0M1248.4 1139.6h0M1249.1 1140.2h0M1249.7 1142h0M1250.3 1140.2h0M1251 1137.6h0M1251.6 1142h0M1252.2 1140.7h0M1252.9 1140.5h0M1253.5 1139.4h0M1254.1 1138.6h0M1254.7 1140.9h0M1255.4 1139.3h0M1256 1137.3h0M1256.6 1138.5h0M1257.3 1138h0M1257.9 1138h0M1258.5 1138.9h0M1259.1 1136.3h0M1259.8 1138.5h0M1260.4 1137h0M1261 1135.3h0M1261.7 1135.1h0M1262.3 1133.6h0M1262.9 1133h0M1263.6 1130.2h0M1264.2 1128.1h0M1264.8 1128.1h0M1265.4 1124.9h0M1266.1 1123.3h0M1266.7 1123.2h0M1267.3 1121.8h0M1268 1120h0M1268.6 1115.9h0M1269.2 1117.9h0M1269.9 1112.5h0M1270.5 1115.3h0M1271.1 1113.7h0M1271.7 1112.6h0M1272.4 1113.9h0M1273 1109.5h0M1273.6 1107.8h0M1274.3 1108.8h0M1274.9 1106.8h0M1275.5 1106.6h0M1276.2 1106.4h0M1276.8 1107.3h0M1277.4 1103.6h0M1278 1103.5h0M1278.7 1102.2h0M1279.3 1100.9h0M1279.9 1097.8h0M1280.6 1100.2h0M1281.2 1099.2h0M1281.8 1100.2h0M1282.5 1092.5h0M1283.1 1096.6h0M1283.7 1092.9h0M1284.3 1094.9h0M1285 1091.1h0M1285.6 1093.6h0M1286.2 1094.6h0M1286.9 1092.6h0M1287.5 1094.6h0M1288.1 1091.4h0M1288.8 1093.1h0M1289.4 1089.4h0M1290 1091.6h0M1290.6 1090h0M1291.3 1091.5h0M1291.9 1091.9h0M1292.5 1088.3h0M1293.2 1090.3h0M1293.8 1090.2h0M1294.4 1089.1h0M1295.1 1090.3h0M1295.7 1092h0M1296.3 1092h0M1296.9 1092.9h0M1297.6 1093.5h0M1298.2 1094.1h0M1298.8 1093.8h0M1299.5 1095.7h0M1300.1 1096.7h0M1300.7 1096.4h0M1301.3 1097.4h0M1302 1100.3h0M1302.6 1097.7h0M1303.2 1097.2h0M1303.9 1097.9h0M1304.5 1100.9h0M1305.1 1099.9h0M1305.8 1101.6h0M1306.4 1099.3h0M1307 1100.3h0M1307.6 1103.6h0M1308.3 1103.8h0M1308.9 1104.4h0M1309.5 1104.6h0M1310.2 1102.2h0M1310.8 1105.5h0M1311.4 1106.6h0M1312.1 1106.5h0M1312.7 1110.5h0M1313.3 1109.6h0M1313.9 1109.9h0M1314.6 1107.9h0M1315.2 1110.8h0M1315.8 1109.7h0M1316.5 1112.1h0M1317.1 1111.6h0M1317.7 1111.5h0M1318.4 1112.8h0M1319 1109.9h0M1319.6 1111h0M1320.2 1111h0M1320.9 1110.4h0M1321.5 1114.4h0M1322.1 1111.9h0M1322.8 1113.5h0M1323.4 1115h0M1324 1111.3h0M1324.7 1115.7h0M1325.3 1116.3h0M1325.9 1114.7h0M1326.5 1117.9h0M1327.2 1115h0M1327.8 1116.5h0M1328.4 1118.2h0M1329.1 1117.2h0M1329.7 1119.4h0M1330.3 1119.8h0M1331 1119.8h0M1331.6 1118h0M1332.2 1118.8h0M1332.8 1119.2h0M1333.5 1121.2h0M1334.1 1122.7h0M1334.7 1122.9h0M1335.4 1121.7h0M1336 1121.6h0M1336.6 1121.5h0M1337.3 1122.5h0M1337.9 1122.9h0M1338.5 1122.8h0M1339.1 1123h0M1339.8 1124.6h0M1340.4 1122.4h0M1341 1123.7h0M1341.7 1123.4h0M1342.3 1120.5h0M1342.9 1121.1h0M1343.6 1123.3h0M1344.2 1121.8h0M1344.8 1120.3h0M1345.4 1120.6h0M1346.1 1118.6h0M1346.7 1118.8h0M1347.3 1120.2h0M1348 1121.2h0M1348.6 1118.7h0M1349.2 1115.3h0M1349.8 1115.1h0M1350.5 1119.8h0M1351.1 1117.7h0M1351.7 1120h0M1352.4 1116.1h0M1353 1117.4h0M1353.6 1117.1h0M1354.3 1115.5h0M1354.9 1118.6h0M1355.5 1117h0M1356.1 1114h0M1356.8 1116.6h0M1357.4 1114.2h0M1358 1112.6h0M1358.7 1111.2h0M1359.3 1114.4h0M1359.9 1113.6h0M1360.6 1111.7h0M1361.2 1112.3h0M1361.8 1113.7h0M1362.4 1114.2h0M1363.1 1114.4h0M1363.7 1109h0M1364.3 1111.2h0M1365 1112.9h0M1365.6 1109.9h0M1366.2 1112.7h0M1366.9 1110.4h0M1367.5 1108.3h0M1368.1 1107.8h0M1368.7 1109.9h0M1369.4 1107.4h0M1370 1108.3h0M1370.6 1107.9h0M1371.3 1107.7h0M1371.9 1108h0M1372.5 1108.3h0M1373.2 1107.4h0M1373.8 1108.8h0" stroke="#9c5fa2" stroke-width="4.6" stroke-linecap="round" fill="none"/>
<path d="M1086.6 1175.6h0M1087.2 1173.2h0M1087.8 1170.3h0M1088.5 1169.5h0M1089.1 1165.7h0M1089.7 1164.1h0M1090.3 1161.8h0M1091 1156.5h0M1091.6 1157.7h0M1092.2 1155.3h0M1092.9 1152.3h0M1093.5 1150.5h0M1094.1 1148.5h0M1094.8 1146.3h0M1095.4 1140.7h0M1096 1140.6h0M1096.6 1139.7h0M1097.3 1134.7h0M1097.9 1133.4h0M1098.5 1130.6h0M1099.2 1127.9h0M1099.8 1122.8h0M1100.4 1119.9h0M1101.1 1120.7h0M1101.7 1118h0M1102.3 1115.5h0M1102.9 1113.3h0M1103.6 1110h0M1104.2 1107.7h0M1104.8 1106.7h0M1105.5 1103.8h0M1106.1 1101.4h0M1106.7 1099.1h0M1107.4 1098.7h0M1108 1097.6h0M1108.6 1095.3h0M1109.2 1094.3h0M1109.9 1095.1h0M1110.5 1093.9h0M1111.1 1092.3h0M1111.8 1088.8h0M1112.4 1088.3h0M1113 1088.1h0M1113.7 1084h0M1114.3 1085.6h0M1114.9 1085.3h0M1115.5 1084.7h0M1116.2 1080.9h0M1116.8 1080.2h0M1117.4 1081.5h0M1118.1 1080h0M1118.7 1079.1h0M1119.3 1081.3h0M1119.9 1081.5h0M1120.6 1080.4h0M1121.2 1075.3h0M1121.8 1077.3h0M1122.5 1077.4h0M1123.1 1078.9h0M1123.7 1079.1h0M1124.4 1077.1h0M1125 1080.4h0M1125.6 1080.4h0M1126.2 1078.6h0M1126.9 1082.7h0M1127.5 1083.7h0M1128.1 1084.6h0M1128.8 1086.7h0M1129.4 1086.1h0M1130 1084.9h0M1130.7 1088.2h0M1131.3 1088.3h0M1131.9 1091.9h0M1132.5 1094.2h0M1133.2 1090.4h0M1133.8 1094.9h0M1134.4 1095.2h0M1135.1 1096.2h0M1135.7 1095.3h0M1136.3 1100.6h0M1137 1099.4h0M1137.6 1104.2h0M1138.2 1103.7h0M1138.8 1104.8h0M1139.5 1107.3h0M1140.1 1109.5h0M1140.7 1111.2h0M1141.4 1111.8h0M1142 1116.3h0M1142.6 1114.1h0M1143.3 1119.8h0M1143.9 1120.7h0M1144.5 1122.5h0M1145.1 1123.1h0M1145.8 1124.9h0M1146.4 1125.7h0M1147 1128.7h0M1147.7 1131h0M1148.3 1130.7h0M1148.9 1129.2h0M1149.6 1128.2h0M1150.2 1133.3h0M1150.8 1132.7h0M1151.4 1135.3h0M1152.1 1132.2h0M1152.7 1134h0M1153.3 1130.8h0M1154 1135.8h0M1154.6 1133.6h0M1155.2 1136.5h0M1155.9 1137.5h0M1156.5 1137.1h0M1157.1 1139.4h0M1157.7 1137.1h0M1158.4 1139.3h0M1159 1139.1h0M1159.6 1140.1h0M1160.3 1143.8h0M1160.9 1142.2h0M1161.5 1141.7h0M1162.2 1143.2h0M1162.8 1141.8h0M1163.4 1142h0M1164 1143.1h0M1164.7 1142.5h0M1165.3 1143.1h0M1165.9 1143.6h0M1166.6 1141.3h0M1167.2 1143.1h0M1167.8 1142h0M1168.4 1143.5h0M1169.1 1142.4h0M1169.7 1141.9h0M1170.3 1141.1h0M1171 1142.6h0M1171.6 1138.3h0M1172.2 1138.9h0M1172.9 1138.2h0M1173.5 1139.1h0M1174.1 1136.5h0M1174.7 1135.5h0M1175.4 1133.9h0M1176 1134.9h0M1176.6 1133h0M1177.3 1131.9h0M1177.9 1132.3h0M1178.5 1131.5h0M1179.2 1133.1h0M1179.8 1131.6h0M1180.4 1128.4h0M1181 1127.3h0M1181.7 1127.3h0M1182.3 1126h0M1182.9 1123h0M1183.6 1125h0M1184.2 1122.2h0M1184.8 1124.8h0M1185.5 1122.1h0M1186.1 1119.4h0M1186.7 1119.8h0M1187.3 1120.3h0M1188 1116.2h0M1188.6 1119.2h0M1189.2 1118.5h0M1189.9 1116.1h0M1190.5 1116.4h0M1191.1 1113.2h0M1191.8 1113.1h0M1192.4 1111.5h0M1193 1110.4h0M1193.6 1108.8h0M1194.3 1109.3h0M1194.9 1108.8h0M1195.5 1108.7h0M1196.2 1108h0M1196.8 1106.1h0M1197.4 1106.2h0M1198.1 1108.2h0M1198.7 1105.6h0M1199.3 1106.7h0M1199.9 1105.4h0M1200.6 1101.2h0M1201.2 1104.7h0M1201.8 1101.8h0M1202.5 1103.3h0M1203.1 1100.2h0M1203.7 1100.4h0M1204.4 1099.1h0M1205 1095.3h0M1205.6 1096.2h0M1206.2 1096.5h0M1206.9 1096.5h0M1207.5 1096.3h0M1208.1 1092.2h0M1208.8 1091.4h0M1209.4 1092.6h0M1210 1091.1h0M1210.6 1089.3h0M1211.3 1090.8h0M1211.9 1091.6h0M1212.5 1087.7h0M1213.2 1089.5h0M1213.8 1088.8h0M1214.4 1086.2h0M1215.1 1086.3h0M1215.7 1086.9h0M1216.3 1089h0M1216.9 1089h0M1217.6 1088.3h0M1218.2 1086.9h0M1218.8 1088.1h0M1219.5 1086.3h0M1220.1 1088.2h0M1220.7 1086.9h0M1221.4 1086.7h0M1222 1085.2h0M1222.6 1087.1h0M1223.2 1085.6h0M1223.9 1083.8h0M1224.5 1083.9h0M1225.1 1087h0M1225.8 1083.4h0M1226.4 1082.8h0M1227 1085.8h0M1227.7 1087.2h0M1228.3 1085.8h0M1228.9 1084.7h0M1229.5 1087.1h0M1230.2 1084.8h0M1230.8 1082.3h0M1231.4 1085.4h0M1232.1 1083.8h0M1232.7 1083.5h0M1233.3 1085.9h0M1234 1087.9h0M1234.6 1084.8h0M1235.2 1085.4h0M1235.8 1084.7h0M1236.5 1088.4h0M1237.1 1086.5h0M1237.7 1087.1h0M1238.4 1088.5h0M1239 1087.9h0M1239.6 1090.5h0M1240.3 1088.2h0M1240.9 1089h0M1241.5 1088.7h0M1242.1 1089.9h0M1242.8 1090.9h0M1243.4 1091.7h0M1244 1089.9h0M1244.7 1090.9h0M1245.3 1091.9h0M1245.9 1093.9h0M1246.6 1092.7h0M1247.2 1096.5h0M1247.8 1094.7h0M1248.4 1096.6h0M1249.1 1097.8h0M1249.7 1100.3h0M1250.3 1100.1h0M1251 1099.6h0M1251.6 1099.4h0M1252.2 1098.4h0M1252.9 1097.4h0M1253.5 1100.5h0M1254.1 1099.4h0M1254.7 1103.1h0M1255.4 1102.8h0M1256 1102.5h0M1256.6 1101.7h0M1257.3 1104.7h0M1257.9 1106.4h0M1258.5 1108.1h0M1259.1 1107.3h0M1259.8 1107.1h0M1260.4 1106.8h0M1261 1106.4h0M1261.7 1108.9h0M1262.3 1107.1h0M1262.9 1111.5h0M1263.6 1112.8h0M1264.2 1111.5h0M1264.8 1113.3h0M1265.4 1115.4h0M1266.1 1117.8h0M1266.7 1114.4h0M1267.3 1115.4h0M1268 1114.9h0M1268.6 1116.4h0M1269.2 1113.9h0M1269.9 1115.3h0M1270.5 1116h0M1271.1 1118.1h0M1271.7 1116.7h0M1272.4 1114.7h0M1273 1115.9h0M1273.6 1117.9h0M1274.3 1116.1h0M1274.9 1115.9h0M1275.5 1117.5h0M1276.2 1119.9h0M1276.8 1120.9h0M1277.4 1119.4h0M1278 1120.6h0M1278.7 1119.1h0M1279.3 1122.7h0M1279.9 1122.8h0M1280.6 1117.6h0M1281.2 1120.6h0M1281.8 1119.4h0M1282.5 1119.1h0M1283.1 1121.8h0M1283.7 1121.5h0M1284.3 1118.2h0M1285 1121.5h0M1285.6 1118.5h0M1286.2 1120.1h0M1286.9 1120.1h0M1287.5 1120.9h0M1288.1 1116.6h0M1288.8 1117h0M1289.4 1117.1h0M1290 1117.5h0M1290.6 1119h0M1291.3 1115.4h0M1291.9 1117.1h0M1292.5 1113.8h0M1293.2 1117h0M1293.8 1115.9h0M1294.4 1115.6h0M1295.1 1115.1h0M1295.7 1113.9h0M1296.3 1114.5h0M1296.9 1115.2h0M1297.6 1112.9h0M1298.2 1114.8h0M1298.8 1112.5h0M1299.5 1111.5h0M1300.1 1113.2h0M1300.7 1110.4h0M1301.3 1112.2h0M1302 1111.7h0M1302.6 1109.5h0M1303.2 1107.7h0M1303.9 1109.6h0M1304.5 1110.1h0M1305.1 1110.7h0M1305.8 1103.8h0M1306.4 1106.1h0M1307 1104.6h0M1307.6 1102.3h0M1308.3 1105.4h0M1308.9 1106.7h0M1309.5 1104.4h0M1310.2 1104.1h0M1310.8 1103.3h0M1311.4 1104.9h0M1312.1 1104.4h0M1312.7 1107.4h0M1313.3 1104.7h0M1313.9 1104.6h0M1314.6 1105h0M1315.2 1103.3h0M1315.8 1104.1h0M1316.5 1103.8h0M1317.1 1104.1h0M1317.7 1102.6h0M1318.4 1102.3h0M1319 1101.5h0M1319.6 1101.8h0M1320.2 1099.8h0M1320.9 1098.5h0M1321.5 1102.8h0M1322.1 1100.2h0M1322.8 1099.8h0M1323.4 1100.7h0M1324 1101.5h0M1324.7 1099.4h0M1325.3 1100.1h0M1325.9 1100.5h0M1326.5 1099.2h0M1327.2 1098h0M1327.8 1099.3h0M1328.4 1097.9h0M1329.1 1100.8h0M1329.7 1098.9h0M1330.3 1099.5h0M1331 1099.2h0M1331.6 1099h0M1332.2 1097.3h0M1332.8 1100.2h0M1333.5 1098.7h0M1334.1 1095.9h0M1334.7 1098.7h0M1335.4 1100h0M1336 1097.6h0M1336.6 1101.5h0M1337.3 1101.8h0M1337.9 1097.6h0M1338.5 1100.2h0M1339.1 1100h0M1339.8 1098.7h0M1340.4 1099.9h0M1341 1101h0M1341.7 1100.8h0M1342.3 1099.7h0M1342.9 1101.9h0M1343.6 1099.5h0M1344.2 1101.5h0M1344.8 1100.8h0M1345.4 1101.6h0M1346.1 1098.6h0M1346.7 1101.5h0M1347.3 1099.9h0M1348 1101.2h0M1348.6 1101.9h0M1349.2 1101.9h0M1349.8 1105.3h0M1350.5 1101.5h0M1351.1 1101h0M1351.7 1102.8h0M1352.4 1103.7h0M1353 1103h0M1353.6 1102.8h0M1354.3 1103.8h0M1354.9 1103.5h0M1355.5 1105.5h0M1356.1 1105h0M1356.8 1105.5h0M1357.4 1104.8h0M1358 1105.4h0M1358.7 1106.5h0M1359.3 1103.6h0M1359.9 1107.1h0M1360.6 1107.1h0M1361.2 1106.6h0M1361.8 1105.1h0M1362.4 1106.7h0M1363.1 1106.8h0M1363.7 1106.2h0M1364.3 1108.7h0M1365 1110.2h0M1365.6 1108.6h0M1366.2 1109.1h0M1366.9 1107.2h0M1367.5 1107.9h0M1368.1 1110h0M1368.7 1110.8h0M1369.4 1109.3h0M1370 1112.2h0M1370.6 1108.1h0M1371.3 1111.6h0M1371.9 1111.1h0M1372.5 1112.3h0M1373.2 1111.2h0M1373.8 1110.9h0" stroke="#b6cd36" stroke-width="4.6" stroke-linecap="round" fill="none"/>
<path d="M1086.6 1165.1h0M1087.2 1161.8h0M1087.8 1160.4h0M1088.5 1159.6h0M1089.1 1157.3h0M1089.7 1156.4h0M1090.3 1154.5h0M1091 1153.2h0M1091.6 1154.9h0M1092.2 1153.7h0M1092.9 1152.1h0M1093.5 1147.3h0M1094.1 1146.1h0M1094.8 1147.3h0M1095.4 1147.3h0M1096 1145.1h0M1096.6 1142.2h0M1097.3 1142h0M1097.9 1141.5h0M1098.5 1139.5h0M1099.2 1139.6h0M1099.8 1140.8h0M1100.4 1138h0M1101.1 1138h0M1101.7 1135.9h0M1102.3 1135.5h0M1102.9 1134.3h0M1103.6 1133.2h0M1104.2 1129.9h0M1104.8 1128.8h0M1105.5 1129.7h0M1106.1 1125.6h0M1106.7 1121.9h0M1107.4 1126.2h0M1108 1124.9h0M1108.6 1125.9h0M1109.2 1123.6h0M1109.9 1122.6h0M1110.5 1120.6h0M1111.1 1122.6h0M1111.8 1120.7h0M1112.4 1121.3h0M1113 1120.1h0M1113.7 1119h0M1114.3 1121.4h0M1114.9 1120h0M1115.5 1120.8h0M1116.2 1116.4h0M1116.8 1117.7h0M1117.4 1117.3h0M1118.1 1117.3h0M1118.7 1117.8h0M1119.3 1117.2h0M1119.9 1117h0M1120.6 1118.5h0M1121.2 1116.6h0M1121.8 1114h0M1122.5 1113.6h0M1123.1 1116h0M1123.7 1115.4h0M1124.4 1117.8h0M1125 1115.7h0M1125.6 1117.8h0M1126.2 1117.3h0M1126.9 1115.2h0M1127.5 1117.6h0M1128.1 1113.7h0M1128.8 1115.5h0M1129.4 1114.3h0M1130 1114.6h0M1130.7 1116.6h0M1131.3 1116.6h0M1131.9 1117.3h0M1132.5 1115h0M1133.2 1115.3h0M1133.8 1116.1h0M1134.4 1114.1h0M1135.1 1114.4h0M1135.7 1115.6h0M1136.3 1118.1h0M1137 1119.7h0M1137.6 1118h0M1138.2 1118.8h0M1138.8 1118.8h0M1139.5 1118.3h0M1140.1 1119.4h0M1140.7 1122.1h0M1141.4 1124.1h0M1142 1123.5h0M1142.6 1123.4h0M1143.3 1122.9h0M1143.9 1122h0M1144.5 1124.1h0M1145.1 1125.4h0M1145.8 1128.3h0M1146.4 1127.1h0M1147 1125.6h0M1147.7 1127.5h0M1148.3 1129.4h0M1148.9 1127.6h0M1149.6 1130.1h0M1150.2 1129h0M1150.8 1129.8h0M1151.4 1127.4h0M1152.1 1130.5h0M1152.7 1128.8h0M1153.3 1128.4h0M1154 1131.1h0M1154.6 1132h0M1155.2 1132.9h0M1155.9 1128.8h0M1156.5 1132.1h0M1157.1 1132.4h0M1157.7 1133.6h0M1158.4 1134.5h0M1159 1133h0M1159.6 1135.5h0M1160.3 1131.5h0M1160.9 1134.8h0M1161.5 1134h0M1162.2 1134.7h0M1162.8 1134.9h0M1163.4 1132.9h0M1164 1136.7h0M1164.7 1133.7h0M1165.3 1132.5h0M1165.9 1134.9h0M1166.6 1133.9h0M1167.2 1131h0M1167.8 1132h0M1168.4 1133.1h0M1169.1 1128.5h0M1169.7 1128.7h0M1170.3 1131.1h0M1171 1127.2h0M1171.6 1127h0M1172.2 1127.1h0M1172.9 1128.7h0M1173.5 1124.8h0M1174.1 1123.3h0M1174.7 1126.1h0M1175.4 1125.5h0M1176 1124.1h0M1176.6 1123.2h0M1177.3 1120.9h0M1177.9 1118.8h0M1178.5 1121.8h0M1179.2 1119.5h0M1179.8 1117.9h0M1180.4 1119h0M1181 1116.7h0M1181.7 1117h0M1182.3 1115.3h0M1182.9 1115.3h0M1183.6 1115.8h0M1184.2 1112.5h0M1184.8 1112.4h0M1185.5 1112.9h0M1186.1 1111.5h0M1186.7 1113.9h0M1187.3 1111.7h0M1188 1110.9h0M1188.6 1106.2h0M1189.2 1109.9h0M1189.9 1109.3h0M1190.5 1107.3h0M1191.1 1109.6h0M1191.8 1109.1h0M1192.4 1109.1h0M1193 1108.5h0M1193.6 1109h0M1194.3 1110.3h0M1194.9 1111.3h0M1195.5 1111h0M1196.2 1110.2h0M1196.8 1109.7h0M1197.4 1111.4h0M1198.1 1108.2h0M1198.7 1108.7h0M1199.3 1108.4h0M1199.9 1106.7h0M1200.6 1106.5h0M1201.2 1106.8h0M1201.8 1106.7h0M1202.5 1107h0M1203.1 1106h0M1203.7 1103.2h0M1204.4 1106.3h0M1205 1104.6h0M1205.6 1105.2h0M1206.2 1105.2h0M1206.9 1103.4h0M1207.5 1104.6h0M1208.1 1104.3h0M1208.8 1105.4h0M1209.4 1105h0M1210 1104.4h0M1210.6 1104.6h0M1211.3 1103.3h0M1211.9 1107.2h0M1212.5 1103.8h0M1213.2 1103.8h0M1213.8 1106.3h0M1214.4 1104.4h0M1215.1 1101.2h0M1215.7 1104.6h0M1216.3 1106.5h0M1216.9 1103.8h0M1217.6 1105.8h0M1218.2 1103.5h0M1218.8 1102.8h0M1219.5 1102.8h0M1220.1 1101.9h0M1220.7 1103h0M1221.4 1102.7h0M1222 1103.3h0M1222.6 1105.2h0M1223.2 1102.5h0M1223.9 1103.6h0M1224.5 1104.9h0M1225.1 1102.2h0M1225.8 1104.4h0M1226.4 1105.7h0M1227 1102.8h0M1227.7 1103.8h0M1228.3 1105h0M1228.9 1102.2h0M1229.5 1103.1h0M1230.2 1104.3h0M1230.8 1104h0M1231.4 1105.1h0M1232.1 1104.7h0M1232.7 1102.3h0M1233.3 1102.3h0M1234 1102.4h0M1234.6 1104.9h0M1235.2 1103.2h0M1235.8 1104.4h0M1236.5 1102.9h0M1237.1 1105.3h0M1237.7 1104.5h0M1238.4 1105.8h0M1239 1104.9h0M1239.6 1107.5h0M1240.3 1104.3h0M1240.9 1106.2h0M1241.5 1107h0M1242.1 1105.7h0M1242.8 1104.8h0M1243.4 1104.2h0M1244 1108.1h0M1244.7 1103.5h0M1245.3 1107.5h0M1245.9 1106.1h0M1246.6 1107.1h0M1247.2 1102h0M1247.8 1105.7h0M1248.4 1106.2h0M1249.1 1106h0M1249.7 1106.7h0M1250.3 1104.2h0M1251 1103.9h0M1251.6 1106h0M1252.2 1107h0M1252.9 1105h0M1253.5 1105.5h0M1254.1 1104.1h0M1254.7 1105.9h0M1255.4 1105.6h0M1256 1105.9h0M1256.6 1106.4h0M1257.3 1104.2h0M1257.9 1104.6h0M1258.5 1105.6h0M1259.1 1106.5h0M1259.8 1105.1h0M1260.4 1106.1h0M1261 1105.7h0M1261.7 1103.6h0M1262.3 1105.7h0M1262.9 1106h0M1263.6 1104.9h0M1264.2 1104.8h0M1264.8 1107h0M1265.4 1106.5h0M1266.1 1105.4h0M1266.7 1103.7h0M1267.3 1105.6h0M1268 1103.6h0M1268.6 1103.7h0M1269.2 1105.4h0M1269.9 1105.1h0M1270.5 1104.6h0M1271.1 1103.5h0M1271.7 1103.7h0M1272.4 1103.4h0M1273 1103.5h0M1273.6 1105.2h0M1274.3 1103.4h0M1274.9 1104.5h0M1275.5 1107.1h0M1276.2 1105.9h0M1276.8 1105.9h0M1277.4 1106h0M1278 1109.3h0M1278.7 1106.9h0M1279.3 1105.6h0M1279.9 1105.4h0M1280.6 1106.1h0M1281.2 1106.7h0M1281.8 1102.7h0M1282.5 1106.4h0M1283.1 1106.4h0M1283.7 1105.9h0M1284.3 1105.4h0M1285 1105.7h0M1285.6 1105h0M1286.2 1106.9h0M1286.9 1104.5h0M1287.5 1107.2h0M1288.1 1108.2h0M1288.8 1105.9h0M1289.4 1107.7h0M1290 1107.8h0M1290.6 1108.9h0M1291.3 1108.2h0M1291.9 1106h0M1292.5 1105.6h0M1293.2 1110.2h0M1293.8 1107.4h0M1294.4 1107.3h0M1295.1 1109h0M1295.7 1107.7h0M1296.3 1108.1h0M1296.9 1104.3h0M1297.6 1106.2h0M1298.2 1107.8h0M1298.8 1106.2h0M1299.5 1106h0M1300.1 1106.9h0M1300.7 1108.5h0M1301.3 1109.5h0M1302 1108.1h0M1302.6 1107.8h0M1303.2 1108.1h0M1303.9 1107.4h0M1304.5 1112h0M1305.1 1109.7h0M1305.8 1108.1h0M1306.4 1106.8h0M1307 1108.1h0M1307.6 1108.5h0M1308.3 1109.7h0M1308.9 1107.9h0M1309.5 1108.7h0M1310.2 1110.1h0M1310.8 1109.9h0M1311.4 1104.4h0M1312.1 1106.9h0M1312.7 1108.6h0M1313.3 1110h0M1313.9 1109.8h0M1314.6 1107.2h0M1315.2 1110.4h0M1315.8 1109.1h0M1316.5 1107.2h0M1317.1 1108.5h0M1317.7 1106.9h0M1318.4 1110.6h0M1319 1109.1h0M1319.6 1109.5h0M1320.2 1109h0M1320.9 1108.7h0M1321.5 1108.1h0M1322.1 1108.1h0M1322.8 1111.6h0M1323.4 1107.9h0M1324 1108.9h0M1324.7 1110.3h0M1325.3 1108.1h0M1325.9 1109.3h0M1326.5 1109.4h0M1327.2 1109.3h0M1327.8 1110.7h0M1328.4 1108.9h0M1329.1 1110.7h0M1329.7 1111.6h0M1330.3 1110.1h0M1331 1108.5h0M1331.6 1111.3h0M1332.2 1111.1h0M1332.8 1109.8h0M1333.5 1110.7h0M1334.1 1107h0M1334.7 1109.1h0M1335.4 1112.1h0M1336 1108.3h0M1336.6 1110h0M1337.3 1111h0M1337.9 1108.7h0M1338.5 1109.9h0M1339.1 1110.1h0M1339.8 1110.5h0M1340.4 1107.8h0M1341 1109.6h0M1341.7 1110.1h0M1342.3 1109.1h0M1342.9 1109.9h0M1343.6 1106.4h0M1344.2 1109h0M1344.8 1110.9h0M1345.4 1108.4h0M1346.1 1108.6h0M1346.7 1107.5h0M1347.3 1108.5h0M1348 1111.2h0M1348.6 1108.5h0M1349.2 1110.6h0M1349.8 1109.2h0M1350.5 1108.8h0M1351.1 1107.8h0M1351.7 1108.9h0M1352.4 1110.8h0M1353 1109.2h0M1353.6 1109.1h0M1354.3 1107.8h0M1354.9 1106.5h0M1355.5 1107h0M1356.1 1108.3h0M1356.8 1108.9h0M1357.4 1106.3h0M1358 1108h0M1358.7 1108.5h0M1359.3 1104.9h0M1359.9 1106.4h0M1360.6 1107.7h0M1361.2 1108.8h0M1361.8 1110.3h0M1362.4 1109.7h0M1363.1 1107.9h0M1363.7 1107.2h0M1364.3 1108.2h0M1365 1110.2h0M1365.6 1108.3h0M1366.2 1106.1h0M1366.9 1109.4h0M1367.5 1107.1h0M1368.1 1109.4h0M1368.7 1108h0M1369.4 1106.6h0M1370 1105.5h0M1370.6 1106.2h0M1371.3 1108.5h0M1371.9 1108.2h0M1372.5 1107.3h0M1373.2 1106h0M1373.8 1107.4h0" stroke="#c4652a" stroke-width="4.6" stroke-linecap="round" fill="none"/>
<path d="M1086.6 1161.8h0M1087.2 1162.8h0M1087.8 1161.7h0M1088.5 1159.7h0M1089.1 1158.5h0M1089.7 1157.2h0M1090.3 1156.8h0M1091 1153.8h0M1091.6 1156.1h0M1092.2 1155.3h0M1092.9 1155.1h0M1093.5 1154.1h0M1094.1 1152.4h0M1094.8 1150.7h0M1095.4 1152.6h0M1096 1152.9h0M1096.6 1149.8h0M1097.3 1146.1h0M1097.9 1147.3h0M1098.5 1144.2h0M1099.2 1140.4h0M1099.8 1140.1h0M1100.4 1142.2h0M1101.1 1137.6h0M1101.7 1137.4h0M1102.3 1135.7h0M1102.9 1135.3h0M1103.6 1132.9h0M1104.2 1130.6h0M1104.8 1130.1h0M1105.5 1129.7h0M1106.1 1129.1h0M1106.7 1124.1h0M1107.4 1125.6h0M1108 1125.4h0M1108.6 1122.4h0M1109.2 1122.6h0M1109.9 1121.5h0M1110.5 1120.7h0M1111.1 1117.6h0M1111.8 1116.7h0M1112.4 1114.1h0M1113 1114.2h0M1113.7 1114h0M1114.3 1113.7h0M1114.9 1109.9h0M1115.5 1110.2h0M1116.2 1108.7h0M1116.8 1108h0M1117.4 1104.4h0M1118.1 1106.8h0M1118.7 1106.7h0M1119.3 1104.1h0M1119.9 1104.2h0M1120.6 1103.1h0M1121.2 1100.9h0M1121.8 1101h0M1122.5 1100.8h0M1123.1 1098.6h0M1123.7 1101.3h0M1124.4 1098.7h0M1125 1100.6h0M1125.6 1099h0M1126.2 1102.4h0M1126.9 1099.1h0M1127.5 1097.3h0M1128.1 1096h0M1128.8 1097.1h0M1129.4 1097.7h0M1130 1094.5h0M1130.7 1093.7h0M1131.3 1098.3h0M1131.9 1095.7h0M1132.5 1095h0M1133.2 1094.8h0M1133.8 1097.4h0M1134.4 1095.3h0M1135.1 1095.7h0M1135.7 1096h0M1136.3 1094.4h0M1137 1094h0M1137.6 1095.4h0M1138.2 1092.8h0M1138.8 1095.5h0M1139.5 1091.3h0M1140.1 1095.6h0M1140.7 1092.2h0M1141.4 1095.1h0M1142 1092.7h0M1142.6 1092.8h0M1143.3 1095.3h0M1143.9 1094.1h0M1144.5 1096.8h0M1145.1 1096.1h0M1145.8 1095.6h0M1146.4 1096.2h0M1147 1095.6h0M1147.7 1096.1h0M1148.3 1094.2h0M1148.9 1097.4h0M1149.6 1098.4h0M1150.2 1098.9h0M1150.8 1099.5h0M1151.4 1100.2h0M1152.1 1102.5h0M1152.7 1100.4h0M1153.3 1103h0M1154 1105.3h0M1154.6 1104.9h0M1155.2 1104.2h0M1155.9 1105.8h0M1156.5 1108h0M1157.1 1109.7h0M1157.7 1110.4h0M1158.4 1109.3h0M1159 1110.6h0M1159.6 1114.3h0M1160.3 1112.5h0M1160.9 1116.9h0M1161.5 1115.9h0M1162.2 1113.8h0M1162.8 1115.4h0M1163.4 1120h0M1164 1119.3h0M1164.7 1119.7h0M1165.3 1118h0M1165.9 1119.5h0M1166.6 1117.9h0M1167.2 1119.9h0M1167.8 1121.1h0M1168.4 1123.6h0M1169.1 1123.1h0M1169.7 1123.1h0M1170.3 1124.3h0M1171 1120.1h0M1171.6 1122.3h0M1172.2 1125.5h0M1172.9 1122.4h0M1173.5 1125.1h0M1174.1 1123h0M1174.7 1125.1h0M1175.4 1126.7h0M1176 1127h0M1176.6 1128.8h0M1177.3 1128.1h0M1177.9 1130.5h0M1178.5 1127.8h0M1179.2 1129.9h0M1179.8 1128.9h0M1180.4 1128.4h0M1181 1130.4h0M1181.7 1131.1h0M1182.3 1126.4h0M1182.9 1131.9h0M1183.6 1130.3h0M1184.2 1128.5h0M1184.8 1127.9h0M1185.5 1129.5h0M1186.1 1130.6h0M1186.7 1128.2h0M1187.3 1129h0M1188 1130.1h0M1188.6 1130h0M1189.2 1129.2h0M1189.9 1127.6h0M1190.5 1128.9h0M1191.1 1128.7h0M1191.8 1127.6h0M1192.4 1130.6h0M1193 1125.1h0M1193.6 1127.9h0M1194.3 1125.6h0M1194.9 1124.1h0M1195.5 1124.1h0M1196.2 1121.3h0M1196.8 1120.1h0M1197.4 1122.1h0M1198.1 1121h0M1198.7 1120.8h0M1199.3 1120.3h0M1199.9 1121.5h0M1200.6 1121.2h0M1201.2 1121.2h0M1201.8 1119.8h0M1202.5 1118.4h0M1203.1 1120.6h0M1203.7 1117.6h0M1204.4 1118.4h0M1205 1117.4h0M1205.6 1118.3h0M1206.2 1115.7h0M1206.9 1112.1h0M1207.5 1113.8h0M1208.1 1110.5h0M1208.8 1113.6h0M1209.4 1113.4h0M1210 1110.4h0M1210.6 1111.4h0M1211.3 1109.1h0M1211.9 1108.6h0M1212.5 1109.4h0M1213.2 1109.7h0M1213.8 1110.3h0M1214.4 1107.9h0M1215.1 1107.3h0M1215.7 1107.2h0M1216.3 1106.7h0M1216.9 1107.8h0M1217.6 1106.5h0M1218.2 1105.8h0M1218.8 1105.5h0M1219.5 1104.2h0M1220.1 1103.3h0M1220.7 1103.6h0M1221.4 1104.2h0M1222 1104h0M1222.6 1103h0M1223.2 1103.4h0M1223.9 1100.9h0M1224.5 1101h0M1225.1 1100.1h0M1225.8 1101.5h0M1226.4 1101.3h0M1227 1101.5h0M1227.7 1101.5h0M1228.3 1101.2h0M1228.9 1101h0M1229.5 1100.1h0M1230.2 1101.3h0M1230.8 1102.8h0M1231.4 1101.5h0M1232.1 1097.7h0M1232.7 1100.6h0M1233.3 1099.8h0M1234 1099h0M1234.6 1098.6h0M1235.2 1097.5h0M1235.8 1096.3h0M1236.5 1096.5h0M1237.1 1095.8h0M1237.7 1095.1h0M1238.4 1094.1h0M1239 1096.7h0M1239.6 1092.2h0M1240.3 1095h0M1240.9 1093.1h0M1241.5 1091h0M1242.1 1092.1h0M1242.8 1091.3h0M1243.4 1092h0M1244 1093.8h0M1244.7 1090.8h0M1245.3 1089.9h0M1245.9 1093.5h0M1246.6 1093.8h0M1247.2 1094.5h0M1247.8 1094h0M1248.4 1094.9h0M1249.1 1093.1h0M1249.7 1095.4h0M1250.3 1092.5h0M1251 1095.7h0M1251.6 1096.5h0M1252.2 1094.8h0M1252.9 1094.8h0M1253.5 1095.4h0M1254.1 1094.8h0M1254.7 1096.1h0M1255.4 1096.4h0M1256 1096.3h0M1256.6 1097.5h0M1257.3 1097.8h0M1257.9 1097.9h0M1258.5 1100.2h0M1259.1 1096.4h0M1259.8 1101h0M1260.4 1099.3h0M1261 1099.2h0M1261.7 1100.4h0M1262.3 1099.7h0M1262.9 1101.5h0M1263.6 1102.3h0M1264.2 1101.4h0M1264.8 1101.4h0M1265.4 1100.7h0M1266.1 1103.3h0M1266.7 1102.4h0M1267.3 1104.1h0M1268 1105.7h0M1268.6 1106.8h0M1269.2 1105.1h0M1269.9 1105.9h0M1270.5 1108.6h0M1271.1 1106.2h0M1271.7 1105.5h0M1272.4 1106.4h0M1273 1108.5h0M1273.6 1108.1h0M1274.3 1108.8h0M1274.9 1107.2h0M1275.5 1106.9h0M1276.2 1107.2h0M1276.8 1107.6h0M1277.4 1105.2h0M1278 1106.8h0M1278.7 1106.5h0M1279.3 1106.3h0M1279.9 1104.7h0M1280.6 1107.1h0M1281.2 1106.4h0M1281.8 1108.7h0M1282.5 1107.5h0M1283.1 1108.9h0M1283.7 1111.8h0M1284.3 1108.8h0M1285 1112.1h0M1285.6 1112.2h0M1286.2 1110.4h0M1286.9 1109.9h0M1287.5 1110.8h0M1288.1 1110.9h0M1288.8 1111.6h0M1289.4 1111.2h0M1290 1111.6h0M1290.6 1111.2h0M1291.3 1107.8h0M1291.9 1108.7h0M1292.5 1106.9h0M1293.2 1106.7h0M1293.8 1108h0M1294.4 1108.5h0M1295.1 1110.3h0M1295.7 1109.6h0M1296.3 1109.1h0M1296.9 1108.8h0M1297.6 1107.5h0M1298.2 1110.9h0M1298.8 1109h0M1299.5 1108.5h0M1300.1 1108.9h0M1300.7 1108.8h0M1301.3 1113.1h0M1302 1110.4h0M1302.6 1110.3h0M1303.2 1110.9h0M1303.9 1110.9h0M1304.5 1111h0M1305.1 1110.7h0M1305.8 1111h0M1306.4 1110h0M1307 1112.6h0M1307.6 1111.7h0M1308.3 1110.3h0M1308.9 1111.2h0M1309.5 1111.2h0M1310.2 1112.7h0M1310.8 1112.6h0M1311.4 1111.8h0M1312.1 1115.1h0M1312.7 1113.6h0M1313.3 1111.9h0M1313.9 1111.9h0M1314.6 1111.9h0M1315.2 1111.7h0M1315.8 1115h0M1316.5 1115.3h0M1317.1 1113.6h0M1317.7 1115.1h0M1318.4 1115.5h0M1319 1113.8h0M1319.6 1112.8h0M1320.2 1112.1h0M1320.9 1113.3h0M1321.5 1113.6h0M1322.1 1111h0M1322.8 1113.4h0M1323.4 1113h0M1324 1112.5h0M1324.7 1111.9h0M1325.3 1112.1h0M1325.9 1111.3h0M1326.5 1112.7h0M1327.2 1111.8h0M1327.8 1111h0M1328.4 1111.3h0M1329.1 1111.5h0M1329.7 1111.9h0M1330.3 1109.6h0M1331 1112h0M1331.6 1110.1h0M1332.2 1109.2h0M1332.8 1113.8h0M1333.5 1109.8h0M1334.1 1110.4h0M1334.7 1111.6h0M1335.4 1110h0M1336 1110.6h0M1336.6 1110.8h0M1337.3 1109.8h0M1337.9 1110.7h0M1338.5 1109.9h0M1339.1 1107.6h0M1339.8 1108.9h0M1340.4 1110.4h0M1341 1112.1h0M1341.7 1110.3h0M1342.3 1111.5h0M1342.9 1111.1h0M1343.6 1109h0M1344.2 1110h0M1344.8 1110.4h0M1345.4 1110.8h0M1346.1 1108.1h0M1346.7 1108.8h0M1347.3 1110.3h0M1348 1111.2h0M1348.6 1110.5h0M1349.2 1111.8h0M1349.8 1111.9h0M1350.5 1110.6h0M1351.1 1111.7h0M1351.7 1111h0M1352.4 1110.5h0M1353 1111h0M1353.6 1110.1h0M1354.3 1112.7h0M1354.9 1111.3h0M1355.5 1110.4h0M1356.1 1109.3h0M1356.8 1109.5h0M1357.4 1110.9h0M1358 1112.1h0M1358.7 1109.8h0M1359.3 1110.7h0M1359.9 1109.2h0M1360.6 1108.9h0M1361.2 1109.6h0M1361.8 1108.5h0M1362.4 1108h0M1363.1 1110.3h0M1363.7 1109.8h0M1364.3 1110h0M1365 1112.5h0M1365.6 1110.9h0M1366.2 1110h0M1366.9 1109.7h0M1367.5 1108.9h0M1368.1 1111.4h0M1368.7 1109.9h0M1369.4 1110.5h0M1370 1110h0M1370.6 1109.5h0M1371.3 1108.6h0M1371.9 1107.9h0M1372.5 1107.8h0M1373.2 1108.7h0M1373.8 1108h0" stroke="#1f1ff5" stroke-width="4.6" stroke-linecap="round" fill="none"/>
<path d="M1086.6 1130.4h0M1087.2 1134.1h0M1087.8 1137.1h0M1088.5 1137.7h0M1089.1 1139.5h0M1089.7 1142.6h0M1090.3 1142.4h0M1091 1142.5h0M1091.6 1144.2h0M1092.2 1146h0M1092.9 1146.7h0M1093.5 1149.8h0M1094.1 1150.8h0M1094.8 1152.3h0M1095.4 1153.3h0M1096 1152.7h0M1096.6 1158.6h0M1097.3 1156h0M1097.9 1160.5h0M1098.5 1159.9h0M1099.2 1159.8h0M1099.8 1162.8h0M1100.4 1161.5h0M1101.1 1160.7h0M1101.7 1162.8h0M1102.3 1161h0M1102.9 1163.4h0M1103.6 1162.9h0M1104.2 1161.3h0M1104.8 1163.7h0M1105.5 1164h0M1106.1 1161.4h0M1106.7 1162.4h0M1107.4 1160.8h0M1108 1163.7h0M1108.6 1161.7h0M1109.2 1160.7h0M1109.9 1160.9h0M1110.5 1160.3h0M1111.1 1161.2h0M1111.8 1160.2h0M1112.4 1160.3h0M1113 1160h0M1113.7 1156.9h0M1114.3 1158.5h0M1114.9 1156.3h0M1115.5 1154.8h0M1116.2 1154.7h0M1116.8 1156.5h0M1117.4 1152.4h0M1118.1 1150.9h0M1118.7 1151.5h0M1119.3 1150.9h0M1119.9 1150h0M1120.6 1150.8h0M1121.2 1148.4h0M1121.8 1148h0M1122.5 1147.6h0M1123.1 1146h0M1123.7 1146.5h0M1124.4 1143.8h0M1125 1142.8h0M1125.6 1145.7h0M1126.2 1142.8h0M1126.9 1140h0M1127.5 1140h0M1128.1 1138.7h0M1128.8 1136.7h0M1129.4 1134.9h0M1130 1135.2h0M1130.7 1133.9h0M1131.3 1130.7h0M1131.9 1131.2h0M1132.5 1129.6h0M1133.2 1130.4h0M1133.8 1129.2h0M1134.4 1130.1h0M1135.1 1126.2h0M1135.7 1127h0M1136.3 1124.1h0M1137 1125.7h0M1137.6 1125.5h0M1138.2 1124.4h0M1138.8 1124.6h0M1139.5 1123.5h0M1140.1 1122.4h0M1140.7 1121.1h0M1141.4 1120.6h0M1142 1119.5h0M1142.6 1118.1h0M1143.3 1117.1h0M1143.9 1116.4h0M1144.5 1116.3h0M1145.1 1113.6h0M1145.8 1115h0M1146.4 1115.7h0M1147 1111.7h0M1147.7 1111h0M1148.3 1112.2h0M1148.9 1110h0M1149.6 1111.8h0M1150.2 1111.9h0M1150.8 1113.3h0M1151.4 1110.9h0M1152.1 1112.7h0M1152.7 1111.5h0M1153.3 1113.4h0M1154 1111.5h0M1154.6 1113.5h0M1155.2 1111.2h0M1155.9 1111.4h0M1156.5 1110.6h0M1157.1 1112h0M1157.7 1109.1h0M1158.4 1109h0M1159 1110h0M1159.6 1110.9h0M1160.3 1108.7h0M1160.9 1110.3h0M1161.5 1111.1h0M1162.2 1108h0M1162.8 1106.4h0M1163.4 1105.7h0M1164 1105.6h0M1164.7 1106.6h0M1165.3 1107.9h0M1165.9 1107h0M1166.6 1103.4h0M1167.2 1105.4h0M1167.8 1106h0M1168.4 1105.6h0M1169.1 1104.1h0M1169.7 1104.9h0M1170.3 1105.3h0M1171 1106.3h0M1171.6 1106h0M1172.2 1104.3h0M1172.9 1104.5h0M1173.5 1102.3h0M1174.1 1103.2h0M1174.7 1103.9h0M1175.4 1104h0M1176 1100.4h0M1176.6 1102.8h0M1177.3 1101.9h0M1177.9 1104.2h0M1178.5 1102.9h0M1179.2 1103.8h0M1179.8 1102.4h0M1180.4 1103.1h0M1181 1104.6h0M1181.7 1103.6h0M1182.3 1102.9h0M1182.9 1108h0M1183.6 1104.5h0M1184.2 1105.1h0M1184.8 1102.3h0M1185.5 1104.3h0M1186.1 1108.1h0M1186.7 1102.8h0M1187.3 1103.4h0M1188 1104.3h0M1188.6 1102.7h0M1189.2 1103.4h0M1189.9 1103.4h0M1190.5 1103.1h0M1191.1 1104.3h0M1191.8 1103.6h0M1192.4 1103.6h0M1193 1105.6h0M1193.6 1103h0M1194.3 1101.1h0M1194.9 1104.8h0M1195.5 1105.7h0M1196.2 1106.3h0M1196.8 1105h0M1197.4 1106.1h0M1198.1 1106h0M1198.7 1105h0M1199.3 1104.2h0M1199.9 1105.4h0M1200.6 1104.7h0M1201.2 1104h0M1201.8 1107.2h0M1202.5 1107.3h0M1203.1 1104.9h0M1203.7 1105.7h0M1204.4 1103h0M1205 1104.1h0M1205.6 1103.2h0M1206.2 1103.1h0M1206.9 1104h0M1207.5 1105.7h0M1208.1 1104.8h0M1208.8 1104.9h0M1209.4 1106.1h0M1210 1103.9h0M1210.6 1105.8h0M1211.3 1106.8h0M1211.9 1105.8h0M1212.5 1106.4h0M1213.2 1104.2h0M1213.8 1107.2h0M1214.4 1107.9h0M1215.1 1106.8h0M1215.7 1109h0M1216.3 1107.8h0M1216.9 1109.6h0M1217.6 1108.7h0M1218.2 1110h0M1218.8 1112.3h0M1219.5 1112.3h0M1220.1 1108.3h0M1220.7 1108.5h0M1221.4 1110.2h0M1222 1108.7h0M1222.6 1108.8h0M1223.2 1108.7h0M1223.9 1109h0M1224.5 1112.8h0M1225.1 1110.2h0M1225.8 1109.9h0M1226.4 1109.1h0M1227 1109.4h0M1227.7 1109.1h0M1228.3 1109.5h0M1228.9 1112.2h0M1229.5 1108.7h0M1230.2 1108.5h0M1230.8 1109.7h0M1231.4 1107.3h0M1232.1 1110.7h0M1232.7 1110.6h0M1233.3 1112.9h0M1234 1108.7h0M1234.6 1111.3h0M1235.2 1108.7h0M1235.8 1111.2h0M1236.5 1110.9h0M1237.1 1110.6h0M1237.7 1113h0M1238.4 1110.8h0M1239 1112.5h0M1239.6 1107.3h0M1240.3 1107.1h0M1240.9 1110.8h0M1241.5 1109h0M1242.1 1110.7h0M1242.8 1109h0M1243.4 1111.3h0M1244 1108.9h0M1244.7 1110.8h0M1245.3 1109.2h0M1245.9 1108.1h0M1246.6 1110.6h0M1247.2 1110.1h0M1247.8 1110.3h0M1248.4 1110h0M1249.1 1109.5h0M1249.7 1113.1h0M1250.3 1113h0M1251 1108.3h0M1251.6 1108.2h0M1252.2 1108.9h0M1252.9 1107.9h0M1253.5 1110.7h0M1254.1 1109.2h0M1254.7 1110.5h0M1255.4 1111h0M1256 1111.4h0M1256.6 1107.7h0M1257.3 1108.2h0M1257.9 1109.9h0M1258.5 1110.9h0M1259.1 1107.7h0M1259.8 1109.2h0M1260.4 1108.8h0M1261 1108.4h0M1261.7 1107.4h0M1262.3 1107.9h0M1262.9 1106.3h0M1263.6 1108.6h0M1264.2 1105.3h0M1264.8 1107.2h0M1265.4 1107.6h0M1266.1 1107.4h0M1266.7 1107.1h0M1267.3 1107.6h0M1268 1108.3h0M1268.6 1107.4h0M1269.2 1109h0M1269.9 1106.8h0M1270.5 1108.4h0M1271.1 1109.4h0M1271.7 1105.3h0M1272.4 1109.3h0M1273 1107.4h0M1273.6 1108.2h0M1274.3 1106.5h0M1274.9 1106.6h0M1275.5 1108.3h0M1276.2 1109.5h0M1276.8 1106.9h0M1277.4 1109.8h0M1278 1107.9h0M1278.7 1109.9h0M1279.3 1107.6h0M1279.9 1108.4h0M1280.6 1106.8h0M1281.2 1109.3h0M1281.8 1107.8h0M1282.5 1107.4h0M1283.1 1108.2h0M1283.7 1110.8h0M1284.3 1108.6h0M1285 1108.3h0M1285.6 1108.7h0M1286.2 1107.8h0M1286.9 1108.3h0M1287.5 1110.3h0M1288.1 1108h0M1288.8 1108.8h0M1289.4 1107.4h0M1290 1111h0M1290.6 1109.4h0M1291.3 1109h0M1291.9 1111.2h0M1292.5 1109.6h0M1293.2 1110.4h0M1293.8 1110.7h0M1294.4 1111.4h0M1295.1 1111h0M1295.7 1110.4h0M1296.3 1114.1h0M1296.9 1110.1h0M1297.6 1115h0M1298.2 1110.8h0M1298.8 1112.9h0M1299.5 1110.9h0M1300.1 1111.9h0M1300.7 1112.3h0M1301.3 1112.5h0M1302 1110.6h0M1302.6 1112h0M1303.2 1112.3h0M1303.9 1113h0M1304.5 1110.9h0M1305.1 1109.7h0M1305.8 1111.3h0M1306.4 1111.8h0M1307 1108.6h0M1307.6 1111.4h0M1308.3 1107.9h0M1308.9 1108.2h0M1309.5 1110.7h0M1310.2 1109.4h0M1310.8 1109.4h0M1311.4 1110.2h0M1312.1 1111.5h0M1312.7 1111h0M1313.3 1111.2h0M1313.9 1111h0M1314.6 1113.4h0M1315.2 1111.7h0M1315.8 1108.2h0M1316.5 1110.4h0M1317.1 1108.9h0M1317.7 1109.8h0M1318.4 1110.9h0M1319 1107.2h0M1319.6 1110.5h0M1320.2 1109h0M1320.9 1107.7h0M1321.5 1106.5h0M1322.1 1108.1h0M1322.8 1108.1h0M1323.4 1109.4h0M1324 1109.4h0M1324.7 1109.8h0M1325.3 1108.8h0M1325.9 1110.5h0M1326.5 1109.5h0M1327.2 1108.1h0M1327.8 1110.1h0M1328.4 1109.2h0M1329.1 1108.9h0M1329.7 1108.9h0M1330.3 1109.8h0M1331 1107.9h0M1331.6 1109.9h0M1332.2 1108.1h0M1332.8 1107.3h0M1333.5 1109.5h0M1334.1 1110.7h0M1334.7 1108.4h0M1335.4 1110.1h0M1336 1111h0M1336.6 1110h0M1337.3 1111.7h0M1337.9 1109h0M1338.5 1109.4h0M1339.1 1111.7h0M1339.8 1110.1h0M1340.4 1111h0M1341 1108.7h0M1341.7 1108.5h0M1342.3 1108.4h0M1342.9 1110.8h0M1343.6 1109.3h0M1344.2 1108.6h0M1344.8 1108.8h0M1345.4 1107h0M1346.1 1107.2h0M1346.7 1106.7h0M1347.3 1108.3h0M1348 1109.8h0M1348.6 1107.1h0M1349.2 1108.2h0M1349.8 1108.5h0M1350.5 1106.8h0M1351.1 1105.9h0M1351.7 1106.4h0M1352.4 1107.8h0M1353 1107.4h0M1353.6 1105h0M1354.3 1106.5h0M1354.9 1103.7h0M1355.5 1107.8h0M1356.1 1105h0M1356.8 1106.6h0M1357.4 1106.2h0M1358 1106.7h0M1358.7 1104.1h0M1359.3 1105.6h0M1359.9 1105.2h0M1360.6 1106.6h0M1361.2 1107.9h0M1361.8 1108.5h0M1362.4 1108.2h0M1363.1 1110.6h0M1363.7 1107.4h0M1364.3 1109h0M1365 1106.8h0M1365.6 1108.8h0M1366.2 1108.2h0M1366.9 1110.5h0M1367.5 1112.1h0M1368.1 1109.9h0M1368.7 1110.9h0M1369.4 1111.8h0M1370 1112.2h0M1370.6 1113.6h0M1371.3 1112.6h0M1371.9 1110.5h0M1372.5 1111.8h0M1373.2 1109h0M1373.8 1110.2h0" stroke="#d5266c" stroke-width="4.6" stroke-linecap="round" fill="none"/>
<path d="M1086.6 1165.9h0M1087.2 1165.2h0M1087.8 1166.2h0M1088.5 1167.1h0M1089.1 1168h0M1089.7 1167h0M1090.3 1167.4h0M1091 1168.7h0M1091.6 1171.5h0M1092.2 1171.8h0M1092.9 1173.2h0M1093.5 1175.3h0M1094.1 1176.1h0M1094.8 1176.6h0M1095.4 1176.5h0M1096 1177.3h0M1096.6 1178.5h0M1097.3 1178.4h0M1097.9 1178.6h0M1098.5 1178.3h0M1099.2 1178.2h0M1099.8 1179.6h0M1100.4 1179h0M1101.1 1178.6h0M1101.7 1178.7h0M1102.3 1177.5h0M1102.9 1179.2h0M1103.6 1177.3h0M1104.2 1177.7h0M1104.8 1179.2h0M1105.5 1177.9h0M1106.1 1177.5h0M1106.7 1175.5h0M1107.4 1174.7h0M1108 1175h0M1108.6 1173.7h0M1109.2 1172.4h0M1109.9 1170.6h0M1110.5 1170h0M1111.1 1169.1h0M1111.8 1167.1h0M1112.4 1165.8h0M1113 1166.4h0M1113.7 1164.7h0M1114.3 1163.9h0M1114.9 1164h0M1115.5 1165h0M1116.2 1160.7h0M1116.8 1161.4h0M1117.4 1159.5h0M1118.1 1159.5h0M1118.7 1156.8h0M1119.3 1157.2h0M1119.9 1156.1h0M1120.6 1157h0M1121.2 1152.7h0M1121.8 1151.7h0M1122.5 1152.2h0M1123.1 1150.6h0M1123.7 1150.3h0M1124.4 1147.5h0M1125 1148.8h0M1125.6 1148.3h0M1126.2 1146.8h0M1126.9 1142.8h0M1127.5 1141.2h0M1128.1 1141.8h0M1128.8 1139.9h0M1129.4 1138.2h0M1130 1138.5h0M1130.7 1137.2h0M1131.3 1136.9h0M1131.9 1136.8h0M1132.5 1135.8h0M1133.2 1134.8h0M1133.8 1136.2h0M1134.4 1133.5h0M1135.1 1132.3h0M1135.7 1132.1h0M1136.3 1131.1h0M1137 1129.5h0M1137.6 1129.2h0M1138.2 1127.8h0M1138.8 1127.5h0M1139.5 1126.7h0M1140.1 1126.5h0M1140.7 1123.6h0M1141.4 1126.8h0M1142 1123.8h0M1142.6 1123.6h0M1143.3 1123.2h0M1143.9 1122.5h0M1144.5 1120.4h0M1145.1 1119.8h0M1145.8 1120.5h0M1146.4 1118.5h0M1147 1119.2h0M1147.7 1117.9h0M1148.3 1117.5h0M1148.9 1117.7h0M1149.6 1116h0M1150.2 1116.2h0M1150.8 1115.9h0M1151.4 1117.6h0M1152.1 1117.7h0M1152.7 1115.4h0M1153.3 1116.9h0M1154 1117.1h0M1154.6 1115.8h0M1155.2 1115.7h0M1155.9 1114.3h0M1156.5 1114h0M1157.1 1113.2h0M1157.7 1112.9h0M1158.4 1112.9h0M1159 1113h0M1159.6 1111.9h0M1160.3 1112.1h0M1160.9 1110.1h0M1161.5 1109.3h0M1162.2 1111.3h0M1162.8 1111.8h0M1163.4 1110.3h0M1164 1112.6h0M1164.7 1112.6h0M1165.3 1110.3h0M1165.9 1112.4h0M1166.6 1111.2h0M1167.2 1112.1h0M1167.8 1110.6h0M1168.4 1110.5h0M1169.1 1110.5h0M1169.7 1109.9h0M1170.3 1110.5h0M1171 1112.7h0M1171.6 1111h0M1172.2 1110.3h0M1172.9 1109.9h0M1173.5 1109.3h0M1174.1 1109.5h0M1174.7 1109.3h0M1175.4 1110.9h0M1176 1107.7h0M1176.6 1108.7h0M1177.3 1108.8h0M1177.9 1109.6h0M1178.5 1108h0M1179.2 1108h0M1179.8 1108.9h0M1180.4 1108.9h0M1181 1107.9h0M1181.7 1108.2h0M1182.3 1107.5h0M1182.9 1106.9h0M1183.6 1106.2h0M1184.2 1105.2h0M1184.8 1105.9h0M1185.5 1108.5h0M1186.1 1105.9h0M1186.7 1106.8h0M1187.3 1105.7h0M1188 1108.3h0M1188.6 1108.2h0M1189.2 1107.9h0M1189.9 1106.3h0M1190.5 1110.2h0M1191.1 1108.5h0M1191.8 1108.9h0M1192.4 1108h0M1193 1107.3h0M1193.6 1108.3h0M1194.3 1109.6h0M1194.9 1109.1h0M1195.5 1108.8h0M1196.2 1110.2h0M1196.8 1111.3h0M1197.4 1110.5h0M1198.1 1112.2h0M1198.7 1110.7h0M1199.3 1110.2h0M1199.9 1108.4h0M1200.6 1108.1h0M1201.2 1108.9h0M1201.8 1108.7h0M1202.5 1107h0M1203.1 1110h0M1203.7 1110.4h0M1204.4 1109.3h0M1205 1108.8h0M1205.6 1108.8h0M1206.2 1110.1h0M1206.9 1109.9h0M1207.5 1109.3h0M1208.1 1110h0M1208.8 1110h0M1209.4 1110.2h0M1210 1110.7h0M1210.6 1110.8h0M1211.3 1110.4h0M1211.9 1111.3h0M1212.5 1110.7h0M1213.2 1110.4h0M1213.8 1110.4h0M1214.4 1111.5h0M1215.1 1110.9h0M1215.7 1110.4h0M1216.3 1108.7h0M1216.9 1110.3h0M1217.6 1109.1h0M1218.2 1110.1h0M1218.8 1107.9h0M1219.5 1107.7h0M1220.1 1108.6h0M1220.7 1109.4h0M1221.4 1107.6h0M1222 1109.9h0M1222.6 1110h0M1223.2 1109.4h0M1223.9 1108.3h0M1224.5 1109.7h0M1225.1 1109.7h0M1225.8 1107.9h0M1226.4 1110.2h0M1227 1109.7h0M1227.7 1108.8h0M1228.3 1108.1h0M1228.9 1108.8h0M1229.5 1106.8h0M1230.2 1107h0M1230.8 1106.6h0M1231.4 1109.1h0M1232.1 1109.2h0M1232.7 1109.3h0M1233.3 1108.8h0M1234 1106.7h0M1234.6 1108.3h0M1235.2 1108.3h0M1235.8 1107.7h0M1236.5 1107.4h0M1237.1 1108.4h0M1237.7 1109.8h0M1238.4 1110.1h0M1239 1108.3h0M1239.6 1108.6h0M1240.3 1108.8h0M1240.9 1107.9h0M1241.5 1109.5h0M1242.1 1108.4h0M1242.8 1108h0M1243.4 1110h0M1244 1110h0M1244.7 1109.2h0M1245.3 1108.8h0M1245.9 1110.4h0M1246.6 1109.1h0M1247.2 1108.5h0M1247.8 1109.4h0M1248.4 1108.9h0M1249.1 1108.7h0M1249.7 1108.1h0M1250.3 1107.8h0M1251 1108h0M1251.6 1108.7h0M1252.2 1107.7h0M1252.9 1109.1h0M1253.5 1108.9h0M1254.1 1107.7h0M1254.7 1108.5h0M1255.4 1107.4h0M1256 1107.1h0M1256.6 1108.6h0M1257.3 1108.8h0M1257.9 1108.4h0M1258.5 1106.3h0M1259.1 1107.2h0M1259.8 1106.9h0M1260.4 1105.7h0M1261 1106.7h0M1261.7 1107.7h0M1262.3 1107.5h0M1262.9 1107.8h0M1263.6 1109.1h0M1264.2 1106.8h0M1264.8 1108.8h0M1265.4 1109h0M1266.1 1108h0M1266.7 1109.2h0M1267.3 1108.8h0M1268 1108.7h0M1268.6 1109.4h0M1269.2 1106.2h0M1269.9 1108.6h0M1270.5 1108h0M1271.1 1108.8h0M1271.7 1107.5h0M1272.4 1109h0M1273 1108.6h0M1273.6 1107.4h0M1274.3 1107.8h0M1274.9 1106.4h0M1275.5 1106.8h0M1276.2 1105.9h0M1276.8 1106.4h0M1277.4 1107h0M1278 1108.3h0M1278.7 1106.9h0M1279.3 1106.6h0M1279.9 1105h0M1280.6 1106.8h0M1281.2 1106.7h0M1281.8 1108.2h0M1282.5 1107.2h0M1283.1 1106.5h0M1283.7 1107.2h0M1284.3 1107h0M1285 1106.6h0M1285.6 1107h0M1286.2 1104.7h0M1286.9 1104.3h0M1287.5 1106.3h0M1288.1 1106h0M1288.8 1106.4h0M1289.4 1105.3h0M1290 1105.7h0M1290.6 1105.7h0M1291.3 1105.4h0M1291.9 1105.2h0M1292.5 1106.9h0M1293.2 1105.7h0M1293.8 1106.6h0M1294.4 1105.8h0M1295.1 1107h0M1295.7 1107.4h0M1296.3 1107.7h0M1296.9 1107h0M1297.6 1106.6h0M1298.2 1105.9h0M1298.8 1105.7h0M1299.5 1105.8h0M1300.1 1106.3h0M1300.7 1105.3h0M1301.3 1107.3h0M1302 1107h0M1302.6 1107.3h0M1303.2 1107.9h0M1303.9 1106.1h0M1304.5 1106.8h0M1305.1 1106.5h0M1305.8 1107.6h0M1306.4 1105.9h0M1307 1106.8h0M1307.6 1107.8h0M1308.3 1107h0M1308.9 1107.4h0M1309.5 1105.2h0M1310.2 1106.7h0M1310.8 1107.6h0M1311.4 1108.1h0M1312.1 1108h0M1312.7 1108.6h0M1313.3 1107.1h0M1313.9 1107.8h0M1314.6 1106.2h0M1315.2 1106.5h0M1315.8 1107.8h0M1316.5 1108.5h0M1317.1 1108.7h0M1317.7 1108.5h0M1318.4 1108.6h0M1319 1109.3h0M1319.6 1108.8h0M1320.2 1109.2h0M1320.9 1109.2h0M1321.5 1108.9h0M1322.1 1108.4h0M1322.8 1110.9h0M1323.4 1109.3h0M1324 1106.7h0M1324.7 1108.6h0M1325.3 1107.4h0M1325.9 1107.6h0M1326.5 1107.4h0M1327.2 1107.1h0M1327.8 1106.1h0M1328.4 1107.9h0M1329.1 1107.5h0M1329.7 1107h0M1330.3 1107.3h0M1331 1107.7h0M1331.6 1109.8h0M1332.2 1107.8h0M1332.8 1106.6h0M1333.5 1107.1h0M1334.1 1108.8h0M1334.7 1108.2h0M1335.4 1109.2h0M1336 1108.2h0M1336.6 1109.6h0M1337.3 1109h0M1337.9 1109.9h0M1338.5 1109.8h0M1339.1 1108.5h0M1339.8 1110.4h0M1340.4 1110.3h0M1341 1109.4h0M1341.7 1108.2h0M1342.3 1108h0M1342.9 1108.9h0M1343.6 1108.2h0M1344.2 1107.6h0M1344.8 1108h0M1345.4 1108.5h0M1346.1 1108.8h0M1346.7 1107.2h0M1347.3 1107.1h0M1348 1108.2h0M1348.6 1109h0M1349.2 1107.4h0M1349.8 1108.6h0M1350.5 1106.4h0M1351.1 1108.1h0M1351.7 1108.5h0M1352.4 1107.6h0M1353 1108.6h0M1353.6 1106.9h0M1354.3 1106.2h0M1354.9 1107.7h0M1355.5 1106.8h0M1356.1 1106h0M1356.8 1103.9h0M1357.4 1104.9h0M1358 1104.9h0M1358.7 1105.6h0M1359.3 1105.1h0M1359.9 1106.4h0M1360.6 1107.4h0M1361.2 1106.3h0M1361.8 1106.7h0M1362.4 1107h0M1363.1 1108.4h0M1363.7 1109.1h0M1364.3 1109.5h0M1365 1108.5h0M1365.6 1108.1h0M1366.2 1107.1h0M1366.9 1108h0M1367.5 1108h0M1368.1 1107h0M1368.7 1106h0M1369.4 1108.7h0M1370 1106.5h0M1370.6 1106.6h0M1371.3 1106.4h0M1371.9 1106.5h0M1372.5 1106.1h0M1373.2 1106.5h0M1373.8 1105.8h0" stroke="#52d184" stroke-width="4.6" stroke-linecap="round" fill="none"/>
<path d="M1086.6 1173.4h0M1087.2 1172.2h0M1087.8 1173h0M1088.5 1171.6h0M1089.1 1172h0M1089.7 1170.9h0M1090.3 1169.1h0M1091 1168.6h0M1091.6 1168.9h0M1092.2 1167h0M1092.9 1166.7h0M1093.5 1166.5h0M1094.1 1166.2h0M1094.8 1164.4h0M1095.4 1163.5h0M1096 1161.8h0M1096.6 1161.4h0M1097.3 1159h0M1097.9 1160.6h0M1098.5 1157.2h0M1099.2 1156.3h0M1099.8 1154.5h0M1100.4 1152.6h0M1101.1 1149.1h0M1101.7 1148.7h0M1102.3 1148h0M1102.9 1145.5h0M1103.6 1144.3h0M1104.2 1143.9h0M1104.8 1140h0M1105.5 1138.5h0M1106.1 1135.1h0M1106.7 1134.9h0M1107.4 1133.6h0M1108 1130.4h0M1108.6 1129.5h0M1109.2 1129.2h0M1109.9 1128.2h0M1110.5 1124.5h0M1111.1 1122.1h0M1111.8 1120.5h0M1112.4 1119h0M1113 1117.9h0M1113.7 1117.2h0M1114.3 1114.4h0M1114.9 1112.9h0M1115.5 1113.9h0M1116.2 1112.9h0M1116.8 1111.6h0M1117.4 1110.7h0M1118.1 1109.4h0M1118.7 1108.5h0M1119.3 1107.3h0M1119.9 1106h0M1120.6 1104.9h0M1121.2 1103.8h0M1121.8 1104.8h0M1122.5 1104.9h0M1123.1 1102.4h0M1123.7 1102.7h0M1124.4 1102.3h0M1125 1099.9h0M1125.6 1101.6h0M1126.2 1100.9h0M1126.9 1100.3h0M1127.5 1100.9h0M1128.1 1099.3h0M1128.8 1099.6h0M1129.4 1099.3h0M1130 1098.1h0M1130.7 1096.1h0M1131.3 1094.6h0M1131.9 1095.2h0M1132.5 1094.1h0M1133.2 1093.1h0M1133.8 1093.7h0M1134.4 1094.3h0M1135.1 1095.7h0M1135.7 1094.7h0M1136.3 1094.9h0M1137 1095h0M1137.6 1095.2h0M1138.2 1095.5h0M1138.8 1096.6h0M1139.5 1096.4h0M1140.1 1096.9h0M1140.7 1095.5h0M1141.4 1094.8h0M1142 1097.5h0M1142.6 1096.6h0M1143.3 1097.3h0M1143.9 1096.3h0M1144.5 1098h0M1145.1 1097.4h0M1145.8 1097.4h0M1146.4 1098.6h0M1147 1096.5h0M1147.7 1098.6h0M1148.3 1099.2h0M1148.9 1099h0M1149.6 1101.1h0M1150.2 1099.5h0M1150.8 1100.6h0M1151.4 1102.2h0M1152.1 1101.4h0M1152.7 1104.2h0M1153.3 1104.3h0M1154 1105.3h0M1154.6 1103.7h0M1155.2 1107.1h0M1155.9 1107.1h0M1156.5 1107.4h0M1157.1 1107.6h0M1157.7 1107.1h0M1158.4 1109.7h0M1159 1108.9h0M1159.6 1111.4h0M1160.3 1108.5h0M1160.9 1109.7h0M1161.5 1109.4h0M1162.2 1111.7h0M1162.8 1112.7h0M1163.4 1112.8h0M1164 1112.6h0M1164.7 1113h0M1165.3 1114.7h0M1165.9 1112.5h0M1166.6 1113.9h0M1167.2 1115.2h0M1167.8 1115.9h0M1168.4 1116h0M1169.1 1114.7h0M1169.7 1117.5h0M1170.3 1117.4h0M1171 1116.3h0M1171.6 1117.6h0M1172.2 1117.5h0M1172.9 1118h0M1173.5 1118.7h0M1174.1 1118.1h0M1174.7 1115.7h0M1175.4 1118.2h0M1176 1118.9h0M1176.6 1119.1h0M1177.3 1119h0M1177.9 1118.1h0M1178.5 1119.2h0M1179.2 1117.8h0M1179.8 1116.7h0M1180.4 1118.4h0M1181 1115.9h0M1181.7 1117.1h0M1182.3 1116.9h0M1182.9 1117.1h0M1183.6 1115.1h0M1184.2 1112.9h0M1184.8 1116h0M1185.5 1114h0M1186.1 1113.7h0M1186.7 1114h0M1187.3 1113.2h0M1188 1114.3h0M1188.6 1113.6h0M1189.2 1113.5h0M1189.9 1113.8h0M1190.5 1110.9h0M1191.1 1111.9h0M1191.8 1112.2h0M1192.4 1112.9h0M1193 1112.4h0M1193.6 1112.3h0M1194.3 1111.7h0M1194.9 1109.5h0M1195.5 1109h0M1196.2 1109.9h0M1196.8 1109.7h0M1197.4 1108.2h0M1198.1 1109h0M1198.7 1107.6h0M1199.3 1106h0M1199.9 1105.2h0M1200.6 1106.3h0M1201.2 1106.3h0M1201.8 1106.4h0M1202.5 1106.5h0M1203.1 1105.7h0M1203.7 1105.1h0M1204.4 1107.2h0M1205 1106.4h0M1205.6 1105.6h0M1206.2 1104h0M1206.9 1105.8h0M1207.5 1105.7h0M1208.1 1104.8h0M1208.8 1102.5h0M1209.4 1102.9h0M1210 1101.8h0M1210.6 1101.4h0M1211.3 1100.5h0M1211.9 1098.7h0M1212.5 1098.6h0M1213.2 1100.3h0M1213.8 1099.2h0M1214.4 1098.2h0M1215.1 1098.7h0M1215.7 1097.7h0M1216.3 1097.2h0M1216.9 1098.9h0M1217.6 1098.7h0M1218.2 1100h0M1218.8 1099.2h0M1219.5 1100.4h0M1220.1 1099.1h0M1220.7 1098.6h0M1221.4 1100.4h0M1222 1099.9h0M1222.6 1098.6h0M1223.2 1100.4h0M1223.9 1100.2h0M1224.5 1098.2h0M1225.1 1101.1h0M1225.8 1101h0M1226.4 1100h0M1227 1100.5h0M1227.7 1102.2h0M1228.3 1101h0M1228.9 1101.9h0M1229.5 1101.7h0M1230.2 1101.4h0M1230.8 1102.7h0M1231.4 1102.5h0M1232.1 1102.8h0M1232.7 1102.8h0M1233.3 1101.1h0M1234 1100.9h0M1234.6 1101.1h0M1235.2 1101.3h0M1235.8 1101.4h0M1236.5 1101.1h0M1237.1 1102.7h0M1237.7 1101.3h0M1238.4 1103.1h0M1239 1102.8h0M1239.6 1102.1h0M1240.3 1104h0M1240.9 1102.4h0M1241.5 1103.7h0M1242.1 1103.5h0M1242.8 1101.5h0M1243.4 1103h0M1244 1100.7h0M1244.7 1100.4h0M1245.3 1100.7h0M1245.9 1101.4h0M1246.6 1101h0M1247.2 1102.6h0M1247.8 1100.8h0M1248.4 1100.8h0M1249.1 1102h0M1249.7 1103.5h0M1250.3 1103.7h0M1251 1103.2h0M1251.6 1105.4h0M1252.2 1103.6h0M1252.9 1103.5h0M1253.5 1105.2h0M1254.1 1103.9h0M1254.7 1105.9h0M1255.4 1104.6h0M1256 1105.5h0M1256.6 1105.9h0M1257.3 1105.3h0M1257.9 1106.1h0M1258.5 1105.2h0M1259.1 1105.5h0M1259.8 1105.3h0M1260.4 1104.8h0M1261 1105.6h0M1261.7 1106.6h0M1262.3 1104.9h0M1262.9 1105h0M1263.6 1105.7h0M1264.2 1105.6h0M1264.8 1106.2h0M1265.4 1106.5h0M1266.1 1107.5h0M1266.7 1109.2h0M1267.3 1108.3h0M1268 1109.3h0M1268.6 1109.5h0M1269.2 1109.5h0M1269.9 1110.1h0M1270.5 1109.3h0M1271.1 1109.6h0M1271.7 1108.8h0M1272.4 1110.9h0M1273 1111.7h0M1273.6 1110.7h0M1274.3 1111.6h0M1274.9 1112.3h0M1275.5 1110.5h0M1276.2 1111.7h0M1276.8 1112.2h0M1277.4 1113.2h0M1278 1115.6h0M1278.7 1113.9h0M1279.3 1114.7h0M1279.9 1113.4h0M1280.6 1114h0M1281.2 1113h0M1281.8 1113.8h0M1282.5 1116h0M1283.1 1113.6h0M1283.7 1113.6h0M1284.3 1113.8h0M1285 1114.5h0M1285.6 1115.2h0M1286.2 1115.4h0M1286.9 1115.7h0M1287.5 1115.1h0M1288.1 1115.7h0M1288.8 1115.8h0M1289.4 1116.2h0M1290 1114.8h0M1290.6 1115.6h0M1291.3 1115.5h0M1291.9 1115.8h0M1292.5 1114.9h0M1293.2 1115.7h0M1293.8 1115.4h0M1294.4 1116.4h0M1295.1 1114.7h0M1295.7 1116.8h0M1296.3 1117.2h0M1296.9 1117.4h0M1297.6 1117.7h0M1298.2 1119.3h0M1298.8 1116.2h0M1299.5 1117h0M1300.1 1117.1h0M1300.7 1116.5h0M1301.3 1117.6h0M1302 1118.7h0M1302.6 1115.6h0M1303.2 1117.6h0M1303.9 1118.8h0M1304.5 1116.7h0M1305.1 1117h0M1305.8 1117.1h0M1306.4 1115.9h0M1307 1116.6h0M1307.6 1116.3h0M1308.3 1115.2h0M1308.9 1114.3h0M1309.5 1115.5h0M1310.2 1115h0M1310.8 1115.7h0M1311.4 1113.8h0M1312.1 1114.5h0M1312.7 1115.1h0M1313.3 1113.8h0M1313.9 1114.7h0M1314.6 1114h0M1315.2 1113.7h0M1315.8 1113.6h0M1316.5 1114.4h0M1317.1 1114.3h0M1317.7 1115.3h0M1318.4 1114h0M1319 1115.5h0M1319.6 1114.9h0M1320.2 1114.8h0M1320.9 1115.1h0M1321.5 1113.9h0M1322.1 1114.6h0M1322.8 1114.5h0M1323.4 1113.9h0M1324 1112.7h0M1324.7 1115.4h0M1325.3 1114.8h0M1325.9 1115.4h0M1326.5 1115.2h0M1327.2 1116.3h0M1327.8 1114.6h0M1328.4 1114.4h0M1329.1 1114.5h0M1329.7 1114.5h0M1330.3 1114.6h0M1331 1115.3h0M1331.6 1114.2h0M1332.2 1113.4h0M1332.8 1112.6h0M1333.5 1113.7h0M1334.1 1112.6h0M1334.7 1111.6h0M1335.4 1112.7h0M1336 1113h0M1336.6 1113.2h0M1337.3 1114.2h0M1337.9 1114.1h0M1338.5 1113.6h0M1339.1 1114.3h0M1339.8 1115.7h0M1340.4 1114.8h0M1341 1114.1h0M1341.7 1113.6h0M1342.3 1112.6h0M1342.9 1114h0M1343.6 1113.5h0M1344.2 1112.3h0M1344.8 1112.2h0M1345.4 1112.8h0M1346.1 1112.9h0M1346.7 1112.6h0M1347.3 1113.1h0M1348 1112.5h0M1348.6 1113.2h0M1349.2 1110.6h0M1349.8 1112h0M1350.5 1111.1h0M1351.1 1114.4h0M1351.7 1112h0M1352.4 1111.3h0M1353 1113.2h0M1353.6 1112.7h0M1354.3 1112h0M1354.9 1112.4h0M1355.5 1111.7h0M1356.1 1113.4h0M1356.8 1110h0M1357.4 1113.1h0M1358 1110.9h0M1358.7 1113.3h0M1359.3 1110.5h0M1359.9 1111.8h0M1360.6 1111.8h0M1361.2 1111.8h0M1361.8 1112h0M1362.4 1113.3h0M1363.1 1112.6h0M1363.7 1111.3h0M1364.3 1111.5h0M1365 1111.7h0M1365.6 1112.9h0M1366.2 1112.6h0M1366.9 1113.7h0M1367.5 1111.2h0M1368.1 1112.8h0M1368.7 1110.8h0M1369.4 1111.7h0M1370 1111.6h0M1370.6 1112.7h0M1371.3 1111.3h0M1371.9 1113.3h0M1372.5 1113.8h0M1373.2 1113h0M1373.8 1113.3h0" stroke="#66a6f8" stroke-width="5" stroke-linecap="round" fill="none"/>
<path d="M1086.6 1158.2h0M1087.2 1158.7h0M1087.8 1160.1h0M1088.5 1163.5h0M1089.1 1162.6h0M1089.7 1164.3h0M1090.3 1166.8h0M1091 1169.3h0M1091.6 1169.9h0M1092.2 1172.9h0M1092.9 1174.1h0M1093.5 1174.6h0M1094.1 1176.5h0M1094.8 1177.8h0M1095.4 1178.4h0M1096 1179.6h0M1096.6 1179.5h0M1097.3 1180.1h0M1097.9 1182.5h0M1098.5 1183.3h0M1099.2 1184.2h0M1099.8 1184.3h0M1100.4 1184.2h0M1101.1 1185.5h0M1101.7 1184.9h0M1102.3 1183.6h0M1102.9 1182.9h0M1103.6 1184.5h0M1104.2 1182.9h0M1104.8 1180.9h0M1105.5 1181.4h0M1106.1 1180.6h0M1106.7 1179.8h0M1107.4 1181.2h0M1108 1179.7h0M1108.6 1177.1h0M1109.2 1177.5h0M1109.9 1174.3h0M1110.5 1175h0M1111.1 1173.4h0M1111.8 1172.2h0M1112.4 1170.8h0M1113 1170.1h0M1113.7 1169.9h0M1114.3 1165.6h0M1114.9 1164.9h0M1115.5 1162.8h0M1116.2 1161.7h0M1116.8 1159.7h0M1117.4 1159.7h0M1118.1 1158.8h0M1118.7 1157.4h0M1119.3 1155.8h0M1119.9 1155h0M1120.6 1154.4h0M1121.2 1150h0M1121.8 1150.8h0M1122.5 1148h0M1123.1 1148.2h0M1123.7 1145.8h0M1124.4 1146h0M1125 1143.7h0M1125.6 1141.6h0M1126.2 1140.6h0M1126.9 1139.9h0M1127.5 1137.1h0M1128.1 1137.5h0M1128.8 1135.8h0M1129.4 1134.3h0M1130 1132h0M1130.7 1130.8h0M1131.3 1130.4h0M1131.9 1129.5h0M1132.5 1128.2h0M1133.2 1125.3h0M1133.8 1122.7h0M1134.4 1123.5h0M1135.1 1120.9h0M1135.7 1116.6h0M1136.3 1117.6h0M1137 1114.5h0M1137.6 1114.1h0M1138.2 1112.3h0M1138.8 1109.4h0M1139.5 1107.9h0M1140.1 1104.8h0M1140.7 1103.4h0M1141.4 1101.5h0M1142 1101.2h0M1142.6 1100.5h0M1143.3 1096.5h0M1143.9 1096.3h0M1144.5 1095.5h0M1145.1 1093.4h0M1145.8 1092.3h0M1146.4 1090.9h0M1147 1090h0M1147.7 1088.2h0M1148.3 1086.9h0M1148.9 1087.8h0M1149.6 1084.4h0M1150.2 1082.6h0M1150.8 1082.6h0M1151.4 1079.6h0M1152.1 1080.8h0M1152.7 1078.5h0M1153.3 1077.6h0M1154 1076.8h0M1154.6 1074.8h0M1155.2 1073.2h0M1155.9 1070.3h0M1156.5 1071.2h0M1157.1 1069.6h0M1157.7 1069.3h0M1158.4 1068.6h0M1159 1067.9h0M1159.6 1066.7h0M1160.3 1065.3h0M1160.9 1063.4h0M1161.5 1064.5h0M1162.2 1062.1h0M1162.8 1064h0M1163.4 1060.4h0M1164 1060.2h0M1164.7 1059.9h0M1165.3 1057.8h0M1165.9 1059.4h0M1166.6 1058.7h0M1167.2 1056.3h0M1167.8 1056.4h0M1168.4 1056.1h0M1169.1 1055h0M1169.7 1053.5h0M1170.3 1053.7h0M1171 1054.3h0M1171.6 1054.4h0M1172.2 1054.5h0M1172.9 1051.6h0M1173.5 1051.7h0M1174.1 1053.4h0M1174.7 1053.3h0M1175.4 1053.3h0M1176 1053.1h0M1176.6 1052.3h0M1177.3 1052.5h0M1177.9 1052h0M1178.5 1050.7h0M1179.2 1052.2h0M1179.8 1052.1h0M1180.4 1051.2h0M1181 1051.2h0M1181.7 1050.4h0M1182.3 1048.6h0M1182.9 1051h0M1183.6 1050.6h0M1184.2 1049.6h0M1184.8 1049.8h0M1185.5 1050.6h0M1186.1 1051.8h0M1186.7 1053.2h0M1187.3 1054h0M1188 1053.8h0M1188.6 1053.9h0M1189.2 1053.2h0M1189.9 1055.1h0M1190.5 1055.7h0M1191.1 1057h0M1191.8 1058.7h0M1192.4 1059.9h0M1193 1059.8h0M1193.6 1059.9h0M1194.3 1060.5h0M1194.9 1061.7h0M1195.5 1063.8h0M1196.2 1065.9h0M1196.8 1063.9h0M1197.4 1065.8h0M1198.1 1068.1h0M1198.7 1068.3h0M1199.3 1069.3h0M1199.9 1071.6h0M1200.6 1073.4h0M1201.2 1075.1h0M1201.8 1075.8h0M1202.5 1077.5h0M1203.1 1080.3h0M1203.7 1080.6h0M1204.4 1081.5h0M1205 1082.9h0M1205.6 1084.6h0M1206.2 1085h0M1206.9 1087.6h0M1207.5 1089.2h0M1208.1 1091.2h0M1208.8 1093.4h0M1209.4 1092.5h0M1210 1095.1h0M1210.6 1097.1h0M1211.3 1098.5h0M1211.9 1099.8h0M1212.5 1102.9h0M1213.2 1103.7h0M1213.8 1105h0M1214.4 1106.9h0M1215.1 1107.4h0M1215.7 1108.8h0M1216.3 1111.1h0M1216.9 1110.5h0M1217.6 1112h0M1218.2 1114.5h0M1218.8 1116.4h0M1219.5 1117.4h0M1220.1 1117.2h0M1220.7 1120.1h0M1221.4 1119.9h0M1222 1120.6h0M1222.6 1123h0M1223.2 1123.8h0M1223.9 1126.4h0M1224.5 1128.2h0M1225.1 1128.2h0M1225.8 1128.8h0M1226.4 1129.3h0M1227 1131.3h0M1227.7 1132.1h0M1228.3 1130.6h0M1228.9 1131.7h0M1229.5 1133.4h0M1230.2 1132.8h0M1230.8 1132.3h0M1231.4 1133.5h0M1232.1 1135.3h0M1232.7 1135.4h0M1233.3 1135.9h0M1234 1135.8h0M1234.6 1136.7h0M1235.2 1137h0M1235.8 1139.2h0M1236.5 1139.4h0M1237.1 1140.5h0M1237.7 1140.1h0M1238.4 1140.7h0M1239 1140.4h0M1239.6 1140.3h0M1240.3 1140.4h0M1240.9 1141.3h0M1241.5 1142.5h0M1242.1 1142.4h0M1242.8 1141h0M1243.4 1141h0M1244 1141.2h0M1244.7 1141.3h0M1245.3 1140.5h0M1245.9 1141.6h0M1246.6 1141.2h0M1247.2 1140.8h0M1247.8 1138.7h0M1248.4 1137.7h0M1249.1 1138.5h0M1249.7 1140h0M1250.3 1138.1h0M1251 1136.2h0M1251.6 1136.3h0M1252.2 1136.3h0M1252.9 1135.8h0M1253.5 1134.6h0M1254.1 1133.5h0M1254.7 1133.1h0M1255.4 1133.5h0M1256 1130.8h0M1256.6 1130.5h0M1257.3 1130.5h0M1257.9 1130h0M1258.5 1128.8h0M1259.1 1128.6h0M1259.8 1127.7h0M1260.4 1127.6h0M1261 1127.8h0M1261.7 1127h0M1262.3 1126.4h0M1262.9 1123.9h0M1263.6 1125.2h0M1264.2 1125h0M1264.8 1123.1h0M1265.4 1121.6h0M1266.1 1123.8h0M1266.7 1120.6h0M1267.3 1120.1h0M1268 1120.3h0M1268.6 1119.7h0M1269.2 1119.1h0M1269.9 1116.9h0M1270.5 1117.8h0M1271.1 1115.5h0M1271.7 1116.3h0M1272.4 1116.5h0M1273 1116.2h0M1273.6 1116.4h0M1274.3 1115.2h0M1274.9 1114h0M1275.5 1112.8h0M1276.2 1114.1h0M1276.8 1114.4h0M1277.4 1113h0M1278 1112.8h0M1278.7 1112h0M1279.3 1110.9h0M1279.9 1110.7h0M1280.6 1109.8h0M1281.2 1109h0M1281.8 1109.6h0M1282.5 1109h0M1283.1 1107.7h0M1283.7 1109.2h0M1284.3 1107.2h0M1285 1108.3h0M1285.6 1107.7h0M1286.2 1106.6h0M1286.9 1106.7h0M1287.5 1106.5h0M1288.1 1104.8h0M1288.8 1106.5h0M1289.4 1105.6h0M1290 1105h0M1290.6 1106.8h0M1291.3 1107h0M1291.9 1107h0M1292.5 1106.4h0M1293.2 1104.2h0M1293.8 1104.9h0M1294.4 1105.5h0M1295.1 1107.4h0M1295.7 1105.9h0M1296.3 1105.8h0M1296.9 1106h0M1297.6 1104.5h0M1298.2 1104.5h0M1298.8 1104.4h0M1299.5 1103.4h0M1300.1 1104.8h0M1300.7 1104.7h0M1301.3 1105.2h0M1302 1102.3h0M1302.6 1103.6h0M1303.2 1102.2h0M1303.9 1103.7h0M1304.5 1101.6h0M1305.1 1103.7h0M1305.8 1104.6h0M1306.4 1104h0M1307 1103.9h0M1307.6 1105.3h0M1308.3 1104.8h0M1308.9 1104.6h0M1309.5 1103.9h0M1310.2 1103.6h0M1310.8 1105h0M1311.4 1103.3h0M1312.1 1102.1h0M1312.7 1103.4h0M1313.3 1100.9h0M1313.9 1101.1h0M1314.6 1100.8h0M1315.2 1102.7h0M1315.8 1101.5h0M1316.5 1101.9h0M1317.1 1100.6h0M1317.7 1101.7h0M1318.4 1101.5h0M1319 1101.4h0M1319.6 1100.3h0M1320.2 1102.7h0M1320.9 1102.4h0M1321.5 1101.1h0M1322.1 1102.4h0M1322.8 1102.5h0M1323.4 1102.3h0M1324 1102.2h0M1324.7 1102.5h0M1325.3 1103.4h0M1325.9 1103h0M1326.5 1105.2h0M1327.2 1105.1h0M1327.8 1104.4h0M1328.4 1104.8h0M1329.1 1105.9h0M1329.7 1105.4h0M1330.3 1105.3h0M1331 1104.9h0M1331.6 1104.3h0M1332.2 1105.7h0M1332.8 1106.3h0M1333.5 1103.7h0M1334.1 1103.3h0M1334.7 1104.6h0M1335.4 1104.4h0M1336 1104.4h0M1336.6 1106.3h0M1337.3 1106.3h0M1337.9 1105h0M1338.5 1106.8h0M1339.1 1105h0M1339.8 1106.2h0M1340.4 1107.7h0M1341 1105.7h0M1341.7 1108h0M1342.3 1106.3h0M1342.9 1106.3h0M1343.6 1106.7h0M1344.2 1107.9h0M1344.8 1107.8h0M1345.4 1108h0M1346.1 1109.4h0M1346.7 1107.7h0M1347.3 1108.3h0M1348 1109h0M1348.6 1106.4h0M1349.2 1108.1h0M1349.8 1107.4h0M1350.5 1109.2h0M1351.1 1107.7h0M1351.7 1108.1h0M1352.4 1109h0M1353 1108.9h0M1353.6 1108.5h0M1354.3 1109.6h0M1354.9 1107.7h0M1355.5 1107.1h0M1356.1 1107.7h0M1356.8 1106.7h0M1357.4 1106.4h0M1358 1107h0M1358.7 1105.9h0M1359.3 1106.1h0M1359.9 1106.5h0M1360.6 1106h0M1361.2 1105.5h0M1361.8 1106.8h0M1362.4 1105.8h0M1363.1 1103.7h0M1363.7 1106.1h0M1364.3 1105.4h0M1365 1106.5h0M1365.6 1105.7h0M1366.2 1105.9h0M1366.9 1105.3h0M1367.5 1105.8h0M1368.1 1106.9h0M1368.7 1105.3h0M1369.4 1106h0M1370 1106.2h0M1370.6 1106.9h0M1371.3 1106.3h0M1371.9 1106.4h0M1372.5 1106.3h0M1373.2 1105.1h0M1373.8 1105.4h0" stroke="#45a0a9" stroke-width="5" stroke-linecap="round" fill="none"/>
<path d="M1086 983.3V1233.6M1084.9 1232.5H1375.4M1086 1232.5v10M1131.3 1232.5v10M1176.7 1232.5v10M1222 1232.5v10M1267.4 1232.5v10M1312.8 1232.5v10M1358.1 1232.5v10M1086 1025.5h-8.5M1086 1108.3h-8.5M1086 1191.1h-8.5" fill="none" stroke="#000" stroke-width="2.2"/>
<text x="1086" y="1257.5" text-anchor="middle" class="b" font-size="14.2">24</text>
<text x="1131.3" y="1257.5" text-anchor="middle" class="b" font-size="14.2">36</text>
<text x="1176.7" y="1257.5" text-anchor="middle" class="b" font-size="14.2">48</text>
<text x="1222" y="1257.5" text-anchor="middle" class="b" font-size="14.2">60</text>
<text x="1267.4" y="1257.5" text-anchor="middle" class="b" font-size="14.2">72</text>
<text x="1312.8" y="1257.5" text-anchor="middle" class="b" font-size="14.2">84</text>
<text x="1358.1" y="1257.5" text-anchor="middle" class="b" font-size="14.2">96</text>
<text x="1075.5" y="1030.6" text-anchor="end" class="b" font-size="14.2">1.2</text>
<text x="1075.5" y="1113.4" text-anchor="end" class="b" font-size="14.2">1.0</text>
<text x="1075.5" y="1196.2" text-anchor="end" class="b" font-size="14.2">0.8</text>
<text x="1229.5" y="1281.6" text-anchor="middle" class="b" font-size="17.9">Time [h]</text>
<text transform="translate(1047 1108.3) rotate(-90)" text-anchor="middle" font-size="16.15"><tspan class="b i">BMAL1</tspan><tspan class="b"> relative bioluminescence</tspan></text>
<text transform="translate(1008 1097) rotate(-90)" text-anchor="middle" font-size="24.4"><tspan>T98G </tspan><tspan class="i">PER2</tspan><tspan> KO</tspan></text>
<rect x="1719" y="1026" width="158.4" height="204.6" fill="#e2e2e2"/>
<rect x="1718.8" y="1094" width="23" height="23.1" fill="#c0c0dc"/>
<rect x="1831.9" y="1094" width="23" height="23.1" fill="#a5a5d8"/>
<rect x="1718.8" y="1116.7" width="23" height="23.1" fill="#b85090"/>
<rect x="1831.9" y="1116.7" width="23" height="23.1" fill="#b84888"/>
<rect x="1718.8" y="1139.5" width="23" height="23.1" fill="#aa2068"/>
<rect x="1831.9" y="1139.5" width="23" height="23.1" fill="#b03078"/>
<rect x="1718.8" y="1162.2" width="23" height="23.1" fill="#b03478"/>
<rect x="1764.1" y="1162.2" width="23" height="23.1" fill="#aa2068"/>
<rect x="1831.9" y="1162.2" width="23" height="23.1" fill="#a61c60"/>
<rect x="1854.6" y="1162.2" width="23" height="23.1" fill="#cfa8c4"/>
<rect x="1718.8" y="1184.9" width="23" height="23.1" fill="#bc5c98"/>
<rect x="1764.1" y="1184.9" width="23" height="23.1" fill="#bc5c98"/>
<rect x="1831.9" y="1184.9" width="23" height="23.1" fill="#b03478"/>
<rect x="1854.6" y="1184.9" width="23" height="23.1" fill="#c890b4"/>
<rect x="1718.8" y="1207.7" width="23" height="23.1" fill="#a61c5c"/>
<rect x="1764.1" y="1207.7" width="23" height="23.1" fill="#ac2870"/>
<rect x="1831.9" y="1207.7" width="23" height="23.1" fill="#bc5c98"/>
<rect x="1854.6" y="1207.7" width="23" height="23.1" fill="#aa2068"/>
<path d="M1719 1026l22.6 22.7M1741.6 1026l-22.6 22.7M1741.6 1026l22.6 22.7M1764.3 1026l-22.6 22.7M1764.3 1026l22.6 22.7M1786.9 1026l-22.6 22.7M1786.9 1026l22.6 22.7M1809.5 1026l-22.6 22.7M1809.5 1026l22.6 22.7M1832.1 1026l-22.6 22.7M1832.1 1026l22.6 22.7M1854.8 1026l-22.6 22.7M1854.8 1026l22.6 22.7M1877.4 1026l-22.6 22.7M1719 1048.7l22.6 22.7M1741.6 1048.7l-22.6 22.7M1741.6 1048.7l22.6 22.7M1764.3 1048.7l-22.6 22.7M1764.3 1048.7l22.6 22.7M1786.9 1048.7l-22.6 22.7M1786.9 1048.7l22.6 22.7M1809.5 1048.7l-22.6 22.7M1809.5 1048.7l22.6 22.7M1832.1 1048.7l-22.6 22.7M1832.1 1048.7l22.6 22.7M1854.8 1048.7l-22.6 22.7M1854.8 1048.7l22.6 22.7M1877.4 1048.7l-22.6 22.7M1719 1071.5l22.6 22.7M1741.6 1071.5l-22.6 22.7M1741.6 1071.5l22.6 22.7M1764.3 1071.5l-22.6 22.7M1764.3 1071.5l22.6 22.7M1786.9 1071.5l-22.6 22.7M1786.9 1071.5l22.6 22.7M1809.5 1071.5l-22.6 22.7M1809.5 1071.5l22.6 22.7M1832.1 1071.5l-22.6 22.7M1832.1 1071.5l22.6 22.7M1854.8 1071.5l-22.6 22.7M1854.8 1071.5l22.6 22.7M1877.4 1071.5l-22.6 22.7M1741.6 1094.2l22.6 22.7M1764.3 1094.2l-22.6 22.7M1764.3 1094.2l22.6 22.7M1786.9 1094.2l-22.6 22.7M1786.9 1094.2l22.6 22.7M1809.5 1094.2l-22.6 22.7M1809.5 1094.2l22.6 22.7M1832.1 1094.2l-22.6 22.7M1854.8 1094.2l22.6 22.7M1877.4 1094.2l-22.6 22.7M1741.6 1116.9l22.6 22.7M1764.3 1116.9l-22.6 22.7M1764.3 1116.9l22.6 22.7M1786.9 1116.9l-22.6 22.7M1786.9 1116.9l22.6 22.7M1809.5 1116.9l-22.6 22.7M1809.5 1116.9l22.6 22.7M1832.1 1116.9l-22.6 22.7M1854.8 1116.9l22.6 22.7M1877.4 1116.9l-22.6 22.7M1741.6 1139.7l22.6 22.7M1764.3 1139.7l-22.6 22.7M1764.3 1139.7l22.6 22.7M1786.9 1139.7l-22.6 22.7M1786.9 1139.7l22.6 22.7M1809.5 1139.7l-22.6 22.7M1809.5 1139.7l22.6 22.7M1832.1 1139.7l-22.6 22.7M1854.8 1139.7l22.6 22.7M1877.4 1139.7l-22.6 22.7M1741.6 1162.4l22.6 22.7M1764.3 1162.4l-22.6 22.7M1786.9 1162.4l22.6 22.7M1809.5 1162.4l-22.6 22.7M1809.5 1162.4l22.6 22.7M1832.1 1162.4l-22.6 22.7M1741.6 1185.1l22.6 22.7M1764.3 1185.1l-22.6 22.7M1786.9 1185.1l22.6 22.7M1809.5 1185.1l-22.6 22.7M1809.5 1185.1l22.6 22.7M1832.1 1185.1l-22.6 22.7M1741.6 1207.9l22.6 22.7M1764.3 1207.9l-22.6 22.7M1786.9 1207.9l22.6 22.7M1809.5 1207.9l-22.6 22.7M1809.5 1207.9l22.6 22.7M1832.1 1207.9l-22.6 22.7" fill="none" stroke="#000" stroke-width="1.3"/>
<rect x="1719" y="1026" width="158.4" height="204.6" fill="none" stroke="#000" stroke-width="3.2"/>
<path d="M1420.6 1012.6H1894V1232.9H1420.6ZM1420.6 1094.4H1894M1420.6 1163.2H1894" fill="none" stroke="#000" stroke-width="4.3"/>
<text x="1703" y="1043.6" text-anchor="end" class="b" font-size="19.8">amplitude</text>
<text x="1703" y="1066.3" text-anchor="end" class="b" font-size="19.8">period</text>
<text x="1703" y="1089" text-anchor="end" class="b" font-size="19.8">phase</text>
<text x="1698.5" y="1111.8" text-anchor="end" class="b" font-size="19.8">amplitude</text>
<text x="1698.5" y="1134.5" text-anchor="end" class="b" font-size="19.8">period</text>
<text x="1703" y="1157.2" text-anchor="end" class="b" font-size="19.8">phase</text>
<text x="1703" y="1180" text-anchor="end" class="b" font-size="19.8">amplitude</text>
<text x="1703" y="1202.7" text-anchor="end" class="b" font-size="19.8">period</text>
<text x="1703" y="1225.4" text-anchor="end" class="b" font-size="19.8">phase</text>
<path d="M1719 1037.4h-11.5M1719 1060.1h-11.5M1719 1082.8h-11.5M1719 1105.6h-11.5M1719 1128.3h-11.5M1719 1151h-11.5M1719 1173.8h-11.5M1719 1196.5h-11.5M1719 1219.2h-11.5M1730.3 1232.9v11M1752.9 1232.9v11M1775.6 1232.9v11M1798.2 1232.9v11M1820.8 1232.9v11M1843.5 1232.9v11M1866.1 1232.9v11" fill="none" stroke="#000" stroke-width="3.8"/>
<text transform="translate(1732.7 1265.6) rotate(-45)" text-anchor="end" class="b" font-size="19.6">TMZ</text>
<text transform="translate(1754 1265.6) rotate(-45)" text-anchor="end" class="b" font-size="19.6">TMZ+KL001</text>
<text transform="translate(1779.9 1263) rotate(-45)" text-anchor="end" class="b" font-size="19.6">TMZ+SR9011</text>
<text transform="translate(1802.5 1263) rotate(-45)" text-anchor="end" class="b" font-size="19.6">TMZ+KL001+SR9011</text>
<text transform="translate(1816.7 1270.8) rotate(-45)" text-anchor="end" class="b" font-size="19.6">KL001</text>
<text transform="translate(1843.9 1265.6) rotate(-45)" text-anchor="end" class="b" font-size="19.6">SR9011</text>
<text transform="translate(1871.1 1261.7) rotate(-45)" text-anchor="end" class="b" font-size="19.6">KL001+SR9011</text>
<text x="1515" y="1068.5" text-anchor="middle" font-size="22.1"><tspan class="b">T98G </tspan><tspan class="b i">BMAL1</tspan><tspan class="b"> KO</tspan></text>
<text x="1515" y="1135.3" text-anchor="middle" font-size="22.1"><tspan class="b">T98G </tspan><tspan class="b i">NR1D1</tspan><tspan class="b"> KO</tspan></text>
<text x="1515" y="1200.5" text-anchor="middle" font-size="22.1"><tspan class="b">T98G </tspan><tspan class="b i">PER2</tspan><tspan class="b"> KO</tspan></text>
<rect x="1911.4" y="1025.9" width="32.2" height="204.4" fill="url(#g4)" stroke="#000" stroke-width="3"/>
<path d="M1911.4 1032.6h6M1943.6 1032.6h-6M1911.4 1051.9h6M1943.6 1051.9h-6M1911.4 1071.1h6M1943.6 1071.1h-6M1911.4 1090.4h6M1943.6 1090.4h-6M1911.4 1109.6h6M1943.6 1109.6h-6M1911.4 1128.9h6M1943.6 1128.9h-6M1911.4 1148.2h6M1943.6 1148.2h-6M1911.4 1167.4h6M1943.6 1167.4h-6M1911.4 1186.7h6M1943.6 1186.7h-6M1911.4 1205.9h6M1943.6 1205.9h-6M1911.4 1225.2h6M1943.6 1225.2h-6" fill="none" stroke="#000" stroke-width="2.2"/>
<text x="1954.1" y="1042.1" font-size="22">5.5</text>
<text x="1954.1" y="1061.3" font-size="22">5.0</text>
<text x="1954.1" y="1080.6" font-size="22">4.5</text>
<text x="1954.1" y="1099.9" font-size="22">4.0</text>
<text x="1954.1" y="1119.1" font-size="22">3.5</text>
<text x="1954.1" y="1138.4" font-size="22">3.0</text>
<text x="1954.1" y="1157.6" font-size="22">2.5</text>
<text x="1954.1" y="1176.9" font-size="22">2.0</text>
<text x="1954.1" y="1196.2" font-size="22">1.5</text>
<text x="1954.1" y="1215.4" font-size="22">1.0</text>
<text x="1954.1" y="1234.7" font-size="22">0.5</text>
<!-- panel f -->
<text x="41" y="1328.5" class="b" font-size="23.5">f</text>
<path d="M53.5 1370.5Q71.1 1368.7 77.7 1353.5Q75.7 1371 84 1386Q73.7 1376.8 64 1392Q69.1 1374.4 53.5 1370.5Z" fill="#ba9cd4" stroke="#9c72c2" stroke-width="0.8" stroke-linejoin="round"/>
<ellipse cx="73.5" cy="1371.5" rx="3" ry="2.6" fill="#a57fc6"/>
<path d="M31 1371Q40.9 1380.4 50 1373Q44 1384 52 1395Q41.8 1388.5 35.5 1403Q38.7 1384.9 31 1371Z" fill="#9559b4" stroke="#7c42a4" stroke-width="0.8" stroke-linejoin="round"/>
<ellipse cx="41" cy="1384" rx="3" ry="2.6" fill="#7f42a6"/>
<path d="M29.4 1384.6Q28.2 1398.5 37.5 1396Q28.4 1404 30.4 1421.4Q23.6 1405.2 5.8 1404Q23.5 1399.7 29.4 1384.6Z" fill="#ba9cd4" stroke="#9c72c2" stroke-width="0.8" stroke-linejoin="round"/>
<ellipse cx="26" cy="1402" rx="3" ry="2.6" fill="#a57fc6"/>
<path d="M73.5 1412.4Q89.1 1411.8 96 1403Q94.2 1412.9 107.6 1419.8Q95.4 1416.5 104 1427.2Q90.3 1415.4 73.5 1412.4Z" fill="#ba9cd4" stroke="#9c72c2" stroke-width="0.8" stroke-linejoin="round"/>
<ellipse cx="91" cy="1413.5" rx="3" ry="2.6" fill="#a57fc6"/>
<path d="M57 1402Q54.8 1414.2 68.5 1420Q51.8 1418.2 37 1428.8Q46.6 1418 34 1418.5Q49.6 1414 57 1402Z" fill="#9559b4" stroke="#7c42a4" stroke-width="0.8" stroke-linejoin="round"/>
<ellipse cx="51.4" cy="1415.6" rx="3" ry="2.6" fill="#7f42a6"/>
<path d="M74.5 1415.6Q68.8 1429.3 80.8 1444.5Q65.3 1432.9 51.4 1439.7Q60.3 1430.9 47 1431Q63.7 1427.3 74.5 1415.6Z" fill="#ba9cd4" stroke="#9c72c2" stroke-width="0.8" stroke-linejoin="round"/>
<ellipse cx="65" cy="1429" rx="3" ry="2.6" fill="#a57fc6"/>
<path d="M75.6 1422Q87 1428.5 83 1416.6Q92.2 1429.4 110 1428Q93.4 1434.7 91.3 1451.8Q88.2 1433.8 75.6 1422Z" fill="#9559b4" stroke="#7c42a4" stroke-width="0.8" stroke-linejoin="round"/>
<ellipse cx="90.3" cy="1432.4" rx="3" ry="2.6" fill="#7f42a6"/>
<clipPath id="cf1"><rect x="154" y="1418" width="437.3" height="300.5"/></clipPath>
<g fill="#945484" clip-path="url(#cf1)"><circle cx="237.5" cy="1460.4" r="5.6"/><circle cx="285.2" cy="1718.5" r="5.6"/><circle cx="344.8" cy="1718.5" r="5.6"/><circle cx="356.7" cy="1623.1" r="5.6"/><circle cx="414.4" cy="1645.6" r="5.6"/><circle cx="430.3" cy="1561.4" r="5.6"/><circle cx="468" cy="1718.5" r="5.6"/></g>
<line x1="237.5" y1="1578.2" x2="468" y2="1683.7" stroke="#7c3a6a" stroke-width="1.5"/>
<path d="M153.6 1437.5V1720.5M152.1 1719H553.5M154 1719v13M233.5 1719v13M313 1719v13M392.5 1719v13M472 1719v13M551.5 1719v13M153.6 1718.5h-12.3M153.6 1662.4h-12.3M153.6 1606.3h-12.3M153.6 1550.2h-12.3M153.6 1494.1h-12.3M153.6 1438h-12.3" fill="none" stroke="#000" stroke-width="3"/>
<text x="154" y="1755" text-anchor="middle" class="b" font-size="20">0.0</text>
<text x="233.5" y="1755" text-anchor="middle" class="b" font-size="20">0.2</text>
<text x="313" y="1755" text-anchor="middle" class="b" font-size="20">0.4</text>
<text x="392.5" y="1755" text-anchor="middle" class="b" font-size="20">0.6</text>
<text x="472" y="1755" text-anchor="middle" class="b" font-size="20">0.8</text>
<text x="551.5" y="1755" text-anchor="middle" class="b" font-size="20">1.0</text>
<text x="138.1" y="1725.6" text-anchor="end" class="b" font-size="19.8">0.0</text>
<text x="138.1" y="1669.5" text-anchor="end" class="b" font-size="19.8">0.5</text>
<text x="138.1" y="1613.4" text-anchor="end" class="b" font-size="19.8">1.0</text>
<text x="138.1" y="1557.3" text-anchor="end" class="b" font-size="19.8">1.5</text>
<text x="138.1" y="1501.2" text-anchor="end" class="b" font-size="19.8">2.0</text>
<text x="138.1" y="1445.1" text-anchor="end" class="b" font-size="19.8">2.5</text>
<text x="353" y="1786.7" text-anchor="middle" class="b" font-size="22.1">mean treatment effect</text>
<text transform="translate(98.5 1578.8) rotate(-90)" text-anchor="middle" class="b" font-size="23.4">normalized amplitude</text>
<text x="429.6" y="1458" class="i" font-size="22.2">p=0.39</text>
<rect x="41" y="1379" width="156.6" height="29.4" fill="#fff" stroke="#8a5cc0" stroke-width="1.2"/>
<text x="118.8" y="1400.3" text-anchor="middle" font-size="17.7"><tspan class="b">T98G </tspan><tspan class="b i">BMAL1</tspan><tspan class="b"> KO</tspan></text>
<text x="236.4" y="1410.4" fill="#8e4f80" class="i" font-size="24.4">BMAL1</text>
<path d="M740.5 1370Q758.1 1368.2 764.7 1353Q762.7 1370.5 771 1385.5Q760.6 1376.2 751 1391.5Q756.1 1373.9 740.5 1370Z" fill="#ba9cd4" stroke="#9c72c2" stroke-width="0.8" stroke-linejoin="round"/>
<ellipse cx="760.5" cy="1371" rx="3" ry="2.6" fill="#a57fc6"/>
<path d="M718 1370.5Q727.9 1379.9 737 1372.5Q731 1383.5 739 1394.5Q728.8 1388 722.5 1402.5Q725.7 1384.4 718 1370.5Z" fill="#9559b4" stroke="#7c42a4" stroke-width="0.8" stroke-linejoin="round"/>
<ellipse cx="728" cy="1383.5" rx="3" ry="2.6" fill="#7f42a6"/>
<path d="M716.4 1384.1Q715.2 1398 724.5 1395.5Q715.4 1403.5 717.4 1420.9Q710.6 1404.7 692.8 1403.5Q710.5 1399.2 716.4 1384.1Z" fill="#ba9cd4" stroke="#9c72c2" stroke-width="0.8" stroke-linejoin="round"/>
<ellipse cx="713" cy="1401.5" rx="3" ry="2.6" fill="#a57fc6"/>
<path d="M760.5 1411.9Q776.1 1411.3 783 1402.5Q781.2 1412.4 794.6 1419.3Q782.4 1416 791 1426.7Q777.3 1414.9 760.5 1411.9Z" fill="#ba9cd4" stroke="#9c72c2" stroke-width="0.8" stroke-linejoin="round"/>
<ellipse cx="778" cy="1413" rx="3" ry="2.6" fill="#a57fc6"/>
<path d="M744 1401.5Q741.8 1413.7 755.5 1419.5Q738.8 1417.7 724 1428.3Q733.6 1417.5 721 1418Q736.6 1413.5 744 1401.5Z" fill="#9559b4" stroke="#7c42a4" stroke-width="0.8" stroke-linejoin="round"/>
<ellipse cx="738.4" cy="1415.1" rx="3" ry="2.6" fill="#7f42a6"/>
<path d="M761.5 1415.1Q755.8 1428.8 767.8 1444Q752.3 1432.4 738.4 1439.2Q747.3 1430.4 734 1430.5Q750.7 1426.8 761.5 1415.1Z" fill="#ba9cd4" stroke="#9c72c2" stroke-width="0.8" stroke-linejoin="round"/>
<ellipse cx="752" cy="1428.5" rx="3" ry="2.6" fill="#a57fc6"/>
<path d="M762.6 1421.5Q774 1428 770 1416.1Q779.2 1428.9 797 1427.5Q780.4 1434.2 778.3 1451.3Q775.2 1433.2 762.6 1421.5Z" fill="#9559b4" stroke="#7c42a4" stroke-width="0.8" stroke-linejoin="round"/>
<ellipse cx="777.3" cy="1431.9" rx="3" ry="2.6" fill="#7f42a6"/>
<clipPath id="cf2"><rect x="835" y="1417" width="464.8" height="301.5"/></clipPath>
<g fill="#945484" clip-path="url(#cf2)"><circle cx="917.4" cy="1515.8" r="5.6"/><circle cx="961.8" cy="1605.9" r="5.6"/><circle cx="1039.9" cy="1718.5" r="5.6"/><circle cx="1097" cy="1459.5" r="5.6"/><circle cx="1142.6" cy="1718.5" r="5.6"/><circle cx="1154" cy="1718.5" r="5.6"/><circle cx="1195" cy="1718.5" r="5.6"/></g>
<line x1="917.4" y1="1546.8" x2="1195" y2="1707.2" stroke="#7c3a6a" stroke-width="1.5"/>
<path d="M834.6 1436.5V1720.5M833.1 1719H1259.5M835 1719v13M919.5 1719v13M1004 1719v13M1088.5 1719v13M1173 1719v13M1257.5 1719v13M834.6 1718.5h-12.3M834.6 1662.2h-12.3M834.6 1605.9h-12.3M834.6 1549.6h-12.3M834.6 1493.3h-12.3M834.6 1437h-12.3" fill="none" stroke="#000" stroke-width="3"/>
<text x="835" y="1755" text-anchor="middle" class="b" font-size="20">0.0</text>
<text x="919.5" y="1755" text-anchor="middle" class="b" font-size="20">0.2</text>
<text x="1004" y="1755" text-anchor="middle" class="b" font-size="20">0.4</text>
<text x="1088.5" y="1755" text-anchor="middle" class="b" font-size="20">0.6</text>
<text x="1173" y="1755" text-anchor="middle" class="b" font-size="20">0.8</text>
<text x="1257.5" y="1755" text-anchor="middle" class="b" font-size="20">1.0</text>
<text x="819.1" y="1725.6" text-anchor="end" class="b" font-size="19.8">0</text>
<text x="819.1" y="1669.3" text-anchor="end" class="b" font-size="19.8">1</text>
<text x="819.1" y="1613" text-anchor="end" class="b" font-size="19.8">2</text>
<text x="819.1" y="1556.7" text-anchor="end" class="b" font-size="19.8">3</text>
<text x="819.1" y="1500.4" text-anchor="end" class="b" font-size="19.8">4</text>
<text x="819.1" y="1444.1" text-anchor="end" class="b" font-size="19.8">5</text>
<text x="1046.6" y="1786.7" text-anchor="middle" class="b" font-size="22.1">mean treatment effect</text>
<text transform="translate(794.5 1578.2) rotate(-90)" text-anchor="middle" class="b" font-size="23.4">normalized amplitude</text>
<text x="1127.6" y="1457.5" class="i" font-size="22.2">p=0.21</text>
<rect x="728.5" y="1378.3" width="155.6" height="29.4" fill="#fff" stroke="#8a5cc0" stroke-width="1.2"/>
<text x="805.8" y="1399.6" text-anchor="middle" font-size="17.7"><tspan class="b">T98G </tspan><tspan class="b i">NR1D1</tspan><tspan class="b"> KO</tspan></text>
<path d="M1385.5 1363.5Q1403.1 1361.7 1409.7 1346.5Q1407.7 1364 1416 1379Q1405.7 1369.8 1396 1385Q1401.1 1367.4 1385.5 1363.5Z" fill="#ba9cd4" stroke="#9c72c2" stroke-width="0.8" stroke-linejoin="round"/>
<ellipse cx="1405.5" cy="1364.5" rx="3" ry="2.6" fill="#a57fc6"/>
<path d="M1363 1364Q1372.8 1373.4 1382 1366Q1376 1377 1384 1388Q1373.8 1381.5 1367.5 1396Q1370.7 1377.9 1363 1364Z" fill="#9559b4" stroke="#7c42a4" stroke-width="0.8" stroke-linejoin="round"/>
<ellipse cx="1373" cy="1377" rx="3" ry="2.6" fill="#7f42a6"/>
<path d="M1361.4 1377.6Q1360.2 1391.5 1369.5 1389Q1360.4 1397 1362.4 1414.4Q1355.6 1398.2 1337.8 1397Q1355.5 1392.7 1361.4 1377.6Z" fill="#ba9cd4" stroke="#9c72c2" stroke-width="0.8" stroke-linejoin="round"/>
<ellipse cx="1358" cy="1395" rx="3" ry="2.6" fill="#a57fc6"/>
<path d="M1405.5 1405.4Q1421.1 1404.8 1428 1396Q1426.2 1405.9 1439.6 1412.8Q1427.4 1409.5 1436 1420.2Q1422.3 1408.4 1405.5 1405.4Z" fill="#ba9cd4" stroke="#9c72c2" stroke-width="0.8" stroke-linejoin="round"/>
<ellipse cx="1423" cy="1406.5" rx="3" ry="2.6" fill="#a57fc6"/>
<path d="M1389 1395Q1386.8 1407.2 1400.5 1413Q1383.8 1411.2 1369 1421.8Q1378.6 1411 1366 1411.5Q1381.6 1407 1389 1395Z" fill="#9559b4" stroke="#7c42a4" stroke-width="0.8" stroke-linejoin="round"/>
<ellipse cx="1383.4" cy="1408.6" rx="3" ry="2.6" fill="#7f42a6"/>
<path d="M1406.5 1408.6Q1400.8 1422.3 1412.8 1437.5Q1397.3 1425.9 1383.4 1432.7Q1392.3 1423.9 1379 1424Q1395.7 1420.3 1406.5 1408.6Z" fill="#ba9cd4" stroke="#9c72c2" stroke-width="0.8" stroke-linejoin="round"/>
<ellipse cx="1397" cy="1422" rx="3" ry="2.6" fill="#a57fc6"/>
<path d="M1407.6 1415Q1419 1421.5 1415 1409.6Q1424.2 1422.4 1442 1421Q1425.4 1427.7 1423.3 1444.8Q1420.2 1426.8 1407.6 1415Z" fill="#9559b4" stroke="#7c42a4" stroke-width="0.8" stroke-linejoin="round"/>
<ellipse cx="1422.3" cy="1425.4" rx="3" ry="2.6" fill="#7f42a6"/>
<clipPath id="cf3"><rect x="1518.6" y="1406.8" width="464.9" height="301.2"/></clipPath>
<g fill="#945484" clip-path="url(#cf3)"><circle cx="1607.3" cy="1708" r="5.6"/><circle cx="1658.1" cy="1602.2" r="5.6"/><circle cx="1722.7" cy="1616.9" r="5.6"/><circle cx="1735.4" cy="1658.5" r="5.6"/><circle cx="1795.4" cy="1637.1" r="5.6"/><circle cx="1812.3" cy="1489.8" r="5.6"/><circle cx="1852.5" cy="1708" r="5.6"/></g>
<line x1="1607.3" y1="1657.9" x2="1852.5" y2="1609.6" stroke="#7c3a6a" stroke-width="1.5"/>
<path d="M1518.2 1426.3V1710M1516.7 1708.5H1943.2M1518.6 1708.5v13M1603.1 1708.5v13M1687.6 1708.5v13M1772.2 1708.5v13M1856.7 1708.5v13M1941.2 1708.5v13M1518.2 1708h-12.3M1518.2 1651.8h-12.3M1518.2 1595.5h-12.3M1518.2 1539.2h-12.3M1518.2 1483h-12.3M1518.2 1426.8h-12.3" fill="none" stroke="#000" stroke-width="3"/>
<text x="1518.6" y="1744.5" text-anchor="middle" class="b" font-size="20">0.0</text>
<text x="1603.1" y="1744.5" text-anchor="middle" class="b" font-size="20">0.2</text>
<text x="1687.6" y="1744.5" text-anchor="middle" class="b" font-size="20">0.4</text>
<text x="1772.2" y="1744.5" text-anchor="middle" class="b" font-size="20">0.6</text>
<text x="1856.7" y="1744.5" text-anchor="middle" class="b" font-size="20">0.8</text>
<text x="1941.2" y="1744.5" text-anchor="middle" class="b" font-size="20">1.0</text>
<text x="1502.7" y="1715.1" text-anchor="end" class="b" font-size="19.8">0.0</text>
<text x="1502.7" y="1658.8" text-anchor="end" class="b" font-size="19.8">0.5</text>
<text x="1502.7" y="1602.6" text-anchor="end" class="b" font-size="19.8">1.0</text>
<text x="1502.7" y="1546.3" text-anchor="end" class="b" font-size="19.8">1.5</text>
<text x="1502.7" y="1490.1" text-anchor="end" class="b" font-size="19.8">2.0</text>
<text x="1502.7" y="1433.8" text-anchor="end" class="b" font-size="19.8">2.5</text>
<text x="1729.7" y="1776" text-anchor="middle" class="b" font-size="22.1">mean treatment effect</text>
<text transform="translate(1460 1567.9) rotate(-90)" text-anchor="middle" class="b" font-size="23.4">normalized amplitude</text>
<text x="1824" y="1448" class="i" font-size="22.2">p=0.62</text>
<rect x="1375.5" y="1372" width="152.6" height="31" fill="#fff" stroke="#8a5cc0" stroke-width="1.2"/>
<text x="1451.3" y="1394.1" text-anchor="middle" font-size="17.7"><tspan class="b">T98G </tspan><tspan class="b i">PER2</tspan><tspan class="b"> KO</tspan></text>
</svg>
</body></html>
